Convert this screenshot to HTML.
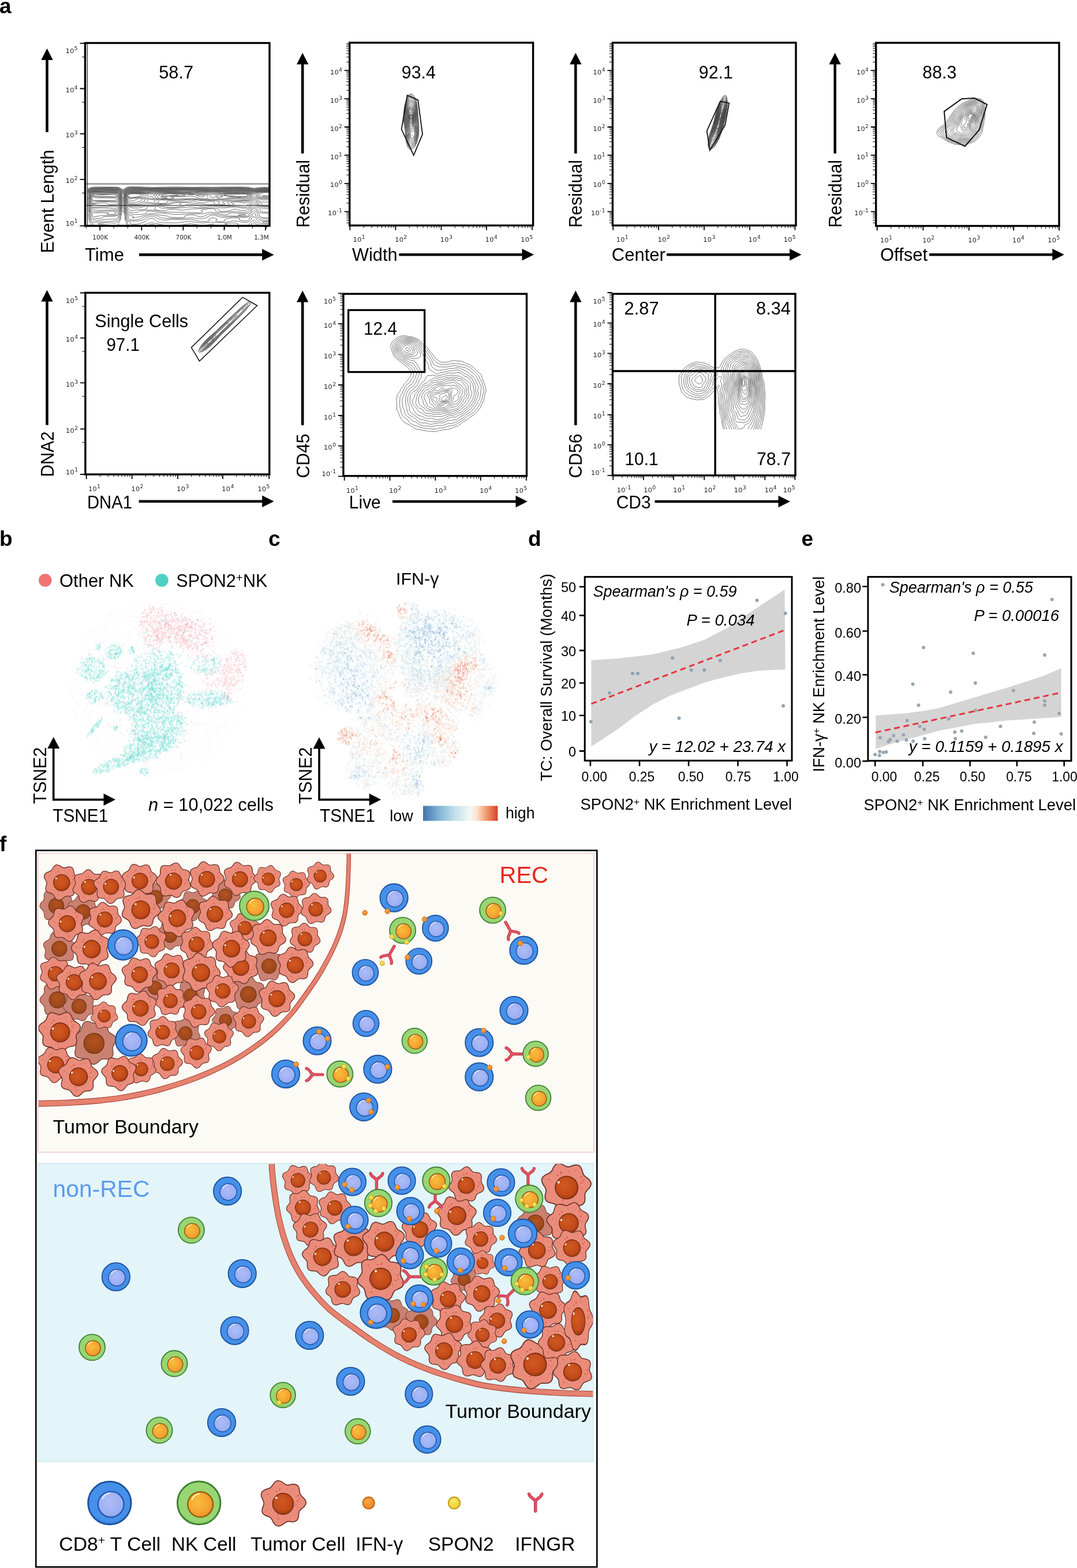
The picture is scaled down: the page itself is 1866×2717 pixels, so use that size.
<!DOCTYPE html>
<html lang="en"><head><meta charset="utf-8"><title>Figure</title>
<style>
html,body{margin:0;padding:0;background:#fff;}
body{width:1866px;height:2717px;overflow:hidden;font-family:"Liberation Sans",sans-serif;}
svg{display:block;}
</style></head><body>
<svg width="1866" height="2717" viewBox="0 0 1866 2717">
<rect width="1866" height="2717" fill="#fff"/>
<g font-family="'Liberation Sans', sans-serif">
<text x="-1" y="22.5" font-size="37" font-weight="bold">a</text>
<path d="M152 327.4L158.8 324.6L165.5 324L203 324.2L207.5 325.3L212.8 329.2L214.2 328.8L217.3 326L219.5 324.7L222.5 324L227 323.7L244.2 323.9L263 324.9L299 324L314 324.1L332.8 324.6L351.5 324.2L368.8 324.5L383 324.1L419 324L428.8 324.4L440 326.2L452 324.8L466.2 324.6M220.2 390.5L218.9 388L218.9 385L217.2 382L216.3 379L216.4 374.5L214.9 368.5L213.5 365.1L212.8 364.7L211.2 367.5L210.7 371.5L209.4 374.5L209.3 379L208 382.5L205.8 385.5L206 388L204.5 390.5M156.2 390.5L157.2 387.5L155.2 384.5L154.2 380.8L152 377.5M444.8 390.5L443.8 387.8L441.5 386.3L440 385.9L438.5 386.1L436.4 387.5L435.2 390.5M269.4 390.5L266.8 389.2L263 388.7L260 389.1L257.1 390.5M152 328.3L157.2 325.9L160.2 325.1L178.2 324.7L198.5 324.6L203.8 325L207 326L212.8 330.2L214.2 329.8L219.6 325.5L222.5 324.7L227 324.3L244.2 324.6L262.2 325.6L301.2 324.8L332 325.3L353.8 325L368 325.4L384.5 324.9L419 324.7L428.8 325.1L440 327.1L451.2 325.6L466.2 325.3M223.7 390.5L221.2 388.5L220.9 385L218.8 382.5L217.9 380.5L217.3 378L217.6 374.5L216.4 371.5L213.9 359.5L213.5 358.5L212.8 358.4L210 368L209.6 371.5L208.2 374.5L208.1 378.5L206.6 382L205.2 383.5L199.2 386.8L192.5 386.1L183.1 386L174.9 386.5L169.7 387.5L170.7 388L184.6 389.5L188.2 390.5M158.4 390.5L159.1 389.5L161.4 388L161.2 387.5L158 385.7L156.7 384L155.9 381L153 374.5L153 370.5L152 369M449.6 390.5L448.5 388.5L445.2 386L442.7 383L441.5 382.2L440 381.9L437.8 382.8L432.6 387L430.7 390.5M283.6 390.5L281.3 389.5L277 388.5L266 386.4L262.2 386L259.2 386.3L255.5 387.1L247.7 390.5M412.8 390.5L412.1 389.5L412.1 387.5L408.5 386.4L399.5 386.3L389.3 387.5L389.3 388L394.3 389.5L395.5 390.5M344.9 390.5L335 388.1L329.8 387.6L321.9 388.5L313.5 390.5M371.1 390.5L369.8 389L369.9 388L368.8 387.9L357.4 390.5M152 329.5L157.2 326.7L161 325.9L182.8 325.3L198.5 325.3L203.8 325.8L207.5 327.3L212.8 331.5L213.5 331.5L220.2 326.2L223.2 325.3L227 325.1L242 325.4L262.2 326.4L306.5 325.6L331.2 326L352.2 325.7L368 326.3L385.2 325.6L419 325.4L428.8 325.9L440 328L451.2 326.3L466.2 326.1M466.2 388L455.8 387.6L452.8 387.2L449.8 386.2L448.3 385L447.3 383L444.5 380L442.9 377L441.5 376L440 375.6L438.5 375.8L436.2 377L435.6 378L435.5 380.5L433.2 382.9L429.5 384.8L425.8 385.5L422 385.3L411.5 383.3L405.5 382.8L401.8 383.1L393.3 385L383.8 385.8L366.5 384.9L353.8 386.1L349.2 386.2L343.2 385.7L332 383.8L327.5 383.6L321.5 384L307.2 386.3L282.4 386L277.3 385.5L273.7 384.5L271 383L267.3 379.5L264.5 378.4L262.2 378L260 378.3L257.8 379.2L255.6 380.5L251.8 384.1L242.8 387.5L236 388.6L227.9 388.5L225.5 387.6L226 385.5L221 382.6L219.5 380.5L218.7 378L219.1 374.5L217.7 371.5L216.2 366L215 358.5L213.5 355.4L212.8 355.2L211.1 358.5L208.7 368.5L208.4 371.5L206.5 374.5L206.5 378L204.5 380.9L203 382.2L199.2 383.1L162.5 385.1L161 384.9L159.3 384L156.3 378.5L154.8 374.5L154.7 370L152.8 364.1L152 363.2M152 330.4L157 327.5L160.2 326.6L182.8 325.9L198.5 326L203.8 326.5L206 327.3L208.8 329L212.8 333L213.5 332.8L216.5 329.6L220.2 327.1L223.2 326.1L227 325.8L244.2 326.1L261.5 326.9L279.5 326.4L307.2 326.2L330.5 326.6L351.5 326.3L368 327.1L386.8 326.2L419 326L429.5 326.6L440 328.7L452 326.9L466.2 326.7M466.2 382.4L455 382.4L449.8 381L447.6 379.5L443.3 374.5L442.5 370L441.5 369.2L440 368.9L438.5 369.4L437.4 370.5L436.9 374L431.6 378L432 380L431.6 381L429.5 382.3L426.5 382.8L422 382.6L416.1 381.5L414 380.5L415.7 378.5L412.2 377.7L406.2 377.3L398.8 377.8L392.2 379L389.2 380.5L389.8 382L389.2 383L386.8 383.8L383 384.2L378.4 384L374 383L373.4 382.5L373.7 382L376.5 380.5L376.6 380L373.2 378.2L369.5 377.4L365.8 378L362 379.5L361.7 380.5L363.2 382L362.8 382.5L359 383.4L354.5 383.8L346.5 383.5L335.8 380.9L329.8 380.1L314.8 380.7L298.2 380.2L282.5 381.4L279.5 380.9L276.5 379.9L266.8 375.4L262.2 374.7L259.2 375.1L256.2 376L248.1 381L244.2 382.3L236 383.1L226.2 383L222.5 381.8L220.4 379L220.1 377.5L220.7 374.5L218.8 371.5L217 365.5L215.9 358.5L213.5 351.9L212.8 351.3L210.3 358L209.5 363L207.5 368.5L207.3 371.5L204.6 374.5L204.5 377.5L203.1 379L200 379.8L185.8 380L176.8 381L170 382.2L165.5 382.4L161 380.9L157.9 378.5L156.1 374.5L156.1 370.5L154.7 367L154.2 364L153.4 362L152 360.6M466.2 386.1L457.2 385.7L454.8 385L454.7 384.5L457.2 383.6L466.2 383.4M152 331.2L153.5 330.6L157.2 328.1L160.2 327.2L181.2 326.6L197.8 326.7L203.8 327.3L208.5 329.5L212.8 334.3L214.2 333.5L217 330L219.5 328.3L223.2 327L227.8 326.5L244.2 326.7L261.5 327.5L279.5 326.9L308 326.8L330.5 327.2L350 327L368 327.8L387.5 326.8L419 326.6L428.8 327.2L440 329.4L452 327.6L466.2 327.4M466.2 379.1L455 379.1L452.8 378.7L450.5 377.8L447.5 375.8L446.3 374.5L446.2 371L445.5 369.5L441.5 365.5L440 364.9L438.5 365.7L434.5 370L434 371L434.2 373L433.2 374.4L430.2 375.9L426.5 376.6L404.8 375.6L385.2 376.6L380.8 375.8L373.2 373.2L368.8 372.7L363.9 373.5L356.8 377.7L350 379L345.5 378.9L332.8 377.5L314.8 378.6L287.8 378.3L279.5 377.5L276.7 376.5L274.6 375L272.3 374L266 372.4L262.2 372.1L259.2 372.5L255.5 373.5L249.4 376L243.7 379L240.5 380.1L233.8 381.1L227 381L224.1 380L222.5 378.3L222.5 377L223.5 375L220.7 372L218.3 366.5L216.9 359L214.2 349.7L213.5 347.7L212.8 347.3L211.3 351L208.5 363L206.1 368.5L206.1 371L204.5 372.7L202.2 373.7L198.5 374.6L181.2 375.5L179 376L176.9 377.5L175.2 378.1L170 378.8L164 379L161.8 378.7L160.5 378L158 375.2L157.7 370.5L155.9 367L155 362.9L153.5 360L152 358.6M152 331.8L153.5 331.3L158 328.4L161.8 327.6L182.8 327.2L199.2 327.4L203.8 327.9L207.5 329.4L209.4 331L212.8 335.6L213.5 335.4L216.7 331L218.8 329.4L223.2 327.7L228.5 327.2L245 327.2L262.2 328L278 327.4L299 327.3L329.8 327.7L348.5 327.5L368.8 328.3L388.2 327.3L419 327.2L428.8 327.7L440 330L452 328.2L466.2 328M466.2 377.4L455.8 377L452.8 376.4L450.4 375.5L449.2 374L449.4 370.5L445 366.5L442.9 362L441.5 361.1L440 360.9L437.7 362L434.5 367.5L431.2 370.5L431.1 373.5L429.5 374.5L425.8 375.2L419.8 375.2L404 374.3L388.2 374.2L382.2 373.3L371 370.6L367.2 370.3L360.3 371.5L353 374.7L349.2 375.6L346.2 375.6L342.5 375L338.3 373L336.4 372.5L330.5 372.3L326 372.6L321.2 373.5L320.1 374L320.5 376L318.5 376.7L314 377.2L306.5 377.2L295.7 376.5L293.1 376L292.4 375L291.3 374.5L278 372.9L268.2 370.3L263 369.8L257 370.9L243.5 375.1L232.2 377.5L229.6 377.5L229.4 377L231.7 376L231.9 375.5L230.3 374.5L225.5 373.2L223.2 372.2L219.3 366.5L214.2 346.3L213.5 344L212.8 343.6L207.8 362.5L206.5 365.5L204.2 368.5L204.4 371L203.3 372L200.8 372.8L197.8 373.1L173.8 373.8L164.8 375.5L162.5 375.5L161 375.1L159.8 374L159.9 370.5L157.1 367L155.6 362L153.2 357.5L153.1 355L152 353.8M152 332.5L158 329.2L161.8 328.2L182.8 327.7L200.8 328.1L204.5 328.7L207.5 330L209 331.5L212.8 337.4L213.5 337.2L217 331.5L218.8 330L222.5 328.6L228.5 327.9L245 327.8L262.2 328.5L278 327.9L299.8 327.8L329.8 328.2L347.8 328L368.8 329L388.2 328L419 327.8L428.8 328.3L440 330.6L452 328.8L466.2 328.5M466.2 369.4L455 369.3L449.8 368L447.6 366.5L446.4 363L445.3 361.5L442.2 358.7L440 358L435.6 361.5L432.7 366.5L431.3 368L428 369.5L423.5 370.3L419.8 370.2L407.8 368.8L402.5 368.7L396.9 369.5L395.9 370L395 371.6L389.8 372L384.5 371.4L371.8 368.4L365.8 367.6L362.8 367.9L355.2 369.9L350.8 370.5L329 370.4L311 371.4L300.5 371.5L296.8 371.1L291.6 370L275 368.9L265.2 366.1L260 365.6L256.2 366L254.6 366.5L254.1 367L254.3 368.5L253.3 369.5L247.2 371.2L239.8 371.9L230 371.3L227 370.7L224.8 369.8L222.5 368.4L220.7 366.5L218.6 359L216.3 353L214.2 342.9L213.5 341.1L212.8 340.7L211.4 344L209.2 354.5L206.6 363L203.8 366.4L198.2 368.5L200.7 370L200.8 370.7L197.8 371.6L188 371.5L185.2 371L185.4 370.5L188.2 369L177.5 368.5L163.2 368.7L160.2 368.1L158.8 366.9L156.7 362L154.7 358.5L154.1 354.5L153.4 353.5L152 352.7M424.2 373.6L416.1 373.5L412.8 373L412.3 372.5L417.5 371.7L422.8 371.6L425.9 372.5L425.9 373ZM152 333.5L158 330L162.5 328.9L182.8 328.4L200.8 328.7L204.9 329.5L207.6 331L210.4 335L211.7 339L208.5 354L205.8 361.5L203.8 364.2L202.2 365.1L200 365.7L167 366.6L162.5 366.3L160.2 364.6L156.1 359L155.4 357.5L155.2 354.5L152.3 351L152 348.2M466.2 367.7L456.5 367.5L451.9 366.5L451.1 365.5L451.3 364L450.8 363L441.8 355.5L440.8 353.5L440 353L438.9 353.5L435.2 359.5L432.3 362L429.5 365.9L427.2 367.4L424.2 368L419 368L405.5 366.5L387.5 368.2L380.8 368L377 367.4L374.1 366.5L373.4 365.5L374.1 363.5L372.7 362.5L369.5 361.7L365.8 361.4L359 362L349.9 363.5L348.4 364.5L351.3 366.5L351.2 367.5L348.5 368.4L344.8 368.7L327.5 368.1L284 367.6L278.8 367.1L265.2 364.3L260.8 363.8L242.6 365.5L241 366L239.1 367.5L236.8 367.9L227.8 368L223.9 367L222.7 366L221.8 364.4L220.2 359.5L217.1 353L214.2 339L215.6 335L218.8 330.8L222.5 329.3L227.8 328.7L245 328.4L262.2 329.2L281 328.5L308.8 328.3L329.8 328.8L347 328.6L369.5 329.7L388.2 328.8L419.8 328.5L429.5 329.1L440 331.4L452 329.4L466.2 329.1M466.2 361.4L455.8 361.2L451.2 360.2L444.8 356L443.2 352L441.5 350.6L440 349.9L438.5 350.3L436.2 352.5L433 359.5L425.8 364.3L422 365.2L417.5 365L409.2 362.6L406.2 362.4L404.8 362.5L400.4 364.5L395.7 365.5L388.2 366.5L383.5 366.5L380.9 366L380.2 365.5L380.2 363.5L378.2 362L372.5 360.4L367.2 359.9L350 361.4L330.5 362.1L315.5 364.2L312.5 364.1L304.2 362.7L296.8 362.5L292.6 363L287 364.9L280.2 365.1L273.5 364.4L268.2 363L267 362L269.5 360L269.7 359L267.3 358L262.2 357.4L258.5 357.6L255.2 358.5L254.1 359.5L254.3 362L251.8 362.8L227 364.7L225.5 364.3L224 363.2L218.6 355L217.7 352.5L214.9 339L216.2 335L219.5 331.1L222.5 329.9L227.8 329.4L245.8 329L262.2 329.9L278 329.1L308.8 328.9L329 329.4L350 329.2L369.5 330.3L386.8 329.5L420.5 329.1L429.5 329.7L437.8 331.8L440 332.1L451.2 329.9L466.2 329.5M152 334.9L157.2 331L159.5 330.1L162.5 329.6L179.8 329.1L197 329.1L202.2 329.4L205.8 330.5L207.5 331.9L209.5 334.5L211 339L207.5 354.5L203.8 362L200.8 363.7L197 364.1L170.8 364.3L166.2 364L163.2 363.3L158.8 360.5L156.6 358L156.2 354.5L153.9 351.5L153.7 348.5L152.2 345.5L152.9 342.5L152 340.9M152 336.7L154.6 333.5L156.5 332L158.8 331L161.8 330.4L189.5 329.7L199.2 329.8L203.9 330.5L206 331.6L208.4 334L210.2 338.5L208.5 347.5L205.9 355.5L201.5 360.8L198.5 361.7L182 360.3L164.8 360.5L161 360L159.5 359.4L158 358.1L157.4 354.5L154.9 351.5L154.7 348.5L153.7 345.5L153.9 341.5L152 339.3M466.2 359.2L455.8 358.7L451.2 357.8L448.2 356.7L446.7 355.5L446 352.5L442.7 348L441.5 347L440 346.7L437.8 347.7L435.9 349.5L433.3 353L430.6 359L428.7 360L425 360.7L419 360.5L409.2 359.1L404.8 358.8L399.5 359L389 360.3L384.5 360.3L378.8 359.5L372.5 357.5L367.2 357L363.5 357.4L357.5 359.1L350 359.8L341.8 359.8L329 358.7L311.8 360.4L281.8 360.9L279.5 360.5L274.2 358L265.2 355.8L262.2 355.5L251.2 357.5L241.2 360.2L236 360.5L230 360.3L227 359.8L224 358.6L221.8 357.2L220.1 355.5L218.5 352.5L215.6 339L216.9 335L219.5 332L222.5 330.6L227 330.1L245.8 329.7L261.5 330.6L280.2 329.7L309.5 329.6L328.2 330.3L347 329.8L368.8 331L385.2 330.3L421.2 329.7L430.2 330.4L439.2 333L451.2 330.4L466.2 330M166.2 359L162.5 359L159.9 358L158.8 354.5L155.8 351.5L154.6 345.5L154.8 342L153 338L154.7 334.5L156.5 332.6L158.8 331.6L162.5 330.9L183.5 330.4L200 330.5L203 331L205.2 332L208.4 335L209.7 339L207.5 348.4L205.2 354.5L203.8 356.2L200.8 357.7L197 358.3L181.2 358.3ZM466.2 357.6L455 357.2L449.8 356L448.6 355L448.4 352.5L446 350L443.8 346.5L442 345L440 344.5L438.5 345.1L434.1 349L430 353.5L427.3 358L426.5 358.5L424.2 358.9L409.2 357.2L391.2 358L385.2 357.9L367.2 355.6L362 355.8L349.2 357.2L338 354.9L327.5 354.1L322.7 354.5L319.3 357L314.8 358L304.2 359.1L292.2 359.2L286.2 358.7L278 357.1L265.2 353.5L260.8 353L257.6 353.5L253.2 355.7L248 356.7L237.5 357.7L227.8 357.7L224.8 357.3L222.8 356.5L219.9 353.5L216.1 339L217.2 335.5L219.5 332.9L222.5 331.3L226.2 330.8L245.8 330.4L261.5 331.4L274.2 330.4L282.5 330.3L310.1 330.5L326.8 331.3L347.8 330.5L368.8 331.6L384.5 330.9L403.2 330.9L422 330.3L430.2 331.1L437.8 333.8L440 334.1L445.7 332L449.8 331.1L455.8 330.6L466.2 330.4M314.3 353.5L310.7 353.5ZM466.2 356.3L456.5 356L452.8 355.2L452 354.5L453 352.5L452.6 352L448.2 349.7L446.2 346.5L443.8 344.1L441.5 342.8L440 342.5L437.8 343.5L431.8 348.8L426.5 351.5L422.8 351.8L417 350.5L411.5 349.9L402.3 350L400.3 350.5L400 351L405.7 353.5L405.3 354.5L401 355.8L394.2 356.5L383 356.4L366.5 354.3L353 354.3L329.8 351.3L311 351L303.5 351.4L292.2 354.4L284 355.2L275 354.3L263 351.3L259.2 351.1L254 352.2L250.4 354.5L246.9 355.5L239 356.1L227.8 356.2L224 355.5L220.9 353L216.7 339L217.6 336L219.5 333.7L222.5 332.1L226.2 331.5L247.2 331.5L260.8 332.4L274.2 331.1L283.2 330.9L306.5 331.5L326 332.7L346.2 331.3L353.8 331.4L368.8 332.3L384.5 331.5L404 331.6L422.8 331L430.2 331.9L437.8 335.1L440 335.6L441.5 335.3L446 332.6L449.8 331.6L455.8 331L466.2 330.8M195.5 356.5L166.2 355.7L160.2 353.8L158 352.7L156.6 351L156.6 349L155.4 345.5L155.7 342L154 338L155.6 334.5L157 333L159.5 331.9L162.5 331.5L189.5 331.2L200.8 331.4L203 331.9L205.2 332.9L207.6 335L209 338.5L206.8 347.9L203.8 354L202.8 355L200 356.2ZM466.2 349.9L455.8 350.2L451.3 349.5L448.7 346.5L441.5 340.3L440 339.7L438.5 340.5L432.9 346.5L429.5 348.3L424.2 349.2L405.5 348.5L396.5 349.3L394.1 350L393.6 351L397.3 353L398.1 354L395.9 355L392 355.5L383 355.5L373.6 354L370.3 352.5L371.8 350L371.4 349.5L369.5 348.9L362.8 349.1L358.5 350L355.6 351.5L352.2 351.7L341.9 350.5L336.9 348.5L334.2 348.2L320.8 349.8L302 349.8L299 350.3L294.4 352L289.2 353.1L283.2 353.7L278 353.5L272.8 352.8L268.9 351.5L267.5 350L268.8 348L268.2 347L265.2 345.9L260.8 345.3L257.8 345.5L256 346L255.4 346.5L256.4 348.5L255.9 349.5L249 352L245.3 354L239.8 354.8L229.2 354.9L224.8 354.3L221.9 352.5L220 348L217.3 339L218.3 336L220.2 333.9L222.5 332.8L226.2 332.3L248 332.6L261.5 333.7L272.8 331.9L283.2 331.5L302.8 332.2L326.8 333.6L347.8 332L355.2 332.1L368.8 333.2L385.2 332.1L405.5 332.3L422.8 331.8L427.2 332.1L431 333L440 337.4L442.2 336.6L445.8 333.5L449 332.2L455 331.4L466.2 331.2M198.5 354.5L194.8 354.7L190.2 354.3L187.3 353.5L184.8 352L180.5 351.3L176.8 351.4L164 353.1L161 352.9L158.8 352.2L157.7 351L157.6 349L156.2 345.5L156.5 342L154.8 338.5L155.3 336.5L157.2 333.5L160.2 332.3L165.5 332L197.8 332L201.5 332.4L204.5 333.3L206.4 334.5L207.5 336L208.4 338.5L208 341L205.2 348.7L202.4 351.5L201.1 353.5ZM466.2 345.8L456.5 346.5L452 345.8L446.5 343L444.9 341.5L443.4 339L443.9 337.5L446.3 334.5L449 332.9L455 331.9L466.2 331.6M389 354.1L383.8 354.2L379.1 353.5L377.9 352.5L378.7 351.5L381 350L380.7 349.5L373.2 347.8L367.2 347.3L353 348.1L339 346.5L332 346.1L323.4 346.5L314.8 347.8L302 347.6L293.8 348.1L289.4 349L290.1 350.5L289.9 351L288.5 351.7L284 352.4L278.8 352.5L275.4 352L273.2 351L273.5 350L275.7 348.5L275.6 348L273.9 347L265.2 344.5L260 343.8L254.8 344.4L250.7 345.5L249.8 346.5L250.8 348L250.6 349L239.8 352.7L234.5 353.4L227.8 353.4L224.8 352.7L223.2 351.4L221 347.5L218.4 341L217.9 338.5L218.8 336.4L220.2 334.7L222.5 333.6L224.8 333.1L246.5 333.4L262.2 335.1L266 334.7L273.5 332.7L281.8 332.2L299.8 332.7L327.5 334.6L333.5 334.3L345.5 333L353 332.9L359.8 333.5L368 335.1L370.3 335L377.7 333.5L384.5 332.9L405.5 333.2L422.8 332.7L427.2 333.1L431 334L434.6 335.5L436.7 337L437.2 339L435.4 342L431.8 345.7L429.5 347L426.5 347.7L422 347.9L403.2 346.9L390 348.5L385.3 349.5L384.6 350L385.7 351L389.8 353L390.2 353.5ZM165.5 351.6L162.5 352L160 351.5L159.4 351L159.2 349L157.3 346L157.4 342L155.5 338L157 335L158.8 333.4L161 332.8L164 332.5L197.8 332.8L203 333.5L206 335.1L207.6 338L207.6 340L205 347L203.8 348.6L202.2 349.5L200 350.1L197 350.3L181.2 349.4L173 349.4L169.2 350ZM466.2 344.1L455.8 344.4L451.2 343.9L447.3 342L445.2 339L445.8 337.5L448 334.5L450.5 333.1L455.8 332.3L466.2 332.1M231.5 351.1L227.8 351.1L224 349.2L222.5 347.5L219.3 341.5L218.5 339L219.4 336.5L221 335L224 333.8L229.2 333.5L247.2 334.1L262.2 336.3L266.8 335.8L275.4 333.5L281.8 332.9L299 333.2L329 335.5L335 335.3L345.9 334L351.5 333.9L356 334.3L362.8 336.1L368 336.8L372.5 336.3L380.8 334.3L386 333.7L406.2 333.9L422 333.6L427.2 333.9L431 334.7L434 336.1L435.7 338L435.3 339.5L432.8 343L429.5 345.5L426.5 346.5L419 346.6L410.7 345L406.2 344.7L401.8 345L389.8 346.9L383.8 347.3L368.8 346.2L353 346.9L338 345.4L331.2 345.1L288.5 346.8L281.8 346.8L275 345.8L267.8 344L264.7 342.5L263.6 340.5L260.8 340.1L258.9 340.5L256.3 342.5L244.5 345.5L244 346.5L244.7 348L243.5 348.9ZM200.8 348.6L197 348.9L176 348.3L164 348.7L161.8 348.5L159.5 347.4L158.4 346L158.4 342L156.2 338.5L156.8 336.5L159.2 334L163.2 333.1L196.2 333.4L202.5 334L204.5 334.8L205.8 336L207 339.5L203.8 346.6L202.2 348ZM466.2 342.9L455.8 343.1L452 342.7L449 341.4L447.2 339L449.8 335L452.3 333.5L457.2 332.9L466.2 332.6M199.2 347.1L192.5 347.4L164.8 347.3L161.8 347L160.6 346.5L159.8 345.5L160.2 342.5L157.2 339L157.2 337.3L159.5 334.9L161 334.3L163.2 333.9L196.2 334.1L201.6 334.5L203.2 335L204.7 336L205.9 338L206.1 339.5L205.2 341.5L201.6 346ZM388.2 345.6L380 345.9L368 344.6L359 345.7L353.8 345.8L338 344.2L331.2 343.9L290.8 345.6L281.8 345.6L275 344.8L270.6 343.5L269.3 342.5L269.1 340.5L266.6 339L266 338L268 337L277.2 334.4L281.8 333.8L288.5 333.6L301.2 334.1L329 336.5L335 336.5L347 335.5L353 335.7L359 336.7L363.8 338L364.7 338.5L364 340L364.7 341L366.5 341.7L368.8 341.9L373.2 341.5L377.4 340.5L377.2 340L373.2 338.5L373.1 338L373.9 337.5L380.8 335.6L387.5 334.7L424.2 334.4L430.2 335.3L432.5 336.2L434 337.5L434 339L431.3 342.5L428.8 343.9L425.8 344.8L422.8 344.9L413 343.4L405.5 343.1L401 343.4ZM232.2 347.6L228.5 347.9L225.5 347.2L221 342.7L219.5 340.1L219.3 338.5L220.3 336.5L222.5 335L224.8 334.4L228.5 334.1L245.8 334.6L253.2 335.7L255.9 336.5L257.4 337.5L256.8 338.5L253.7 340L251 342.2L248 343L238.2 344.5ZM466.2 341.7L453.5 341.6L450.5 340.5L449.4 339L453.2 335L455 334.1L459.5 333.5L466.2 333.4M356 344.5L347.8 344L343.2 343L336.4 340.5L329.8 339.8L317 340.7L298.9 340.5L295.8 341L295.9 341.5L302 343L301.5 343.5L292.2 344.6L281 344.6L276.4 344L273.7 343L273.3 340.5L270.5 338.5L270.7 338L272.5 337L277.7 335.5L282.5 334.7L288.5 334.3L302.8 334.8L329.8 337.7L346.2 336.8L352.2 336.9L357.5 337.7L359.5 338.5L359.8 339L359.3 340.5L360.9 343L360.6 343.5ZM200.8 343.1L166.2 342.9L164 342.4L159.5 340.1L158.2 339L157.9 338L159.5 336.1L161 335.4L163.2 335L176.8 335.4L194 334.8L200 335L203.1 336L204.5 337.4L205.2 339L203.8 341.6ZM230 344.1L227 344.4L224.8 344L222.5 342.8L221 341.3L220.1 339.5L220.2 338L221.3 336.5L223.2 335.4L228.5 334.7L242.8 335L249.5 335.8L252.8 337L253 337.5L252 338.5L246.5 341.8ZM385.2 344.5L379.9 344.5L375.8 343.5L376 343L377.3 342.5L385.6 341L385.9 340.5L380.1 339L378.3 338L379.8 337L385.2 335.9L392.8 335.3L423.5 335L427.2 335.3L430.2 336L432.1 337L432.7 338L432.5 339L430.1 341.5L428.8 342.4L426.5 343L422.8 343.2L409.2 342L401 341.8L397.2 342.2L389.9 344ZM233.8 342.5L227 343L224 342.4L222.4 341.5L220.9 339.5L220.9 338.5L221.8 337.2L224.8 335.7L230.8 335.2L243.5 335.7L246.5 336.1L248.9 337L248.4 338L243.4 341L239.8 341.8ZM284.8 340.6L281.8 340.8L278.8 340.1L275.2 339L275 338L277 337L282.5 335.7L293 335.1L307.1 336L317.7 337.5L321.3 338.5L320.4 339L316.2 339.4L298.2 339.5ZM201.5 341.5L197.8 342L176 341.5L167 340.9L161 339.9L159.4 339L159 338L160.2 336.8L163.2 336.1L179 336.6L198.5 335.9L201.5 336.5L203.9 338.5L203.5 340ZM426.5 341.5L421.2 341.9L395.8 340.2L386 339L383 338L383.2 337.5L384.6 337L391.2 336.2L425 335.7L429.3 336.5L431.2 338L430.2 339.6ZM350.8 341L346.2 340.6L340.3 339L342.5 338.3L348.5 337.9L352.2 338.2L354.8 339L353 340.5ZM466.2 339.6L458 340.2L455 340L453.8 339.5L454.2 338.9L456.5 338.7L466.2 339.5M288.5 343.5L281.6 343.5L279.3 343L278.9 342.5L280.2 341.7L283.2 341.3L290.1 343ZM230 342L225.5 341.9L223.2 341L221.7 339L222 338L223.2 336.9L226.2 336L231.5 335.8L239.8 336L243.7 336.5L244.8 337L244.9 337.5L243.6 338.5L239.7 340.5L236 341.4ZM292.2 339L282.5 339.1L280 338.5L279.9 338L284.8 336.5L293.8 335.8L304.1 336.5L309.1 337.5L309.4 338L305.1 338.5ZM424.2 340.6L416.8 340.6L395 339.1L389.6 338.5L388.2 338L388.6 337.5L392 337L405.5 336.8L419 336.1L425 336.3L428.4 337L429.6 338L429.2 339L427.2 339.9ZM200 340.6L197 340.8L164 339.7L161 339L160.3 338L161.8 337.2L164 337L179 337.7L198.5 337.2L200.8 337.6L202.3 338.5L202.2 339.5Z" fill="none" stroke="#4a4a4a" stroke-width="0.8"/>
<rect x="152.5" y="326.5" width="313.5" height="8" fill="#666" opacity="0.3"/>
<path d="M147.5 318.7H467M147.5 356H467M151.3 74.5V391.3" stroke="#111" stroke-width="1.1" fill="none"/>
<rect x="147.5" y="74.5" width="319.5" height="316.8" fill="none" stroke="#000" stroke-width="3.4"/>
<path d="M138.5 75.2H146.5M138.5 153.5H146.5M138.5 231.8H146.5M138.5 310.8H146.5M138.5 391.3H146.5" stroke="#000" stroke-width="1.8" fill="none"/>
<path d="M142 98.8H146.5M142 177.1H146.5M142 255.4H146.5M142 334.4H146.5" stroke="#000" stroke-width="1" fill="none"/>
<text x="135" y="92.2" font-size="11.2" font-family="'DejaVu Sans', 'Liberation Sans', sans-serif" fill="#222" text-anchor="end" letter-spacing="0.4">10<tspan dy="-5" font-size="9.2">5</tspan></text>
<text x="135" y="160.1" font-size="11.2" font-family="'DejaVu Sans', 'Liberation Sans', sans-serif" fill="#222" text-anchor="end" letter-spacing="0.4">10<tspan dy="-5" font-size="9.2">4</tspan></text>
<text x="135" y="238.4" font-size="11.2" font-family="'DejaVu Sans', 'Liberation Sans', sans-serif" fill="#222" text-anchor="end" letter-spacing="0.4">10<tspan dy="-5" font-size="9.2">3</tspan></text>
<text x="135" y="317.4" font-size="11.2" font-family="'DejaVu Sans', 'Liberation Sans', sans-serif" fill="#222" text-anchor="end" letter-spacing="0.4">10<tspan dy="-5" font-size="9.2">2</tspan></text>
<text x="135" y="390.8" font-size="11.2" font-family="'DejaVu Sans', 'Liberation Sans', sans-serif" fill="#222" text-anchor="end" letter-spacing="0.4">10<tspan dy="-5" font-size="9.2">1</tspan></text>
<path d="M173.2 391.3V399.3M245.3 391.3V399.3M317.4 391.3V399.3M388.5 391.3V399.3M460 391.3V399.3" stroke="#000" stroke-width="1.8" fill="none"/>
<path d="M149.2 391.3V395.8M173.2 391.3V395.8M197.2 391.3V395.8M221.3 391.3V395.8M245.3 391.3V395.8M269.3 391.3V395.8M293.4 391.3V395.8M317.4 391.3V395.8M341.4 391.3V395.8M365.5 391.3V395.8M389.5 391.3V395.8M413.5 391.3V395.8M437.6 391.3V395.8M461.6 391.3V395.8" stroke="#000" stroke-width="1" fill="none"/>
<text x="173.7" y="415" font-size="10.4" font-family="'DejaVu Sans', 'Liberation Sans', sans-serif" fill="#222" text-anchor="middle">100K</text>
<text x="245.8" y="415" font-size="10.4" font-family="'DejaVu Sans', 'Liberation Sans', sans-serif" fill="#222" text-anchor="middle">400K</text>
<text x="317.9" y="415" font-size="10.4" font-family="'DejaVu Sans', 'Liberation Sans', sans-serif" fill="#222" text-anchor="middle">700K</text>
<text x="389" y="415" font-size="10.4" font-family="'DejaVu Sans', 'Liberation Sans', sans-serif" fill="#222" text-anchor="middle">1,0M</text>
<text x="453" y="415" font-size="10.4" font-family="'DejaVu Sans', 'Liberation Sans', sans-serif" fill="#222" text-anchor="middle">1,3M</text>
<path d="M81.5 229V103" stroke="#000" stroke-width="4.6" fill="none"/>
<path d="M81.5 84L71.3 104L91.7 104Z"/>
<text x="92.7" y="438.5" font-size="31" transform="rotate(-90 92.7 438.5)" textLength="179" lengthAdjust="spacingAndGlyphs">Event Length</text>
<text x="147" y="451.8" font-size="31" textLength="68" lengthAdjust="spacingAndGlyphs">Time</text>
<path d="M241 441.4H455.1" stroke="#000" stroke-width="4.6" fill="none"/>
<path d="M474.6 441.4L454.1 431.2L454.1 451.6Z"/>
<text x="275.2" y="136.3" font-size="31" textLength="60" lengthAdjust="spacingAndGlyphs">58.7</text>
<path d="M713 259.1L711.5 259.4L710 259L707.6 256.5L705.8 253L703.7 245.5L701.8 225L699.6 211.5L699.2 200L700.2 187.5L702.5 177L705.8 168.5L707.1 166L709.5 163.7L712.5 162.7L714 163L715.3 164L719.4 169.5L720.6 172L721.8 176.5L723.7 190.5L725.9 221L725.6 232.5L722.4 247L718.9 254L715.5 257.4ZM712 257L710 256.8L707.8 254.5L704.3 244.5L702.6 225L700.2 211.5L699.9 199.5L700.9 187.5L703.2 177.5L707.6 167.5L709.5 165.4L712 164.6L713.5 164.9L714.5 165.6L718.5 170.5L719.9 173L721.5 178.5L723.2 191.5L723.5 201L724.5 209.5L725.1 221.5L724.8 233L721.3 247L719.6 250.5L718 252.8L714.5 255.8ZM712.5 254.7L710.5 254.7L709 253.5L705.2 244L703.6 225.5L700.9 211.5L700.6 201.5L701.4 188.5L703.7 178.5L708.2 169L709.5 167.5L711.5 166.6L713 166.9L714 167.6L718 172.2L719.5 175.1L720.9 179.5L722.6 192L722.7 201.5L723.7 209L724.2 221L724.1 233L720.7 246L719.2 249L717.5 251.3L715 253.3ZM713.5 252L711.5 252.4L710 251.4L706.2 243.5L704.5 225.5L701.7 212L701.4 204L701.4 197L702 189L704.3 179.5L705.3 177L709 170.6L710 169.5L711.5 168.9L713.5 169.8L717.5 174.1L719.2 177L720.3 180.5L722.1 192.5L722 201.9L722.9 209L722.8 215L723.4 221L723.3 233L720 245L719 247.2L717.5 249.3ZM714 249.5L712.5 249.5L711 248.5L708.3 245L707.2 242.5L705.7 226L702.7 213.5L702.2 209.5L702.1 197L703.1 186.5L706.4 177L709.5 172.7L710.5 171.9L711.5 171.7L713 172.4L717 175.8L718.7 178.5L719.7 181.5L721.4 192.5L721.3 202.5L722 209L721.8 215L722.5 221L722.3 226.5L722.7 231.5L722.1 235L718.4 246L716.5 248.3ZM715 247.1L713.5 247.1L712 246.2L709.4 243.5L708.1 241L706.8 226L704.9 220L703 210L702.8 198.5L703.6 187.5L707 178L709 175.4L711 174.2L712.5 174.5L715.5 176.4L718 179.3L719.1 182.5L720.9 193.5L720.6 202.5L721.2 209.5L720.8 214.5L721.5 220.5L721.8 232.5L721.1 235.5L717.7 244.5L716.5 246.2ZM715 244.7L713.5 244.6L712 243.6L710 241.5L709.1 239.5L708.1 226.5L705.9 220.5L703.7 210L703.5 201.5L704.1 188.5L708 178.7L709.5 177L711 176.3L712.5 176.5L714.5 177.5L716 178.7L717.4 180.5L718.1 182.5L720.3 193.5L720 203L720.4 209.5L719.8 214.5L720.6 221L720.9 232.5L720.1 235.5L717.5 241.5L716.4 243.5ZM715 241.8L713.5 241.9L712 241L710.7 239.5L710 238L709.8 228L709.1 225.5L706.8 220.5L704.7 212.5L704.4 209.5L704.2 202.5L704.8 189L705.6 186.5L709.2 180L710.1 179L711.5 178.5L714.5 179.5L716.5 181.7L717.9 187.5L719.3 191.5L719.6 194L719.3 203L719.5 209L718.8 215L719.7 222L719.8 232.5L718 237.7L716.5 240.3ZM714.5 239.1L712.5 238.6L711.4 237L711.2 234.5L712 229.5L707.5 220L705.5 212.5L705.1 208.5L705.1 192.5L705.5 189L707.5 185.4L710.5 181.9L712 181.2L714 181.6L715.3 183L716.7 187.5L718.5 191.7L719 194.5L718.7 209L717.8 215.5L718.6 223L718.3 233L716.8 237L715.5 238.5ZM716 227.6L715 227.9L713.5 227.2L709.2 221.5L706.5 213L706 210L705.7 204L706.1 190L706.8 188L708 186.4L710.5 184.3L712 183.6L713.5 184L714.3 185L717.7 192L718.3 194.5L718 208.5L716.7 216L717.3 224.5L716.8 226.5ZM714.5 235L714.5 234.4ZM714.5 224L712.5 223.3L709.9 220.5L707.3 213L706.7 209.5L706.7 190.5L708.3 187.5L710 186.2L711.5 185.6L713 186.1L714 187.3L717 192.5L717.6 195L717.3 208.5L715.6 216L715.3 222.5ZM713 220.2L711.5 220L710 217.7L707.9 212L707.3 207.5L707.4 191L708.7 188.5L711 187.2L712.5 187.5L714 189.4L716.4 193.5L716.9 196.5L716.5 209L713.7 219ZM712 216.8L710.5 215.7L708.9 212.5L708.3 210L707.9 205L708.1 191.5L709.1 189.5L711 188.5L712.8 189.5L715.2 193.5L716 196L716.3 200L716.1 206.5L715.5 210L713.5 215.1ZM712.5 214.1L711 214L709.6 212L708.6 205L708.6 201L709.1 196L709 192.3L709.8 190.5L711 190L712.5 191.1L714 194L715.1 197L715.7 200.5L715.6 205L715 208.9L714 211.9ZM712.5 212.1L711.5 212.3L710.3 211L709.2 204.5L709.3 200L710.7 195.5L711 193L714.2 197.5L715.1 201L714.5 207.8L713.5 210.7ZM712 210.2L711.4 210L710.7 208.5L709.8 202.5L710.4 199L711 198.1L712 197.6L713 197.9L714 199.1L714.6 202.5L713.8 207.5L713 209.3ZM712.5 207.6L712 207.7L711.3 207L710.3 203L710.6 200.5L711.1 199.5L712 198.9L713 199.2L713.5 199.9L714 202L713.6 205.5ZM712.5 205.6L712 205.6L711.5 205.1L710.9 203L711.1 201L712 200L713 200.5L713.5 202L713.3 204Z" fill="none" stroke="#3a3a3a" stroke-width="0.8"/>
<rect x="605.7" y="74" width="317.9" height="316.7" fill="none" stroke="#000" stroke-width="3.4"/>
<path d="M596.7 122.2H604.7M596.7 171.1H604.7M596.7 220H604.7M596.7 268.9H604.7M596.7 317.8H604.7M596.7 366.7H604.7" stroke="#000" stroke-width="1.8" fill="none"/>
<path d="M600.2 107.5H604.7M600.2 98.9H604.7M600.2 92.8H604.7M600.2 88H604.7M600.2 84.1H604.7M600.2 80.9H604.7M600.2 78H604.7M600.2 75.5H604.7M600.2 156.4H604.7M600.2 147.8H604.7M600.2 141.7H604.7M600.2 136.9H604.7M600.2 133H604.7M600.2 129.8H604.7M600.2 126.9H604.7M600.2 124.4H604.7M600.2 205.3H604.7M600.2 196.7H604.7M600.2 190.6H604.7M600.2 185.8H604.7M600.2 181.9H604.7M600.2 178.7H604.7M600.2 175.8H604.7M600.2 173.3H604.7M600.2 254.2H604.7M600.2 245.6H604.7M600.2 239.5H604.7M600.2 234.7H604.7M600.2 230.8H604.7M600.2 227.6H604.7M600.2 224.7H604.7M600.2 222.2H604.7M600.2 303.1H604.7M600.2 294.5H604.7M600.2 288.4H604.7M600.2 283.6H604.7M600.2 279.7H604.7M600.2 276.5H604.7M600.2 273.6H604.7M600.2 271.1H604.7M600.2 352H604.7M600.2 343.4H604.7M600.2 337.3H604.7M600.2 332.5H604.7M600.2 328.6H604.7M600.2 325.4H604.7M600.2 322.5H604.7M600.2 320H604.7M600.2 386.2H604.7M600.2 381.4H604.7M600.2 377.5H604.7M600.2 374.3H604.7M600.2 371.4H604.7M600.2 368.9H604.7" stroke="#000" stroke-width="1" fill="none"/>
<text x="593.2" y="128.8" font-size="11.2" font-family="'DejaVu Sans', 'Liberation Sans', sans-serif" fill="#222" text-anchor="end" letter-spacing="0.4">10<tspan dy="-5" font-size="9.2">4</tspan></text>
<text x="593.2" y="177.7" font-size="11.2" font-family="'DejaVu Sans', 'Liberation Sans', sans-serif" fill="#222" text-anchor="end" letter-spacing="0.4">10<tspan dy="-5" font-size="9.2">3</tspan></text>
<text x="593.2" y="226.6" font-size="11.2" font-family="'DejaVu Sans', 'Liberation Sans', sans-serif" fill="#222" text-anchor="end" letter-spacing="0.4">10<tspan dy="-5" font-size="9.2">2</tspan></text>
<text x="593.2" y="275.5" font-size="11.2" font-family="'DejaVu Sans', 'Liberation Sans', sans-serif" fill="#222" text-anchor="end" letter-spacing="0.4">10<tspan dy="-5" font-size="9.2">1</tspan></text>
<text x="593.2" y="324.4" font-size="11.2" font-family="'DejaVu Sans', 'Liberation Sans', sans-serif" fill="#222" text-anchor="end" letter-spacing="0.4">10<tspan dy="-5" font-size="9.2">0</tspan></text>
<text x="593.2" y="373.3" font-size="11.2" font-family="'DejaVu Sans', 'Liberation Sans', sans-serif" fill="#222" text-anchor="end" letter-spacing="0.4">10<tspan dy="-5" font-size="9.2">-1</tspan></text>
<path d="M606.3 390.7V398.7M685.4 390.7V398.7M764.5 390.7V398.7M843 390.7V398.7M922 390.7V398.7" stroke="#000" stroke-width="1.8" fill="none"/>
<path d="M630.1 390.7V395.2M644 390.7V395.2M653.9 390.7V395.2M661.6 390.7V395.2M667.9 390.7V395.2M673.1 390.7V395.2M677.7 390.7V395.2M681.8 390.7V395.2M709.2 390.7V395.2M723.1 390.7V395.2M733 390.7V395.2M740.7 390.7V395.2M747 390.7V395.2M752.2 390.7V395.2M756.8 390.7V395.2M760.9 390.7V395.2M788.3 390.7V395.2M802.2 390.7V395.2M812.1 390.7V395.2M819.8 390.7V395.2M826.1 390.7V395.2M831.3 390.7V395.2M835.9 390.7V395.2M840 390.7V395.2M866.8 390.7V395.2M880.7 390.7V395.2M890.6 390.7V395.2M898.3 390.7V395.2M904.6 390.7V395.2M909.8 390.7V395.2M914.4 390.7V395.2M918.5 390.7V395.2" stroke="#000" stroke-width="1" fill="none"/>
<text x="622.3" y="419.4" font-size="11.2" font-family="'DejaVu Sans', 'Liberation Sans', sans-serif" fill="#222" text-anchor="middle" letter-spacing="0.4">10<tspan dy="-5" font-size="9.2">1</tspan></text>
<text x="694.9" y="419.4" font-size="11.2" font-family="'DejaVu Sans', 'Liberation Sans', sans-serif" fill="#222" text-anchor="middle" letter-spacing="0.4">10<tspan dy="-5" font-size="9.2">2</tspan></text>
<text x="773.5" y="419.4" font-size="11.2" font-family="'DejaVu Sans', 'Liberation Sans', sans-serif" fill="#222" text-anchor="middle" letter-spacing="0.4">10<tspan dy="-5" font-size="9.2">3</tspan></text>
<text x="851.5" y="419.4" font-size="11.2" font-family="'DejaVu Sans', 'Liberation Sans', sans-serif" fill="#222" text-anchor="middle" letter-spacing="0.4">10<tspan dy="-5" font-size="9.2">4</tspan></text>
<text x="913" y="419.4" font-size="11.2" font-family="'DejaVu Sans', 'Liberation Sans', sans-serif" fill="#222" text-anchor="middle" letter-spacing="0.4">10<tspan dy="-5" font-size="9.2">5</tspan></text>
<path d="M524.2 266V110.6" stroke="#000" stroke-width="4.6" fill="none"/>
<path d="M524.2 91.6L514 111.6L534.4 111.6Z"/>
<text x="535.6" y="394.6" font-size="31" transform="rotate(-90 535.6 394.6)" textLength="117.5" lengthAdjust="spacingAndGlyphs">Residual</text>
<text x="610" y="452" font-size="31" textLength="78.5" lengthAdjust="spacingAndGlyphs">Width</text>
<path d="M691.4 441.2H905.5" stroke="#000" stroke-width="4.6" fill="none"/>
<path d="M925 441.2L904.5 431L904.5 451.4Z"/>
<text x="695.8" y="136.2" font-size="31" textLength="59" lengthAdjust="spacingAndGlyphs">93.4</text>
<path d="M705.6 165.2L724.2 173.3L732 232.6L716.7 269L695.6 223.8Z" fill="none" stroke="#111" stroke-width="1.8" stroke-linejoin="miter"/>
<path d="M1233 258.1L1231 258.4L1229 257.7L1227.7 256L1227 254L1226.7 249.5L1228.3 237L1230.3 230L1236 213.9L1239.7 199L1245.3 181L1247.2 177L1252.5 167.8L1254.5 165.7L1256.5 165.1L1258 166L1259.4 169L1260.4 177.5L1260.4 182L1257.3 201.5L1253.7 217.5L1251.3 226L1246.1 240L1238.8 253L1236 256.1ZM1233 256.7L1231 256.9L1229.5 256.2L1228.5 254.9L1227.7 252.5L1227.6 248.5L1228.4 240L1229.2 236L1236.5 214L1240.2 199L1245.6 181.5L1247.8 177L1253 168.7L1255 167L1256.5 166.9L1257.8 168L1258.7 170.5L1259.8 178.5L1259.8 183L1256.9 201.5L1252.8 219L1247.8 234.5L1245.2 240.5L1238.2 252.5L1235.5 255.3ZM1233.5 255.1L1232 255.4L1230.5 255L1229.2 253.5L1228.6 251.5L1228.4 249L1228.9 241L1229.7 236.5L1236.8 215L1240.2 200.5L1245.8 182.5L1248.2 177.5L1252.5 171.2L1254.5 169.1L1256 168.8L1257 169.5L1258 172L1259.2 178.5L1259.3 183L1256.4 201.5L1252.4 218.5L1250.3 225.5L1245.1 239.5L1238 251.4L1236 253.5ZM1233.5 253.6L1232 253.7L1231 253.3L1230 252.2L1229.4 250.5L1229.7 240.5L1230.3 236.5L1237.2 215.5L1240.8 200L1246.3 182.5L1248.3 178.5L1251.5 173.9L1254 171.4L1255.5 171.1L1256.8 172.5L1258.1 176.5L1258.7 180L1258.7 183.5L1256.1 200.5L1251.8 218.5L1249.8 225.5L1244.7 239L1237.5 250.5L1235.5 252.5ZM1233 252L1231.4 251.5L1230.4 249L1230.4 240L1231.2 236L1237.6 216L1241.3 200L1246.7 183L1248.4 179.5L1251 175.8L1253 173.8L1255 173.2L1256.3 174.5L1257.5 177.3L1258.1 180.5L1258.2 184L1255.4 202L1250.3 222L1245.8 235L1243.8 239.5L1237 249.5L1235 251.3ZM1234 250L1232.5 249.8L1231.6 248L1231.2 240.5L1231.7 236.5L1235.2 224.5L1238.1 216L1241.9 199.5L1247.1 183.5L1248.8 180L1251 177L1253 175.2L1254.5 174.9L1256 176.2L1257 178.5L1257.6 181.5L1257.6 184.5L1255.2 200.5L1250.8 218.5L1248.8 225L1243.6 238.5L1237 247.6L1235.5 249.2ZM1235 247.3L1234 247.4L1233 246.3L1232.1 242L1232.1 238.5L1235.3 226L1238.7 216L1242.2 200L1248.4 182L1251.5 177.7L1253 176.6L1254 176.5L1255.5 177.5L1256.4 179.5L1256.9 182L1256.9 185L1254.7 200.5L1250.6 217L1248.3 225L1243.3 237.5L1240.5 241.7L1236.5 246.1ZM1236 244.2L1234.5 244.2L1233.6 243L1233 240.5L1233 238L1235.8 226.5L1239.2 216L1240.4 209L1242.7 200L1248.9 182.5L1251.5 179L1253 178.1L1254 178.1L1255 178.9L1256 181L1256.4 183.5L1256.2 186L1254.3 200.5L1250.3 216.5L1247.9 224.5L1242.8 237L1240 241ZM1236 242L1235 241.7L1234.5 241L1234 239.5L1234.1 237.5L1236.3 226.5L1239.7 216.5L1240.9 209L1243.1 200L1249.2 183.5L1251.5 180.4L1253.5 179.7L1254.9 181L1255.5 183L1255.1 191.5L1253.7 201L1249.7 216.5L1247.4 224.5L1242.5 236L1239.5 240.1L1237.5 241.6ZM1238 239.6L1236.5 239.8L1235.4 238.5L1236.2 230L1237.3 225L1240.1 217L1241.4 209L1243.3 201L1249.5 184.6L1251 182.3L1252 181.6L1253 181.4L1254 182L1254.5 182.8L1254.9 186L1254.2 195.5L1252.8 203L1246.8 224.5L1242 235.2L1240 238ZM1238.5 237.2L1237.5 237.1L1236.9 236L1237 229L1238.1 224.5L1240.7 217L1241.8 209L1243.8 201L1245.1 197L1250 185.5L1251 184L1252.5 183.2L1253.5 183.9L1253.9 185L1254.1 189L1253.6 196.5L1252.3 203L1246.3 224.5L1242 233.5L1240 236.1ZM1240 234L1239 234.3L1238 233L1237.8 228.5L1238.7 224.5L1241.2 217.5L1242.8 206.5L1245.8 196.5L1250 187.5L1251 186L1252 185.5L1253 186.5L1253.5 191L1253.1 197L1252.1 202L1246 223.7L1242 231.9ZM1240 232L1239.5 231.9L1238.8 231L1238.6 227.5L1239.4 224L1241.8 217.5L1242.9 208.5L1244.8 200.5L1248.5 191.9L1250.5 188.8L1251.5 188.1L1252.5 189.4L1252.8 192.5L1252.5 197.5L1251.5 202.5L1245.5 223.5L1242 230.2L1241 231.5ZM1241 229.7L1240 229.8L1239.5 229L1239.5 226.5L1240.2 223.5L1242.4 218L1243.3 208.5L1245.2 201L1246.3 197.5L1248.5 193.1L1250 191L1251 190.4L1251.5 190.6L1252 191.5L1252.2 194L1252 197.5L1251.3 201.5L1245 223.2L1243 227ZM1241.5 227.3L1241 227.5L1240.6 227L1240.5 225.5L1241.2 223L1243.2 218.5L1243.8 209L1245.8 200.5L1248.5 194.3L1249.5 192.9L1250.5 192.2L1251.3 193L1251.6 194.5L1251 200.6L1247 214.5L1245.1 219L1244.4 223L1243 225.6ZM1245 216.2L1244.5 216L1244.2 214L1244.6 207.5L1247 198.3L1249 194.8L1250.2 194L1250.7 194.5L1251.1 196L1250.5 200.5L1246.5 214ZM1242.5 224.3L1242 224L1242.4 222.5L1243 221.7L1243.5 221.8L1243.4 223ZM1246 212.5L1245.5 212.9L1245.1 212L1244.9 209L1246.6 201L1248 197.4L1249 196L1250 195.7L1250.5 197.5L1250.1 200.5ZM1246 209.1L1247.3 200L1248.5 197.7L1249.5 197.1L1249.9 198.5L1249.5 200.7L1247.2 205.5L1246.5 208.6Z" fill="none" stroke="#3a3a3a" stroke-width="0.8"/>
<rect x="1061.4" y="74" width="317.6" height="316.7" fill="none" stroke="#000" stroke-width="3.4"/>
<path d="M1052.4 122.2H1060.4M1052.4 171.1H1060.4M1052.4 220H1060.4M1052.4 268.9H1060.4M1052.4 317.8H1060.4M1052.4 366.7H1060.4" stroke="#000" stroke-width="1.8" fill="none"/>
<path d="M1055.9 107.5H1060.4M1055.9 98.9H1060.4M1055.9 92.8H1060.4M1055.9 88H1060.4M1055.9 84.1H1060.4M1055.9 80.9H1060.4M1055.9 78H1060.4M1055.9 75.5H1060.4M1055.9 156.4H1060.4M1055.9 147.8H1060.4M1055.9 141.7H1060.4M1055.9 136.9H1060.4M1055.9 133H1060.4M1055.9 129.8H1060.4M1055.9 126.9H1060.4M1055.9 124.4H1060.4M1055.9 205.3H1060.4M1055.9 196.7H1060.4M1055.9 190.6H1060.4M1055.9 185.8H1060.4M1055.9 181.9H1060.4M1055.9 178.7H1060.4M1055.9 175.8H1060.4M1055.9 173.3H1060.4M1055.9 254.2H1060.4M1055.9 245.6H1060.4M1055.9 239.5H1060.4M1055.9 234.7H1060.4M1055.9 230.8H1060.4M1055.9 227.6H1060.4M1055.9 224.7H1060.4M1055.9 222.2H1060.4M1055.9 303.1H1060.4M1055.9 294.5H1060.4M1055.9 288.4H1060.4M1055.9 283.6H1060.4M1055.9 279.7H1060.4M1055.9 276.5H1060.4M1055.9 273.6H1060.4M1055.9 271.1H1060.4M1055.9 352H1060.4M1055.9 343.4H1060.4M1055.9 337.3H1060.4M1055.9 332.5H1060.4M1055.9 328.6H1060.4M1055.9 325.4H1060.4M1055.9 322.5H1060.4M1055.9 320H1060.4M1055.9 386.2H1060.4M1055.9 381.4H1060.4M1055.9 377.5H1060.4M1055.9 374.3H1060.4M1055.9 371.4H1060.4M1055.9 368.9H1060.4" stroke="#000" stroke-width="1" fill="none"/>
<text x="1048.9" y="128.8" font-size="11.2" font-family="'DejaVu Sans', 'Liberation Sans', sans-serif" fill="#222" text-anchor="end" letter-spacing="0.4">10<tspan dy="-5" font-size="9.2">4</tspan></text>
<text x="1048.9" y="177.7" font-size="11.2" font-family="'DejaVu Sans', 'Liberation Sans', sans-serif" fill="#222" text-anchor="end" letter-spacing="0.4">10<tspan dy="-5" font-size="9.2">3</tspan></text>
<text x="1048.9" y="226.6" font-size="11.2" font-family="'DejaVu Sans', 'Liberation Sans', sans-serif" fill="#222" text-anchor="end" letter-spacing="0.4">10<tspan dy="-5" font-size="9.2">2</tspan></text>
<text x="1048.9" y="275.5" font-size="11.2" font-family="'DejaVu Sans', 'Liberation Sans', sans-serif" fill="#222" text-anchor="end" letter-spacing="0.4">10<tspan dy="-5" font-size="9.2">1</tspan></text>
<text x="1048.9" y="324.4" font-size="11.2" font-family="'DejaVu Sans', 'Liberation Sans', sans-serif" fill="#222" text-anchor="end" letter-spacing="0.4">10<tspan dy="-5" font-size="9.2">0</tspan></text>
<text x="1048.9" y="373.3" font-size="11.2" font-family="'DejaVu Sans', 'Liberation Sans', sans-serif" fill="#222" text-anchor="end" letter-spacing="0.4">10<tspan dy="-5" font-size="9.2">-1</tspan></text>
<path d="M1062.3 390.7V398.7M1141 390.7V398.7M1220 390.7V398.7M1299 390.7V398.7M1377.4 390.7V398.7" stroke="#000" stroke-width="1.8" fill="none"/>
<path d="M1086 390.7V395.2M1099.8 390.7V395.2M1109.7 390.7V395.2M1117.3 390.7V395.2M1123.5 390.7V395.2M1128.8 390.7V395.2M1133.4 390.7V395.2M1137.4 390.7V395.2M1164.7 390.7V395.2M1178.5 390.7V395.2M1188.4 390.7V395.2M1196 390.7V395.2M1202.2 390.7V395.2M1207.5 390.7V395.2M1212.1 390.7V395.2M1216.1 390.7V395.2M1243.7 390.7V395.2M1257.5 390.7V395.2M1267.4 390.7V395.2M1275 390.7V395.2M1281.2 390.7V395.2M1286.5 390.7V395.2M1291.1 390.7V395.2M1295.1 390.7V395.2M1322.7 390.7V395.2M1336.5 390.7V395.2M1346.4 390.7V395.2M1354 390.7V395.2M1360.2 390.7V395.2M1365.5 390.7V395.2M1370.1 390.7V395.2M1374.1 390.7V395.2" stroke="#000" stroke-width="1" fill="none"/>
<text x="1078.3" y="419.4" font-size="11.2" font-family="'DejaVu Sans', 'Liberation Sans', sans-serif" fill="#222" text-anchor="middle" letter-spacing="0.4">10<tspan dy="-5" font-size="9.2">1</tspan></text>
<text x="1150.5" y="419.4" font-size="11.2" font-family="'DejaVu Sans', 'Liberation Sans', sans-serif" fill="#222" text-anchor="middle" letter-spacing="0.4">10<tspan dy="-5" font-size="9.2">2</tspan></text>
<text x="1229" y="419.4" font-size="11.2" font-family="'DejaVu Sans', 'Liberation Sans', sans-serif" fill="#222" text-anchor="middle" letter-spacing="0.4">10<tspan dy="-5" font-size="9.2">3</tspan></text>
<text x="1307.5" y="419.4" font-size="11.2" font-family="'DejaVu Sans', 'Liberation Sans', sans-serif" fill="#222" text-anchor="middle" letter-spacing="0.4">10<tspan dy="-5" font-size="9.2">4</tspan></text>
<text x="1368.4" y="419.4" font-size="11.2" font-family="'DejaVu Sans', 'Liberation Sans', sans-serif" fill="#222" text-anchor="middle" letter-spacing="0.4">10<tspan dy="-5" font-size="9.2">5</tspan></text>
<path d="M997.3 266V110.6" stroke="#000" stroke-width="4.6" fill="none"/>
<path d="M997.3 91.6L987.1 111.6L1007.5 111.6Z"/>
<text x="1008" y="394.6" font-size="31" transform="rotate(-90 1008 394.6)" textLength="117.5" lengthAdjust="spacingAndGlyphs">Residual</text>
<text x="1059.8" y="452" font-size="31" textLength="93" lengthAdjust="spacingAndGlyphs">Center</text>
<path d="M1155 441.2H1369.1" stroke="#000" stroke-width="4.6" fill="none"/>
<path d="M1388.6 441.2L1368.1 431L1368.1 451.4Z"/>
<text x="1210.8" y="136.2" font-size="31" textLength="59" lengthAdjust="spacingAndGlyphs">92.1</text>
<path d="M1247.8 175.7L1263.2 178.7L1256.2 216.9L1229.8 260.5L1224.7 226.8Z" fill="none" stroke="#111" stroke-width="1.8" stroke-linejoin="miter"/>
<path d="M1671.5 250.5L1656.5 250.4L1652 249.3L1642 245.3L1633.5 239.8L1628 236.9L1625.4 235L1623.8 233L1623.1 231.5L1623 229.5L1623.5 227.5L1624.6 225L1626.5 222.5L1634.5 216.5L1643 207L1646.5 200.5L1656 187.8L1658.5 185.3L1666 179.8L1676.5 174.7L1687 170.8L1693 170.3L1699.5 171.7L1701.5 172.8L1703 174.2L1705.2 179L1706.2 185L1706.2 191L1706.8 197.5L1706.6 203L1704.9 209.5L1704.4 215L1703.1 220L1702.3 226L1701.6 229L1700.2 232L1696.1 238L1689 244.5L1686 246.2L1677 249.7ZM1671 248.5L1668 248.7L1663.5 248.2L1658.5 248.6L1655 248.2L1651.5 247.3L1642 243.7L1639 241.8L1634 237.8L1629.2 235L1627.5 233.5L1626 230.5L1625.9 228.5L1626.3 226.5L1628.5 223.3L1634.9 218.5L1640 213.5L1645.7 206.5L1648.3 201L1652 195.8L1658.6 188L1667 181.3L1676.5 176.6L1683.5 173.6L1687.5 172.4L1692.5 172L1698.5 173.3L1700.5 174.3L1701.7 175.5L1703.7 180L1704.8 186L1705.2 198.5L1705 203L1703 209.5L1702.5 215.5L1700 226.9L1698.5 230L1694.1 237L1688.5 242.6L1685.5 244.4L1677.5 247.7ZM1671.5 246.5L1668 246.7L1655.5 246.3L1652 245.5L1643 242.4L1639.5 240.2L1630.3 232.5L1628.8 229.5L1629 226.5L1631.2 223.5L1639.7 216.5L1642.1 214L1647.5 207.1L1650.8 200.5L1654.4 195.5L1661.1 188L1668 182.7L1677 178.1L1687 174.1L1691.5 173.6L1698 175.1L1700.6 177L1702.3 181L1703.4 187L1703.6 198L1703.2 203L1701.1 209.5L1700.6 216.5L1698.5 224L1693.4 234.5L1691.5 237L1688.5 240L1684.5 242.7L1678 245.7L1675.5 246.4ZM1676 244.5L1668 244.9L1657.5 244.6L1654 244L1645 241.3L1641 239L1633 231.8L1631.6 229.5L1631.5 227L1633.3 224L1642 216.9L1644.8 214L1649.4 207.5L1654.2 198.5L1663.5 188.2L1669.5 183.6L1678 179.1L1687 175.6L1690 175.2L1692.5 175.5L1697 176.8L1699.3 178.5L1700.8 181.5L1701.8 186.5L1701.9 199L1701.2 203L1698.9 209L1698.7 217L1697.5 220.2L1694.1 226L1692.6 232L1690.6 235L1687.5 238.1L1683.5 241.2L1679.5 243.4ZM1674.5 243L1668 243.2L1658.5 242.9L1645 239.2L1641.6 237L1635.6 231L1634.3 229L1634.1 227L1635.2 225L1637.1 223L1644.7 217L1647.3 214.5L1656 199L1664.5 189.5L1670 185.2L1678 180.5L1687 177L1689.5 176.7L1691.5 177L1696 178.7L1698.2 180.5L1699.3 183L1700.5 188.5L1700.5 197.5L1699.4 202L1696.7 208.5L1696.7 216.5L1695.7 219L1691.8 225L1690.6 231L1689.2 233.5L1684 238.5L1681 240.8L1678 242.3ZM1674 241.5L1660.5 241.3L1657 240.5L1652 238.6L1646 237.4L1643.5 236L1639.1 231.5L1637.4 229L1637.2 227L1637.9 225.5L1639.6 223.5L1649 215.9L1650.5 213.6L1653.3 207.5L1658.1 199.5L1665.9 190.5L1670.5 186.6L1678 181.9L1687 178.5L1689 178.2L1691 178.4L1694.2 180L1696.8 182.5L1697.8 185L1699.2 191L1699.1 197L1698.3 200L1695 208L1694.2 216.5L1692.7 220L1689.9 224.5L1688.7 230L1687.3 232.5L1680 239.4L1677 240.9ZM1673 240L1661 239.4L1654 236.7L1647 235.2L1644.9 234L1642.1 231L1641.1 229L1641.2 227.5L1642 226L1645.5 222L1651 216.8L1652.3 214.5L1654.7 208.5L1658.1 204L1660.3 200L1665.5 193.3L1668.8 190L1671.5 187.8L1678.7 183L1687.5 179.9L1690.5 179.9L1692 180.6L1693.8 182L1695.8 185L1697.8 192L1697.9 195L1697.5 197.5L1694 206.5L1691.2 218.5L1688.1 224L1686.3 230.5L1684.5 232.8L1678.8 238L1676 239.4ZM1673.5 238.1L1662.5 237.4L1657 235.1L1650 233.4L1647.6 232L1646.4 230.5L1646 229L1646.3 227L1648.1 223L1653.8 216.5L1656.5 209L1659.5 205.3L1662.9 199.5L1666.2 195L1669.5 191.5L1672 189.3L1679 184.5L1687.5 181.5L1690 181.5L1692.5 183L1694.5 186.5L1696.4 192.5L1696.4 195L1696.1 197L1688.9 218L1686.3 223L1684.7 229.5L1683 231.8L1677.5 236.4L1675.5 237.5ZM1674 235.5L1664 235.5L1658.5 233.1L1652.5 231.8L1650.5 230.6L1649.6 229.5L1649.1 228L1649.3 226L1650.8 223L1655.9 217.5L1657.5 211L1661 206L1663.6 201L1667 196.5L1670.5 192.7L1672.5 190.9L1679 186.3L1687 183.5L1689.5 183.2L1691 184L1692 185.1L1694.1 190L1694.9 194L1694.3 197.5L1690.2 210.5L1689 212.9L1686.1 217L1684.6 220.5L1682.8 229L1680.5 231.5L1676 234.7ZM1667 233.5L1664 233.4L1659.5 231L1653.5 229.5L1652.3 228.5L1651.8 227.5L1652.2 225L1657.5 219.1L1658.3 217L1659.3 211.5L1662 207.3L1664.9 201.5L1668 197.5L1673 192.5L1678.5 188.5L1687.5 185.5L1689.5 185.7L1691 187.1L1692.7 191L1693.3 194L1692.9 197L1691.6 202.5L1688.8 210.5L1687.5 212.3L1684 214.6L1683 216L1682.6 220.5L1681 227.8L1679.1 230L1674.5 232.8ZM1667 231L1665.5 231.1L1664 230.5L1657.9 226.5L1657.2 225.5L1657.6 224L1660 219L1660.9 212.5L1663.4 208L1665.5 203L1668.5 199L1674.2 193.5L1678.5 190.2L1681 189.3L1687 188.4L1689 188.7L1690.2 190L1691 191.8L1691.4 196.5L1690.5 202L1687.8 209.5L1686.5 211.2L1683 213.3L1681.8 214.5L1681.3 216L1680.5 222.5L1679.5 225.4L1678.4 227L1673.5 230.1ZM1672 227.1L1669 227.4L1667 226.3L1666.4 225L1665.5 220.9L1663.5 217.8L1662.8 216L1662.9 213L1666.4 204L1668.5 200.9L1672 198L1675.7 194L1678.5 191.8L1682 190.7L1685.5 190.9L1687.5 191.4L1688.5 192.2L1689.2 193.5L1689.9 198.5L1689.4 202L1687.3 207.5L1685.5 210.3L1682 212.5L1680.5 214L1679.9 215.5L1679.3 220.5L1678 223.5L1676 225.3ZM1671.5 224.6L1669.9 224.5L1668.8 223.5L1667.5 218.5L1665.5 214L1665.5 212.5L1667.3 208.5L1668.2 204L1669.5 202L1673 199.1L1676 195.5L1678.5 193.4L1681.5 192.3L1685.6 193L1687.5 194.5L1688.6 197.5L1688.6 200.5L1687.7 203.5L1684.9 209L1680.3 212.5L1679 214L1677.8 219.5L1676.6 222L1674.5 223.6ZM1673.5 221.6L1672 221.9L1671 221.6L1670.2 219.5L1670 217L1670.5 215.2L1674 212.8L1674.8 211L1674 208.5L1670.9 205.5L1670.7 204.5L1671 203.5L1676.6 196.5L1678.5 194.8L1681 193.8L1684.5 194.3L1686.3 195.5L1687.3 197.5L1687.6 200L1687 202.3L1683.5 208.9L1677.1 213.5L1675.6 219.5L1674.5 221ZM1679.5 210.1L1678.5 210.1L1677.4 209.5L1674.2 205.5L1673.7 203.5L1676.9 198L1678.5 196.2L1681 195.1L1683.5 195.4L1685 196.1L1686.1 197.5L1686.5 199L1686.3 201L1682.9 208L1681.5 209.2ZM1680 208.5L1678.5 208L1676.5 205.5L1675.7 204L1675.8 203L1677.5 199.2L1678.8 197.5L1680.5 196.5L1683 196.5L1684.2 197L1685.1 198L1685.4 200.5L1682 207.2ZM1680.5 206.3L1679.5 206.1L1678.5 205L1677.9 203.5L1678 202L1679.5 198.5L1681 197.6L1682.5 197.5L1684.1 198.5L1684.3 200.5Z" fill="none" stroke="#555" stroke-width="0.8"/>
<rect x="1517.7" y="74.2" width="317.3" height="317.3" fill="none" stroke="#000" stroke-width="3.4"/>
<path d="M1508.7 122.2H1516.7M1508.7 171.1H1516.7M1508.7 220H1516.7M1508.7 268.9H1516.7M1508.7 317.8H1516.7M1508.7 366.7H1516.7" stroke="#000" stroke-width="1.8" fill="none"/>
<path d="M1512.2 107.5H1516.7M1512.2 98.9H1516.7M1512.2 92.8H1516.7M1512.2 88H1516.7M1512.2 84.1H1516.7M1512.2 80.9H1516.7M1512.2 78H1516.7M1512.2 75.5H1516.7M1512.2 156.4H1516.7M1512.2 147.8H1516.7M1512.2 141.7H1516.7M1512.2 136.9H1516.7M1512.2 133H1516.7M1512.2 129.8H1516.7M1512.2 126.9H1516.7M1512.2 124.4H1516.7M1512.2 205.3H1516.7M1512.2 196.7H1516.7M1512.2 190.6H1516.7M1512.2 185.8H1516.7M1512.2 181.9H1516.7M1512.2 178.7H1516.7M1512.2 175.8H1516.7M1512.2 173.3H1516.7M1512.2 254.2H1516.7M1512.2 245.6H1516.7M1512.2 239.5H1516.7M1512.2 234.7H1516.7M1512.2 230.8H1516.7M1512.2 227.6H1516.7M1512.2 224.7H1516.7M1512.2 222.2H1516.7M1512.2 303.1H1516.7M1512.2 294.5H1516.7M1512.2 288.4H1516.7M1512.2 283.6H1516.7M1512.2 279.7H1516.7M1512.2 276.5H1516.7M1512.2 273.6H1516.7M1512.2 271.1H1516.7M1512.2 352H1516.7M1512.2 343.4H1516.7M1512.2 337.3H1516.7M1512.2 332.5H1516.7M1512.2 328.6H1516.7M1512.2 325.4H1516.7M1512.2 322.5H1516.7M1512.2 320H1516.7M1512.2 386.2H1516.7M1512.2 381.4H1516.7M1512.2 377.5H1516.7M1512.2 374.3H1516.7M1512.2 371.4H1516.7M1512.2 368.9H1516.7" stroke="#000" stroke-width="1" fill="none"/>
<text x="1505.2" y="128.8" font-size="11.2" font-family="'DejaVu Sans', 'Liberation Sans', sans-serif" fill="#222" text-anchor="end" letter-spacing="0.4">10<tspan dy="-5" font-size="9.2">4</tspan></text>
<text x="1505.2" y="177.7" font-size="11.2" font-family="'DejaVu Sans', 'Liberation Sans', sans-serif" fill="#222" text-anchor="end" letter-spacing="0.4">10<tspan dy="-5" font-size="9.2">3</tspan></text>
<text x="1505.2" y="226.6" font-size="11.2" font-family="'DejaVu Sans', 'Liberation Sans', sans-serif" fill="#222" text-anchor="end" letter-spacing="0.4">10<tspan dy="-5" font-size="9.2">2</tspan></text>
<text x="1505.2" y="275.5" font-size="11.2" font-family="'DejaVu Sans', 'Liberation Sans', sans-serif" fill="#222" text-anchor="end" letter-spacing="0.4">10<tspan dy="-5" font-size="9.2">1</tspan></text>
<text x="1505.2" y="324.4" font-size="11.2" font-family="'DejaVu Sans', 'Liberation Sans', sans-serif" fill="#222" text-anchor="end" letter-spacing="0.4">10<tspan dy="-5" font-size="9.2">0</tspan></text>
<text x="1505.2" y="373.3" font-size="11.2" font-family="'DejaVu Sans', 'Liberation Sans', sans-serif" fill="#222" text-anchor="end" letter-spacing="0.4">10<tspan dy="-5" font-size="9.2">-1</tspan></text>
<path d="M1519.7 391.5V399.5M1599.4 391.5V399.5M1678.8 391.5V399.5M1756.2 391.5V399.5M1835 391.5V399.5" stroke="#000" stroke-width="1.8" fill="none"/>
<path d="M1543.7 391.5V396M1557.7 391.5V396M1567.7 391.5V396M1575.4 391.5V396M1581.7 391.5V396M1587.1 391.5V396M1591.7 391.5V396M1595.8 391.5V396M1623.4 391.5V396M1637.4 391.5V396M1647.4 391.5V396M1655.1 391.5V396M1661.4 391.5V396M1666.8 391.5V396M1671.4 391.5V396M1675.5 391.5V396M1702.8 391.5V396M1716.8 391.5V396M1726.8 391.5V396M1734.5 391.5V396M1740.8 391.5V396M1746.2 391.5V396M1750.8 391.5V396M1754.9 391.5V396M1780.2 391.5V396M1794.2 391.5V396M1804.2 391.5V396M1811.9 391.5V396M1818.2 391.5V396M1823.6 391.5V396M1828.2 391.5V396M1832.3 391.5V396" stroke="#000" stroke-width="1" fill="none"/>
<text x="1535.7" y="420.2" font-size="11.2" font-family="'DejaVu Sans', 'Liberation Sans', sans-serif" fill="#222" text-anchor="middle" letter-spacing="0.4">10<tspan dy="-5" font-size="9.2">1</tspan></text>
<text x="1608.9" y="420.2" font-size="11.2" font-family="'DejaVu Sans', 'Liberation Sans', sans-serif" fill="#222" text-anchor="middle" letter-spacing="0.4">10<tspan dy="-5" font-size="9.2">2</tspan></text>
<text x="1687.8" y="420.2" font-size="11.2" font-family="'DejaVu Sans', 'Liberation Sans', sans-serif" fill="#222" text-anchor="middle" letter-spacing="0.4">10<tspan dy="-5" font-size="9.2">3</tspan></text>
<text x="1764.7" y="420.2" font-size="11.2" font-family="'DejaVu Sans', 'Liberation Sans', sans-serif" fill="#222" text-anchor="middle" letter-spacing="0.4">10<tspan dy="-5" font-size="9.2">4</tspan></text>
<text x="1826" y="420.2" font-size="11.2" font-family="'DejaVu Sans', 'Liberation Sans', sans-serif" fill="#222" text-anchor="middle" letter-spacing="0.4">10<tspan dy="-5" font-size="9.2">5</tspan></text>
<path d="M1446.7 266V110.6" stroke="#000" stroke-width="4.6" fill="none"/>
<path d="M1446.7 91.6L1436.5 111.6L1456.9 111.6Z"/>
<text x="1457.8" y="394.6" font-size="31" transform="rotate(-90 1457.8 394.6)" textLength="117.5" lengthAdjust="spacingAndGlyphs">Residual</text>
<text x="1525" y="452" font-size="31" textLength="82" lengthAdjust="spacingAndGlyphs">Offset</text>
<path d="M1610 441.2H1824.3" stroke="#000" stroke-width="4.6" fill="none"/>
<path d="M1843.8 441.2L1823.3 431L1823.3 451.4Z"/>
<text x="1598.3" y="136.2" font-size="31" textLength="59" lengthAdjust="spacingAndGlyphs">88.3</text>
<path d="M1521.3 76V390" stroke="#fff" stroke-width="0.8" stroke-dasharray="1 1.5"/>
<path d="M1635.9 193.1L1666.3 171.2L1688.5 170L1710.1 181.1L1696.4 225.2L1671.8 253.5L1640 238.3Z" fill="none" stroke="#111" stroke-width="2" stroke-linejoin="miter"/>
<path d="M346 610.5L344.5 610L344 608.5L344.5 606L345.8 603L350.6 596L357.2 588.5L374.4 573.5L389 559.4L418 532.5L424.5 527.3L430 523.6L433 522.3L435 522.6L435.2 524.5L433.7 527.5L425.1 538.5L392 571.8L382 581.3L368 596.4L362 601.8L356 606.3L350.5 609.3ZM349 608.6L347 608.7L346 607.9L345.9 606L346.7 603.5L350.7 597L357.1 589.5L362.5 584.4L374.2 574.5L389.5 559.7L418 533.3L427.5 526.4L430.5 524.8L432.5 524.6L432.9 526L431.8 528.5L424.2 538.5L392 571L381.5 581L368.5 595.1L363 600.2L357 604.8L352.5 607.4ZM350 607.1L348.5 607L347.6 606L347.6 604.5L348.2 602.5L352.2 596L357.9 589.5L374.5 575L390 560L418 534.3L425.5 528.9L428 527.8L429.5 527.7L429.6 529L428.7 531L423.2 538.5L391.6 570.5L380.7 581L368 594.8L362.5 599.8L357.5 603.7L353.5 605.9ZM353 605.1L351 605.5L349.7 605L349.3 604L349.6 602L352.7 596.5L358 590.2L363.5 585.1L374.9 575.5L390.5 560.4L402.9 549.5L417.5 535.9L423 531.9L425 531L426 531L426.2 532L425.3 534L422 538.5L391.3 570L379.8 581L368 594L359 601.8L356 603.8ZM354.5 603.6L352.5 603.9L351.5 603.7L350.9 602.5L351.2 601L353.9 596L358.5 590.5L363.5 585.8L375 576.3L391 560.8L403.7 550L417.5 537.3L420.5 535.1L422.5 534.5L422.3 536L420.1 539L394.8 565.5L378 581.9L367.7 593.5L360.5 599.9L357 602.3ZM354 602.5L353 602.3L352.5 601.5L353 599L355.4 595L359.3 590.5L364 586.2L375.5 576.8L392 560.9L410.5 546L410.6 546.5L410 547.5L406 551.5L395.2 564L378 580.8L367 593.4L359.5 599.8L356.5 601.7ZM355 601L354.1 600.5L354 600L354.7 597.5L357 594L360.1 590.5L364.5 586.5L376.5 577.1L392.2 562L395 560.1L396 559.7L396.5 560L395.6 562L394 564L387.7 570.5L377.5 580.1L366.5 593.1L360 598.6L357 600.5ZM357.5 599.2L356 599.3L355.6 599L355.6 598L356.8 595.5L359.5 592L366 586.1L372 582.1L374 581.2L374 582L372.4 584.5L367.2 591.5L362 596.3ZM358.5 597.6L357.3 597.5L357.3 596.5L358.3 594.5L360.3 592L366 586.9L368.5 585.4L370.2 585L370.2 586L369.5 587.5L366.9 591L362 595.6ZM359.5 596.1L358.9 596L359 595L361.1 592L365.5 588.1L368.1 587L368 588.5L366 591.1L362 594.8Z" fill="none" stroke="#444" stroke-width="0.8"/>
<rect x="147.9" y="507.3" width="318.9" height="314.7" fill="none" stroke="#000" stroke-width="3.4"/>
<path d="M138.9 507.5H146.9M138.9 585.6H146.9M138.9 663.3H146.9M138.9 743.3H146.9M138.9 822H146.9" stroke="#000" stroke-width="1.8" fill="none"/>
<path d="M142.4 531H146.9M142.4 609.1H146.9M142.4 686.8H146.9M142.4 766.8H146.9" stroke="#000" stroke-width="1" fill="none"/>
<text x="135.4" y="524.5" font-size="11.2" font-family="'DejaVu Sans', 'Liberation Sans', sans-serif" fill="#222" text-anchor="end" letter-spacing="0.4">10<tspan dy="-5" font-size="9.2">5</tspan></text>
<text x="135.4" y="592.2" font-size="11.2" font-family="'DejaVu Sans', 'Liberation Sans', sans-serif" fill="#222" text-anchor="end" letter-spacing="0.4">10<tspan dy="-5" font-size="9.2">4</tspan></text>
<text x="135.4" y="669.9" font-size="11.2" font-family="'DejaVu Sans', 'Liberation Sans', sans-serif" fill="#222" text-anchor="end" letter-spacing="0.4">10<tspan dy="-5" font-size="9.2">3</tspan></text>
<text x="135.4" y="749.9" font-size="11.2" font-family="'DejaVu Sans', 'Liberation Sans', sans-serif" fill="#222" text-anchor="end" letter-spacing="0.4">10<tspan dy="-5" font-size="9.2">2</tspan></text>
<text x="135.4" y="821.5" font-size="11.2" font-family="'DejaVu Sans', 'Liberation Sans', sans-serif" fill="#222" text-anchor="end" letter-spacing="0.4">10<tspan dy="-5" font-size="9.2">1</tspan></text>
<path d="M149.7 822V830M228.7 822V830M308 822V830M386 822V830M466.2 822V830" stroke="#000" stroke-width="1.8" fill="none"/>
<path d="M173.5 822V826.5M187.4 822V826.5M197.3 822V826.5M204.9 822V826.5M211.2 822V826.5M216.5 822V826.5M221 822V826.5M225.1 822V826.5M252.5 822V826.5M266.4 822V826.5M276.3 822V826.5M283.9 822V826.5M290.2 822V826.5M295.5 822V826.5M300 822V826.5M304.1 822V826.5M331.8 822V826.5M345.7 822V826.5M355.6 822V826.5M363.2 822V826.5M369.5 822V826.5M374.8 822V826.5M379.3 822V826.5M383.4 822V826.5M409.8 822V826.5M423.7 822V826.5M433.6 822V826.5M441.2 822V826.5M447.5 822V826.5M452.8 822V826.5M457.3 822V826.5M461.4 822V826.5" stroke="#000" stroke-width="1" fill="none"/>
<text x="163.7" y="850.7" font-size="11.2" font-family="'DejaVu Sans', 'Liberation Sans', sans-serif" fill="#222" text-anchor="middle" letter-spacing="0.4">10<tspan dy="-5" font-size="9.2">1</tspan></text>
<text x="238.2" y="850.7" font-size="11.2" font-family="'DejaVu Sans', 'Liberation Sans', sans-serif" fill="#222" text-anchor="middle" letter-spacing="0.4">10<tspan dy="-5" font-size="9.2">2</tspan></text>
<text x="317" y="850.7" font-size="11.2" font-family="'DejaVu Sans', 'Liberation Sans', sans-serif" fill="#222" text-anchor="middle" letter-spacing="0.4">10<tspan dy="-5" font-size="9.2">3</tspan></text>
<text x="395" y="850.7" font-size="11.2" font-family="'DejaVu Sans', 'Liberation Sans', sans-serif" fill="#222" text-anchor="middle" letter-spacing="0.4">10<tspan dy="-5" font-size="9.2">4</tspan></text>
<text x="457.2" y="850.7" font-size="11.2" font-family="'DejaVu Sans', 'Liberation Sans', sans-serif" fill="#222" text-anchor="middle" letter-spacing="0.4">10<tspan dy="-5" font-size="9.2">5</tspan></text>
<path d="M420.4 515.1L445.5 529.5L345.6 625.7L331.5 602.2Z" fill="none" stroke="#111" stroke-width="1.5" stroke-linejoin="miter"/>
<path d="M81.5 736.5V521.6" stroke="#000" stroke-width="4.6" fill="none"/>
<path d="M81.5 502.6L71.3 522.6L91.7 522.6Z"/>
<text x="92.7" y="826.6" font-size="31" transform="rotate(-90 92.7 826.6)" textLength="79" lengthAdjust="spacingAndGlyphs">DNA2</text>
<text x="151" y="880.5" font-size="31" textLength="78" lengthAdjust="spacingAndGlyphs">DNA1</text>
<path d="M240.6 868.7H455.1" stroke="#000" stroke-width="4.6" fill="none"/>
<path d="M474.6 868.7L454.1 858.5L454.1 878.9Z"/>
<text x="164.2" y="566.8" font-size="31" textLength="162" lengthAdjust="spacingAndGlyphs">Single Cells</text>
<text x="184.4" y="608.4" font-size="31" textLength="57.5" lengthAdjust="spacingAndGlyphs">97.1</text>
<path d="M756.5 747.6L754 748L738.5 746.7L720.5 743.3L718 742.4L710.5 737.1L701 732.2L698.2 730L692.6 721.5L690.5 715.3L687.9 711L687.4 709L687.6 704.5L686.9 694.5L688.1 685L689.5 682.5L692.6 678.5L695 673.5L698 669.5L700.5 665L705.6 660L708.2 655.5L711.3 651.5L712.3 648.5L712 646L710.5 642.1L706.5 636.7L686.4 621L683.5 618.1L681.3 614L677.2 602.5L676.8 600.5L677.1 598.5L678.7 594L680 591.6L687.5 585.4L691.5 583.1L697.5 581.6L701.5 581.6L707 582.9L714 583.8L724 587.6L727.5 590L733 596.3L739 600.5L745.5 609.1L749.8 614L754 620.4L762.5 626.9L766 627.9L775.5 627.3L783 625.1L786.5 624.6L792 625.6L798 625.7L801 626.3L808.5 630.2L814 632L816 633.3L820 636.5L828.5 644.9L832.5 647.8L834.3 650.5L835.4 655.5L840.5 668.5L842 675L842.1 677.5L839.4 684.5L838.7 691L837.3 695.5L834.3 701L832 706.5L827.9 712L824.5 715.9L820.4 719.5L814 722.8L809.8 727L802 731.5L793.5 738L784.6 741L780 743L767.5 745L761.5 745.5ZM753 743.5L734 741.9L721 738.1L716 736.1L712 734L709.5 732.2L706.3 727.5L701.5 724.2L698.5 721.6L695.9 717.5L692.8 705.5L692.5 699.5L693.1 687.5L698.9 677L703 668L704.9 666L709.5 663.4L711.8 658L715.3 654L716.2 651.5L716.6 648L716.2 646L713.9 640.5L711.2 636.5L708.9 634.5L695.5 625.2L687 618.7L685.1 616.5L683.4 613L680.2 602.5L680 600L680.6 597.5L682 594L683.5 591.9L689 587.5L693 585.2L697 584.1L700.5 583.8L707 584.9L712.5 585.3L716.5 586.4L724.4 590L726.6 592L731.5 598.2L737 602.7L739.2 605L746.9 615.5L750 621.5L753 625.2L755.5 627.5L761.5 630.6L765.5 631.6L774.5 631.8L784.5 629.5L794 630.2L804.5 632.3L813.5 636.3L816 638L819.5 641.5L823 644.3L829 650.5L829.9 652L831.1 656L835 662.3L838.3 675L838.4 678.5L836.2 684.5L835.1 691L834.3 693.5L829.5 703.1L824.6 710.5L822.4 713L817.5 717.4L811.5 719.7L807.4 724L803 727.6L797 731L792.5 734.2L789.5 735.9L786 737L778.8 738L768 741.3L761 741.5L756 743.1ZM749 739L745.5 739.2L740 737.9L734.5 738.4L728.5 736.3L723.5 733.7L719 730.6L714.4 729.5L713.5 728.6L711.8 725.5L706.3 722L702.5 718.5L701.3 716.5L700.7 711.5L698 706L696.8 697.5L696.9 694L698.2 688L699.8 683.5L702.1 679L704.6 673L706.5 670.9L713.3 666L715.1 664L716.7 660L719.3 655.5L722 647L721.4 645L719.3 642L716.5 636.9L714.2 634L712.5 632.8L706.5 629.9L701.9 626.5L696.5 623.3L688.5 616.6L686.1 613L683 603L682.9 601L683.5 598.5L685.1 594.5L687 592L690.5 589.2L694.5 587.2L697.5 586.4L701 586L712 587L716.5 588.3L723.5 591.8L725.2 593.5L731 601.2L738.2 608.5L748.1 624L751 631L752.9 632.5L762 635.9L766.5 635.7L773 636.1L785 633.5L794.5 634.3L800.5 636L806 637L813 640.9L817.5 644.8L821 647.3L825.2 652L833.4 669L833.8 671L833.8 673.5L833 677.5L832.7 682.5L831 691.5L827.9 695.5L825.9 700.5L820.6 708.5L815.4 714L809 717.1L805 721.8L802 724.5L790 731.6L782 733.7L776.5 733.4L772 735.7L767 737.3L759.5 737ZM748 735.1L745 735.3L738.5 733L731 732.9L726.5 731.7L724 730L720.5 726.2L715.5 722.5L709.6 719.5L707.7 717L706.2 714L704.3 707.5L704 703.5L702.3 698L702.7 690.5L703.8 683.5L707.7 675.5L717 668L720.6 663.5L723 656.5L725.6 651.5L726.3 646.5L725.1 643L719.8 635.5L716.5 630.2L715 629.3L709 627.9L703.7 624.5L698 621.5L691 615.3L688.2 611.5L685.4 603.5L685.2 601.5L685.8 599L687.3 595.5L689.1 593L691.5 591.1L695.5 589.2L698.5 588.5L702.5 588.1L711.5 588.7L717.5 590.6L722.3 593.5L724.1 595.5L729 602.9L733.5 608.5L739.4 617.5L744.5 624.3L745.8 627L747 632.6L748 634.8L751.5 638.4L753.5 639.9L758 641.5L761.5 641.9L766.5 640.8L771.6 640.5L778.5 638.6L783.5 638.5L793.5 637.2L796.5 637.7L800.5 640.1L805 641.8L811.5 645.4L815.4 649.5L819.9 652.5L823.8 659L828.7 669.5L828.9 671.5L827.5 676.5L828.7 681.5L828.6 684L826.8 689.5L824.1 694.5L822.3 699.5L816.8 707L813 710.5L807 714.4L803 719.5L796.3 723L792 726.5L790 727.5L784.5 727.6L780.5 728.8L776 728.7L771 731.6L768.5 732.5L765 732.9L758.5 732.7ZM754 730.5L750 730.8L745.5 730.5L737 728.6L732.5 727L727.5 726.5L717.5 718.9L712.5 716.1L710.3 713L709.5 710L709.3 704L707.2 699.5L706.7 697.5L706.4 690L707.2 685L711.2 678L717.5 673.2L724.2 665L726.3 658.5L729.7 654.5L729.9 649.5L731.2 645L730.8 644L726.4 638L719.4 626.5L716.5 625L709.5 623.7L699.5 619.8L693.6 614.5L690.2 610.5L688.6 607.5L687.7 604.5L687.4 602L687.8 600L688.9 597L690.5 594.7L692.5 593L695.5 591.5L698 590.7L703 590L710 590.2L716 592L720.5 594.8L729.7 608.5L738.5 625.5L741.5 629.8L742.1 631.5L742.8 637.5L743.9 640L745 641.1L749.5 643.6L754.5 647.6L756 648.2L757.5 648.2L764 645.6L770 644.6L777 642.7L784.5 642.5L792 640.8L794.5 640.8L802.5 645.4L806.5 648.2L811.5 650.5L816.1 654L817.7 656L823.4 668L824.2 670.5L824.1 676L825.2 682.5L822.3 692L819.5 697.8L814.4 705L811.7 707.5L805.5 711.5L802 716.5L800 717.7L794 719.4L789.5 722.6L788 722.8L784.5 722.5L782.5 722.9L775.5 725.3L768 729.2L765 729.8L759.5 729.8ZM720.5 621.5L717 621.5L703.5 618.9L701 618.1L698.5 616.5L692.2 610L690.2 606.5L689.7 604L689.8 601.5L690.7 598.5L692 596.3L694.2 594.5L697.5 593L705.5 591.7L712 592.5L715 593.7L717.6 595.5L719.7 598L722.2 603L726.9 609L728.2 612L728.8 614.5L728.6 617.5L727.5 619.1ZM758 727L754 726.8L746.5 724.6L740.5 725.3L738.5 725.2L732 721.8L725 719.7L722.4 718L718.9 713.5L714.5 706.3L710.8 697.5L710.2 693L710.4 688L711.3 685L713.3 681.5L715.3 679.5L720.4 676.5L731 662.7L735.3 660L738.2 653.5L739.5 651.8L741 650.8L745.5 650.8L749.5 649.9L755 651.7L757 651.8L769 648.8L776 646.4L778.5 646.3L784.5 646.8L793 645.2L798.5 646.8L800.4 648L804.5 651.7L811 654.1L812.8 656L817.5 663L818.8 665.5L819.8 669L821.9 681L821.6 683L820.3 686.5L819.3 691.5L812.5 702.4L810.5 704.5L803.5 709.4L800.5 713.5L799 714.6L792.5 715.9L787.5 719.2L781 719.8L777.9 720.5L766 726.1ZM718.5 617L716 617.5L709.5 617.3L703 616.4L699.9 615L693.9 609L692.3 606.5L691.9 604.5L692 602.5L692.6 600L693.7 598L695.3 596.5L697.5 595.4L705 593.5L710.5 594L714.5 596L717 598.9L719.3 604L722.6 608.5L723.7 611L723.7 612.5L723 614L721 615.7ZM755 722L747.5 720.7L742 721L740 720.8L736.5 719.2L729.5 714.9L726 713.7L724.5 712.5L721.5 707.4L717.1 702.5L715.7 700.5L714.8 697.5L714.8 694L715.5 691.7L717.9 688L718.8 683L722.5 679L725.8 674L729.3 670L734 665.7L740 663.5L743.5 660L747 658.1L751 655.3L752.5 655L757 655.3L761.5 653.9L766.5 653.3L771.5 651.5L779 650.2L788 650.4L797.5 652.2L808.5 659.5L813.2 663.5L814.5 665L815.4 667L815.1 673.5L817.2 679L817.5 681.5L815.4 689.5L812 695L809.8 699.5L808.5 701.2L800.8 707L797 711.1L791 713.3L786.5 716.2L778 717.5L765.5 721.6L759 721.5ZM714 614.6L709.5 614.8L702.5 613.5L700.5 612.5L695.5 607.7L694.4 606L694.2 603L695.5 599.8L698.5 597.7L705 595.4L709 595.7L712.4 597.5L715.5 601.5L718.8 609.5L718.7 611L717.8 612.5L716 613.9ZM755.5 718.1L752 718.3L746 716.5L739 716.1L736.6 715.5L734.5 713.8L732.5 709.5L731 708.7L726.5 707.6L725 706.4L723 704L720.5 699.5L720.4 696.5L722.7 684L727.5 676.5L731.6 671.5L734 669.2L736.5 668L740.5 667.7L742 667.2L743.5 666L748 661L751.5 659L757 658.9L762.5 657.2L767 657.3L771 655L773 654.4L786.5 653.4L790.5 654L799 656.7L801 657.8L805.5 662.5L810 666.2L811 667.5L811.4 669L810.9 675L812.6 683L812.5 686L811.4 688.5L807.8 693.5L805.3 698.5L800 703L794 709.1L787 712.3L778 714.9L768.5 716.5L764.5 717.6L759 717.5ZM713 612L711.5 612.3L709.5 612.2L702 610L697.3 605.5L697 604L697.5 602.5L699.6 600.5L703.5 598.1L706 597.7L708.6 598.5L713 602.7L714.9 606.5L715.3 608.5L715.1 610L714.5 611ZM754.5 715L751 714.8L745 712.1L740 711.7L738.5 711.3L737.5 710.4L734.9 706.5L729.3 704L728 702.9L726.8 701L725.5 697.9L725 695.5L725.8 687.5L727.3 684L734.5 673.4L737 671.5L741 670.9L743 670.1L749 664.2L751 662.9L756 662.5L766.5 660.7L774 657L777 656.7L782 656.9L788 656.3L790.5 657.1L794 659.4L798 659.6L799.9 660.5L801.1 662L803 665.6L806.3 668.5L807.3 670L808 677.1L809.4 684L808.4 687L804 691L801.9 696L797.6 701.5L792.9 706.5L791 708L788.5 708.9L782.5 709.9L777.3 712.5ZM710 608.6L707 608.3L704 606.8L702.8 605L702.8 604L703.5 602.8L704.5 602.1L706 602.1L709.5 604.5L711.1 607L710.9 608ZM755.5 711.5L751 711.5L740.6 708L739 706.5L736.5 702.7L733.3 700L733.1 694.5L730.4 689.5L730.1 687.5L731.6 684L737 676.3L739 675L742 674.8L743.5 674.3L747 670.4L752 667L760 664.5L768 663.5L770.4 662.5L774 660.4L776 659.8L781 659.8L785.5 659L787.5 659.1L789.5 660.3L792.5 664.2L798 666.7L804.6 674.5L805.4 677.5L805.5 683L804.5 685.5L801 688.5L798.7 694.5L795 700.2L789 704.7L781.5 706L779.7 707L776.9 709.5L775 710.4L770 711.1L765.5 710.9ZM770.5 709L765.5 708.5L761 709L752 708.8L742.5 704.6L740.3 702L735.9 692L734.7 688.5L734.9 686L736.1 684L739.5 680.7L745.5 677.5L749.5 672.7L753.5 670.5L757.9 667.5L761 666.6L770 665.8L776 663.6L780.5 663.6L784.5 662.3L786.5 662.3L788 663.2L791 666.8L795.3 669.5L801.3 676L802.1 678L801.7 680.5L798.7 686.5L796.4 693L793.5 697.6L790 699.7L778.7 704L777.1 705L774.1 708ZM770.5 706.5L765 706.1L760.5 706.4L754.5 706.2L752 705.4L749.1 701.5L745.3 699.5L744.5 698.5L744.5 694.5L743.7 691L743 689.1L740.9 686L741.1 684L743 681.7L748 678.5L751 674.6L755.8 672.5L759.6 669.5L767 668.5L771.5 668.4L775.5 667.5L781.5 668.8L783 668.5L785 667.4L786.5 667.4L793 671.5L796.4 675.5L797.3 677.5L797.1 679.5L794.7 684.5L794.3 689.5L793.5 692L791.5 694.6L787.5 695.7L781.5 700.3L779.5 701.1L774.5 702.2L772.5 705.5ZM764 703.5L759.5 703.8L756 703L750.1 697.5L746.7 690.5L745.1 686L744.9 684.5L745.8 683L749.5 680.2L752.5 676.5L755 676L758.5 677.5L760 677.3L761.1 676.5L763.4 673L766 671.7L768 671.9L770.4 674.5L772 675.2L774 674.9L778.5 672.7L780.5 672.3L785.5 673.2L789.5 673.4L791.6 674.5L793.6 677.5L793.4 680L791 683.2L786.2 686L785 692.5L782.5 696.6L780.9 698L779 698.9L774 698.6L772 699.1L769.5 700.5L767 702.7ZM763.5 701.1L761 701.5L758.5 700.9L752.8 695.5L748.5 689L748 686L748.7 684L752 681L754 679.9L758.5 680.1L761 679.5L764.5 676.3L766 675.3L767 675.3L771.5 677L773.5 676.8L779.5 675L782.1 675.5L783 676.5L783.2 677.5L781.8 683.5L782.4 690L781.8 693L780.7 695L779.5 696.1L778 696.8L774 696.7L772 697.2ZM762 699L760.5 699.1L759.1 698.5L757 696L756.5 694L757.4 690.5L756.8 689L755.5 688.5L752.5 688.8L751.4 688L751 686.5L751.9 684.5L754 683.2L761.5 681.4L765 678.7L766.5 678.1L771 678.7L777 677.6L778.5 677.6L779.5 678.1L780.1 679.5L779.7 684L780 688.5L779.4 692L778.5 693.7L777 694.7L773 695.3ZM766.5 696L762 695.7L760.6 695L760.5 693.5L762.3 688.5L762.2 687.5L761.3 686L761.4 685L766 681.5L770.5 681.3L774.8 680L776.5 680L777.4 681L777.8 687.5L777.5 690L776.7 692L775.5 692.9L773 693.6L769.5 695.4ZM768.5 694.5L766.5 694.6L764.9 694L764.2 693L764.4 691.5L770.5 685.7L772.5 685L774 685.2L775.1 687L774.5 689.5L770.4 693.5Z" fill="none" stroke="#555" stroke-width="0.8"/>
<rect x="594.9" y="509.2" width="317.6" height="315.5" fill="none" stroke="#000" stroke-width="3.4"/>
<path d="M585.9 508.4H593.9M585.9 561.2H593.9M585.9 614.4H593.9M585.9 667H593.9M585.9 720H593.9M585.9 772.7H593.9M585.9 825.3H593.9" stroke="#000" stroke-width="1.8" fill="none"/>
<path d="M589.4 545.3H593.9M589.4 536H593.9M589.4 529.4H593.9M589.4 524.3H593.9M589.4 520.1H593.9M589.4 516.6H593.9M589.4 513.5H593.9M589.4 510.8H593.9M589.4 598.1H593.9M589.4 588.8H593.9M589.4 582.2H593.9M589.4 577.1H593.9M589.4 572.9H593.9M589.4 569.4H593.9M589.4 566.3H593.9M589.4 563.6H593.9M589.4 651.3H593.9M589.4 642H593.9M589.4 635.4H593.9M589.4 630.3H593.9M589.4 626.1H593.9M589.4 622.6H593.9M589.4 619.5H593.9M589.4 616.8H593.9M589.4 703.9H593.9M589.4 694.6H593.9M589.4 688H593.9M589.4 682.9H593.9M589.4 678.7H593.9M589.4 675.2H593.9M589.4 672.1H593.9M589.4 669.4H593.9M589.4 756.9H593.9M589.4 747.6H593.9M589.4 741H593.9M589.4 735.9H593.9M589.4 731.7H593.9M589.4 728.2H593.9M589.4 725.1H593.9M589.4 722.4H593.9M589.4 809.6H593.9M589.4 800.3H593.9M589.4 793.7H593.9M589.4 788.6H593.9M589.4 784.4H593.9M589.4 780.9H593.9M589.4 777.8H593.9M589.4 775.1H593.9" stroke="#000" stroke-width="1" fill="none"/>
<text x="582.4" y="567.8" font-size="11.2" font-family="'DejaVu Sans', 'Liberation Sans', sans-serif" fill="#222" text-anchor="end" letter-spacing="0.4">10<tspan dy="-5" font-size="9.2">4</tspan></text>
<text x="582.4" y="621" font-size="11.2" font-family="'DejaVu Sans', 'Liberation Sans', sans-serif" fill="#222" text-anchor="end" letter-spacing="0.4">10<tspan dy="-5" font-size="9.2">3</tspan></text>
<text x="582.4" y="673.6" font-size="11.2" font-family="'DejaVu Sans', 'Liberation Sans', sans-serif" fill="#222" text-anchor="end" letter-spacing="0.4">10<tspan dy="-5" font-size="9.2">2</tspan></text>
<text x="582.4" y="726.6" font-size="11.2" font-family="'DejaVu Sans', 'Liberation Sans', sans-serif" fill="#222" text-anchor="end" letter-spacing="0.4">10<tspan dy="-5" font-size="9.2">1</tspan></text>
<text x="582.4" y="779.3" font-size="11.2" font-family="'DejaVu Sans', 'Liberation Sans', sans-serif" fill="#222" text-anchor="end" letter-spacing="0.4">10<tspan dy="-5" font-size="9.2">0</tspan></text>
<text x="582.4" y="824.8" font-size="11.2" font-family="'DejaVu Sans', 'Liberation Sans', sans-serif" fill="#222" text-anchor="end" letter-spacing="0.4">10<tspan dy="-5" font-size="9.2">-1</tspan></text>
<text x="582.4" y="526" font-size="11.2" font-family="'DejaVu Sans', 'Liberation Sans', sans-serif" fill="#222" text-anchor="end" letter-spacing="0.4">10<tspan dy="-5" font-size="9.2">5</tspan></text>
<path d="M596.7 824.7V832.7M675.5 824.7V832.7M754.3 824.7V832.7M832.8 824.7V832.7M911.9 824.7V832.7" stroke="#000" stroke-width="1.8" fill="none"/>
<path d="M620.4 824.7V829.2M634.3 824.7V829.2M644.1 824.7V829.2M651.8 824.7V829.2M658 824.7V829.2M663.3 824.7V829.2M667.9 824.7V829.2M671.9 824.7V829.2M699.2 824.7V829.2M713.1 824.7V829.2M722.9 824.7V829.2M730.6 824.7V829.2M736.8 824.7V829.2M742.1 824.7V829.2M746.7 824.7V829.2M750.7 824.7V829.2M778 824.7V829.2M791.9 824.7V829.2M801.7 824.7V829.2M809.4 824.7V829.2M815.6 824.7V829.2M820.9 824.7V829.2M825.5 824.7V829.2M829.5 824.7V829.2M856.5 824.7V829.2M870.4 824.7V829.2M880.2 824.7V829.2M887.9 824.7V829.2M894.1 824.7V829.2M899.4 824.7V829.2M904 824.7V829.2M908 824.7V829.2" stroke="#000" stroke-width="1" fill="none"/>
<text x="610.7" y="853.9" font-size="11.2" font-family="'DejaVu Sans', 'Liberation Sans', sans-serif" fill="#222" text-anchor="middle" letter-spacing="0.4">10<tspan dy="-5" font-size="9.2">1</tspan></text>
<text x="685" y="853.9" font-size="11.2" font-family="'DejaVu Sans', 'Liberation Sans', sans-serif" fill="#222" text-anchor="middle" letter-spacing="0.4">10<tspan dy="-5" font-size="9.2">2</tspan></text>
<text x="763.3" y="853.9" font-size="11.2" font-family="'DejaVu Sans', 'Liberation Sans', sans-serif" fill="#222" text-anchor="middle" letter-spacing="0.4">10<tspan dy="-5" font-size="9.2">3</tspan></text>
<text x="841.8" y="853.9" font-size="11.2" font-family="'DejaVu Sans', 'Liberation Sans', sans-serif" fill="#222" text-anchor="middle" letter-spacing="0.4">10<tspan dy="-5" font-size="9.2">4</tspan></text>
<text x="902.9" y="853.9" font-size="11.2" font-family="'DejaVu Sans', 'Liberation Sans', sans-serif" fill="#222" text-anchor="middle" letter-spacing="0.4">10<tspan dy="-5" font-size="9.2">5</tspan></text>
<rect x="603.6" y="537.3" width="132" height="107.3" fill="none" stroke="#000" stroke-width="3.3"/>
<path d="M524.2 736.8V522.5" stroke="#000" stroke-width="4.6" fill="none"/>
<path d="M524.2 503.5L514 523.5L534.4 523.5Z"/>
<text x="535.6" y="828.4" font-size="31" transform="rotate(-90 535.6 828.4)" textLength="77" lengthAdjust="spacingAndGlyphs">CD45</text>
<text x="604.8" y="881" font-size="31" textLength="55" lengthAdjust="spacingAndGlyphs">Live</text>
<path d="M680 869H894.5" stroke="#000" stroke-width="4.6" fill="none"/>
<path d="M914 869L893.5 858.8L893.5 879.2Z"/>
<text x="630" y="579.8" font-size="31" textLength="58" lengthAdjust="spacingAndGlyphs">12.4</text>
<clipPath id="cp7"><rect x="1062" y="510" width="315" height="234"/></clipPath><g clip-path="url(#cp7)">
<path d="M1290 778L1284.5 777.7L1279.5 778.3L1277 777.4L1273.2 773L1267.5 769.6L1262.5 764.2L1255.5 751L1251.3 736.5L1249.6 723L1247.5 717L1246.6 707L1244.5 694L1244.8 685L1243.1 676.5L1243.5 675L1246 670.5L1246.2 669L1245.5 667.7L1244.5 667.6L1243.5 668.6L1240.7 675L1234 680L1229.5 685.8L1224.5 688.5L1220.5 691.5L1218 692.4L1206.5 692.8L1196 690.5L1191.5 688.7L1187.5 686.4L1185 684.1L1181.7 680L1179.9 676.5L1178.5 670.8L1176.6 665.5L1176.4 663L1176.7 658.5L1176.2 653L1177.4 650L1183.8 640L1186.5 637.1L1190.5 633.8L1197 630.4L1206.5 627.4L1209 627.1L1222.5 629.6L1236.5 637.1L1241 637.7L1244.5 637.4L1246 636.6L1247.5 634.9L1251.1 627.5L1254.4 622.5L1261.5 616.2L1274 608.3L1278.5 606.4L1285 605L1287.5 604.8L1290.5 605.3L1299.5 608.5L1303 611L1308.1 617L1312.6 624L1316.3 633.5L1319.8 645L1321.1 655L1323.9 663.5L1325.7 685L1325.6 690L1324.9 697L1325.2 709.5L1322.4 727L1320.1 736.5L1315.9 750L1311.6 759.5L1310.1 762L1306.6 766L1304 770.3L1302.5 771.9L1300.5 773.1L1296 774.9L1292 777.4ZM1290 773.6L1287.5 773.6L1282.5 771.8L1278 771.1L1270 767.2L1263.8 760L1258 749.1L1256.3 745L1253.1 734L1252.5 728.5L1252.4 722.5L1249.9 714L1248.3 703L1247.4 694L1247.8 687.5L1247.5 677L1249.9 669.5L1250.6 666L1250.4 664.5L1248.5 661.5L1248.1 660L1248.5 658.5L1250.4 655.5L1250.5 654L1250 653.1L1248.5 652.3L1246.5 652.6L1244.5 653.8L1242.5 655.8L1240.5 658.5L1239.3 661L1239.2 667.5L1238 671L1220 688.1L1217.5 689.4L1215 689.7L1206 688.9L1202.5 688.1L1193.1 684.5L1190 682.7L1188.1 681L1184.6 677L1183.4 675L1180.7 665L1180.9 658L1179.9 653.5L1180.3 652L1185.8 642.5L1193.5 635.2L1197 633.2L1200 632.1L1207 630.6L1209.5 630.6L1224 634.3L1229 636.2L1235 639.8L1247 642.5L1248.1 642L1249.3 640.5L1251.1 635L1253.9 628.5L1257 623.5L1263.5 618L1268.5 615.2L1273.5 611.6L1276.5 610.1L1287 607.7L1295 609.6L1298 610.8L1301 612.7L1306.8 619L1311 626L1314.3 634L1317.4 643L1318.2 646.5L1319.1 655.5L1321.9 663.5L1322.2 673L1323.4 683L1323.5 689.5L1322.7 696L1323.2 703L1323.1 708.5L1320 726.5L1312.5 750L1307.2 759.5L1303.1 764.5L1300.5 768.8L1298.5 770.2ZM1289 769.1L1287 769.1L1279 767.3L1273.5 765.2L1271.5 764L1268.3 760.5L1265.1 753L1260.1 746L1255 730.5L1254.6 722L1252.6 715L1250.8 705L1251 698L1250.2 693L1250.6 688L1250.2 683L1250.4 679.5L1252.7 669.5L1254.6 664L1254.5 662.5L1253.4 659.5L1253.9 654L1252.4 648.5L1252.3 646L1253.9 637L1256.4 632L1257.7 628L1259.6 625L1265.5 619.6L1271 617L1277.5 613L1284 610.8L1286.5 610.4L1297 613.3L1299.5 614.6L1301.5 616.1L1305.5 621L1308.7 626.5L1312.3 634L1316.2 644.5L1317.5 656.1L1320.1 663.5L1320.1 673.5L1321.2 681L1321.4 687.5L1320.7 695.5L1321 702L1320.6 707.5L1318.4 723L1317.5 726L1314.8 732L1311.2 745L1305.8 755.5L1304 758.2L1302 759.9L1297.9 762.5L1294.5 766.8ZM1216 686.1L1213 686.3L1204.5 685.3L1196.5 681.8L1190.3 676.5L1188.3 673.5L1185.9 668.5L1184.7 663L1184.6 659.5L1185.1 654L1187.3 648L1188.7 645.5L1194.5 638.4L1197 636.2L1200 634.8L1203.5 634.2L1209 634.2L1225 637.5L1228 638.6L1233 641.6L1240 644L1241.5 645.1L1242.7 647L1242.9 648.5L1242.5 650L1238 655L1236.5 657.9L1235.3 662L1235.1 667L1234.5 668.6L1231.5 671.5L1228.7 676L1226.9 678L1220.8 682.5L1218 685.1ZM1285.5 764L1282.5 764.3L1280 763.7L1274 761.2L1271.5 759.2L1270 756.5L1268.7 751L1264.1 744.5L1262.4 738.5L1257.9 730L1257.3 728L1256.8 722L1255.1 715.5L1253.3 705L1253.2 702.5L1253.9 697.5L1253 692.5L1252.7 684.5L1253 682L1254.5 676L1255 670L1257.1 663.5L1255.9 647L1257.4 638L1259.1 634L1260.7 628.5L1262.1 626.5L1267.5 621.4L1272.9 619L1279.5 615L1283 613.7L1285.5 613.3L1287.5 613.7L1291.5 615.5L1297.5 616.5L1300.5 618.2L1302.9 621L1311.1 635.5L1314.9 645.5L1316.1 657L1318.2 664L1318.1 675L1319.2 681.5L1319.4 688.5L1318.7 696L1318.7 701L1317.8 705.5L1317.8 710.5L1316.9 718.5L1315.7 723.5L1311.7 732.5L1310.1 740.5L1309.3 743L1305 749.5L1303.1 754L1302 755.6L1290 762.4ZM1213.5 682.6L1211 682.8L1204.5 681.8L1202 680.7L1198 678L1193.5 674.6L1191.5 672.3L1189.4 668.5L1188.1 664L1187.7 661.5L1187.8 659L1188.9 653L1190.2 649.5L1194 644.4L1197 641.3L1199.7 639L1202.5 637.9L1206 637.4L1210.5 637.4L1219.5 638.6L1223.5 639.5L1226.5 640.6L1234.8 645L1236.8 646.5L1237.6 648L1237.3 650L1234.5 654.8L1230.3 666L1226 675.1L1223 677.9ZM1285 758.6L1282 758.9L1279 758.1L1277.6 757L1274 752.8L1268.3 744.5L1266 739L1260.5 728L1257.7 716.5L1256 705L1255.9 702.5L1256.5 697L1255.4 686L1256.7 679.5L1257.1 671L1259.4 662L1259.6 646L1260.8 638.5L1262.6 630.5L1264 628.4L1269.5 623.5L1274 621.3L1279.5 617.8L1282 616.8L1284.5 616.4L1296 618.8L1299 620.3L1300.5 621.9L1302.7 625.5L1306 629.8L1309.7 636.5L1313.6 647L1314.8 657.5L1316.3 664.5L1316.3 675.5L1317 681.5L1317.3 689.5L1316.3 700L1315.3 705L1315.5 711L1315 715.2L1308.7 734L1306.9 741.5L1305 744.5L1299.5 751.4L1293 755.5ZM1213.5 678.5L1210.5 678.8L1206.5 678.1L1198.2 674L1195.4 671.5L1193.5 669L1191.7 665L1190.9 662L1191.7 653L1192.4 651L1193.5 649.3L1197.5 645.4L1201 642.8L1205 640.9L1209 640L1214 640.1L1222.7 642L1230.7 645.5L1232.5 647L1233.2 648.5L1233 650.5L1231.5 654L1230.1 659L1223.2 674L1220.5 676.3ZM1287 753.6L1284.5 753.9L1282.1 753L1275 748.3L1272.5 745.5L1270.5 739.6L1265.7 733L1262.1 723L1260.3 716.5L1258.6 702.5L1259.5 683L1259 676.5L1259.1 673L1261.6 662L1262.8 645L1264.9 636.5L1265.5 632L1266.9 630L1272 625.6L1280 620.6L1284.5 619.6L1293.5 620.7L1296.7 622L1304.5 630.5L1307.3 635.5L1311.4 645.5L1312.4 649.5L1314.5 666.5L1315.1 681.5L1315.2 691L1313 704L1312.9 712.5L1310.6 718.5L1307.3 730L1305.3 734.5L1304.1 738.5L1299.4 746L1298 747.5L1291.5 750.1L1288.5 752.8ZM1212.5 675.5L1208 675.1L1202 672.8L1200 671.6L1198.3 669.5L1195.2 663.5L1194.3 660L1194.8 654L1196 651.5L1199.6 649L1204.2 645L1208.5 642.8L1211.5 642.2L1214.5 642.5L1218.8 644L1226.8 648L1227.8 649.5L1227.1 652.5L1227.3 656.5L1227 658.5L1225 663L1222.3 667L1220.8 672L1219.6 673.5L1218 674.4ZM1281.5 747L1278 746.5L1275.5 744.5L1273.3 738L1269.2 733L1268.1 731L1266.4 724L1263.5 717L1261.6 707.5L1261.1 696L1262.7 685L1261.3 678L1261.2 675.5L1262.4 668L1263.8 662.5L1266.1 645L1268.8 639L1270.4 632.5L1272.4 629.5L1274.5 627.7L1282 623.3L1285.5 622.7L1293.5 623.9L1296.5 625.4L1303.6 632L1307.9 641L1310.4 648.5L1311.9 656.5L1313 671L1313.2 690L1312.8 693L1311 700.2L1310.4 705L1310.2 712.5L1307.7 718L1304.3 729L1300.6 736L1297.3 740L1295.7 744L1294.5 745.2L1292.5 745.7L1287 745.5ZM1213 671.6L1209 671.6L1202.9 669.5L1201.6 668L1200.3 664.5L1198.3 661L1197.9 659.5L1198.3 657.5L1199.3 656L1203.6 652.5L1208.5 647L1210.5 645.7L1212 645.3L1214.9 646L1217.4 648L1222.2 654L1223.1 657L1222.3 660.5L1218.3 665.5L1216.5 669.9L1215.1 671ZM1284 743L1280.5 743.4L1278.6 742.5L1275.5 736L1271.5 731.4L1270.2 729L1269.9 719L1269 716.8L1265.7 712L1264.6 708.5L1264.5 703L1263.6 696.5L1264.8 684.5L1263.8 677L1264.7 669.5L1266.3 663.5L1267 653.5L1272.5 636.5L1275.3 632L1277 630.1L1283 626L1285.5 625.5L1296 628.2L1300.7 631.5L1303 634.5L1307.3 644L1310.1 654L1310.5 658L1310.6 664L1311.6 671.5L1311.7 680L1311.3 690.5L1307.9 704.5L1307.7 712L1304.4 719L1301.5 728L1299.9 730.5L1297 733.3L1290.7 736.5L1289.9 737.5L1289.3 740L1288.5 741.2L1287 742.1ZM1212.5 665.1L1210.5 665.3L1208.5 664.6L1204.8 661L1203.7 659L1204.2 657.5L1205.5 656L1210.5 651.5L1212.5 650.7L1213.5 651L1214.7 652.5L1216.9 657L1217.3 659L1216.8 661L1216 662.5L1214.5 664.1ZM1290 732.5L1288 732.6L1284 731.5L1278.5 731.8L1275 730L1273.6 728.5L1273.2 726.5L1273.6 722L1272.7 717.5L1271.8 715.5L1268.6 711.5L1267.7 709.5L1267.7 702.5L1266.3 696L1266.8 685.5L1266.7 672.5L1267.3 669.5L1269.1 664L1268.6 657L1269.2 653L1273.6 639.5L1274.6 637.5L1280 631.5L1284 628.7L1286.5 628.1L1289 628.5L1295.5 630.6L1299.5 633.3L1301.5 635.8L1305.8 645L1308.6 654L1309 657.5L1309 664L1310.2 673L1309.6 689.5L1305.5 704.5L1305.3 710.5L1304.9 712.5L1301.4 718.5L1299.9 723.5L1298 727L1294.8 730ZM1289.5 728.5L1285.5 727.4L1280.5 726.7L1279.4 726L1278.3 724.5L1275.3 715L1274.3 713.5L1271.5 710.8L1270.6 709L1270.6 702.5L1269.3 696.5L1268.8 688.5L1268.9 672L1271.4 664L1270.9 655.5L1272.5 649.8L1274.4 645L1275.3 641L1276.6 638.5L1281 634L1285 631.4L1287.5 630.6L1291 631.2L1295 632.9L1298.5 635.4L1300.4 638L1304.2 646.5L1306.9 654L1307.4 657L1307.6 663.5L1308.7 672L1308.4 683.5L1307.7 688.5L1306.4 695L1301.2 711.5L1298.4 717L1296.5 722L1293.1 725L1291 727.7ZM1285.5 721.5L1283 721.4L1281 719.4L1278.2 712L1275.7 707.5L1272.8 699L1271.8 694L1270.9 683L1271.1 677L1270.8 672.5L1273.1 665L1273.1 658L1273.4 655.5L1276.8 646.5L1278.1 641L1279.6 639L1283.4 635.5L1286 634L1288.5 633.4L1291.5 634.1L1295 635.6L1297.5 637.4L1299 639.5L1305.4 654.5L1307.1 671.5L1306.4 684.5L1304.4 694.5L1301.5 702.9L1297.4 710L1295.5 715L1293.7 718L1292 719.3ZM1287.5 715.5L1285.5 715.2L1284.1 714L1282.5 710.5L1279.1 706.5L1275.9 699L1274.9 693L1274.6 687.5L1273.1 682L1273.2 677L1272.7 672.5L1274.5 666L1275.5 657L1280.4 643L1282 640.9L1286 637.8L1288 636.9L1290 636.7L1292.5 637.1L1295 638.1L1296.7 639.5L1297.9 641.5L1303.7 655L1305.6 669.5L1304.7 675.5L1304.5 683.5L1300.1 700.5L1298.8 703L1290.5 714L1289 715.2ZM1289.5 709L1287 709L1284.3 707L1282.2 704.5L1278.9 699L1277.2 687.5L1275.9 681.5L1274.9 672L1277.1 659L1279.2 651.5L1281.5 645.2L1282.5 643.6L1284 642.3L1288.5 639.8L1291 639.2L1293.5 639.7L1295.7 641.5L1301.4 653.5L1303 659L1303.9 668.5L1302.7 674.5L1302.7 683L1300.9 689L1298.7 693.5L1298 699.5L1292.5 706.8ZM1290 701L1287 700.8L1284 699.9L1282.5 699L1281.4 697.5L1278.8 685.5L1276.9 670.5L1278.5 660.5L1280.5 652.5L1282.7 646.5L1284 644.7L1285.5 643.7L1289.5 642.2L1291.5 642L1293.1 642.5L1294.4 644L1300.4 655L1301.9 660.5L1302.3 667.5L1301 674.5L1301.2 682L1299.9 687L1296.6 692.5L1295.9 697.5L1295.1 699L1293 700.5ZM1289 696L1286 696.1L1284.5 695.5L1283.5 694.2L1281.9 690.5L1280.4 685.5L1278.7 670L1279.6 662L1282.4 651.5L1284.5 647L1286 645.9L1287.5 645.6L1289 645.9L1290.5 646.6L1295.5 650.9L1297.5 653.2L1299.9 657.5L1300.9 663L1300.6 668.5L1299.6 674.5L1299.8 681L1298.6 686L1297.6 688L1294.7 691.5L1292.5 695.1L1291.5 695.7ZM1290 692.6L1288 692.8L1286.5 692.4L1285.4 691.5L1284 689.6L1282.2 685.5L1280.7 676.5L1280.2 667.5L1281.5 659L1284 651.6L1285.5 649.5L1287 648.9L1289 649.6L1296.5 654.7L1298.7 658L1299.6 662L1298.2 675L1298.3 680.5L1297.6 684L1296.8 686L1295.5 687.9L1292 691.5ZM1290 690.2L1288 690.1L1286.4 688.5L1284.9 685L1282.1 676L1281.6 667L1282.6 659.5L1284.9 653L1286 651.9L1287.5 651.4L1291 652.8L1295.6 656L1297.5 658.5L1298.3 661.5L1296.1 683L1294 686.8L1291.5 689.3ZM1291.5 684.1L1291 683.7L1290 681.3L1286.5 679.8L1285 678.7L1283.6 676L1283.7 672L1282.9 666.5L1283.4 661L1285.3 655L1286.5 653.6L1287.5 653.1L1290 653.7L1293.3 656L1295.6 658.5L1296.6 661L1295.4 673.5L1293 682.5ZM1290 677.1L1287.5 677.2L1285.8 676L1285.6 671.5L1284.2 666.5L1284.3 662L1285 658.6L1286.5 655.6L1288 654.7L1289.5 654.9L1291.3 656L1292.6 657.5L1293.3 659.5L1293.7 665.5L1293 670L1293.2 673.5L1292.1 676ZM1289.5 669.7L1288 669.8L1286.5 668.9L1285.7 667.5L1285.2 665.5L1285.3 661.5L1285.9 659L1287 657L1288.5 656.2L1290 656.8L1290.8 658L1291.1 662L1291.8 665.5L1291.2 668ZM1289.5 667.6L1288.5 668L1287.5 667.7L1286.5 666.5L1286.2 665L1286.6 660.5L1287.5 658.6L1288.5 658.2L1289 658.5L1289.5 659.5L1290.4 665L1290.2 666.5Z" fill="none" stroke="#555" stroke-width="0.8"/>
</g>
<rect x="1061.4" y="509.2" width="316.6" height="314.6" fill="none" stroke="#000" stroke-width="3.4"/>
<path d="M1239.1 509.2V823.8M1061.4 643H1378" stroke="#000" stroke-width="3.4" fill="none"/>
<path d="M1052.4 507H1060.4M1052.4 559.7H1060.4M1052.4 612.3H1060.4M1052.4 665H1060.4M1052.4 718.6H1060.4M1052.4 770.6H1060.4M1052.4 823.8H1060.4" stroke="#000" stroke-width="1.8" fill="none"/>
<path d="M1055.9 543.8H1060.4M1055.9 534.6H1060.4M1055.9 528H1060.4M1055.9 522.9H1060.4M1055.9 518.7H1060.4M1055.9 515.2H1060.4M1055.9 512.1H1060.4M1055.9 509.4H1060.4M1055.9 596.5H1060.4M1055.9 587.3H1060.4M1055.9 580.7H1060.4M1055.9 575.6H1060.4M1055.9 571.4H1060.4M1055.9 567.9H1060.4M1055.9 564.8H1060.4M1055.9 562.1H1060.4M1055.9 649.1H1060.4M1055.9 639.9H1060.4M1055.9 633.3H1060.4M1055.9 628.2H1060.4M1055.9 624H1060.4M1055.9 620.5H1060.4M1055.9 617.4H1060.4M1055.9 614.7H1060.4M1055.9 701.8H1060.4M1055.9 692.6H1060.4M1055.9 686H1060.4M1055.9 680.9H1060.4M1055.9 676.7H1060.4M1055.9 673.2H1060.4M1055.9 670.1H1060.4M1055.9 667.4H1060.4M1055.9 755.4H1060.4M1055.9 746.2H1060.4M1055.9 739.6H1060.4M1055.9 734.5H1060.4M1055.9 730.3H1060.4M1055.9 726.8H1060.4M1055.9 723.7H1060.4M1055.9 721H1060.4M1055.9 807.4H1060.4M1055.9 798.2H1060.4M1055.9 791.6H1060.4M1055.9 786.5H1060.4M1055.9 782.3H1060.4M1055.9 778.8H1060.4M1055.9 775.7H1060.4M1055.9 773H1060.4" stroke="#000" stroke-width="1" fill="none"/>
<text x="1048.9" y="566.3" font-size="11.2" font-family="'DejaVu Sans', 'Liberation Sans', sans-serif" fill="#222" text-anchor="end" letter-spacing="0.4">10<tspan dy="-5" font-size="9.2">4</tspan></text>
<text x="1048.9" y="618.9" font-size="11.2" font-family="'DejaVu Sans', 'Liberation Sans', sans-serif" fill="#222" text-anchor="end" letter-spacing="0.4">10<tspan dy="-5" font-size="9.2">3</tspan></text>
<text x="1048.9" y="671.6" font-size="11.2" font-family="'DejaVu Sans', 'Liberation Sans', sans-serif" fill="#222" text-anchor="end" letter-spacing="0.4">10<tspan dy="-5" font-size="9.2">2</tspan></text>
<text x="1048.9" y="725.2" font-size="11.2" font-family="'DejaVu Sans', 'Liberation Sans', sans-serif" fill="#222" text-anchor="end" letter-spacing="0.4">10<tspan dy="-5" font-size="9.2">1</tspan></text>
<text x="1048.9" y="777.2" font-size="11.2" font-family="'DejaVu Sans', 'Liberation Sans', sans-serif" fill="#222" text-anchor="end" letter-spacing="0.4">10<tspan dy="-5" font-size="9.2">0</tspan></text>
<text x="1048.9" y="823.3" font-size="11.2" font-family="'DejaVu Sans', 'Liberation Sans', sans-serif" fill="#222" text-anchor="end" letter-spacing="0.4">10<tspan dy="-5" font-size="9.2">-1</tspan></text>
<text x="1048.9" y="526" font-size="11.2" font-family="'DejaVu Sans', 'Liberation Sans', sans-serif" fill="#222" text-anchor="end" letter-spacing="0.4">10<tspan dy="-5" font-size="9.2">5</tspan></text>
<path d="M1062.3 823.8V831.8M1114.9 823.8V831.8M1166.9 823.8V831.8M1220.2 823.8V831.8M1272.8 823.8V831.8M1325.4 823.8V831.8M1377.4 823.8V831.8" stroke="#000" stroke-width="1.8" fill="none"/>
<path d="M1078.1 823.8V828.3M1087.4 823.8V828.3M1094 823.8V828.3M1099.1 823.8V828.3M1103.2 823.8V828.3M1106.8 823.8V828.3M1109.8 823.8V828.3M1112.5 823.8V828.3M1130.7 823.8V828.3M1140 823.8V828.3M1146.6 823.8V828.3M1151.7 823.8V828.3M1155.8 823.8V828.3M1159.4 823.8V828.3M1162.4 823.8V828.3M1165.1 823.8V828.3M1182.7 823.8V828.3M1192 823.8V828.3M1198.6 823.8V828.3M1203.7 823.8V828.3M1207.8 823.8V828.3M1211.4 823.8V828.3M1214.4 823.8V828.3M1217.1 823.8V828.3M1236 823.8V828.3M1245.3 823.8V828.3M1251.9 823.8V828.3M1257 823.8V828.3M1261.1 823.8V828.3M1264.7 823.8V828.3M1267.7 823.8V828.3M1270.4 823.8V828.3M1288.6 823.8V828.3M1297.9 823.8V828.3M1304.5 823.8V828.3M1309.6 823.8V828.3M1313.7 823.8V828.3M1317.3 823.8V828.3M1320.3 823.8V828.3M1323 823.8V828.3M1341.2 823.8V828.3M1350.5 823.8V828.3M1357.1 823.8V828.3M1362.2 823.8V828.3M1366.3 823.8V828.3M1369.9 823.8V828.3M1372.9 823.8V828.3M1375.6 823.8V828.3" stroke="#000" stroke-width="1" fill="none"/>
<text x="1081.3" y="853" font-size="11.2" font-family="'DejaVu Sans', 'Liberation Sans', sans-serif" fill="#222" text-anchor="middle" letter-spacing="0.4">10<tspan dy="-5" font-size="9.2">-1</tspan></text>
<text x="1125.9" y="853" font-size="11.2" font-family="'DejaVu Sans', 'Liberation Sans', sans-serif" fill="#222" text-anchor="middle" letter-spacing="0.4">10<tspan dy="-5" font-size="9.2">0</tspan></text>
<text x="1176.9" y="853" font-size="11.2" font-family="'DejaVu Sans', 'Liberation Sans', sans-serif" fill="#222" text-anchor="middle" letter-spacing="0.4">10<tspan dy="-5" font-size="9.2">1</tspan></text>
<text x="1230.2" y="853" font-size="11.2" font-family="'DejaVu Sans', 'Liberation Sans', sans-serif" fill="#222" text-anchor="middle" letter-spacing="0.4">10<tspan dy="-5" font-size="9.2">2</tspan></text>
<text x="1282.3" y="853" font-size="11.2" font-family="'DejaVu Sans', 'Liberation Sans', sans-serif" fill="#222" text-anchor="middle" letter-spacing="0.4">10<tspan dy="-5" font-size="9.2">3</tspan></text>
<text x="1335.4" y="853" font-size="11.2" font-family="'DejaVu Sans', 'Liberation Sans', sans-serif" fill="#222" text-anchor="middle" letter-spacing="0.4">10<tspan dy="-5" font-size="9.2">4</tspan></text>
<text x="1367.4" y="853" font-size="11.2" font-family="'DejaVu Sans', 'Liberation Sans', sans-serif" fill="#222" text-anchor="middle" letter-spacing="0.4">10<tspan dy="-5" font-size="9.2">5</tspan></text>
<path d="M997.3 736.8V522.5" stroke="#000" stroke-width="4.6" fill="none"/>
<path d="M997.3 503.5L987.1 523.5L1007.5 523.5Z"/>
<text x="1008" y="828.4" font-size="31" transform="rotate(-90 1008 828.4)" textLength="77" lengthAdjust="spacingAndGlyphs">CD56</text>
<text x="1067.7" y="881" font-size="31" textLength="60" lengthAdjust="spacingAndGlyphs">CD3</text>
<path d="M1134.4 869H1349.5" stroke="#000" stroke-width="4.6" fill="none"/>
<path d="M1369 869L1348.5 858.8L1348.5 879.2Z"/>
<text x="1081.6" y="544.7" font-size="31" textLength="60" lengthAdjust="spacingAndGlyphs">2.87</text>
<text x="1310" y="544.7" font-size="31" textLength="60" lengthAdjust="spacingAndGlyphs">8.34</text>
<text x="1082.5" y="805.8" font-size="31" textLength="58" lengthAdjust="spacingAndGlyphs">10.1</text>
<text x="1311" y="805.8" font-size="31" textLength="59" lengthAdjust="spacingAndGlyphs">78.7</text>
<defs><filter id="bl" x="-5%" y="-5%" width="110%" height="110%"><feGaussianBlur stdDeviation="0.8"/></filter></defs>
<text x="-1" y="946" font-size="37" font-weight="bold">b</text>
<circle cx="78.3" cy="1005.5" r="11.3" fill="#f07474"/>
<circle cx="280.4" cy="1005.5" r="11.3" fill="#4fd0c6"/>
<text x="103" y="1017.1" font-size="31" textLength="129" lengthAdjust="spacingAndGlyphs">Other NK</text>
<text x="305.3" y="1017.1" font-size="31" textLength="158" lengthAdjust="spacingAndGlyphs">SPON2<tspan dy="-9.5" font-size="21">+</tspan><tspan dy="9.5">NK</tspan></text>
<defs><path id="q1" d="M283 1040h1m-29 1h1m7 0h1m14 0h1m18 0h1m-63 2h1m9 1h1m4 0h1m1 0h1m-23 1h1m41 0h1m2 0h1m2 0h1m21 0h1m13 0h1m-80 1h1m6 0h1m20 0h1m20 0h1m2 0h1m-9 1h1m-33 1h1m41 0h1m-18 1h1m43 0h1m-23 1h1m9 0h1m-13 1h1m13 0h1m-89 1h1m65 0h1m-74 1h1m17 0h1m0 0h1m28 0h1m44 0h1m14 0h1m-95 1h1m32 0h1m1 0h1m14 0h1m36 0h1m2 0h1m0 0h1m-116 1h1m22 0h1m36 0h1m36 0h1m2 0h1m19 0h1m-75 1h1m9 0h1m11 0h1m9 0h1m41 0h1m-49 1h1m0 0h1m7 0h1m11 1h1m41 0h1m4 0h1m-109 1h1m4 0h1m41 0h1m28 0h1m6 0h1m15 0h1m3 0h1m3 0h1m0 0h1m6 0h1m-141 1h1m78 0h1m1 0h1m8 0h1m9 0h1m-117 1h1m108 0h1m27 0h1m10 0h1m5 0h1m-145 1h1m31 0h1m92 0h1m-50 1h1m28 0h1m37 0h1m-116 1h1m48 0h1m41 0h1m27 0h1m-159 1h1m48 0h1m12 0h1m0 0h1m16 0h1m21 0h1m4 0h1m-111 1h1m15 0h1m3 0h1m33 0h1m12 0h1m2 0h1m39 0h1m-108 1h1m105 0h1m31 0h1m15 0h1m-121 1h1m0 0h1m3 0h1m3 0h1m1 0h1m4 0h1m2 0h1m17 0h1m-43 1h1m10 0h1m19 0h1m48 0h1m41 0h1m5 0h1m-89 1h1m38 0h1m7 0h1m-53 1h1m87 0h1m-140 1h1m48 0h1m47 0h1m23 0h1m25 0h1m-156 1h1m-7 1h1m83 0h1m27 0h1m25 0h1m11 0h1m27 0h1m-188 1h1m31 0h1m49 0h1m44 0h1m-113 1h1m27 0h1m46 0h1m23 0h1m-109 1h1m47 0h1m3 0h1m1 0h1m49 0h1m10 0h1m26 0h1m1 0h1m12 0h1m12 0h1m-157 1h1m12 0h1m61 0h1m14 0h1m15 0h1m0 0h1m63 0h1m-86 1h1m-32 1h1m56 0h1m2 0h1m-133 1h1m126 0h1m1 0h1m57 0h1m-148 1h1m30 0h1m5 0h1m31 0h1m12 0h1m35 0h1m3 0h1m21 0h1m-7 1h1m16 0h1m-200 1h1m2 0h1m43 0h1m48 0h1m38 0h1m-142 1h1m112 0h1m8 0h1m22 0h1m11 0h1m13 0h1m21 0h1m-202 1h1m66 0h1m63 0h1m43 0h1m5 0h1m-174 1h1m20 0h1m34 0h1m3 0h1m17 0h1m11 0h1m36 0h1m17 0h1m2 0h1m36 0h1m-186 1h1m0 0h1m9 0h1m81 0h1m8 0h1m34 0h1m64 0h1m-203 1h1m24 0h1m13 0h1m17 0h1m16 0h1m89 0h1m-108 1h1m57 0h1m24 0h1m4 0h1m1 0h1m20 0h1m21 0h1m9 0h1m4 0h1m-223 1h1m5 0h1m18 0h1m73 0h1m27 0h1m32 0h1m32 0h1m3 0h1m9 0h1m-161 1h1m-52 1h1m143 0h1m50 0h1m14 0h1m19 0h1m-231 1h1m11 0h1m15 0h1m4 0h1m0 0h1m10 0h1m30 0h1m77 0h1m26 0h1m0 0h1m44 0h1m-220 1h1m63 0h1m1 0h1m40 0h1m-28 1h1m25 0h1m27 0h1m18 0h1m1 0h1m45 0h1m13 0h1m2 0h1m-178 1h1m17 0h1m81 0h1m-150 1h1m167 0h1m62 0h1m-212 1h1m5 0h1m88 0h1m1 0h1m13 0h1m2 0h1m8 0h1m11 0h1m21 0h1m2 0h1m26 0h1m-100 1h1m45 0h1m2 0h1m17 0h1m8 0h1m0 0h1m12 0h1m-204 1h1m35 0h1m6 0h1m25 0h1m7 0h1m16 0h1m94 0h1m6 0h1m4 0h1m31 0h1m-225 1h1m10 0h1m11 0h1m42 0h1m7 0h1m9 0h1m51 0h1m4 0h1m26 0h1m-114 1h1m1 0h1m9 0h1m24 0h1m38 0h1m43 0h1m20 0h1m9 0h1m-182 1h1m7 0h1m72 0h1m36 0h1m59 0h1m3 0h1m10 0h1m2 0h1m-231 1h1m68 0h1m12 0h1m152 0h1m0 0h1m7 0h1m-240 1h1m9 0h1m31 0h1m32 0h1m21 0h1m7 0h1m65 0h1m25 0h1m-175 1h1m46 0h1m38 0h1m119 0h1m-237 1h1m17 0h1m18 0h1m18 0h1m0 0h1m48 0h1m28 0h1m42 0h1m0 0h1m17 0h1m0 0h1m22 0h1m22 0h1m-99 1h1m41 0h1m33 0h1m-206 1h1m46 0h1m15 0h1m17 0h1m47 0h1m62 0h1m3 0h1m20 0h1m13 0h1m-221 1h1m11 0h1m51 0h1m24 0h1m3 0h1m26 0h1m19 0h1m7 0h1m9 0h1m53 0h1m6 0h1m4 0h1m-217 1h1m34 0h1m47 0h1m15 0h1m11 0h1m35 0h1m15 0h1m40 0h1m-90 1h1m2 0h1m23 0h1m8 0h1m27 0h1m-207 1h1m32 0h1m9 0h1m5 0h1m8 0h1m67 0h1m37 0h1m-175 1h1m4 0h1m9 0h1m6 0h1m68 0h1m5 0h1m18 0h1m44 0h1m8 0h1m4 0h1m-172 1h1m57 0h1m19 0h1m23 0h1m61 0h1m38 0h1m1 0h1m7 0h1m36 0h1m1 0h1m-220 1h1m45 0h1m6 0h1m110 0h1m4 0h1m7 0h1m20 0h1m-170 1h1m1 0h1m19 0h1m31 0h1m59 0h1m18 0h1m53 0h1m-258 1h1m54 0h1m32 0h1m18 0h1m26 0h1m0 0h1m16 0h1m4 0h1m12 0h1m11 0h1m6 0h1m21 0h1m4 0h1m5 0h1m7 0h1m9 0h1m-240 1h1m33 0h1m5 0h1m31 0h1m3 0h1m53 0h1m16 0h1m15 0h1m7 0h1m9 0h1m67 0h1m-244 1h1m27 0h1m25 0h1m22 0h1m12 0h1m17 0h1m58 0h1m10 0h1m1 0h1m4 0h1m28 0h1m3 0h1m-118 1h1m22 0h1m20 0h1m52 0h1m32 0h1m1 0h1m-177 1h1m36 0h1m82 0h1m10 0h1m36 0h1m24 0h1m-196 1h1m30 0h1m40 0h1m28 0h1m11 0h1m-155 1h1m37 0h1m102 0h1m29 0h1m-172 1h1m0 0h1m56 0h1m46 0h1m65 0h1m48 0h1m21 0h1m-210 1h1m13 0h1m2 0h1m2 0h1m24 0h1m10 0h1m71 0h1m79 0h1m-195 1h1m60 0h1m123 0h1m-237 1h1m73 0h1m16 0h1m12 0h1m24 0h1m40 0h1m7 0h1m32 0h1m28 0h1m5 0h1m-252 1h1m22 0h1m13 0h1m15 0h1m24 0h1m27 0h1m9 0h1m5 0h1m134 0h1m-260 1h1m60 0h1m14 0h1m2 0h1m29 0h1m7 0h1m7 0h1m37 0h1m35 0h1m0 0h1m49 0h1m-249 1h1m4 0h1m55 0h1m42 0h1m5 0h1m125 0h1m-241 1h1m38 0h1m1 0h1m9 0h1m68 0h1m7 0h1m86 0h1m15 0h1m27 0h1m-272 1h1m7 0h1m25 0h1m3 0h1m18 0h1m92 0h1m17 0h1m0 0h1m1 0h1m45 0h1m31 0h1m-210 1h1m6 0h1m65 0h1m51 0h1m88 0h1m6 0h1m-102 1h1m27 0h1m15 0h1m32 0h1m4 0h1m-171 1h1m20 0h1m27 0h1m14 0h1m107 0h1m0 0h1m26 0h1m-267 1h1m13 0h1m63 0h1m54 0h1m17 0h1m6 0h1m56 0h1m8 0h1m22 0h1m-261 1h1m52 0h1m3 0h1m59 0h1m2 0h1m46 0h1m14 0h1m3 0h1m12 0h1m26 0h1m11 0h1m6 0h1m-222 1h1m21 0h1m1 0h1m44 0h1m24 0h1m43 0h1m12 0h1m26 0h1m74 0h1m-262 1h1m10 0h1m5 0h1m135 0h1m8 0h1m25 0h1m30 0h1m-226 1h1m2 0h1m35 0h1m35 0h1m79 0h1m78 0h1m8 0h1m0 0h1m14 0h1m-268 1h1m3 0h1m29 0h1m7 0h1m6 0h1m1 0h1m21 0h1m46 0h1m46 0h1m-174 1h1m34 0h1m2 0h1m79 0h1m24 0h1m25 0h1m34 0h1m-202 1h1m23 0h1m12 0h1m68 0h1m13 0h1m51 0h1m35 0h1m34 0h1m16 0h1m10 0h1m6 0h1m1 0h1m-188 1h1m15 0h1m3 0h1m18 0h1m16 0h1m9 0h1m84 0h1m22 0h1m13 0h1m-275 1h1m20 0h1m2 0h1m26 0h1m2 0h1m3 0h1m7 0h1m98 0h1m45 0h1m-220 1h1m116 0h1m79 0h1m35 0h1m15 0h1m27 0h1m1 0h1m-255 1h1m91 0h1m55 0h1m-174 1h1m37 0h1m6 0h1m26 0h1m3 0h1m0 0h1m35 0h1m18 0h1m149 0h1m-274 1h1m9 0h1m75 0h1m29 0h1m18 0h1m20 0h1m10 0h1m26 0h1m43 0h1m2 0h1m0 0h1m-231 1h1m8 0h1m139 0h1m29 0h1m2 0h1m83 0h1m-261 1h1m41 0h1m28 0h1m5 0h1m35 0h1m13 0h1m38 0h1m15 0h1m24 0h1m-237 1h1m3 0h1m41 0h1m25 0h1m0 0h1m1 0h1m0 0h1m16 0h1m19 0h1m22 0h1m91 0h1m7 0h1m-118 1h1m48 0h1m39 0h1m42 0h1m9 0h1m-262 1h1m50 0h1m2 0h1m29 0h1m43 0h1m36 0h1m13 0h1m23 0h1m33 0h1m42 0h1m-276 1h1m69 0h1m16 0h1m1 0h1m12 0h1m13 0h1m43 0h1m13 0h1m70 0h1m2 0h1m-249 1h1m74 0h1m0 0h1m0 0h1m77 0h1m12 0h1m110 0h1m-269 1h1m2 0h1m8 0h1m18 0h1m46 0h1m56 0h1m5 0h1m35 0h1m9 0h1m18 0h1m19 0h1m35 0h1m2 0h1m-221 1h1m11 0h1m21 0h1m108 0h1m1 0h1m3 0h1m10 0h1m1 0h1m5 0h1m3 0h1m-234 1h1m16 0h1m31 0h1m12 0h1m87 0h1m65 0h1m5 0h1m46 0h1m6 0h1m-254 1h1m52 0h1m24 0h1m75 0h1m45 0h1m50 0h1m6 0h1m0 0h1m-285 1h1m52 0h1m5 0h1m23 0h1m129 0h1m12 0h1m49 0h1m-246 1h1m81 0h1m37 0h1m55 0h1m41 0h1m-227 1h1m1 0h1m0 0h1m1 0h1m66 0h1m11 0h1m8 0h1m35 0h1m18 0h1m71 0h1m6 0h1m40 0h1m-247 1h1m30 0h1m5 0h1m5 0h1m40 0h1m59 0h1m10 0h1m8 0h1m11 0h1m17 0h1m1 0h1m32 0h1m3 0h1m5 0h1m-291 1h1m13 0h1m86 0h1m99 0h1m11 0h1m54 0h1m-260 1h1m95 0h1m0 0h1m0 0h1m19 0h1m1 0h1m11 0h1m5 0h1m0 0h1m29 0h1m60 0h1m11 0h1m14 0h1m-243 1h1m56 0h1m16 0h1m83 0h1m43 0h1m8 0h1m27 0h1m-254 1h1m263 0h1m23 0h1m3 0h1m-233 1h1m9 0h1m8 0h1m12 0h1m6 0h1m17 0h1m47 0h1m9 0h1m9 0h1m90 0h1m-279 1h1m25 0h1m96 0h1m18 0h1m9 0h1m17 0h1m27 0h1m21 0h1m10 0h1m61 0h1m-254 1h1m23 0h1m91 0h1m31 0h1m22 0h1m1 0h1m11 0h1m-191 1h1m85 0h1m11 0h1m96 0h1m4 0h1m37 0h1m14 0h1m-284 1h1m71 0h1m13 0h1m11 0h1m11 0h1m17 0h1m103 0h1m0 0h1m3 0h1m4 0h1m17 0h1m-264 1h1m15 0h1m14 0h1m64 0h1m57 0h1m74 0h1m43 0h1m-274 1h1m3 0h1m51 0h1m65 0h1m19 0h1m3 0h1m9 0h1m58 0h1m-187 1h1m7 0h1m68 0h1m157 0h1m2 0h1m22 0h1m-303 1h1m39 0h1m11 0h1m4 0h1m25 0h1m71 0h1m8 0h1m51 0h1m14 0h1m41 0h1m29 0h1m-302 1h1m89 0h1m50 0h1m51 0h1m6 0h1m31 0h1m6 0h1m52 0h1m-275 1h1m0 0h1m9 0h1m14 0h1m11 0h1m51 0h1m6 0h1m23 0h1m4 0h1m36 0h1m8 0h1m16 0h1m3 0h1m12 0h1m59 0h1m18 0h1m-262 1h1m52 0h1m1 0h1m26 0h1m5 0h1m10 0h1m3 0h1m3 0h1m47 0h1m34 0h1m46 0h1m16 0h1m-262 1h1m14 0h1m30 0h1m16 0h1m46 0h1m51 0h1m8 0h1m41 0h1m12 0h1m-261 1h1m6 0h1m52 0h1m21 0h1m18 0h1m159 0h1m12 0h1m-260 1h1m39 0h1m66 0h1m1 0h1m12 0h1m111 0h1m13 0h1m35 0h1m-289 1h1m35 0h1m5 0h1m7 0h1m18 0h1m33 0h1m30 0h1m1 0h1m7 0h1m55 0h1m10 0h1m36 0h1m10 0h1m22 0h1m-253 1h1m2 0h1m70 0h1m25 0h1m5 0h1m13 0h1m4 0h1m16 0h1m11 0h1m25 0h1m59 0h1m2 0h1m0 0h1m-232 1h1m25 0h1m96 0h1m123 0h1m-300 1h1m7 0h1m59 0h1m62 0h1m0 0h1m29 0h1m33 0h1m15 0h1m-198 1h1m72 0h1m103 0h1m14 0h1m26 0h1m1 0h1m40 0h1m22 0h1m-226 1h1m17 0h1m42 0h1m10 0h1m0 0h1m57 0h1m5 0h1m-142 1h1m28 0h1m11 0h1m43 0h1m6 0h1m31 0h1m-195 1h1m8 0h1m8 0h1m30 0h1m68 0h1m42 0h1m23 0h1m72 0h1m-219 1h1m74 0h1m134 0h1m-210 1h1m0 0h1m3 0h1m26 0h1m24 0h1m67 0h1m14 0h1m4 0h1m63 0h1m-219 1h1m11 0h1m21 0h1m14 0h1m27 0h1m0 0h1m44 0h1m13 0h1m47 0h1m3 0h1m20 0h1m47 0h1m1 0h1m-247 1h1m19 0h1m33 0h1m17 0h1m25 0h1m15 0h1m8 0h1m15 0h1m11 0h1m11 0h1m8 0h1m14 0h1m5 0h1m-242 1h1m38 0h1m23 0h1m52 0h1m4 0h1m51 0h1m31 0h1m5 0h1m10 0h1m21 0h1m-195 1h1m35 0h1m6 0h1m3 0h1m7 0h1m36 0h1m27 0h1m12 0h1m6 0h1m7 0h1m4 0h1m56 0h1m25 0h1m-262 1h1m27 0h1m40 0h1m47 0h1m68 0h1m-188 1h1m28 0h1m39 0h1m7 0h1m91 0h1m27 0h1m54 0h1m-274 1h1m1 0h1m19 0h1m16 0h1m4 0h1m5 0h1m4 0h1m55 0h1m86 0h1m45 0h1m17 0h1m-263 1h1m15 0h1m93 0h1m19 0h1m21 0h1m5 0h1m36 0h1m4 0h1m11 0h1m10 0h1m58 0h1m-262 1h1m57 0h1m5 0h1m18 0h1m53 0h1m63 0h1m10 0h1m51 0h1m11 0h1m-222 1h1m26 0h1m7 0h1m16 0h1m13 0h1m48 0h1m15 0h1m18 0h1m61 0h1m-287 1h1m0 0h1m38 0h1m12 0h1m34 0h1m49 0h1m7 0h1m21 0h1m32 0h1m20 0h1m36 0h1m-229 1h1m71 0h1m108 0h1m65 0h1m-273 1h1m23 0h1m6 0h1m3 0h1m27 0h1m11 0h1m134 0h1m67 0h1m3 0h1m-264 1h1m34 0h1m65 0h1m20 0h1m7 0h1m74 0h1m-232 1h1m40 0h1m15 0h1m3 0h1m32 0h1m14 0h1m33 0h1m30 0h1m23 0h1m36 0h1m6 0h1m2 0h1m-218 1h1m77 0h1m2 0h1m74 0h1m15 0h1m20 0h1m-73 1h1m55 0h1m53 0h1m18 0h1m-260 1h1m166 0h1m12 0h1m12 0h1m8 0h1m33 0h1m6 0h1m10 0h1m-259 1h1m26 0h1m110 0h1m24 0h1m7 0h1m12 0h1m-164 1h1m28 0h1m45 0h1m44 0h1m35 0h1m31 0h1m12 0h1m47 0h1m1 0h1m-282 1h1m2 0h1m20 0h1m70 0h1m80 0h1m40 0h1m16 0h1m43 0h1m-233 1h1m0 0h1m35 0h1m8 0h1m65 0h1m11 0h1m7 0h1m21 0h1m8 0h1m26 0h1m-209 1h1m49 0h1m5 0h1m19 0h1m11 0h1m6 0h1m12 0h1m46 0h1m47 0h1m7 0h1m9 0h1m5 0h1m-254 1h1m1 0h1m39 0h1m86 0h1m104 0h1m-219 1h1m4 0h1m14 0h1m4 0h1m1 0h1m9 0h1m6 0h1m3 0h1m81 0h1m11 0h1m78 0h1m1 0h1m9 0h1m3 0h1m33 0h1m-264 1h1m11 0h1m52 0h1m84 0h1m-86 1h1m52 0h1m3 0h1m11 0h1m24 0h1m16 0h1m35 0h1m5 0h1m40 0h1m-283 1h1m2 0h1m13 0h1m30 0h1m33 0h1m4 0h1m42 0h1m13 0h1m6 0h1m4 0h1m18 0h1m94 0h1m-267 1h1m37 0h1m7 0h1m33 0h1m18 0h1m48 0h1m5 0h1m67 0h1m10 0h1m16 0h1m2 0h1m-150 1h1m133 0h1m-242 1h1m20 0h1m72 0h1m10 0h1m42 0h1m59 0h1m-185 1h1m14 0h1m46 0h1m34 0h1m53 0h1m18 0h1m35 0h1m27 0h1m-244 1h1m42 0h1m3 0h1m31 0h1m1 0h1m36 0h1m11 0h1m5 0h1m8 0h1m10 0h1m69 0h1m5 0h1m-235 1h1m77 0h1m70 0h1m95 0h1m13 0h1m-261 1h1m55 0h1m1 0h1m35 0h1m86 0h1m33 0h1m-216 1h1m11 0h1m164 0h1m19 0h1m29 0h1m15 0h1m-263 1h1m3 0h1m14 0h1m14 0h1m41 0h1m23 0h1m14 0h1m11 0h1m12 0h1m8 0h1m11 0h1m33 0h1m15 0h1m22 0h1m14 0h1m-230 1h1m8 0h1m30 0h1m29 0h1m63 0h1m23 0h1m38 0h1m17 0h1m5 0h1m0 0h1m-184 1h1m28 0h1m42 0h1m2 0h1m1 0h1m5 0h1m38 0h1m30 0h1m35 0h1m8 0h1m-257 1h1m1 0h1m18 0h1m58 0h1m6 0h1m20 0h1m21 0h1m29 0h1m19 0h1m13 0h1m5 0h1m-149 1h1m37 0h1m84 0h1m91 0h1m-261 1h1m89 0h1m40 0h1m116 0h1m-251 1h1m11 0h1m145 0h1m28 0h1m16 0h1m-185 1h1m9 0h1m52 0h1m178 0h1m-242 1h1m20 0h1m12 0h1m111 0h1m78 0h1m-237 1h1m10 0h1m51 0h1m20 0h1m9 0h1m11 0h1m3 0h1m16 0h1m17 0h1m7 0h1m4 0h1m69 0h1m-242 1h1m8 0h1m0 0h1m2 0h1m25 0h1m35 0h1m31 0h1m31 0h1m39 0h1m25 0h1m22 0h1m8 0h1m-237 1h1m45 0h1m81 0h1m6 0h1m10 0h1m8 0h1m31 0h1m48 0h1m-213 1h1m14 0h1m87 0h1m12 0h1m46 0h1m22 0h1m24 0h1m7 0h1m-173 1h1m4 0h1m34 0h1m3 0h1m9 0h1m29 0h1m19 0h1m26 0h1m50 0h1m22 0h1m-239 1h1m42 0h1m5 0h1m5 0h1m3 0h1m18 0h1m69 0h1m-135 1h1m2 0h1m34 0h1m54 0h1m18 0h1m19 0h1m49 0h1m37 0h1m-237 1h1m39 0h1m2 0h1m9 0h1m20 0h1m27 0h1m42 0h1m51 0h1m8 0h1m21 0h1m10 0h1m-210 1h1m12 0h1m39 0h1m9 0h1m5 0h1m29 0h1m2 0h1m75 0h1m-222 1h1m27 0h1m43 0h1m2 0h1m32 0h1m5 0h1m10 0h1m37 0h1m20 0h1m51 0h1m-254 1h1m2 0h1m37 0h1m50 0h1m4 0h1m17 0h1m60 0h1m18 0h1m-123 1h1m19 0h1m75 0h1m7 0h1m15 0h1m61 0h1m-165 1h1m22 0h1m26 0h1m4 0h1m55 0h1m7 0h1m-197 1h1m33 0h1m15 0h1m31 0h1m13 0h1m20 0h1m69 0h1m30 0h1m-208 1h1m56 0h1m53 0h1m68 0h1m1 0h1m5 0h1m1 0h1m1 0h1m4 0h1m30 0h1m1 0h1m1 0h1m-235 1h1m179 0h1m8 0h1m10 0h1m43 0h1m-221 1h1m48 0h1m87 0h1m14 0h1m47 0h1m1 0h1m-185 1h1m15 0h1m31 0h1m50 0h1m0 0h1m9 0h1m10 0h1m5 0h1m36 0h1m9 0h1m-199 1h1m18 0h1m37 0h1m-93 1h1m33 0h1m15 0h1m68 0h1m8 0h1m32 0h1m74 0h1m4 0h1m-230 1h1m8 0h1m40 0h1m29 0h1m64 0h1m14 0h1m-98 1h1m38 0h1m31 0h1m6 0h1m82 0h1m11 0h1m-220 1h1m4 0h1m19 0h1m27 0h1m6 0h1m40 0h1m7 0h1m10 0h1m6 0h1m32 0h1m43 0h1m-230 1h1m63 0h1m23 0h1m28 0h1m3 0h1m72 0h1m16 0h1m-197 1h1m37 0h1m22 0h1m4 0h1m4 0h1m73 0h1m26 0h1m7 0h1m13 0h1m32 0h1m-239 1h1m35 0h1m26 0h1m13 0h1m5 0h1m13 0h1m2 0h1m7 0h1m8 0h1m37 0h1m9 0h1m37 0h1m3 0h1m35 0h1m-187 1h1m20 0h1m13 0h1m42 0h1m44 0h1m8 0h1m53 0h1m3 0h1m-245 1h1m18 0h1m31 0h1m40 0h1m47 0h1m64 0h1m14 0h1m-210 1h1m12 0h1m73 0h1m13 0h1m57 0h1m9 0h1m27 0h1m-214 1h1m112 0h1m25 0h1m20 0h1m23 0h1m32 0h1m7 0h1m-58 1h1m10 0h1m-186 1h1m72 0h1m19 0h1m20 0h1m37 0h1m4 0h1m6 0h1m13 0h1m20 0h1m35 0h1m3 0h1m-224 1h1m19 0h1m10 0h1m21 0h1m23 0h1m66 0h1m54 0h1m39 0h1m-231 1h1m37 0h1m105 0h1m28 0h1m-175 1h1m4 0h1m85 0h1m28 0h1m16 0h1m-155 1h1m24 0h1m39 0h1m46 0h1m5 0h1m2 0h1m5 0h1m10 0h1m1 0h1m60 0h1m-154 1h1m60 0h1m30 0h1m13 0h1m5 0h1m37 0h1m8 0h1m19 0h1m-226 1h1m98 0h1m32 0h1m12 0h1m35 0h1m29 0h1m25 0h1m-232 1h1m5 0h1m7 0h1m14 0h1m18 0h1m17 0h1m65 0h1m10 0h1m40 0h1m32 0h1m-225 1h1m1 0h1m7 0h1m20 0h1m12 0h1m25 0h1m42 0h1m50 0h1m-101 1h1m13 0h1m1 0h1m2 0h1m16 0h1m71 0h1m39 0h1m-94 1h1m46 0h1m10 0h1m11 0h1m35 0h1m9 0h1m-181 1h1m31 0h1m0 0h1m1 0h1m63 0h1m21 0h1m21 0h1m1 0h1m-184 1h1m33 0h1m4 0h1m35 0h1m15 0h1m59 0h1m15 0h1m25 0h1m-195 1h1m7 0h1m53 0h1m135 0h1m14 0h1m-227 1h1m13 0h1m16 0h1m124 0h1m0 0h1m24 0h1m29 0h1m3 0h1m-213 1h1m5 0h1m85 0h1m7 0h1m26 0h1m13 0h1m0 0h1m-130 1h1m180 0h1m-100 1h1m30 0h1m8 0h1m10 0h1m22 0h1m9 0h1m-102 1h1m43 0h1m35 0h1m7 0h1m35 0h1m23 0h1m-229 1h1m29 0h1m12 0h1m43 0h1m45 0h1m34 0h1m42 0h1m-181 1h1m21 0h1m19 0h1m54 0h1m21 0h1m4 0h1m23 0h1m19 0h1m3 0h1m-191 1h1m17 0h1m26 0h1m14 0h1m27 0h1m12 0h1m47 0h1m26 0h1m31 0h1m-220 1h1m1 0h1m8 0h1m5 0h1m4 0h1m21 0h1m3 0h1m10 0h1m5 0h1m31 0h1m66 0h1m29 0h1m2 0h1m-167 1h1m51 0h1m56 0h1m9 0h1m13 0h1m-32 1h1m-114 1h1m44 0h1m26 0h1m47 0h1m-106 1h1m88 0h1m11 0h1m16 0h1m18 0h1m7 0h1m21 0h1m-191 1h1m40 0h1m8 0h1m13 0h1m57 0h1m4 0h1m-90 1h1m83 0h1m69 0h1m-186 1h1m66 0h1m32 0h1m15 0h1m-106 1h1m4 0h1m20 0h1m2 0h1m17 0h1m61 0h1m-133 1h1m87 0h1m12 0h1m28 0h1m17 0h1m0 0h1m3 0h1m13 0h1m-151 1h1m49 0h1m14 0h1m0 0h1m46 0h1m0 0h1m15 0h1m-120 1h1m44 0h1m66 0h1m24 0h1m-160 1h1m4 0h1m24 0h1m21 0h1m27 1h1m42 0h1m19 0h1m52 0h1m0 0h1m3 0h1m-198 1h1m26 0h1m19 0h1m87 0h1m-112 1h1m8 0h1m7 0h1m55 0h1m27 0h1m18 0h1m20 0h1m-159 1h1m5 0h1m7 0h1m16 0h1m71 0h1m43 0h1m6 0h1m13 0h1m13 0h1m-178 1h1m71 0h1m2 0h1m6 0h1m42 0h1m0 0h1m1 0h1m30 0h1m-104 1h1m0 0h1m2 0h1m18 0h1m79 0h1m-152 1h1m31 0h1m7 0h1m69 0h1m7 0h1m2 0h1m-123 1h1m69 0h1m6 0h1m3 0h1m48 0h1m-69 1h1m28 0h1m43 0h1m27 0h1m-57 1h1m9 0h1m20 0h1m-115 1h1m8 0h1m18 0h1m8 0h1m0 0h1m8 0h1m6 0h1m16 0h1m64 0h1m-161 1h1m2 0h1m48 0h1m30 0h1m19 0h1m26 0h1m-117 1h1m4 0h1m28 0h1m38 0h1m24 0h1m-66 1h1m66 0h1m-96 1h1m5 0h1m30 0h1m6 0h1m-46 1h1m36 0h1m3 0h1m4 0h1m72 0h1m17 0h1m-140 1h1m37 0h1m2 0h1m72 0h1m-75 1h1m60 0h1m-104 1h1m30 0h1m41 0h1m47 0h1m-114 1h1m1 0h1m34 0h1m1 0h1m20 0h1m26 0h1m-71 1h1m7 0h1m2 0h1m53 0h1m-40 1h1m14 0h1m-17 1h1m9 0h1m24 0h1m42 0h1m-96 1h1m14 0h1m15 0h1m23 0h1m-72 1h1m0 0h1m57 0h1m7 0h1m1 0h1m11 0h1m3 0h1m-89 2h1m42 0h1m29 0h1m-29 1h1m27 0h1m2 0h1m1 0h1m7 0h1m-74 2h1m66 0h1m-21 1h1m9 0h1m0 1h1m-56 1h1m13 0h1m25 0h1m1 1h1m-21 3h1"/></defs>
<g transform="translate(0 .5)" fill="none" stroke="#fbe3ea"><use href="#q1" stroke-width="2" filter="url(#bl)" opacity="0.7"/><use href="#q1" stroke-width="1.2" opacity="0.45"/></g>
<defs><path id="q2" d="M258 1048h1m6 3h1m11 0h1m-19 1h1m6 0h1m-2 1h1m15 0h1m-16 1h1m10 0h1m-17 1h1m10 0h1m-22 1h1m13 0h1m-6 1h1m4 0h1m14 0h1m-31 1h1m9 0h1m17 0h1m2 1h1m-20 1h1m6 0h1m26 0h1m-48 1h1m10 0h1m1 0h1m10 0h1m1 0h1m6 0h1m19 0h1m-57 1h1m9 0h1m3 0h1m14 0h1m27 0h1m-57 1h1m9 0h1m32 0h1m5 0h1m5 0h1m13 0h1m-64 1h1m25 0h1m10 0h1m2 0h1m-38 1h1m15 0h1m8 0h1m14 0h1m6 0h1m2 0h1m-53 1h1m11 0h1m18 0h1m1 0h1m1 0h1m15 0h1m8 0h1m-54 1h1m15 0h1m4 0h1m47 0h1m-80 1h1m2 0h1m14 0h1m2 0h1m2 0h1m4 0h1m10 0h1m-46 1h1m1 0h1m0 0h1m4 0h1m0 0h1m41 0h1m15 0h1m5 0h1m-58 1h1m22 0h1m1 0h1m33 0h1m0 0h1m-61 1h1m8 0h1m26 0h1m8 0h1m-43 1h1m1 0h1m10 0h1m9 0h1m26 0h1m8 0h1m38 0h1m-80 1h1m3 0h1m4 0h1m6 0h1m5 0h1m3 0h1m6 0h1m2 0h1m7 0h1m13 0h1m-99 1h1m15 0h1m19 0h1m0 0h1m8 0h1m5 0h1m4 0h1m11 0h1m8 0h1m4 0h1m1 0h1m11 0h1m6 0h1m-96 1h1m1 0h1m11 0h1m16 0h1m11 0h1m3 0h1m3 0h1m3 0h1m34 0h1m-101 1h1m5 0h1m4 0h1m13 0h1m2 0h1m24 0h1m0 0h1m6 0h1m3 0h1m2 0h1m4 0h1m4 0h1m11 0h1m15 0h1m-105 1h1m0 0h1m3 0h1m0 0h1m8 0h1m3 0h1m1 0h1m4 0h1m4 0h1m9 0h1m0 0h1m2 0h1m0 0h1m5 0h1m4 0h1m11 0h1m10 0h1m-71 1h1m4 0h1m8 0h1m4 0h1m2 0h1m20 0h1m16 0h1m7 0h1m8 0h1m0 0h1m-89 1h1m3 0h1m26 0h1m11 0h1m1 0h1m18 0h1m21 0h1m0 0h1m3 0h1m16 0h1m-97 1h1m4 0h1m11 0h1m1 0h1m0 0h1m8 0h1m0 0h1m0 0h1m1 0h1m14 0h1m17 0h1m15 0h1m13 0h1m0 0h1m9 0h1m-122 1h1m14 0h1m9 0h1m1 0h1m15 0h1m6 0h1m24 0h1m3 0h1m1 0h1m0 0h1m0 0h1m10 0h1m2 0h1m23 0h1m-122 1h1m0 0h1m3 0h1m35 0h1m6 0h1m0 0h1m2 0h1m24 0h1m2 0h1m0 0h1m12 0h1m16 0h1m-111 1h1m12 0h1m1 0h1m4 0h1m9 0h1m3 0h1m1 0h1m3 0h1m0 0h1m1 0h1m15 0h1m5 0h1m4 0h1m6 0h1m0 0h1m6 0h1m1 0h1m0 0h1m6 0h1m12 0h1m-102 1h1m5 0h1m34 0h1m3 0h1m17 0h1m28 0h1m1 0h1m6 0h1m-113 1h1m6 0h1m13 0h1m15 0h1m9 0h1m2 0h1m3 0h1m0 0h1m0 0h1m4 0h1m7 0h1m2 0h1m4 0h1m6 0h1m7 0h1m-70 1h1m6 0h1m3 0h1m9 0h1m2 0h1m3 0h1m14 0h1m3 0h1m1 0h1m10 0h1m2 0h1m1 0h1m1 0h1m0 0h1m0 0h1m3 0h1m10 0h1m4 0h1m17 0h1m-122 1h1m13 0h1m6 0h1m13 0h1m6 0h1m15 0h1m6 0h1m5 0h1m0 0h1m6 0h1m0 0h1m-75 1h1m17 0h1m2 0h1m1 0h1m0 0h1m0 0h1m3 0h1m8 0h1m5 0h1m1 0h1m5 0h1m17 0h1m3 0h1m2 0h1m33 0h1m-121 1h1m5 0h1m44 0h1m5 0h1m2 0h1m6 0h1m11 0h1m7 0h1m3 0h1m9 0h1m2 0h1m15 0h1m-112 1h1m10 0h1m0 0h1m3 0h1m8 0h1m4 0h1m5 0h1m4 0h1m5 0h1m6 0h1m0 0h1m9 0h1m11 0h1m10 0h1m19 0h1m-110 1h1m10 0h1m5 0h1m0 0h1m0 0h1m1 0h1m12 0h1m12 0h1m7 0h1m4 0h1m0 0h1m21 0h1m1 0h1m14 0h1m3 0h1m3 0h1m-109 1h1m4 0h1m11 0h1m5 0h1m21 0h1m13 0h1m4 0h1m0 0h1m6 0h1m24 0h1m3 0h1m9 0h1m-105 1h1m11 0h1m14 0h1m3 0h1m16 0h1m2 0h1m11 0h1m5 0h1m13 0h1m4 0h1m21 0h1m-125 1h1m7 0h1m9 0h1m3 0h1m1 0h1m3 0h1m4 0h1m9 0h1m6 0h1m6 0h1m5 0h1m10 0h1m7 0h1m-63 1h1m0 0h1m10 0h1m1 0h1m2 0h1m0 0h1m10 0h1m3 0h1m6 0h1m9 0h1m1 0h1m19 0h1m13 0h1m4 0h1m-94 1h1m26 0h1m13 0h1m31 0h1m6 0h1m7 0h1m0 0h1m2 0h1m-112 1h1m26 0h1m2 0h1m9 0h1m0 0h1m11 0h1m3 0h1m3 0h1m9 0h1m13 0h1m13 0h1m0 0h1m9 0h1m5 0h1m-114 1h1m24 0h1m6 0h1m0 0h1m0 0h1m15 0h1m27 0h1m8 0h1m22 0h1m-119 1h1m24 0h1m4 0h1m1 0h1m9 0h1m20 0h1m0 0h1m0 0h1m8 0h1m0 0h1m31 0h1m-93 1h1m0 0h1m0 0h1m12 0h1m0 0h1m5 0h1m7 0h1m21 0h1m2 0h1m6 0h1m9 0h1m0 0h1m11 0h1m0 0h1m2 0h1m1 0h1m-92 1h1m8 0h1m15 0h1m13 0h1m12 0h1m4 0h1m1 0h1m10 0h1m3 0h1m0 0h1m20 0h1m14 0h1m-113 1h1m0 0h1m13 0h1m0 0h1m14 0h1m4 0h1m36 0h1m9 0h1m-90 1h1m11 0h1m5 0h1m4 0h1m0 0h1m7 0h1m0 0h1m9 0h1m0 0h1m8 0h1m0 0h1m10 0h1m7 0h1m6 0h1m11 0h1m13 0h1m-84 1h1m1 0h1m12 0h1m2 0h1m4 0h1m7 0h1m0 0h1m4 0h1m5 0h1m2 0h1m0 0h1m15 0h1m5 0h1m1 0h1m24 0h1m-120 1h1m3 0h1m19 0h1m5 0h1m1 0h1m10 0h1m1 0h1m18 0h1m1 0h1m15 0h1m10 0h1m13 0h1m2 0h1m-86 1h1m0 0h1m4 0h1m24 0h1m6 0h1m5 0h1m15 0h1m0 0h1m2 0h1m13 0h1m4 0h1m9 0h1m-117 1h1m7 0h1m11 0h1m4 0h1m5 0h1m19 0h1m2 0h1m0 0h1m3 0h1m4 0h1m1 0h1m3 0h1m24 0h1m6 0h1m12 0h1m-107 1h1m6 0h1m4 0h1m44 0h1m1 0h1m1 0h1m2 0h1m1 0h1m38 0h1m-113 1h1m12 0h1m4 0h1m1 0h1m3 0h1m3 0h1m8 0h1m25 0h1m2 0h1m4 0h1m5 0h1m-78 1h1m25 0h1m15 0h1m7 0h1m4 0h1m12 0h1m-63 1h1m5 0h1m8 0h1m37 0h1m4 0h1m1 0h1m2 0h1m0 0h1m0 0h1m3 0h1m22 0h1m-95 1h1m17 0h1m17 0h1m1 0h1m9 0h1m0 0h1m4 0h1m4 0h1m25 0h1m2 0h1m11 0h1m0 0h1m-87 1h1m5 0h1m5 0h1m24 0h1m8 0h1m11 0h1m4 0h1m18 0h1m1 0h1m4 0h1m6 0h1m-69 1h1m4 0h1m16 0h1m2 0h1m12 0h1m1 0h1m14 0h1m0 0h1m1 0h1m-108 1h1m65 0h1m32 0h1m-95 1h1m2 0h1m9 0h1m6 0h1m1 0h1m33 0h1m0 0h1m6 0h1m0 0h1m6 0h1m0 0h1m2 0h1m3 0h1m1 0h1m11 0h1m0 0h1m-95 1h1m8 0h1m4 0h1m69 0h1m6 0h1m1 0h1m-90 1h1m0 0h1m60 0h1m2 0h1m14 0h1m7 0h1m-53 1h1m16 0h1m1 0h1m13 0h1m0 0h1m6 0h1m2 0h1m18 0h1m7 0h1m-104 1h1m47 0h1m12 0h1m9 0h1m-82 1h1m20 0h1m44 0h1m3 0h1m1 0h1m13 0h1m0 0h1m-17 1h1m-61 1h1m0 0h1m67 0h1m-19 1h1m14 0h1m0 0h1m7 0h1m9 0h1m-27 1h1m14 0h1m0 0h1m10 0h1m53 0h1m4 0h1m-63 1h1m-3 1h1m21 0h1m49 0h1m-91 1h1m14 0h1m2 0h1m52 0h1m-127 1h1m63 0h1m70 0h1m-135 1h1m134 0h1m-40 1h1m34 0h1m-59 1h1m4 0h1m48 0h1m10 0h1m7 0h1m-177 1h1m87 0h1m26 0h1m44 0h1m0 0h1m10 0h1m-10 1h1m7 0h1m-91 1h1m15 0h1m8 0h1m25 0h1m41 0h1m1 0h1m3 0h1m-85 1h1m54 0h1m14 0h1m0 0h1m-71 1h1m7 0h1m5 0h1m49 0h1m13 0h1m-93 1h1m23 0h1m47 0h1m-48 1h1m58 0h1m12 0h1m-28 1h1m11 0h1m2 0h1m7 0h1m-61 1h1m6 0h1m22 0h1m0 0h1m0 0h1m6 0h1m-45 1h1m25 0h1m13 0h1m11 0h1m9 0h1m5 0h1m-55 1h1m37 0h1m0 0h1m-70 1h1m27 0h1m46 0h1m6 0h1m-43 1h1m11 0h1m0 0h1m0 0h1m17 0h1m0 0h1m-135 1h1m138 0h1m3 0h1m3 0h1m-68 1h1m41 0h1m-47 1h1m36 1h1m27 0h1m2 0h1m-27 1h1m17 0h1m-16 1h1m6 0h1m11 0h1m4 0h1m-195 1h1m158 0h1m0 0h1m3 0h1m9 0h1m0 0h1m2 0h1m4 0h1m3 0h1m-64 1h1m33 1h1m6 0h1m4 0h1m26 0h1m-42 1h1m8 0h1m1 0h1m15 0h1m8 0h1m0 0h1m1 0h1m-34 1h1m17 0h1m12 0h1m-223 1h1m198 0h1m-13 1h1m3 0h1m4 0h1m4 0h1m-26 1h1m21 0h1m13 0h1m1 0h1m-113 1h1m80 0h1m1 0h1m4 0h1m10 0h1m6 0h1m15 0h1m-63 1h1m5 0h1m26 0h1m13 0h1m1 0h1m1 0h1m0 0h1m11 0h1m-63 1h1m0 0h1m10 0h1m1 0h1m13 0h1m5 0h1m9 0h1m-24 1h1m3 0h1m2 0h1m-33 1h1m21 0h1m4 0h1m7 0h1m15 0h1m5 0h1m-123 1h1m72 0h1m25 0h1m5 0h1m2 0h1m3 0h1m3 0h1m3 0h1m0 0h1m-155 1h1m117 0h1m6 0h1m24 0h1m-37 1h1m11 0h1m8 0h1m-41 1h1m4 0h1m22 0h1m1 0h1m4 0h1m-37 1h1m7 0h1m38 0h1m16 0h1m-56 1h1m45 0h1m7 0h1m-29 2h1m0 0h1m11 0h1m7 0h1m4 0h1m-35 1h1m4 0h1m-32 1h1m17 0h1m10 0h1m8 0h1m1 0h1m2 0h1m-178 1h1m58 0h1m75 0h1m45 0h1m2 0h1m-31 1h1m12 0h1m4 0h1m22 0h1m-44 1h1m5 0h1m1 0h1m4 0h1m11 0h1m2 0h1m-29 1h1m13 0h1m15 0h1m7 0h1m-63 1h1m18 0h1m7 0h1m13 0h1m19 0h1m5 0h1m-35 1h1m5 0h1m9 0h1m8 0h1m0 0h1m-30 1h1m-15 1h1m19 0h1m0 0h1m2 0h1m5 0h1m1 0h1m-48 1h1m5 0h1m11 0h1m6 0h1m30 0h1m-23 1h1m1 0h1m3 0h1m3 0h1m8 0h1m-47 1h1m6 0h1m11 0h1m8 0h1m11 0h1m8 0h1m-52 1h1m4 0h1m8 0h1m0 0h1m25 0h1m4 0h1m1 0h1m-194 1h1m16 0h1m15 0h1m139 0h1m5 0h1m2 0h1m6 0h1m-37 1h1m19 0h1m3 0h1m13 0h1m-39 1h1m18 0h1m11 0h1m-23 1h1m18 0h1m-203 2h1m168 0h1m32 0h1m21 1h1m-60 1h1m33 0h1m6 0h1m1 0h1m8 0h1m-17 1h1m1 0h1m-162 1h1m161 3h1m-9 1h1m0 0h1m7 0h1m0 1h1m2 0h1m-209 2h1m195 1h1m0 0h1m4 0h1m-2 1h1m-8 1h1m1 0h1m2 0h1m1 0h1m-129 1h1m126 0h1m0 0h1m1 0h1m-202 2h1m110 0h1m87 0h1m-82 1h1m81 0h1m0 0h1m-136 1h1m130 0h1m-103 1h1m108 0h1m-166 1h1m154 0h1m5 0h1m3 1h1m-215 1h1m28 0h1m12 2h1m-47 2h1m3 0h1m147 1h1m-91 2h1m57 8h1m-60 2h1m66 0h1m-65 1h1m-39 2h1m106 0h1m-6 2h1m-75 1h1m46 0h1m24 0h1m-36 14h1m-85 3h1m19 1h1m26 0h1m-39 1h1m-8 3h1m58 1h1m-21 2h1m38 0h1m-61 6h1m31 2h1m-8 1h1m14 14h1"/></defs>
<g transform="translate(0 .5)" fill="none" stroke="#f39aa5"><use href="#q2" stroke-width="2" filter="url(#bl)" opacity="0.7"/><use href="#q2" stroke-width="1.2" opacity="0.45"/></g>
<defs><path id="q3" d="M301 1062h1m1 5h1m-18 1h1m20 4h1m9 0h1m-38 3h1m2 0h1m2 0h1m55 0h1m-63 1h1m37 0h1m-56 9h1m84 1h1m-31 2h1m-26 2h1m1 0h1m-29 2h1m80 0h1m-29 1h1m3 0h1m-74 2h1m2 1h1m62 0h1m-23 2h1m-34 4h1m6 1h1m-18 4h1m39 0h1m49 0h1m-16 1h1m-59 1h1m7 0h1m79 0h1m-26 1h1m-84 1h1m104 3h1m-183 1h1m0 1h1m-8 1h1m1 0h1m25 0h1m4 0h1m53 0h1m-83 1h1m21 0h1m3 0h1m2 0h1m-30 1h1m26 0h1m6 0h1m52 0h1m-88 1h1m0 0h1m16 0h1m3 0h1m-24 1h1m2 0h1m28 0h1m2 0h1m21 0h1m0 0h1m0 0h1m-64 1h1m20 0h1m19 0h1m0 0h1m20 0h1m67 0h1m12 0h1m-143 1h1m32 0h1m24 0h1m1 0h1m42 0h1m70 0h1m-174 1h1m24 0h1m10 0h1m25 0h1m-62 1h1m1 0h1m18 0h1m6 0h1m5 0h1m3 0h1m1 0h1m17 0h1m35 0h1m-83 1h1m7 0h1m10 0h1m21 0h1m5 0h1m33 0h1m7 0h1m-80 1h1m1 0h1m2 0h1m5 0h1m5 0h1m13 0h1m3 0h1m2 0h1m0 0h1m42 0h1m1 0h1m-91 1h1m3 0h1m89 0h1m4 0h1m7 0h1m-87 1h1m2 0h1m21 0h1m62 0h1m21 0h1m-128 1h1m18 0h1m17 0h1m4 0h1m32 0h1m11 0h1m17 0h1m-113 1h1m5 0h1m9 0h1m1 0h1m1 0h1m1 0h1m2 0h1m46 0h1m41 0h1m-112 1h1m1 0h1m4 0h1m4 0h1m1 0h1m1 0h1m1 0h1m3 0h1m15 0h1m6 0h1m19 0h1m11 0h1m2 0h1m0 0h1m27 0h1m12 0h1m-155 1h1m38 0h1m5 0h1m1 0h1m3 0h1m60 0h1m23 0h1m4 0h1m0 0h1m0 0h1m-143 1h1m36 0h1m2 0h1m64 0h1m30 0h1m9 0h1m-112 1h1m9 0h1m6 0h1m63 0h1m5 0h1m2 0h1m18 0h1m13 0h1m44 0h1m7 0h1m-182 1h1m5 0h1m7 0h1m37 0h1m29 0h1m1 0h1m9 0h1m-93 1h1m9 0h1m6 0h1m39 0h1m10 0h1m17 0h1m19 0h1m64 0h1m-169 1h1m0 0h1m7 0h1m5 0h1m53 0h1m13 0h1m16 0h1m19 0h1m31 0h1m-188 1h1m4 0h1m17 0h1m14 0h1m3 0h1m6 0h1m33 0h1m3 0h1m44 0h1m1 0h1m55 0h1m24 0h1m-230 1h1m8 0h1m5 0h1m3 0h1m3 0h1m32 0h1m0 0h1m62 0h1m5 0h1m5 0h1m4 0h1m13 0h1m1 0h1m4 0h1m71 0h1m4 0h1m-229 1h1m5 0h1m0 0h1m4 0h1m9 0h1m15 0h1m4 0h1m1 0h1m5 0h1m34 0h1m26 0h1m13 0h1m6 0h1m74 0h1m18 0h1m-222 1h1m7 0h1m37 0h1m52 0h1m18 0h1m5 0h1m7 0h1m54 0h1m12 0h1m9 0h1m3 0h1m0 0h1m-221 1h1m5 0h1m14 0h1m7 0h1m55 0h1m13 0h1m2 0h1m15 0h1m0 0h1m14 0h1m10 0h1m29 0h1m10 0h1m-185 1h1m7 0h1m70 0h1m4 0h1m22 0h1m9 0h1m23 0h1m61 0h1m10 0h1m0 0h1m1 0h1m0 0h1m-212 1h1m7 0h1m3 0h1m77 0h1m19 0h1m13 0h1m7 0h1m9 0h1m50 0h1m6 0h1m12 0h1m7 0h1m-231 1h1m13 0h1m70 0h1m4 0h1m18 0h1m9 0h1m34 0h1m45 0h1m7 0h1m2 0h1m-219 1h1m6 0h1m3 0h1m4 0h1m12 0h1m0 0h1m2 0h1m75 0h1m17 0h1m6 0h1m5 0h1m52 0h1m8 0h1m-207 1h1m5 0h1m0 0h1m11 0h1m4 0h1m5 0h1m3 0h1m3 0h1m74 0h1m10 0h1m2 0h1m9 0h1m6 0h1m16 0h1m2 0h1m31 0h1m33 0h1m2 0h1m7 0h1m-203 1h1m59 0h1m14 0h1m3 0h1m9 0h1m4 0h1m15 0h1m4 0h1m1 0h1m18 0h1m20 0h1m41 0h1m-236 1h1m30 0h1m1 0h1m80 0h1m36 0h1m62 0h1m8 0h1m5 0h1m0 0h1m7 0h1m-233 1h1m7 0h1m7 0h1m15 0h1m64 0h1m21 0h1m12 0h1m14 0h1m8 0h1m28 0h1m4 0h1m14 0h1m16 0h1m-224 1h1m5 0h1m2 0h1m1 0h1m19 0h1m64 0h1m21 0h1m2 0h1m13 0h1m10 0h1m0 0h1m10 0h1m3 0h1m51 0h1m-218 1h1m1 0h1m2 0h1m0 0h1m34 0h1m41 0h1m23 0h1m16 0h1m0 0h1m10 0h1m0 0h1m9 0h1m4 0h1m48 0h1m5 0h1m17 0h1m12 0h1m-230 1h1m4 0h1m18 0h1m2 0h1m54 0h1m0 0h1m9 0h1m15 0h1m15 0h1m1 0h1m11 0h1m1 0h1m4 0h1m22 0h1m21 0h1m37 0h1m-242 1h1m10 0h1m10 0h1m3 0h1m3 0h1m6 0h1m0 0h1m49 0h1m23 0h1m13 0h1m5 0h1m2 0h1m0 0h1m10 0h1m2 0h1m2 0h1m3 0h1m31 0h1m42 0h1m-213 1h1m78 0h1m11 0h1m25 0h1m0 0h1m2 0h1m20 0h1m0 0h1m44 0h1m7 0h1m12 0h1m3 0h1m2 0h1m-226 1h1m28 0h1m70 0h1m16 0h1m7 0h1m8 0h1m0 0h1m0 0h1m2 0h1m0 0h1m38 0h1m10 0h1m1 0h1m11 0h1m-222 1h1m2 0h1m14 0h1m1 0h1m78 0h1m1 0h1m6 0h1m3 0h1m9 0h1m3 0h1m9 0h1m10 0h1m3 0h1m3 0h1m67 0h1m6 0h1m-232 1h1m15 0h1m2 0h1m3 0h1m8 0h1m5 0h1m63 0h1m10 0h1m15 0h1m3 0h1m16 0h1m3 0h1m0 0h1m0 0h1m1 0h1m3 0h1m2 0h1m8 0h1m44 0h1m0 0h1m10 0h1m0 0h1m4 0h1m-238 1h1m7 0h1m5 0h1m3 0h1m23 0h1m57 0h1m27 0h1m4 0h1m0 0h1m0 0h1m2 0h1m3 0h1m8 0h1m0 0h1m1 0h1m2 0h1m3 0h1m3 0h1m3 0h1m0 0h1m0 0h1m30 0h1m7 0h1m1 0h1m5 0h1m4 0h1m3 0h1m-210 1h1m0 0h1m4 0h1m7 0h1m9 0h1m54 0h1m4 0h1m10 0h1m9 0h1m5 0h1m2 0h1m11 0h1m1 0h1m0 0h1m2 0h1m3 0h1m1 0h1m6 0h1m1 0h1m4 0h1m3 0h1m33 0h1m8 0h1m3 0h1m11 0h1m10 0h1m-236 1h1m4 0h1m7 0h1m4 0h1m9 0h1m0 0h1m0 0h1m6 0h1m5 0h1m38 0h1m3 0h1m3 0h1m21 0h1m1 0h1m1 0h1m22 0h1m0 0h1m3 0h1m0 0h1m5 0h1m54 0h1m1 0h1m6 0h1m14 0h1m-229 1h1m2 0h1m0 0h1m1 0h1m7 0h1m4 0h1m12 0h1m0 0h1m23 0h1m2 0h1m12 0h1m19 0h1m15 0h1m17 0h1m9 0h1m18 0h1m40 0h1m10 0h1m-196 1h1m54 0h1m24 0h1m10 0h1m13 0h1m2 0h1m3 0h1m3 0h1m3 0h1m0 0h1m24 0h1m6 0h1m25 0h1m9 0h1m8 0h1m9 0h1m5 0h1m-241 1h1m35 0h1m4 0h1m9 0h1m18 0h1m33 0h1m0 0h1m3 0h1m6 0h1m1 0h1m14 0h1m1 0h1m0 0h1m1 0h1m26 0h1m5 0h1m2 0h1m0 0h1m1 0h1m44 0h1m18 0h1m-234 1h1m13 0h1m7 0h1m2 0h1m6 0h1m1 0h1m3 0h1m29 0h1m7 0h1m0 0h1m14 0h1m2 0h1m0 0h1m9 0h1m5 0h1m1 0h1m1 0h1m2 0h1m0 0h1m27 0h1m0 0h1m8 0h1m44 0h1m18 0h1m6 0h1m-233 1h1m10 0h1m5 0h1m1 0h1m17 0h1m7 0h1m35 0h1m2 0h1m11 0h1m25 0h1m10 0h1m3 0h1m1 0h1m1 0h1m0 0h1m6 0h1m1 0h1m0 0h1m3 0h1m2 0h1m9 0h1m9 0h1m-147 1h1m5 0h1m35 0h1m5 0h1m7 0h1m11 0h1m10 0h1m0 0h1m9 0h1m2 0h1m0 0h1m4 0h1m2 0h1m0 0h1m1 0h1m7 0h1m8 0h1m2 0h1m61 0h1m9 0h1m-229 1h1m14 0h1m1 0h1m6 0h1m5 0h1m1 0h1m7 0h1m0 0h1m29 0h1m1 0h1m26 0h1m1 0h1m0 0h1m13 0h1m6 0h1m0 0h1m2 0h1m4 0h1m1 0h1m8 0h1m2 0h1m7 0h1m1 0h1m0 0h1m14 0h1m-171 1h1m13 0h1m4 0h1m9 0h1m29 0h1m5 0h1m2 0h1m9 0h1m0 0h1m2 0h1m5 0h1m0 0h1m2 0h1m4 0h1m11 0h1m0 0h1m1 0h1m2 0h1m1 0h1m1 0h1m4 0h1m5 0h1m4 0h1m9 0h1m0 0h1m10 0h1m-158 1h1m0 0h1m13 0h1m11 0h1m4 0h1m33 0h1m9 0h1m20 0h1m7 0h1m3 0h1m0 0h1m1 0h1m1 0h1m3 0h1m3 0h1m2 0h1m16 0h1m2 0h1m0 0h1m0 0h1m3 0h1m4 0h1m8 0h1m5 0h1m-167 1h1m0 0h1m18 0h1m2 0h1m4 0h1m25 0h1m15 0h1m2 0h1m0 0h1m6 0h1m3 0h1m12 0h1m2 0h1m1 0h1m0 0h1m2 0h1m1 0h1m2 0h1m6 0h1m5 0h1m8 0h1m9 0h1m1 0h1m16 0h1m-164 1h1m0 0h1m0 0h1m8 0h1m3 0h1m4 0h1m35 0h1m16 0h1m2 0h1m0 0h1m5 0h1m7 0h1m10 0h1m4 0h1m1 0h1m5 0h1m6 0h1m17 0h1m0 0h1m1 0h1m4 0h1m12 0h1m1 0h1m2 0h1m0 0h1m-148 1h1m0 0h1m1 0h1m1 0h1m0 0h1m4 0h1m29 0h1m4 0h1m4 0h1m18 0h1m13 0h1m23 0h1m6 0h1m-137 1h1m3 0h1m5 0h1m0 0h1m5 0h1m1 0h1m27 0h1m13 0h1m0 0h1m1 0h1m11 0h1m5 0h1m2 0h1m11 0h1m5 0h1m3 0h1m4 0h1m3 0h1m4 0h1m2 0h1m6 0h1m3 0h1m8 0h1m2 0h1m18 0h1m-161 1h1m8 0h1m0 0h1m37 0h1m10 0h1m4 0h1m5 0h1m0 0h1m6 0h1m3 0h1m1 0h1m3 0h1m14 0h1m1 0h1m2 0h1m4 0h1m1 0h1m2 0h1m10 0h1m0 0h1m9 0h1m16 0h1m-115 1h1m7 0h1m1 0h1m20 0h1m2 0h1m0 0h1m20 0h1m0 0h1m3 0h1m9 0h1m3 0h1m3 0h1m9 0h1m2 0h1m14 0h1m-153 1h1m8 0h1m33 0h1m4 0h1m2 0h1m2 0h1m10 0h1m9 0h1m4 0h1m16 0h1m0 0h1m5 0h1m10 0h1m0 0h1m0 0h1m20 0h1m1 0h1m13 0h1m4 0h1m-145 1h1m2 0h1m1 0h1m21 0h1m1 0h1m1 0h1m7 0h1m0 0h1m0 0h1m17 0h1m15 0h1m25 0h1m1 0h1m0 0h1m0 0h1m2 0h1m11 0h1m13 0h1m9 0h1m2 0h1m-112 1h1m5 0h1m9 0h1m10 0h1m22 0h1m1 0h1m1 0h1m2 0h1m0 0h1m4 0h1m2 0h1m6 0h1m7 0h1m19 0h1m7 0h1m-114 1h1m6 0h1m2 0h1m7 0h1m7 0h1m8 0h1m25 0h1m3 0h1m13 0h1m34 0h1m-151 1h1m29 0h1m26 0h1m16 0h1m7 0h1m1 0h1m0 0h1m9 0h1m6 0h1m2 0h1m1 0h1m2 0h1m7 0h1m16 0h1m9 0h1m5 0h1m2 0h1m-109 1h1m1 0h1m5 0h1m3 0h1m3 0h1m2 0h1m4 0h1m13 0h1m10 0h1m4 0h1m0 0h1m26 0h1m10 0h1m1 0h1m3 0h1m-104 1h1m2 0h1m7 0h1m2 0h1m12 0h1m2 0h1m8 0h1m2 0h1m13 0h1m2 0h1m0 0h1m2 0h1m8 0h1m0 0h1m2 0h1m1 0h1m6 0h1m21 0h1m0 0h1m4 0h1m-111 1h1m5 0h1m2 0h1m17 0h1m5 0h1m7 0h1m8 0h1m0 0h1m3 0h1m6 0h1m1 0h1m0 0h1m0 0h1m9 0h1m5 0h1m1 0h1m16 0h1m0 0h1m0 0h1m1 0h1m-122 1h1m14 0h1m6 0h1m8 0h1m1 0h1m1 0h1m7 0h1m3 0h1m6 0h1m19 0h1m6 0h1m4 0h1m0 0h1m2 0h1m11 0h1m13 0h1m12 0h1m-128 1h1m19 0h1m12 0h1m4 0h1m2 0h1m22 0h1m0 0h1m0 0h1m4 0h1m1 0h1m5 0h1m17 0h1m4 0h1m10 0h1m4 0h1m4 0h1m-120 1h1m2 0h1m1 0h1m0 0h1m0 0h1m1 0h1m20 0h1m3 0h1m14 0h1m9 0h1m1 0h1m12 0h1m6 0h1m11 0h1m22 0h1m1 0h1m0 0h1m7 0h1m-141 1h1m4 0h1m9 0h1m0 0h1m1 0h1m10 0h1m9 0h1m2 0h1m0 0h1m23 0h1m2 0h1m8 0h1m1 0h1m3 0h1m12 0h1m2 0h1m5 0h1m7 0h1m-115 1h1m10 0h1m9 0h1m9 0h1m2 0h1m2 0h1m6 0h1m3 0h1m21 0h1m2 0h1m4 0h1m14 0h1m6 0h1m9 0h1m4 0h1m4 0h1m10 0h1m-134 1h1m11 0h1m5 0h1m12 0h1m8 0h1m0 0h1m5 0h1m2 0h1m11 0h1m4 0h1m4 0h1m2 0h1m4 0h1m0 0h1m8 0h1m4 0h1m7 0h1m8 0h1m1 0h1m4 0h1m1 0h1m3 0h1m6 0h1m1 0h1m-112 1h1m15 0h1m6 0h1m0 0h1m3 0h1m7 0h1m4 0h1m1 0h1m4 0h1m5 0h1m1 0h1m0 0h1m0 0h1m0 0h1m0 0h1m1 0h1m4 0h1m2 0h1m7 0h1m2 0h1m0 0h1m-97 1h1m5 0h1m2 0h1m0 0h1m0 0h1m4 0h1m15 0h1m3 0h1m2 0h1m1 0h1m7 0h1m9 0h1m0 0h1m5 0h1m1 0h1m2 0h1m5 0h1m1 0h1m1 0h1m3 0h1m1 0h1m2 0h1m8 0h1m10 0h1m5 0h1m-121 1h1m7 0h1m9 0h1m7 0h1m0 0h1m2 0h1m5 0h1m4 0h1m6 0h1m8 0h1m3 0h1m0 0h1m7 0h1m0 0h1m5 0h1m0 0h1m2 0h1m8 0h1m3 0h1m27 0h1m-111 1h1m5 0h1m6 0h1m1 0h1m6 0h1m20 0h1m6 0h1m9 0h1m0 0h1m1 0h1m0 0h1m2 0h1m17 0h1m1 0h1m10 0h1m3 0h1m10 0h1m0 0h1m-147 1h1m41 0h1m2 0h1m2 0h1m5 0h1m0 0h1m9 0h1m3 0h1m4 0h1m2 0h1m3 0h1m10 0h1m3 0h1m5 0h1m7 0h1m0 0h1m18 0h1m7 0h1m2 0h1m55 0h1m3 0h1m-211 1h1m0 0h1m6 0h1m33 0h1m4 0h1m4 0h1m2 0h1m0 0h1m9 0h1m7 0h1m2 0h1m0 0h1m9 0h1m1 0h1m4 0h1m4 0h1m0 0h1m5 0h1m2 0h1m2 0h1m1 0h1m1 0h1m5 0h1m7 0h1m0 0h1m5 0h1m8 0h1m6 0h1m4 0h1m40 0h1m13 0h1m5 0h1m-215 1h1m10 0h1m12 0h1m1 0h1m17 0h1m4 0h1m6 0h1m1 0h1m15 0h1m7 0h1m9 0h1m10 0h1m12 0h1m11 0h1m3 0h1m15 0h1m32 0h1m5 0h1m13 0h1m17 0h1m-225 1h1m4 0h1m5 0h1m14 0h1m13 0h1m6 0h1m3 0h1m6 0h1m7 0h1m0 0h1m6 0h1m5 0h1m13 0h1m2 0h1m2 0h1m6 0h1m0 0h1m0 0h1m7 0h1m32 0h1m3 0h1m3 0h1m17 0h1m15 0h1m14 0h1m21 0h1m-234 1h1m8 0h1m25 0h1m8 0h1m0 0h1m5 0h1m6 0h1m5 0h1m5 0h1m3 0h1m13 0h1m0 0h1m1 0h1m15 0h1m6 0h1m6 0h1m5 0h1m0 0h1m3 0h1m9 0h1m57 0h1m8 0h1m11 0h1m-227 1h1m2 0h1m0 0h1m12 0h1m7 0h1m14 0h1m1 0h1m11 0h1m0 0h1m3 0h1m12 0h1m4 0h1m31 0h1m1 0h1m0 0h1m8 0h1m6 0h1m3 0h1m12 0h1m3 0h1m9 0h1m1 0h1m26 0h1m32 0h1m17 0h1m-236 1h1m0 0h1m0 0h1m6 0h1m0 0h1m16 0h1m15 0h1m28 0h1m2 0h1m10 0h1m3 0h1m1 0h1m9 0h1m4 0h1m1 0h1m9 0h1m18 0h1m10 0h1m0 0h1m2 0h1m1 0h1m32 0h1m6 0h1m7 0h1m6 0h1m1 0h1m1 0h1m0 0h1m6 0h1m16 0h1m-222 1h1m1 0h1m17 0h1m10 0h1m1 0h1m1 0h1m15 0h1m0 0h1m4 0h1m0 0h1m13 0h1m10 0h1m4 0h1m1 0h1m0 0h1m8 0h1m1 0h1m0 0h1m1 0h1m0 0h1m2 0h1m2 0h1m3 0h1m5 0h1m1 0h1m9 0h1m4 0h1m15 0h1m6 0h1m1 0h1m4 0h1m3 0h1m1 0h1m8 0h1m4 0h1m0 0h1m4 0h1m14 0h1m2 0h1m-235 1h1m7 0h1m1 0h1m15 0h1m14 0h1m8 0h1m0 0h1m10 0h1m17 0h1m5 0h1m13 0h1m0 0h1m1 0h1m0 0h1m1 0h1m11 0h1m11 0h1m2 0h1m3 0h1m7 0h1m1 0h1m8 0h1m6 0h1m20 0h1m8 0h1m13 0h1m2 0h1m22 0h1m3 0h1m-237 1h1m35 0h1m13 0h1m1 0h1m7 0h1m32 0h1m7 0h1m4 0h1m2 0h1m1 0h1m11 0h1m1 0h1m4 0h1m0 0h1m0 0h1m4 0h1m20 0h1m0 0h1m16 0h1m10 0h1m8 0h1m3 0h1m21 0h1m21 0h1m-248 1h1m4 0h1m0 0h1m1 0h1m9 0h1m5 0h1m1 0h1m12 0h1m16 0h1m6 0h1m8 0h1m8 0h1m20 0h1m5 0h1m0 0h1m2 0h1m2 0h1m3 0h1m0 0h1m2 0h1m0 0h1m9 0h1m5 0h1m1 0h1m19 0h1m69 0h1m-216 1h1m2 0h1m6 0h1m11 0h1m6 0h1m2 0h1m4 0h1m4 0h1m3 0h1m2 0h1m12 0h1m18 0h1m10 0h1m3 0h1m1 0h1m8 0h1m15 0h1m9 0h1m2 0h1m7 0h1m6 0h1m12 0h1m19 0h1m25 0h1m7 0h1m2 0h1m1 0h1m-211 1h1m14 0h1m14 0h1m1 0h1m4 0h1m5 0h1m15 0h1m0 0h1m12 0h1m11 0h1m0 0h1m2 0h1m3 0h1m10 0h1m4 0h1m22 0h1m3 0h1m4 0h1m3 0h1m36 0h1m3 0h1m5 0h1m0 0h1m2 0h1m-225 1h1m1 0h1m2 0h1m1 0h1m4 0h1m1 0h1m10 0h1m1 0h1m19 0h1m24 0h1m14 0h1m0 0h1m4 0h1m9 0h1m5 0h1m4 0h1m8 0h1m1 0h1m0 0h1m2 0h1m7 0h1m1 0h1m0 0h1m2 0h1m1 0h1m4 0h1m4 0h1m0 0h1m23 0h1m7 0h1m4 0h1m1 0h1m10 0h1m2 0h1m0 0h1m4 0h1m10 0h1m1 0h1m7 0h1m0 0h1m4 0h1m0 0h1m-247 1h1m15 0h1m6 0h1m1 0h1m10 0h1m8 0h1m9 0h1m10 0h1m0 0h1m14 0h1m19 0h1m6 0h1m0 0h1m4 0h1m11 0h1m2 0h1m5 0h1m1 0h1m8 0h1m1 0h1m8 0h1m17 0h1m2 0h1m3 0h1m5 0h1m0 0h1m22 0h1m1 0h1m2 0h1m4 0h1m1 0h1m3 0h1m4 0h1m0 0h1m3 0h1m7 0h1m4 0h1m-206 1h1m39 0h1m2 0h1m9 0h1m0 0h1m2 0h1m7 0h1m2 0h1m2 0h1m0 0h1m1 0h1m1 0h1m0 0h1m2 0h1m13 0h1m1 0h1m10 0h1m9 0h1m13 0h1m7 0h1m1 0h1m5 0h1m1 0h1m0 0h1m4 0h1m2 0h1m18 0h1m8 0h1m2 0h1m-226 1h1m3 0h1m7 0h1m20 0h1m5 0h1m6 0h1m17 0h1m5 0h1m4 0h1m19 0h1m2 0h1m3 0h1m19 0h1m7 0h1m7 0h1m0 0h1m9 0h1m0 0h1m6 0h1m11 0h1m4 0h1m10 0h1m8 0h1m2 0h1m2 0h1m0 0h1m8 0h1m4 0h1m5 0h1m11 0h1m0 0h1m-230 1h1m1 0h1m27 0h1m9 0h1m2 0h1m23 0h1m2 0h1m4 0h1m4 0h1m11 0h1m2 0h1m1 0h1m1 0h1m0 0h1m4 0h1m1 0h1m8 0h1m14 0h1m0 0h1m39 0h1m11 0h1m9 0h1m1 0h1m8 0h1m3 0h1m-209 1h1m6 0h1m18 0h1m1 0h1m7 0h1m25 0h1m0 0h1m15 0h1m0 0h1m4 0h1m9 0h1m2 0h1m4 0h1m8 0h1m7 0h1m7 0h1m59 0h1m3 0h1m22 0h1m15 0h1m-234 1h1m0 0h1m42 0h1m13 0h1m4 0h1m13 0h1m1 0h1m3 0h1m0 0h1m2 0h1m9 0h1m4 0h1m2 0h1m19 0h1m2 0h1m9 0h1m22 0h1m0 0h1m2 0h1m9 0h1m3 0h1m17 0h1m1 0h1m7 0h1m2 0h1m0 0h1m3 0h1m2 0h1m9 0h1m7 0h1m-204 1h1m13 0h1m1 0h1m4 0h1m12 0h1m7 0h1m5 0h1m16 0h1m8 0h1m0 0h1m3 0h1m6 0h1m13 0h1m12 0h1m10 0h1m13 0h1m21 0h1m5 0h1m2 0h1m7 0h1m2 0h1m6 0h1m19 0h1m-249 1h1m8 0h1m20 0h1m16 0h1m2 0h1m2 0h1m4 0h1m3 0h1m5 0h1m3 0h1m12 0h1m13 0h1m5 0h1m2 0h1m4 0h1m18 0h1m3 0h1m2 0h1m6 0h1m25 0h1m0 0h1m0 0h1m2 0h1m16 0h1m0 0h1m5 0h1m12 0h1m0 0h1m3 0h1m0 0h1m18 0h1m-236 1h1m39 0h1m0 0h1m0 0h1m2 0h1m2 0h1m9 0h1m3 0h1m0 0h1m0 0h1m3 0h1m9 0h1m25 0h1m7 0h1m0 0h1m9 0h1m4 0h1m6 0h1m0 0h1m2 0h1m2 0h1m6 0h1m27 0h1m10 0h1m3 0h1m9 0h1m15 0h1m3 0h1m1 0h1m2 0h1m5 0h1m6 0h1m-239 1h1m51 0h1m3 0h1m7 0h1m0 0h1m13 0h1m0 0h1m0 0h1m0 0h1m1 0h1m10 0h1m6 0h1m3 0h1m4 0h1m9 0h1m4 0h1m4 0h1m7 0h1m7 0h1m19 0h1m7 0h1m12 0h1m9 0h1m3 0h1m1 0h1m1 0h1m2 0h1m16 0h1m-190 1h1m5 0h1m13 0h1m0 0h1m2 0h1m2 0h1m10 0h1m0 0h1m8 0h1m4 0h1m4 0h1m8 0h1m3 0h1m3 0h1m14 0h1m49 0h1m11 0h1m2 0h1m6 0h1m0 0h1m7 0h1m1 0h1m9 0h1m0 0h1m0 0h1m6 0h1m-202 1h1m28 0h1m40 0h1m6 0h1m6 0h1m0 0h1m1 0h1m1 0h1m27 0h1m25 0h1m11 0h1m21 0h1m3 0h1m-177 1h1m3 0h1m4 0h1m0 0h1m6 0h1m4 0h1m4 0h1m8 0h1m6 0h1m15 0h1m1 0h1m1 0h1m6 0h1m26 0h1m0 0h1m64 0h1m2 0h1m6 0h1m13 0h1m-168 1h1m19 0h1m10 0h1m10 0h1m5 0h1m2 0h1m13 0h1m0 0h1m8 0h1m50 0h1m11 0h1m0 0h1m13 0h1m-168 1h1m1 0h1m1 0h1m6 0h1m0 0h1m4 0h1m6 0h1m1 0h1m17 0h1m1 0h1m21 0h1m3 0h1m6 0h1m1 0h1m20 0h1m32 0h1m10 0h1m18 0h1m-161 1h1m11 0h1m6 0h1m14 0h1m2 0h1m0 0h1m1 0h1m3 0h1m2 0h1m9 0h1m1 0h1m14 0h1m12 0h1m0 0h1m0 0h1m5 0h1m48 0h1m23 0h1m-166 1h1m0 0h1m3 0h1m5 0h1m2 0h1m3 0h1m3 0h1m15 0h1m3 0h1m10 0h1m1 0h1m5 0h1m0 0h1m8 0h1m5 0h1m75 0h1m-158 1h1m1 0h1m7 0h1m2 0h1m0 0h1m9 0h1m6 0h1m4 0h1m0 0h1m4 0h1m19 0h1m17 0h1m8 0h1m1 0h1m55 0h1m-146 1h1m12 0h1m12 0h1m7 0h1m2 0h1m1 0h1m8 0h1m39 0h1m4 0h1m1 0h1m-85 1h1m11 0h1m0 0h1m8 0h1m6 0h1m1 0h1m6 0h1m0 0h1m0 0h1m3 0h1m7 0h1m2 0h1m22 0h1m-100 1h1m6 0h1m13 0h1m3 0h1m4 0h1m10 0h1m5 0h1m9 0h1m6 0h1m7 0h1m0 0h1m4 0h1m1 0h1m7 0h1m4 0h1m9 0h1m-88 1h1m4 0h1m5 0h1m1 0h1m10 0h1m2 0h1m14 0h1m18 0h1m0 0h1m5 0h1m9 0h1m-70 1h1m8 0h1m1 0h1m4 0h1m1 0h1m2 0h1m7 0h1m8 0h1m6 0h1m13 0h1m1 0h1m6 0h1m3 0h1m3 0h1m-100 1h1m10 0h1m7 0h1m20 0h1m1 0h1m5 0h1m0 0h1m1 0h1m1 0h1m8 0h1m6 0h1m9 0h1m2 0h1m3 0h1m-76 1h1m27 0h1m5 0h1m7 0h1m14 0h1m4 0h1m1 0h1m1 0h1m9 0h1m5 0h1m7 0h1m0 0h1m0 0h1m6 0h1m5 0h1m-112 1h1m12 0h1m2 0h1m5 0h1m7 0h1m5 0h1m2 0h1m0 0h1m1 0h1m2 0h1m0 0h1m0 0h1m1 0h1m9 0h1m5 0h1m0 0h1m5 0h1m1 0h1m9 0h1m7 0h1m4 0h1m-81 1h1m0 0h1m2 0h1m7 0h1m16 0h1m0 0h1m3 0h1m29 0h1m8 0h1m-51 1h1m7 0h1m-21 1h1m10 0h1m10 0h1m2 0h1m1 0h1m14 0h1m8 0h1m6 0h1m9 0h1m-70 1h1m3 0h1m1 0h1m9 0h1m18 0h1m7 0h1m27 0h1m2 0h1m2 0h1m-86 1h1m8 0h1m13 0h1m11 0h1m8 0h1m20 0h1m4 0h1m21 0h1m0 0h1m-89 1h1m4 0h1m4 0h1m18 0h1m2 0h1m1 0h1m5 0h1m8 0h1m4 0h1m20 0h1m6 0h1m0 0h1m-85 1h1m12 0h1m33 0h1m4 0h1m5 0h1m0 0h1m9 0h1m2 0h1m5 0h1m1 0h1m2 0h1m-135 1h1m72 0h1m6 0h1m0 0h1m6 0h1m17 0h1m5 0h1m1 0h1m1 0h1m4 0h1m17 0h1m7 0h1m-92 1h1m15 0h1m20 0h1m6 0h1m1 0h1m0 0h1m1 0h1m17 0h1m2 0h1m6 0h1m1 0h1m3 0h1m4 0h1m-95 1h1m6 0h1m1 0h1m0 0h1m8 0h1m11 0h1m13 0h1m1 0h1m2 0h1m13 0h1m2 0h1m-117 1h1m54 0h1m9 0h1m0 0h1m11 0h1m2 0h1m6 0h1m6 0h1m2 0h1m0 0h1m10 0h1m4 0h1m4 0h1m4 0h1m1 0h1m11 0h1m-141 1h1m61 0h1m4 0h1m3 0h1m0 0h1m5 0h1m7 0h1m0 0h1m18 0h1m1 0h1m4 0h1m7 0h1m9 0h1m1 0h1m6 0h1m-143 1h1m66 0h1m1 0h1m5 0h1m9 0h1m2 0h1m22 0h1m1 0h1m9 0h1m10 0h1m2 0h1m0 0h1m-143 1h1m4 0h1m57 0h1m1 0h1m10 0h1m4 0h1m6 0h1m7 0h1m25 0h1m4 0h1m1 0h1m1 0h1m8 0h1m-139 1h1m1 0h1m59 0h1m2 0h1m13 0h1m6 0h1m3 0h1m2 0h1m4 0h1m1 0h1m3 0h1m2 0h1m2 0h1m1 0h1m2 0h1m4 0h1m3 0h1m1 0h1m10 0h1m1 0h1m7 0h1m-146 1h1m64 0h1m6 0h1m21 0h1m14 0h1m2 0h1m7 0h1m12 0h1m6 0h1m6 0h1m11 0h1m-164 1h1m86 0h1m1 0h1m15 0h1m6 0h1m12 0h1m10 0h1m6 0h1m2 0h1m-150 1h1m1 0h1m84 0h1m0 0h1m13 0h1m5 0h1m5 0h1m24 0h1m5 0h1m1 0h1m-142 1h1m57 0h1m5 0h1m0 0h1m16 0h1m1 0h1m13 0h1m11 0h1m0 0h1m3 0h1m5 0h1m1 0h1m2 0h1m13 0h1m0 0h1m1 0h1m-150 1h1m3 0h1m66 0h1m11 0h1m0 0h1m12 0h1m19 0h1m2 0h1m9 0h1m1 0h1m9 0h1m13 0h1m2 0h1m-163 1h1m2 0h1m0 0h1m1 0h1m58 0h1m13 0h1m3 0h1m1 0h1m13 0h1m9 0h1m11 0h1m14 0h1m6 0h1m-143 1h1m70 0h1m4 0h1m16 0h1m36 0h1m-131 1h1m73 0h1m6 0h1m0 0h1m1 0h1m8 0h1m5 0h1m7 0h1m9 0h1m1 0h1m5 0h1m-128 1h1m4 0h1m1 0h1m0 0h1m30 0h1m0 0h1m0 0h1m30 0h1m0 0h1m13 0h1m2 0h1m4 0h1m5 0h1m0 0h1m5 0h1m6 0h1m0 0h1m17 0h1m5 0h1m9 0h1m0 0h1m2 0h1m-157 1h1m36 0h1m0 0h1m33 0h1m9 0h1m7 0h1m33 0h1m6 0h1m4 0h1m3 0h1m5 0h1m-106 1h1m0 0h1m35 0h1m27 0h1m5 0h1m10 0h1m2 0h1m3 0h1m6 0h1m6 0h1m1 0h1m0 0h1m2 0h1m-152 1h1m87 0h1m13 0h1m2 0h1m9 0h1m1 0h1m17 0h1m1 0h1m3 0h1m1 0h1m-145 1h1m3 0h1m0 0h1m34 0h1m0 0h1m2 0h1m33 0h1m23 0h1m13 0h1m5 0h1m21 0h1m0 0h1m12 0h1m-158 1h1m84 0h1m3 0h1m7 0h1m21 0h1m2 0h1m9 0h1m1 0h1m13 0h1m-147 1h1m37 0h1m20 0h1m8 0h1m1 0h1m1 0h1m6 0h1m5 0h1m14 0h1m2 0h1m2 0h1m4 0h1m10 0h1m4 0h1m3 0h1m4 0h1m1 0h1m7 0h1m2 0h1m11 0h1m-166 1h1m2 0h1m38 0h1m30 0h1m2 0h1m1 0h1m9 0h1m32 0h1m8 0h1m2 0h1m5 0h1m0 0h1m0 0h1m0 0h1m10 0h1m7 0h1m0 0h1m-161 1h1m0 0h1m0 0h1m65 0h1m4 0h1m7 0h1m2 0h1m5 0h1m5 0h1m18 0h1m11 0h1m2 0h1m2 0h1m21 0h1m-160 1h1m2 0h1m0 0h1m87 0h1m2 0h1m5 0h1m2 0h1m0 0h1m2 0h1m3 0h1m17 0h1m13 0h1m2 0h1m2 0h1m8 0h1m-160 1h1m85 0h1m8 0h1m2 0h1m0 0h1m3 0h1m6 0h1m1 0h1m1 0h1m2 0h1m4 0h1m16 0h1m0 0h1m12 0h1m-150 1h1m73 0h1m1 0h1m2 0h1m19 0h1m12 0h1m15 0h1m12 0h1m-73 1h1m3 0h1m2 0h1m9 0h1m12 0h1m7 0h1m14 0h1m1 0h1m4 0h1m1 0h1m13 0h1m7 0h1m-159 1h1m69 0h1m12 0h1m15 0h1m0 0h1m7 0h1m4 0h1m0 0h1m6 0h1m8 0h1m3 0h1m0 0h1m8 0h1m7 0h1m11 0h1m-167 1h1m81 0h1m16 0h1m3 0h1m11 0h1m3 0h1m23 0h1m1 0h1m8 0h1m4 0h1m-73 1h1m4 0h1m0 0h1m2 0h1m0 0h1m3 0h1m2 0h1m16 0h1m1 0h1m5 0h1m3 0h1m0 0h1m-136 1h1m91 0h1m2 0h1m5 0h1m8 0h1m16 0h1m4 0h1m0 0h1m0 0h1m0 0h1m0 0h1m8 0h1m-71 1h1m25 0h1m8 0h1m7 0h1m2 0h1m1 0h1m3 0h1m1 0h1m5 0h1m4 0h1m0 0h1m7 0h1m0 0h1m16 0h1m-89 1h1m8 0h1m0 0h1m6 0h1m0 0h1m4 0h1m1 0h1m1 0h1m0 0h1m7 0h1m2 0h1m0 0h1m0 0h1m4 0h1m7 0h1m0 0h1m3 0h1m5 0h1m-62 1h1m0 0h1m2 0h1m9 0h1m3 0h1m0 0h1m4 0h1m1 0h1m1 0h1m1 0h1m1 0h1m0 0h1m1 0h1m3 0h1m1 0h1m0 0h1m0 0h1m1 0h1m2 0h1m1 0h1m1 0h1m4 0h1m6 0h1m-61 1h1m1 0h1m1 0h1m1 0h1m4 0h1m1 0h1m0 0h1m2 0h1m0 0h1m19 0h1m6 0h1m3 0h1m2 0h1m7 0h1m5 0h1m-67 1h1m0 0h1m0 0h1m7 0h1m12 0h1m2 0h1m17 0h1m1 0h1m7 0h1m15 0h1m-69 1h1m1 0h1m2 0h1m2 0h1m0 0h1m4 0h1m0 0h1m0 0h1m15 0h1m1 0h1m6 0h1m2 0h1m1 0h1m3 0h1m7 0h1m1 0h1m0 0h1m1 0h1m-72 1h1m3 0h1m3 0h1m0 0h1m0 0h1m6 0h1m4 0h1m4 0h1m1 0h1m12 0h1m15 0h1m1 0h1m2 0h1m7 0h1m-73 1h1m1 0h1m5 0h1m1 0h1m0 0h1m0 0h1m0 0h1m1 0h1m13 0h1m0 0h1m2 0h1m3 0h1m2 0h1m0 0h1m10 0h1m1 0h1m0 0h1m13 0h1m3 0h1m15 0h1m-98 1h1m20 0h1m17 0h1m1 0h1m3 0h1m5 0h1m4 0h1m12 0h1m1 0h1m0 0h1m0 0h1m-57 1h1m4 0h1m3 0h1m0 0h1m0 0h1m9 0h1m3 0h1m12 0h1m7 0h1m9 0h1m2 0h1m4 0h1m-58 1h1m1 0h1m4 0h1m7 0h1m2 0h1m3 0h1m5 0h1m5 0h1m1 0h1m0 0h1m15 0h1m8 0h1m-64 1h1m0 0h1m3 0h1m0 0h1m9 0h1m0 0h1m1 0h1m6 0h1m5 0h1m1 0h1m1 0h1m0 0h1m3 0h1m3 0h1m1 0h1m0 0h1m18 0h1m-83 1h1m7 0h1m0 0h1m13 0h1m1 0h1m1 0h1m0 0h1m8 0h1m3 0h1m17 0h1m0 0h1m3 0h1m4 0h1m0 0h1m-77 1h1m4 0h1m7 0h1m11 0h1m3 0h1m1 0h1m4 0h1m14 0h1m2 0h1m6 0h1m7 0h1m-69 1h1m13 0h1m4 0h1m1 0h1m1 0h1m0 0h1m5 0h1m1 0h1m2 0h1m1 0h1m17 0h1m0 0h1m6 0h1m1 0h1m-71 1h1m3 0h1m3 0h1m2 0h1m5 0h1m4 0h1m9 0h1m8 0h1m0 0h1m0 0h1m12 0h1m2 0h1m7 0h1m-62 1h1m17 0h1m3 0h1m6 0h1m2 0h1m1 0h1m6 0h1m6 0h1m4 0h1m1 0h1m0 0h1m12 0h1m8 0h1m-87 1h1m4 0h1m1 0h1m12 0h1m5 0h1m10 0h1m3 0h1m6 0h1m12 0h1m3 0h1m3 0h1m2 0h1m0 0h1m0 0h1m7 0h1m-86 1h1m27 0h1m3 0h1m2 0h1m2 0h1m9 0h1m3 0h1m1 0h1m10 0h1m-57 1h1m8 0h1m3 0h1m0 0h1m1 0h1m9 0h1m7 0h1m18 0h1m2 0h1m1 0h1m10 0h1m2 0h1m9 0h1m-94 1h1m7 0h1m3 0h1m9 0h1m9 0h1m0 0h1m1 0h1m4 0h1m3 0h1m18 0h1m1 0h1m3 0h1m-66 1h1m3 0h1m13 0h1m2 0h1m13 0h1m10 0h1m0 0h1m11 0h1m5 0h1m0 0h1m0 0h1m1 0h1m0 0h1m-72 1h1m8 0h1m0 0h1m4 0h1m0 0h1m6 0h1m2 0h1m27 0h1m6 0h1m9 0h1m-51 1h1m2 0h1m6 0h1m2 0h1m5 0h1m2 0h1m1 0h1m10 0h1m2 0h1m7 0h1m3 0h1m0 0h1m-51 1h1m7 0h1m1 0h1m9 0h1m0 0h1m1 0h1m4 0h1m0 0h1m3 0h1m2 0h1m2 0h1m3 0h1m-68 1h1m9 0h1m2 0h1m8 0h1m5 0h1m2 0h1m0 0h1m3 0h1m9 0h1m9 0h1m2 0h1m1 0h1m7 0h1m2 0h1m0 0h1m-72 1h1m9 0h1m2 0h1m0 0h1m6 0h1m0 0h1m9 0h1m1 0h1m3 0h1m1 0h1m0 0h1m0 0h1m8 0h1m-52 1h1m6 0h1m6 0h1m1 0h1m0 0h1m6 0h1m3 0h1m24 0h1m1 0h1m3 0h1m-37 1h1m0 0h1m4 0h1m1 0h1m1 0h1m1 0h1m0 0h1m16 0h1m5 0h1m1 0h1m-62 1h1m0 0h1m1 0h1m8 0h1m0 0h1m5 0h1m2 0h1m7 0h1m2 0h1m10 0h1m-39 1h1m2 0h1m12 0h1m0 0h1m0 0h1m1 0h1m1 0h1m17 0h1m-50 1h1m6 0h1m6 0h1m1 0h1m2 0h1m0 0h1m0 0h1m14 0h1m7 0h1m1 0h1m7 0h1m0 0h1m0 0h1m3 0h1m-67 1h1m1 0h1m1 0h1m15 0h1m7 0h1m0 0h1m0 0h1m0 0h1m0 0h1m3 0h1m3 0h1m-34 1h1m0 0h1m8 0h1m1 0h1m1 0h1m0 0h1m7 0h1m0 0h1m0 0h1m5 0h1m1 0h1m4 0h1m13 0h1m-54 1h1m0 0h1m1 0h1m6 0h1m0 0h1m2 0h1m3 0h1m11 0h1m13 0h1m-32 1h1m3 0h1m1 0h1m4 0h1m25 0h1m4 0h1m-50 1h1m0 0h1m1 0h1m0 0h1m0 0h1m0 0h1m1 0h1m14 0h1m5 0h1m2 0h1m5 0h1m2 0h1m7 0h1m1 0h1m0 0h1m-67 1h1m3 0h1m12 0h1m1 0h1m0 0h1m0 0h1m2 0h1m6 0h1m13 0h1m6 0h1m-63 1h1m0 0h1m3 0h1m1 0h1m15 0h1m3 0h1m1 0h1m7 0h1m21 0h1m-54 1h1m9 0h1m7 0h1m5 0h1m3 0h1m5 0h1m1 0h1m2 0h1m5 0h1m6 0h1m-60 1h1m3 0h1m5 0h1m10 0h1m2 0h1m0 0h1m0 0h1m1 0h1m7 0h1m1 0h1m2 0h1m3 0h1m-48 1h1m6 0h1m3 0h1m1 0h1m1 0h1m2 0h1m3 0h1m7 0h1m0 0h1m4 0h1m3 0h1m13 0h1m-60 1h1m1 0h1m6 0h1m1 0h1m1 0h1m17 0h1m1 0h1m2 0h1m17 0h1m6 0h1m3 0h1m-73 1h1m23 0h1m9 0h1m13 0h1m2 0h1m6 0h1m-54 1h1m4 0h1m6 0h1m3 0h1m0 0h1m1 0h1m0 0h1m3 0h1m17 0h1m2 0h1m-43 1h1m15 0h1m5 0h1m2 0h1m1 0h1m15 0h1m-49 1h1m36 0h1m1 0h1m-41 1h1m9 0h1m9 0h1m3 0h1m12 0h1m-44 1h1m9 0h1m10 0h1m9 0h1m3 0h1m1 0h1m4 0h1m-46 1h1m1 0h1m4 0h1m4 0h1m16 0h1m1 0h1m0 0h1m5 0h1m1 0h1m2 0h1m-38 1h1m4 0h1m3 0h1m6 0h1m7 0h1m1 0h1m2 0h1m-38 1h1m5 0h1m4 0h1m3 0h1m0 0h1m8 0h1m6 0h1m10 0h1m-32 1h1m15 0h1m0 0h1m4 0h1m-28 1h1m6 0h1m7 0h1m10 0h1m-37 1h1m1 0h1m6 0h1m9 0h1m20 0h1m-26 1h1m63 0h1m3 0h1m-89 1h1m1 0h1m7 0h1m11 0h1m4 0h1m4 0h1m49 0h1m4 0h1m-89 1h1m10 0h1m69 0h1m0 0h1m10 0h1m-94 1h1m3 0h1m6 0h1m1 0h1m6 0h1m4 0h1m62 0h1m1 0h1m-91 1h1m7 0h1m6 0h1m1 0h1m6 0h1m61 0h1m-83 1h1m0 0h1m5 0h1m2 0h1m5 0h1m2 0h1m55 0h1m1 0h1m-83 1h1m8 0h1m16 0h1m54 0h1m-84 1h1m5 0h1m8 0h1m69 0h1m1 0h1m3 0h1m0 0h1m2 0h1m-83 1h1m1 0h1m67 0h1m11 0h1m0 0h1m-91 1h1m87 0h1m-7 1h1m2 2h1m-1 1h1"/></defs>
<g transform="translate(0 .5)" fill="none" stroke="#4fd8cc"><use href="#q3" stroke-width="2.1" filter="url(#bl)" opacity="0.7"/><use href="#q3" stroke-width="1.3" opacity="0.45"/></g>
<path d="M92.7 1294.9V1385.6H182" fill="none" stroke="#000" stroke-width="3.6"/>
<path d="M92.7 1276.9l-10.5 20h21zM200 1385.6l-20.5 -10.5v21z"/>
<text x="79.9" y="1393" font-size="31" transform="rotate(-90 79.9 1393)" textLength="98.5" lengthAdjust="spacingAndGlyphs">TSNE2</text>
<text x="91.3" y="1423.5" font-size="31" textLength="96" lengthAdjust="spacingAndGlyphs">TSNE1</text>
<text x="257" y="1404.7" font-size="31" textLength="217" lengthAdjust="spacingAndGlyphs"><tspan font-style="italic">n</tspan> = 10,022 cells</text>
<text x="465" y="946" font-size="37" font-weight="bold">c</text>
<text x="686" y="1012.6" font-size="30" textLength="74.5" lengthAdjust="spacingAndGlyphs">IFN-γ</text>
<defs><path id="q4" d="M709 1045h1m11 1h1m-13 1h1m64 0h1m-67 1h1m7 0h1m1 1h1m-13 2h1m6 1h1m4 0h1m87 0h1m-92 1h1m1 2h1m-4 1h1m48 0h1m-45 1h1m2 0h1m0 0h1m25 0h1m-7 1h1m26 0h1m-15 1h1m-34 1h1m10 0h1m2 0h1m53 0h1m-20 1h1m-56 1h1m1 0h1m1 0h1m0 0h1m5 0h1m20 0h1m8 0h1m12 0h1m14 0h1m-65 1h1m-3 1h1m42 0h1m1 0h1m-55 1h1m23 0h1m51 0h1m-76 1h1m46 0h1m15 0h1m6 0h1m0 0h1m-169 1h1m27 0h1m73 0h1m18 0h1m38 0h1m-90 1h1m6 0h1m10 0h1m5 0h1m24 0h1m70 0h1m-99 1h1m20 0h1m52 0h1m8 0h1m-200 1h1m26 0h1m85 0h1m1 0h1m3 0h1m29 0h1m38 0h1m10 0h1m-93 1h1m2 0h1m7 0h1m4 0h1m4 0h1m1 0h1m0 0h1m21 0h1m22 0h1m8 0h1m0 0h1m5 0h1m-154 1h1m57 0h1m9 0h1m4 0h1m11 0h1m13 0h1m-24 1h1m7 0h1m7 0h1m1 0h1m0 0h1m-140 1h1m26 0h1m102 0h1m9 0h1m-24 1h1m9 0h1m5 0h1m4 0h1m6 0h1m34 0h1m20 0h1m-165 1h1m159 0h1m27 0h1m-99 1h1m6 0h1m-19 1h1m13 0h1m0 0h1m82 0h1m1 0h1m-205 1h1m9 0h1m87 0h1m24 0h1m40 0h1m16 0h1m4 0h1m3 0h1m-188 1h1m2 0h1m4 0h1m2 0h1m0 0h1m107 0h1m16 0h1m19 0h1m24 0h1m-187 1h1m4 0h1m2 0h1m30 0h1m20 0h1m36 0h1m0 0h1m30 0h1m-108 1h1m162 0h1m3 0h1m-196 1h1m18 0h1m108 0h1m81 0h1m12 0h1m-248 1h1m22 0h1m20 0h1m183 0h1m-190 1h1m96 0h1m84 0h1m19 0h1m5 0h1m-217 1h1m3 0h1m5 0h1m53 0h1m46 0h1m15 0h1m69 0h1m7 0h1m6 0h1m-210 1h1m12 0h1m8 0h1m79 0h1m13 0h1m8 0h1m83 0h1m-209 1h1m0 0h1m0 0h1m3 0h1m1 0h1m78 0h1m1 0h1m32 0h1m-136 1h1m108 0h1m3 0h1m117 0h1m-247 1h1m31 0h1m92 0h1m22 0h1m36 0h1m37 0h1m-218 1h1m15 0h1m208 0h1m1 0h1m-229 1h1m3 0h1m4 0h1m0 0h1m2 0h1m1 0h1m0 0h1m13 0h1m50 0h1m59 0h1m47 0h1m30 0h1m4 0h1m-227 1h1m25 0h1m5 0h1m84 0h1m0 0h1m11 0h1m11 0h1m79 0h1m3 0h1m-206 1h1m2 0h1m3 0h1m109 0h1m35 0h1m33 0h1m29 0h1m-224 1h1m5 0h1m2 0h1m5 0h1m15 0h1m144 0h1m-203 1h1m19 0h1m7 0h1m60 0h1m81 0h1m31 0h1m19 0h1m-227 1h1m116 0h1m25 0h1m12 0h1m4 0h1m8 0h1m72 0h1m-229 1h1m25 0h1m87 0h1m8 0h1m17 0h1m71 0h1m5 0h1m12 0h1m-235 1h1m5 0h1m11 0h1m11 0h1m4 0h1m95 0h1m53 0h1m31 0h1m-222 1h1m9 0h1m5 0h1m2 0h1m14 0h1m162 0h1m13 0h1m-207 1h1m5 0h1m33 0h1m34 0h1m35 0h1m3 0h1m90 0h1m-219 1h1m11 0h1m2 0h1m9 0h1m13 0h1m9 0h1m75 0h1m1 0h1m18 0h1m43 0h1m42 0h1m2 0h1m-227 1h1m4 0h1m20 0h1m8 0h1m5 0h1m83 0h1m-124 1h1m8 0h1m2 0h1m12 0h1m5 0h1m115 0h1m42 0h1m-198 1h1m17 0h1m10 0h1m0 0h1m3 0h1m0 0h1m22 0h1m59 0h1m1 0h1m26 0h1m26 0h1m41 0h1m19 0h1m-227 1h1m229 0h1m11 0h1m-248 1h1m31 0h1m4 0h1m0 0h1m11 0h1m2 0h1m76 0h1m7 0h1m102 0h1m-247 1h1m21 0h1m0 0h1m18 0h1m12 0h1m59 0h1m31 0h1m10 0h1m29 0h1m26 0h1m32 0h1m-257 1h1m4 0h1m29 0h1m27 0h1m62 0h1m1 0h1m3 0h1m48 0h1m52 0h1m18 0h1m-255 1h1m19 0h1m2 0h1m17 0h1m4 0h1m7 0h1m-39 1h1m14 0h1m3 0h1m20 0h1m11 0h1m-59 1h1m9 0h1m18 0h1m2 0h1m1 0h1m5 0h1m4 0h1m5 0h1m1 0h1m3 0h1m0 0h1m51 0h1m7 0h1m19 0h1m48 0h1m11 0h1m42 0h1m-252 1h1m13 0h1m6 0h1m39 0h1m7 0h1m51 0h1m5 0h1m99 0h1m-235 1h1m16 0h1m14 0h1m4 0h1m29 0h1m79 0h1m40 0h1m13 0h1m27 0h1m-206 1h1m27 0h1m15 0h1m9 0h1m42 0h1m11 0h1m98 0h1m28 0h1m8 0h1m-262 1h1m4 0h1m4 0h1m12 0h1m0 0h1m16 0h1m28 0h1m7 0h1m0 0h1m31 0h1m98 0h1m-181 1h1m88 0h1m0 0h1m1 0h1m21 0h1m74 0h1m41 0h1m1 0h1m-215 1h1m17 0h1m39 0h1m18 0h1m8 0h1m-124 1h1m2 0h1m38 0h1m10 0h1m59 0h1m112 0h1m18 0h1m-245 1h1m0 0h1m21 0h1m12 0h1m15 0h1m1 0h1m34 0h1m70 0h1m66 0h1m3 0h1m-241 1h1m20 0h1m20 0h1m70 0h1m23 0h1m-131 1h1m8 0h1m6 0h1m6 0h1m1 0h1m2 0h1m46 0h1m11 0h1m24 0h1m9 0h1m72 0h1m3 0h1m40 0h1m3 0h1m3 0h1m-268 1h1m17 0h1m13 0h1m3 0h1m20 0h1m1 0h1m0 0h1m10 0h1m5 0h1m4 0h1m8 0h1m6 0h1m49 0h1m3 0h1m5 0h1m69 0h1m28 0h1m-261 1h1m84 0h1m4 0h1m77 0h1m80 0h1m9 0h1m1 0h1m-228 1h1m21 0h1m28 0h1m5 0h1m7 0h1m18 0h1m60 0h1m55 0h1m5 0h1m1 0h1m13 0h1m18 0h1m10 0h1m-273 1h1m9 0h1m25 0h1m13 0h1m13 0h1m2 0h1m2 0h1m10 0h1m7 0h1m11 0h1m13 0h1m16 0h1m90 0h1m7 0h1m8 0h1m-240 1h1m7 0h1m6 0h1m20 0h1m4 0h1m92 0h1m2 0h1m95 0h1m8 0h1m-269 1h1m37 0h1m44 0h1m16 0h1m41 0h1m3 0h1m83 0h1m26 0h1m8 0h1m-230 1h1m6 0h1m17 0h1m90 0h1m11 0h1m88 0h1m0 0h1m17 0h1m0 0h1m-247 1h1m66 0h1m62 0h1m1 0h1m81 0h1m5 0h1m3 0h1m24 0h1m-257 1h1m36 0h1m8 0h1m10 0h1m10 0h1m6 0h1m9 0h1m150 0h1m1 0h1m3 0h1m3 0h1m-238 1h1m0 0h1m4 0h1m6 0h1m58 0h1m84 0h1m49 0h1m24 0h1m28 0h1m-274 1h1m7 0h1m24 0h1m42 0h1m60 0h1m25 0h1m23 0h1m28 0h1m3 0h1m10 0h1m-191 1h1m17 0h1m18 0h1m62 0h1m5 0h1m5 0h1m-170 1h1m51 0h1m40 0h1m46 0h1m8 0h1m3 0h1m88 0h1m2 0h1m20 0h1m0 0h1m-251 1h1m9 0h1m8 0h1m6 0h1m17 0h1m34 0h1m4 0h1m5 0h1m1 0h1m44 0h1m4 0h1m9 0h1m61 0h1m25 0h1m3 0h1m0 0h1m4 0h1m-244 1h1m11 0h1m10 0h1m5 0h1m38 0h1m12 0h1m113 0h1m14 0h1m10 0h1m13 0h1m22 0h1m-281 1h1m31 0h1m8 0h1m8 0h1m87 0h1m100 0h1m3 0h1m4 0h1m13 0h1m16 0h1m-266 1h1m29 0h1m40 0h1m3 0h1m0 0h1m132 0h1m4 0h1m21 0h1m13 0h1m3 0h1m7 0h1m-278 1h1m10 0h1m10 0h1m0 0h1m9 0h1m5 0h1m15 0h1m33 0h1m101 0h1m30 0h1m6 0h1m3 0h1m0 0h1m2 0h1m4 0h1m31 0h1m-264 1h1m54 0h1m21 0h1m0 0h1m4 0h1m6 0h1m9 0h1m42 0h1m4 0h1m61 0h1m39 0h1m5 0h1m4 0h1m1 0h1m1 0h1m14 0h1m-271 1h1m3 0h1m2 0h1m31 0h1m11 0h1m18 0h1m11 0h1m5 0h1m46 0h1m4 0h1m7 0h1m39 0h1m1 0h1m5 0h1m1 0h1m18 0h1m10 0h1m10 0h1m2 0h1m-258 1h1m2 0h1m12 0h1m69 0h1m7 0h1m12 0h1m62 0h1m7 0h1m51 0h1m2 0h1m22 0h1m1 0h1m-92 1h1m6 0h1m9 0h1m8 0h1m31 0h1m17 0h1m-246 1h1m25 0h1m48 0h1m5 0h1m21 0h1m36 0h1m14 0h1m37 0h1m29 0h1m9 0h1m9 0h1m15 0h1m-258 1h1m16 0h1m26 0h1m14 0h1m20 0h1m4 0h1m59 0h1m5 0h1m6 0h1m38 0h1m9 0h1m4 0h1m17 0h1m3 0h1m-207 1h1m0 0h1m36 0h1m8 0h1m41 0h1m4 0h1m3 0h1m44 0h1m38 0h1m45 0h1m0 0h1m-260 1h1m12 0h1m59 0h1m2 0h1m14 0h1m54 0h1m8 0h1m45 0h1m-207 1h1m16 0h1m0 0h1m13 0h1m7 0h1m31 0h1m99 0h1m44 0h1m24 0h1m50 0h1m-291 1h1m16 0h1m3 0h1m55 0h1m5 0h1m1 0h1m17 0h1m46 0h1m8 0h1m10 0h1m49 0h1m7 0h1m29 0h1m8 0h1m5 0h1m-261 1h1m8 0h1m19 0h1m8 0h1m21 0h1m15 0h1m6 0h1m11 0h1m12 0h1m99 0h1m55 0h1m-261 1h1m35 0h1m21 0h1m20 0h1m54 0h1m5 0h1m6 0h1m3 0h1m13 0h1m38 0h1m10 0h1m2 0h1m44 0h1m-279 1h1m36 0h1m37 0h1m4 0h1m15 0h1m8 0h1m48 0h1m6 0h1m13 0h1m33 0h1m52 0h1m16 0h1m6 0h1m3 0h1m-286 1h1m1 0h1m102 0h1m4 0h1m45 0h1m14 0h1m29 0h1m13 0h1m12 0h1m-229 1h1m4 0h1m62 0h1m25 0h1m13 0h1m5 0h1m26 0h1m18 0h1m28 0h1m5 0h1m9 0h1m1 0h1m11 0h1m8 0h1m-230 1h1m13 0h1m13 0h1m45 0h1m30 0h1m31 0h1m18 0h1m41 0h1m7 0h1m7 0h1m3 0h1m50 0h1m11 0h1m-264 1h1m3 0h1m1 0h1m13 0h1m42 0h1m4 0h1m24 0h1m41 0h1m1 0h1m3 0h1m38 0h1m25 0h1m10 0h1m56 0h1m-221 1h1m1 0h1m6 0h1m7 0h1m12 0h1m3 0h1m4 0h1m2 0h1m1 0h1m21 0h1m24 0h1m20 0h1m7 0h1m0 0h1m10 0h1m18 0h1m41 0h1m18 0h1m8 0h1m-285 1h1m6 0h1m70 0h1m16 0h1m1 0h1m2 0h1m52 0h1m20 0h1m24 0h1m60 0h1m7 0h1m-278 1h1m4 0h1m102 0h1m86 0h1m5 0h1m1 0h1m3 0h1m7 0h1m1 0h1m-203 1h1m3 0h1m9 0h1m15 0h1m26 0h1m17 0h1m25 0h1m1 0h1m20 0h1m16 0h1m45 0h1m1 0h1m4 0h1m5 0h1m8 0h1m40 0h1m32 0h1m-300 1h1m1 0h1m22 0h1m35 0h1m35 0h1m0 0h1m16 0h1m48 0h1m3 0h1m1 0h1m7 0h1m24 0h1m2 0h1m12 0h1m41 0h1m5 0h1m17 0h1m-231 1h1m31 0h1m1 0h1m5 0h1m6 0h1m8 0h1m63 0h1m16 0h1m7 0h1m2 0h1m2 0h1m5 0h1m7 0h1m5 0h1m44 0h1m-217 1h1m31 0h1m26 0h1m8 0h1m20 0h1m11 0h1m6 0h1m15 0h1m15 0h1m5 0h1m0 0h1m1 0h1m5 0h1m0 0h1m6 0h1m-228 1h1m7 0h1m1 0h1m9 0h1m8 0h1m62 0h1m18 0h1m8 0h1m61 0h1m4 0h1m0 0h1m7 0h1m3 0h1m12 0h1m2 0h1m2 0h1m2 0h1m7 0h1m1 0h1m4 0h1m39 0h1m-238 1h1m55 0h1m9 0h1m5 0h1m9 0h1m10 0h1m52 0h1m10 0h1m21 0h1m55 0h1m-261 1h1m7 0h1m1 0h1m134 0h1m9 0h1m5 0h1m5 0h1m1 0h1m9 0h1m1 0h1m11 0h1m1 0h1m2 0h1m5 0h1m4 0h1m59 0h1m3 0h1m7 0h1m10 0h1m8 0h1m-313 1h1m15 0h1m13 0h1m7 0h1m25 0h1m34 0h1m10 0h1m11 0h1m33 0h1m3 0h1m24 0h1m7 0h1m6 0h1m35 0h1m20 0h1m24 0h1m-275 1h1m0 0h1m36 0h1m16 0h1m10 0h1m6 0h1m19 0h1m64 0h1m2 0h1m2 0h1m13 0h1m10 0h1m4 0h1m10 0h1m44 0h1m18 0h1m-271 1h1m65 0h1m21 0h1m61 0h1m0 0h1m11 0h1m9 0h1m1 0h1m14 0h1m2 0h1m10 0h1m1 0h1m4 0h1m15 0h1m71 0h1m-295 1h1m30 0h1m7 0h1m27 0h1m1 0h1m0 0h1m6 0h1m18 0h1m44 0h1m4 0h1m3 0h1m1 0h1m1 0h1m5 0h1m9 0h1m11 0h1m4 0h1m5 0h1m21 0h1m38 0h1m14 0h1m-270 1h1m49 0h1m17 0h1m5 0h1m5 0h1m12 0h1m7 0h1m61 0h1m2 0h1m15 0h1m9 0h1m4 0h1m0 0h1m17 0h1m22 0h1m45 0h1m-295 1h1m7 0h1m69 0h1m7 0h1m17 0h1m48 0h1m17 0h1m23 0h1m4 0h1m5 0h1m0 0h1m7 0h1m5 0h1m38 0h1m17 0h1m-287 1h1m42 0h1m2 0h1m6 0h1m50 0h1m71 0h1m6 0h1m5 0h1m31 0h1m0 0h1m10 0h1m7 0h1m-236 1h1m97 0h1m23 0h1m29 0h1m22 0h1m5 0h1m3 0h1m14 0h1m12 0h1m0 0h1m6 0h1m1 0h1m6 0h1m41 0h1m-243 1h1m21 0h1m2 0h1m0 0h1m97 0h1m3 0h1m0 0h1m16 0h1m0 0h1m2 0h1m4 0h1m8 0h1m7 0h1m0 0h1m4 0h1m7 0h1m37 0h1m7 0h1m6 0h1m23 0h1m-281 1h1m40 0h1m22 0h1m9 0h1m12 0h1m1 0h1m10 0h1m11 0h1m31 0h1m6 0h1m1 0h1m1 0h1m5 0h1m14 0h1m14 0h1m4 0h1m4 0h1m0 0h1m0 0h1m5 0h1m15 0h1m1 0h1m29 0h1m9 0h1m-273 1h1m85 0h1m1 0h1m4 0h1m0 0h1m57 0h1m17 0h1m0 0h1m12 0h1m14 0h1m1 0h1m5 0h1m4 0h1m52 0h1m5 0h1m-275 1h1m26 0h1m17 0h1m72 0h1m49 0h1m2 0h1m0 0h1m1 0h1m2 0h1m11 0h1m5 0h1m8 0h1m30 0h1m28 0h1m29 0h1m-221 1h1m20 0h1m1 0h1m18 0h1m0 0h1m32 0h1m19 0h1m7 0h1m1 0h1m4 0h1m5 0h1m1 0h1m4 0h1m4 0h1m9 0h1m0 0h1m65 0h1m0 0h1m18 0h1m4 0h1m-219 1h1m1 0h1m4 0h1m73 0h1m2 0h1m6 0h1m27 0h1m12 0h1m1 0h1m1 0h1m11 0h1m21 0h1m12 0h1m-281 1h1m0 0h1m151 0h1m1 0h1m6 0h1m5 0h1m10 0h1m25 0h1m15 0h1m71 0h1m2 0h1m2 0h1m-250 1h1m13 0h1m40 0h1m15 0h1m28 0h1m12 0h1m2 0h1m27 0h1m9 0h1m7 0h1m6 0h1m12 0h1m47 0h1m14 0h1m0 0h1m-213 1h1m10 0h1m59 0h1m12 0h1m12 0h1m19 0h1m12 0h1m0 0h1m10 0h1m1 0h1m1 0h1m36 0h1m4 0h1m-273 1h1m33 0h1m62 0h1m5 0h1m63 0h1m0 0h1m2 0h1m8 0h1m14 0h1m2 0h1m0 0h1m3 0h1m2 0h1m5 0h1m19 0h1m9 0h1m0 0h1m47 0h1m12 0h1m-298 1h1m18 0h1m52 0h1m29 0h1m1 0h1m48 0h1m17 0h1m19 0h1m3 0h1m8 0h1m16 0h1m10 0h1m3 0h1m26 0h1m8 0h1m19 0h1m-295 1h1m5 0h1m11 0h1m57 0h1m15 0h1m13 0h1m42 0h1m0 0h1m5 0h1m27 0h1m11 0h1m9 0h1m1 0h1m10 0h1m4 0h1m84 0h1m-284 1h1m43 0h1m18 0h1m7 0h1m59 0h1m13 0h1m18 0h1m22 0h1m1 0h1m3 0h1m15 0h1m27 0h1m13 0h1m-270 1h1m11 0h1m84 0h1m4 0h1m5 0h1m39 0h1m28 0h1m5 0h1m15 0h1m13 0h1m6 0h1m0 0h1m12 0h1m-235 1h1m18 0h1m46 0h1m11 0h1m8 0h1m12 0h1m7 0h1m38 0h1m14 0h1m25 0h1m8 0h1m12 0h1m57 0h1m2 0h1m6 0h1m-263 1h1m66 0h1m21 0h1m2 0h1m46 0h1m1 0h1m3 0h1m23 0h1m8 0h1m4 0h1m22 0h1m21 0h1m43 0h1m10 0h1m-304 1h1m97 0h1m6 0h1m41 0h1m19 0h1m2 0h1m18 0h1m9 0h1m3 0h1m5 0h1m5 0h1m0 0h1m3 0h1m41 0h1m4 0h1m33 0h1m-151 1h1m8 0h1m18 0h1m2 0h1m8 0h1m8 0h1m-186 1h1m6 0h1m22 0h1m25 0h1m73 0h1m11 0h1m5 0h1m2 0h1m31 0h1m3 0h1m6 0h1m8 0h1m1 0h1m4 0h1m16 0h1m57 0h1m-295 1h1m7 0h1m1 0h1m3 0h1m141 0h1m4 0h1m4 0h1m29 0h1m1 0h1m4 0h1m2 0h1m9 0h1m3 0h1m31 0h1m-257 1h1m7 0h1m26 0h1m34 0h1m33 0h1m100 0h1m-196 1h1m12 0h1m83 0h1m0 0h1m33 0h1m38 0h1m20 0h1m1 0h1m3 0h1m10 0h1m-217 1h1m13 0h1m7 0h1m66 0h1m58 0h1m146 0h1m3 0h1m-214 1h1m9 0h1m66 0h1m29 0h1m9 0h1m72 0h1m-277 1h1m53 0h1m33 0h1m13 0h1m39 0h1m37 0h1m1 0h1m12 0h1m12 0h1m57 0h1m10 0h1m-247 1h1m136 0h1m8 0h1m9 0h1m67 0h1m14 0h1m-267 1h1m9 0h1m4 0h1m42 0h1m19 0h1m135 0h1m69 0h1m-267 1h1m52 0h1m10 0h1m96 0h1m6 0h1m3 0h1m14 0h1m1 0h1m3 0h1m0 0h1m50 0h1m25 0h1m-292 1h1m3 0h1m7 0h1m21 0h1m8 0h1m58 0h1m52 0h1m18 0h1m15 0h1m14 0h1m65 0h1m12 0h1m0 0h1m-201 1h1m2 0h1m5 0h1m65 0h1m33 0h1m27 0h1m41 0h1m12 0h1m1 0h1m-246 1h1m103 0h1m28 0h1m30 0h1m46 0h1m-186 1h1m14 0h1m101 0h1m8 0h1m19 0h1m69 0h1m-207 1h1m82 0h1m40 0h1m59 0h1m6 0h1m11 0h1m-275 1h1m41 0h1m3 0h1m34 0h1m1 0h1m2 0h1m2 0h1m5 0h1m21 0h1m45 0h1m15 0h1m31 0h1m12 0h1m-222 1h1m2 0h1m24 0h1m47 0h1m2 0h1m5 0h1m6 0h1m94 0h1m18 0h1m2 0h1m3 0h1m67 0h1m-217 1h1m17 0h1m91 0h1m1 0h1m39 0h1m-215 1h1m25 0h1m42 0h1m185 0h1m12 0h1m-248 1h1m2 0h1m47 0h1m77 0h1m19 0h1m74 0h1m9 0h1m5 0h1m4 0h1m1 0h1m-257 1h1m62 0h1m2 0h1m0 0h1m6 0h1m77 0h1m14 0h1m15 0h1m4 0h1m49 0h1m14 0h1m-261 1h1m58 0h1m10 0h1m3 0h1m97 0h1m3 0h1m6 0h1m67 0h1m6 0h1m-268 1h1m4 0h1m18 0h1m8 0h1m49 0h1m7 0h1m1 0h1m175 0h1m-259 1h1m12 0h1m42 0h1m86 0h1m13 0h1m104 0h1m9 0h1m-245 1h1m60 0h1m99 0h1m11 0h1m40 0h1m12 0h1m3 0h1m-192 1h1m36 0h1m131 0h1m-250 1h1m30 0h1m40 0h1m59 0h1m58 0h1m15 0h1m46 0h1m11 0h1m4 0h1m23 0h1m-282 1h1m28 0h1m155 0h1m11 0h1m33 0h1m-232 1h1m63 0h1m11 0h1m24 0h1m11 0h1m34 0h1m-91 1h1m8 0h1m43 0h1m14 0h1m26 0h1m-160 1h1m20 0h1m10 0h1m16 0h1m57 0h1m47 0h1m-82 1h1m10 0h1m25 0h1m16 0h1m34 0h1m54 0h1m31 0h1m10 0h1m2 0h1m-214 1h1m193 0h1m6 0h1m1 0h1m1 0h1m-240 1h1m47 0h1m19 0h1m5 0h1m47 0h1m67 0h1m16 0h1m4 0h1m22 0h1m-238 1h1m5 0h1m5 0h1m4 0h1m100 0h1m83 0h1m-206 1h1m3 0h1m31 0h1m32 0h1m59 0h1m0 0h1m13 0h1m3 0h1m89 0h1m6 0h1m1 0h1m-199 1h1m2 0h1m15 0h1m0 0h1m15 0h1m53 0h1m77 0h1m17 0h1m-168 1h1m21 0h1m2 0h1m36 0h1m16 0h1m73 0h1m13 0h1m6 0h1m12 0h1m-241 1h1m29 0h1m8 0h1m51 0h1m9 0h1m6 0h1m4 0h1m12 0h1m10 0h1m88 0h1m-219 1h1m0 0h1m31 0h1m6 0h1m15 0h1m17 0h1m28 0h1m21 0h1m34 0h1m4 0h1m30 0h1m15 0h1m10 0h1m-194 1h1m30 0h1m110 0h1m44 0h1m-217 1h1m165 0h1m7 0h1m11 0h1m15 0h1m-139 1h1m34 0h1m65 0h1m43 0h1m-216 1h1m22 0h1m27 0h1m29 0h1m104 0h1m-159 1h1m107 0h1m-134 1h1m38 0h1m1 0h1m20 0h1m0 0h1m13 0h1m30 0h1m0 0h1m61 0h1m6 0h1m30 0h1m1 0h1m-162 1h1m10 0h1m13 0h1m7 0h1m4 0h1m-61 1h1m15 0h1m5 0h1m16 0h1m103 0h1m-142 1h1m6 0h1m7 0h1m7 0h1m0 0h1m4 0h1m30 0h1m125 0h1m-207 1h1m8 0h1m1 0h1m11 0h1m3 0h1m174 0h1m-191 1h1m5 0h1m6 0h1m4 0h1m6 0h1m2 0h1m11 0h1m24 0h1m88 0h1m1 0h1m9 0h1m30 0h1m-206 1h1m7 0h1m5 0h1m15 0h1m18 0h1m5 0h1m35 0h1m28 0h1m50 0h1m-160 1h1m11 0h1m2 0h1m23 0h1m28 0h1m-80 1h1m13 0h1m40 0h1m29 0h1m14 0h1m-28 1h1m37 0h1m-79 1h1m3 0h1m66 0h1m10 0h1m44 0h1m22 0h1m-131 1h1m13 0h1m31 0h1m64 0h1m-119 1h1m79 0h1m27 0h1m-143 1h1m109 0h1m8 0h1m-46 1h1m26 0h1m68 0h1m-146 1h1m24 0h1m32 0h1m-82 1h1m29 0h1m32 0h1m27 0h1m11 0h1m54 0h1m-161 1h1m27 0h1m8 0h1m17 0h1m10 0h1m-30 1h1m50 0h1m23 0h1m-97 1h1m19 0h1m27 0h1m11 0h1m2 0h1m22 0h1m18 0h1m3 0h1m32 0h1m-121 1h1m1 0h1m19 0h1m10 0h1m5 0h1m11 0h1m66 0h1m-136 1h1m15 0h1m22 0h1m27 0h1m1 0h1m6 0h1m3 0h1m7 0h1m4 0h1m19 0h1m-149 1h1m28 0h1m66 0h1m14 0h1m-82 1h1m18 0h1m44 0h1m40 0h1m13 0h1m-98 1h1m18 0h1m7 0h1m35 0h1m0 0h1m5 0h1m-122 1h1m91 0h1m1 0h1m19 0h1m-116 1h1m24 0h1m26 0h1m2 0h1m13 0h1m15 0h1m-84 1h1m79 0h1m5 0h1m9 0h1m28 0h1m2 0h1m41 0h1m-109 1h1m22 0h1m4 0h1m5 0h1m15 0h1m8 0h1m14 0h1m6 0h1m-151 1h1m5 0h1m17 0h1m1 0h1m24 0h1m35 0h1m6 0h1m67 0h1m19 0h1m-83 1h1m6 0h1m19 0h1m0 0h1m41 0h1m-136 1h1m14 0h1m9 0h1m8 0h1m3 0h1m7 0h1m31 0h1m17 0h1m2 0h1m19 0h1m-148 1h1m42 0h1m5 0h1m5 0h1m1 0h1m52 0h1m19 0h1m5 0h1m11 0h1m-118 1h1m8 0h1m41 0h1m0 0h1m61 0h1m27 0h1m-181 1h1m9 0h1m48 0h1m31 0h1m0 0h1m17 0h1m2 0h1m22 0h1m10 0h1m10 0h1m12 0h1m-124 1h1m28 0h1m4 0h1m3 0h1m38 0h1m42 0h1m-163 1h1m1 0h1m29 0h1m1 0h1m11 0h1m0 0h1m4 0h1m31 0h1m0 0h1m19 0h1m10 0h1m16 0h1m8 0h1m-145 1h1m22 0h1m16 0h1m3 1h1m12 0h1m4 0h1m10 0h1m39 0h1m21 0h1m-119 1h1m42 0h1m25 0h1m4 0h1m0 0h1m21 0h1m-96 1h1m49 0h1m3 0h1m0 0h1m43 0h1m11 0h1m-82 1h1m3 0h1m52 0h1m14 0h1m0 0h1m7 0h1m4 0h1m23 0h1m-156 1h1m49 0h1m46 0h1m4 0h1m3 0h1m6 0h1m10 0h1m3 0h1m-106 1h1m36 0h1m53 0h1m3 0h1m3 0h1m7 0h1m35 0h1m-112 1h1m14 0h1m21 0h1m9 0h1m11 0h1m0 0h1m-104 1h1m67 0h1m47 0h1m38 0h1m-182 1h1m10 0h1m10 0h1m66 0h1m9 0h1m35 0h1m6 0h1m3 0h1m25 0h1m4 0h1m3 0h1m0 0h1m-90 1h1m42 0h1m4 0h1m25 0h1m17 0h1m-179 1h1m20 0h1m35 0h1m38 0h1m18 0h1m7 0h1m6 0h1m8 0h1m-65 1h1m4 0h1m3 0h1m30 0h1m16 0h1m3 0h1m-121 1h1m111 0h1m3 0h1m39 0h1m-190 1h1m62 0h1m41 0h1m45 0h1m21 0h1m2 0h1m-167 1h1m30 0h1m134 0h1m11 0h1m-174 1h1m0 0h1m7 0h1m57 0h1m13 0h1m42 0h1m43 0h1m0 0h1m-160 1h1m69 0h1m8 0h1m-88 1h1m28 0h1m16 0h1m85 0h1m28 0h1m-138 1h1m16 0h1m0 0h1m91 0h1m16 0h1m-146 1h1m81 0h1m28 0h1m35 0h1m-110 1h1m92 0h1m0 0h1m24 0h1m1 0h1m-168 1h1m3 0h1m155 0h1m-156 1h1m4 0h1m31 0h1m9 0h1m86 0h1m-61 1h1m10 0h1m4 0h1m48 0h1m16 0h1m-154 1h1m24 0h1m12 0h1m8 0h1m70 0h1m5 0h1m0 0h1m2 0h1m0 0h1m19 0h1m-132 1h1m21 0h1m47 0h1m41 0h1m19 0h1m-163 1h1m90 0h1m0 0h1m53 0h1m9 0h1m-151 1h1m8 0h1m122 0h1m-133 1h1m7 0h1m82 0h1m2 0h1m-98 1h1m60 0h1m81 0h1m-147 1h1m88 0h1m25 0h1m10 0h1m11 0h1m-140 1h1m13 0h1m2 0h1m77 0h1m7 0h1m25 0h1m1 0h1m-103 1h1m8 0h1m9 0h1m2 0h1m3 0h1m31 0h1m46 0h1m4 0h1m30 0h1m2 0h1m-172 1h1m6 0h1m8 0h1m31 0h1m13 0h1m23 0h1m3 0h1m3 0h1m43 0h1m26 0h1m5 0h1m0 0h1m-171 1h1m121 0h1m26 0h1m-152 1h1m87 0h1m12 0h1m61 0h1m9 0h1m-51 1h1m8 0h1m1 0h1m31 0h1m7 0h1m-153 1h1m9 0h1m1 0h1m47 0h1m2 0h1m12 0h1m12 0h1m1 0h1m60 0h1m-174 1h1m14 0h1m2 0h1m1 0h1m18 0h1m19 0h1m16 0h1m-70 1h1m46 0h1m18 0h1m15 0h1m6 0h1m6 0h1m22 0h1m24 0h1m7 0h1m0 0h1m-120 1h1m4 0h1m11 0h1m8 0h1m24 0h1m7 0h1m42 0h1m0 0h1m10 0h1m5 0h1m-164 1h1m29 0h1m88 0h1m7 0h1m46 0h1m-148 1h1m24 0h1m14 0h1m38 0h1m1 0h1m10 0h1m27 0h1m5 0h1m-115 1h1m32 0h1m6 0h1m56 0h1m2 0h1m1 0h1m14 0h1m-116 1h1m2 0h1m5 0h1m2 0h1m7 0h1m46 0h1m1 0h1m6 0h1m8 0h1m-116 1h1m12 0h1m3 0h1m9 0h1m13 0h1m0 0h1m1 0h1m28 0h1m15 0h1m12 0h1m7 0h1m19 0h1m2 0h1m5 0h1m-141 1h1m13 0h1m61 0h1m4 0h1m-58 1h1m17 0h1m23 0h1m41 0h1m6 0h1m-52 1h1m28 0h1m7 0h1m44 0h1m-135 1h1m17 0h1m12 0h1m7 0h1m3 0h1m8 0h1m29 0h1m2 0h1m48 0h1m5 0h1m1 0h1m4 0h1m-161 1h1m1 0h1m40 0h1m51 0h1m8 0h1m2 0h1m21 0h1m-149 1h1m59 0h1m17 0h1m19 0h1m6 0h1m24 0h1m26 0h1m-133 1h1m22 1h1m8 0h1m20 0h1m92 0h1m-148 1h1m14 0h1m8 0h1m16 0h1m16 0h1m54 0h1m-76 1h1m8 0h1m33 0h1m28 0h1m-93 1h1m21 0h1m3 0h1m17 0h1m16 1h1m-102 1h1m18 0h1m14 0h1m2 0h1m7 0h1m11 0h1m21 0h1m-68 1h1m22 0h1m10 0h1m9 0h1m8 0h1m11 0h1m-53 1h1m19 0h1m9 0h1m3 0h1m3 0h1m-6 1h1m9 0h1m-24 1h1m38 0h1m3 0h1m46 0h1m-126 1h1m53 0h1m37 0h1m17 0h1m-83 1h1m5 0h1m13 0h1m51 0h1m-66 1h1m21 0h1m29 0h1m14 0h1m-13 1h1m7 0h1m0 0h1m-40 1h1m0 0h1m14 0h1m13 0h1m7 0h1m-101 1h1m20 0h1m12 0h1m2 0h1m5 0h1m16 0h1m44 0h1m0 0h1m-73 1h1m37 0h1m8 1h1m2 0h1m17 0h1m-88 1h1m13 0h1m4 0h1m68 0h1m2 0h1m-79 1h1m47 0h1m24 0h1m-72 1h1m35 0h1m8 0h1m19 0h1m2 0h1m-94 1h1m5 0h1m12 0h1m59 0h1m8 0h1m-62 1h1m-15 1h1m30 0h1m-10 1h1m67 0h1m-77 1h1m42 0h1m7 0h1m-74 1h1m5 0h1m22 0h1m10 0h1m20 0h1m3 0h1m26 0h1m3 0h1m-95 1h1m93 0h1m3 0h1m-87 1h1m2 0h1m14 0h1m36 0h1m23 0h1m7 0h1m-90 1h1m15 0h1m37 0h1m12 0h1m0 0h1m3 0h1m7 0h1m-74 1h1m5 0h1m27 0h1m13 0h1m21 0h1m15 0h1m-104 1h1m79 0h1m16 0h1m-39 1h1m7 0h1m24 0h1m-78 1h1m11 0h1m31 0h1m20 0h1m10 0h1m2 0h1m1 0h1m10 0h1m-88 1h1m44 0h1m21 0h1m26 0h1m2 0h1m1 0h1m-104 1h1m59 0h1m13 0h1m4 0h1m2 0h1m-12 1h1m0 0h1m1 0h1m9 0h1m11 0h1m-99 1h1m41 0h1m14 0h1m16 1h1m5 0h1m-83 1h1m59 0h1m1 0h1m13 0h1m13 0h1m10 0h1m-48 1h1m20 0h1m7 0h1m10 0h1m2 0h1m-46 1h1m-3 1h1m6 0h1m11 0h1m9 1h1m5 0h1m14 0h1m-45 2h1m10 0h1m-5 1h1m15 0h1m-24 1h1m16 0h1m7 0h1m15 0h1m-5 2h1m-6 2h1m-28 2h1"/></defs>
<g transform="translate(0 .5)" fill="none" stroke="#e3eff2"><use href="#q4" stroke-width="2.1" filter="url(#bl)" opacity="0.7"/><use href="#q4" stroke-width="1.3" opacity="0.45"/></g>
<defs><path id="q5" d="M717 1042h1m-11 1h1m9 4h1m3 2h1m-10 1h1m4 2h1m0 0h1m4 0h1m-12 1h1m5 1h1m2 1h1m-2 1h1m32 0h1m33 0h1m-73 1h1m8 0h1m-104 1h1m111 0h1m16 0h1m-28 1h1m28 1h1m26 0h1m-26 2h1m23 0h1m-60 1h1m-6 1h1m1 0h1m15 0h1m39 0h1m3 0h1m-66 1h1m1 0h1m2 0h1m25 0h1m18 0h1m4 0h1m0 0h1m-58 1h1m63 0h1m6 0h1m6 0h1m0 0h1m4 0h1m-74 1h1m26 0h1m20 0h1m-68 1h1m6 0h1m29 0h1m5 0h1m36 0h1m-192 1h1m117 0h1m0 0h1m6 0h1m7 0h1m10 0h1m30 0h1m1 0h1m15 0h1m-66 1h1m0 0h1m32 0h1m-54 1h1m19 0h1m10 0h1m7 0h1m27 0h1m17 0h1m-77 1h1m7 0h1m12 0h1m19 0h1m28 0h1m3 0h1m8 0h1m-56 1h1m4 0h1m28 0h1m6 0h1m26 0h1m-187 1h1m87 0h1m1 0h1m26 0h1m12 0h1m27 0h1m0 0h1m15 0h1m-71 1h1m13 0h1m18 0h1m33 0h1m-196 1h1m4 0h1m120 0h1m8 0h1m0 0h1m26 0h1m7 0h1m1 0h1m5 0h1m35 0h1m-211 1h1m103 0h1m5 0h1m18 0h1m-147 1h1m118 0h1m8 0h1m-108 1h1m42 0h1m48 0h1m0 0h1m3 0h1m12 0h1m66 0h1m5 0h1m-68 1h1m8 0h1m5 0h1m24 0h1m1 0h1m2 0h1m0 0h1m17 0h1m9 0h1m-207 1h1m92 0h1m24 0h1m18 0h1m3 0h1m1 0h1m10 0h1m0 0h1m30 0h1m-170 1h1m96 0h1m2 0h1m6 0h1m48 0h1m0 0h1m38 0h1m13 0h1m-222 1h1m104 0h1m8 0h1m13 0h1m19 0h1m43 0h1m-186 1h1m89 0h1m13 0h1m2 0h1m23 0h1m34 0h1m3 0h1m20 0h1m10 0h1m2 0h1m-226 1h1m9 0h1m4 0h1m121 0h1m28 0h1m0 0h1m38 0h1m15 0h1m4 0h1m0 0h1m-213 1h1m111 0h1m7 0h1m18 0h1m24 0h1m6 0h1m15 0h1m4 0h1m6 0h1m12 0h1m15 0h1m-243 1h1m116 0h1m11 0h1m7 0h1m12 0h1m53 0h1m-206 1h1m33 0h1m85 0h1m0 0h1m10 0h1m1 0h1m11 0h1m2 0h1m1 0h1m0 0h1m6 0h1m29 0h1m2 0h1m-212 1h1m8 0h1m127 0h1m15 0h1m6 0h1m0 0h1m2 0h1m19 0h1m40 0h1m1 0h1m33 0h1m-244 1h1m26 0h1m77 0h1m6 0h1m3 0h1m11 0h1m2 0h1m9 0h1m10 0h1m56 0h1m-193 1h1m118 0h1m4 0h1m1 0h1m13 0h1m82 0h1m4 0h1m-128 1h1m0 0h1m12 0h1m8 0h1m2 0h1m6 0h1m40 0h1m1 0h1m18 0h1m8 0h1m7 0h1m-234 1h1m0 0h1m16 0h1m5 0h1m0 0h1m47 0h1m54 0h1m5 0h1m1 0h1m5 0h1m107 0h1m-247 1h1m14 0h1m113 0h1m0 0h1m3 0h1m15 0h1m31 0h1m1 0h1m15 0h1m1 0h1m22 0h1m1 0h1m-242 1h1m27 0h1m98 0h1m4 0h1m17 0h1m15 0h1m2 0h1m44 0h1m-201 1h1m30 0h1m80 0h1m7 0h1m1 0h1m13 0h1m25 0h1m26 0h1m17 0h1m14 0h1m0 0h1m23 0h1m-259 1h1m5 0h1m0 0h1m0 0h1m0 0h1m5 0h1m17 0h1m99 0h1m2 0h1m1 0h1m9 0h1m4 0h1m2 0h1m86 0h1m3 0h1m-241 1h1m17 0h1m90 0h1m0 0h1m91 0h1m-202 1h1m23 0h1m9 0h1m75 0h1m4 0h1m5 0h1m12 0h1m5 0h1m13 0h1m8 0h1m58 0h1m10 0h1m5 0h1m3 0h1m-234 1h1m25 0h1m92 0h1m22 0h1m28 0h1m1 0h1m10 0h1m-160 1h1m78 0h1m7 0h1m9 0h1m5 0h1m0 0h1m2 0h1m36 0h1m2 0h1m30 0h1m4 0h1m1 0h1m10 0h1m-237 1h1m15 0h1m21 0h1m92 0h1m25 0h1m27 0h1m34 0h1m2 0h1m6 0h1m15 0h1m3 0h1m-256 1h1m41 0h1m118 0h1m38 0h1m-206 1h1m19 0h1m8 0h1m114 0h1m7 0h1m35 0h1m11 0h1m19 0h1m3 0h1m19 0h1m3 0h1m16 0h1m-267 1h1m20 0h1m22 0h1m6 0h1m3 0h1m78 0h1m2 0h1m13 0h1m30 0h1m29 0h1m28 0h1m0 0h1m1 0h1m0 0h1m3 0h1m3 0h1m10 0h1m-241 1h1m1 0h1m14 0h1m0 0h1m4 0h1m2 0h1m5 0h1m112 0h1m2 0h1m21 0h1m-183 1h1m28 0h1m86 0h1m15 0h1m107 0h1m-134 1h1m1 0h1m4 0h1m14 0h1m3 0h1m60 0h1m27 0h1m4 0h1m1 0h1m-247 1h1m131 0h1m4 0h1m12 0h1m42 0h1m2 0h1m15 0h1m33 0h1m1 0h1m12 0h1m-249 1h1m2 0h1m22 0h1m85 0h1m49 0h1m34 0h1m23 0h1m-214 1h1m0 0h1m0 0h1m4 0h1m1 0h1m4 0h1m2 0h1m92 0h1m14 0h1m1 0h1m5 0h1m1 0h1m3 0h1m0 0h1m0 0h1m25 0h1m54 0h1m27 0h1m-257 1h1m23 0h1m20 0h1m0 0h1m67 0h1m18 0h1m26 0h1m0 0h1m2 0h1m84 0h1m-263 1h1m8 0h1m2 0h1m11 0h1m0 0h1m22 0h1m82 0h1m14 0h1m40 0h1m9 0h1m6 0h1m8 0h1m16 0h1m-209 1h1m0 0h1m12 0h1m14 0h1m87 0h1m0 0h1m37 0h1m69 0h1m-259 1h1m27 0h1m9 0h1m3 0h1m2 0h1m3 0h1m1 0h1m121 0h1m10 0h1m4 0h1m4 0h1m20 0h1m3 0h1m41 0h1m-241 1h1m13 0h1m15 0h1m9 0h1m71 0h1m2 0h1m15 0h1m69 0h1m12 0h1m33 0h1m-248 1h1m8 0h1m4 0h1m10 0h1m11 0h1m2 0h1m127 0h1m12 0h1m0 0h1m14 0h1m14 0h1m5 0h1m0 0h1m-222 1h1m1 0h1m9 0h1m14 0h1m13 0h1m35 0h1m42 0h1m22 0h1m10 0h1m22 0h1m18 0h1m9 0h1m1 0h1m14 0h1m16 0h1m0 0h1m16 0h1m-219 1h1m26 0h1m56 0h1m0 0h1m12 0h1m11 0h1m1 0h1m6 0h1m9 0h1m45 0h1m0 0h1m-212 1h1m15 0h1m17 0h1m22 0h1m56 0h1m10 0h1m25 0h1m20 0h1m15 0h1m12 0h1m20 0h1m-223 1h1m14 0h1m9 0h1m6 0h1m21 0h1m24 0h1m50 0h1m4 0h1m10 0h1m32 0h1m1 0h1m35 0h1m27 0h1m-260 1h1m0 0h1m28 0h1m7 0h1m1 0h1m8 0h1m101 0h1m69 0h1m-221 1h1m0 0h1m53 0h1m86 0h1m11 0h1m70 0h1m1 0h1m1 0h1m4 0h1m13 0h1m-218 1h1m1 0h1m12 0h1m21 0h1m3 0h1m23 0h1m86 0h1m12 0h1m32 0h1m3 0h1m20 0h1m6 0h1m-248 1h1m17 0h1m5 0h1m35 0h1m157 0h1m18 0h1m-190 1h1m61 0h1m5 0h1m10 0h1m5 0h1m28 0h1m23 0h1m9 0h1m18 0h1m23 0h1m-262 1h1m3 0h1m32 0h1m16 0h1m11 0h1m5 0h1m9 0h1m58 0h1m51 0h1m4 0h1m29 0h1m12 0h1m4 0h1m12 0h1m-241 1h1m13 0h1m13 0h1m1 0h1m22 0h1m69 0h1m8 0h1m13 0h1m6 0h1m-166 1h1m6 0h1m2 0h1m20 0h1m5 0h1m16 0h1m2 0h1m9 0h1m1 0h1m120 0h1m21 0h1m2 0h1m26 0h1m12 0h1m-249 1h1m17 0h1m0 0h1m16 0h1m28 0h1m17 0h1m30 0h1m15 0h1m17 0h1m13 0h1m19 0h1m9 0h1m18 0h1m12 0h1m7 0h1m-228 1h1m9 0h1m0 0h1m4 0h1m24 0h1m7 0h1m7 0h1m88 0h1m15 0h1m6 0h1m62 0h1m1 0h1m-243 1h1m2 0h1m15 0h1m2 0h1m1 0h1m38 0h1m0 0h1m2 0h1m7 0h1m131 0h1m-211 1h1m13 0h1m15 0h1m21 0h1m15 0h1m0 0h1m60 0h1m55 0h1m3 0h1m20 0h1m13 0h1m2 0h1m13 0h1m-247 1h1m12 0h1m4 0h1m52 0h1m16 0h1m51 0h1m7 0h1m11 0h1m23 0h1m23 0h1m12 0h1m4 0h1m1 0h1m4 0h1m15 0h1m13 0h1m11 0h1m-276 1h1m21 0h1m10 0h1m8 0h1m3 0h1m6 0h1m8 0h1m11 0h1m118 0h1m22 0h1m9 0h1m0 0h1m0 0h1m1 0h1m1 0h1m5 0h1m10 0h1m2 0h1m4 0h1m-235 1h1m22 0h1m0 0h1m34 0h1m6 0h1m0 0h1m52 0h1m2 0h1m3 0h1m30 0h1m32 0h1m4 0h1m4 0h1m0 0h1m-229 1h1m2 0h1m22 0h1m0 0h1m38 0h1m10 0h1m4 0h1m9 0h1m45 0h1m13 0h1m2 0h1m6 0h1m6 0h1m10 0h1m33 0h1m21 0h1m-201 1h1m4 0h1m0 0h1m9 0h1m3 0h1m1 0h1m35 0h1m10 0h1m28 0h1m8 0h1m3 0h1m9 0h1m10 0h1m1 0h1m13 0h1m14 0h1m22 0h1m4 0h1m2 0h1m9 0h1m-227 1h1m5 0h1m4 0h1m15 0h1m28 0h1m24 0h1m33 0h1m11 0h1m4 0h1m16 0h1m3 0h1m9 0h1m34 0h1m14 0h1m3 0h1m2 0h1m0 0h1m-206 1h1m19 0h1m0 0h1m0 0h1m17 0h1m0 0h1m18 0h1m58 0h1m23 0h1m1 0h1m28 0h1m18 0h1m3 0h1m11 0h1m2 0h1m29 0h1m2 0h1m-280 1h1m51 0h1m2 0h1m31 0h1m76 0h1m52 0h1m1 0h1m10 0h1m9 0h1m-228 1h1m40 0h1m13 0h1m29 0h1m4 0h1m63 0h1m10 0h1m22 0h1m20 0h1m-188 1h1m6 0h1m22 0h1m0 0h1m1 0h1m7 0h1m6 0h1m12 0h1m35 0h1m9 0h1m6 0h1m16 0h1m21 0h1m22 0h1m10 0h1m5 0h1m49 0h1m-287 1h1m20 0h1m15 0h1m2 0h1m0 0h1m18 0h1m1 0h1m2 0h1m1 0h1m34 0h1m13 0h1m20 0h1m16 0h1m39 0h1m27 0h1m2 0h1m15 0h1m21 0h1m27 0h1m-240 1h1m60 0h1m36 0h1m18 0h1m12 0h1m5 0h1m5 0h1m9 0h1m23 0h1m2 0h1m2 0h1m43 0h1m5 0h1m-277 1h1m5 0h1m0 0h1m24 0h1m0 0h1m48 0h1m15 0h1m45 0h1m6 0h1m20 0h1m2 0h1m29 0h1m9 0h1m6 0h1m57 0h1m0 0h1m3 0h1m5 0h1m-255 1h1m13 0h1m21 0h1m4 0h1m68 0h1m46 0h1m9 0h1m2 0h1m5 0h1m2 0h1m12 0h1m-231 1h1m2 0h1m22 0h1m8 0h1m4 0h1m13 0h1m76 0h1m20 0h1m5 0h1m13 0h1m15 0h1m117 0h1m-313 1h1m69 0h1m86 0h1m4 0h1m5 0h1m0 0h1m8 0h1m16 0h1m31 0h1m-207 1h1m6 0h1m5 0h1m38 0h1m2 0h1m83 0h1m44 0h1m7 0h1m73 0h1m-269 1h1m15 0h1m122 0h1m7 0h1m11 0h1m7 0h1m-184 1h1m4 0h1m15 0h1m6 0h1m22 0h1m0 0h1m2 0h1m20 0h1m19 0h1m33 0h1m41 0h1m4 0h1m35 0h1m27 0h1m-221 1h1m45 0h1m12 0h1m20 0h1m25 0h1m12 0h1m36 0h1m3 0h1m111 0h1m4 0h1m-271 1h1m1 0h1m1 0h1m21 0h1m25 0h1m16 0h1m5 0h1m24 0h1m4 0h1m4 0h1m3 0h1m3 0h1m11 0h1m7 0h1m11 0h1m2 0h1m16 0h1m11 0h1m4 0h1m6 0h1m69 0h1m-277 1h1m9 0h1m4 0h1m33 0h1m2 0h1m18 0h1m61 0h1m31 0h1m13 0h1m5 0h1m3 0h1m13 0h1m4 0h1m-225 1h1m25 0h1m21 0h1m24 0h1m18 0h1m17 0h1m51 0h1m15 0h1m33 0h1m1 0h1m0 0h1m16 0h1m72 0h1m-280 1h1m4 0h1m32 0h1m64 0h1m0 0h1m14 0h1m3 0h1m16 0h1m33 0h1m21 0h1m5 0h1m-226 1h1m16 0h1m10 0h1m2 0h1m1 0h1m16 0h1m32 0h1m11 0h1m37 0h1m15 0h1m5 0h1m2 0h1m7 0h1m7 0h1m2 0h1m22 0h1m4 0h1m-205 1h1m1 0h1m0 0h1m15 0h1m5 0h1m6 0h1m16 0h1m19 0h1m0 0h1m23 0h1m5 0h1m52 0h1m1 0h1m8 0h1m1 0h1m20 0h1m0 0h1m20 0h1m7 0h1m76 0h1m-270 1h1m46 0h1m46 0h1m44 0h1m0 0h1m2 0h1m10 0h1m1 0h1m0 0h1m17 0h1m2 0h1m3 0h1m0 0h1m6 0h1m82 0h1m-275 1h1m4 0h1m1 0h1m23 0h1m37 0h1m6 0h1m35 0h1m10 0h1m22 0h1m4 0h1m0 0h1m19 0h1m15 0h1m12 0h1m-218 1h1m19 0h1m24 0h1m131 0h1m3 0h1m11 0h1m2 0h1m15 0h1m0 0h1m-211 1h1m9 0h1m11 0h1m7 0h1m14 0h1m12 0h1m11 0h1m79 0h1m6 0h1m0 0h1m0 0h1m1 0h1m11 0h1m19 0h1m7 0h1m0 0h1m7 0h1m2 0h1m2 0h1m-218 1h1m4 0h1m22 0h1m44 0h1m5 0h1m5 0h1m50 0h1m13 0h1m22 0h1m21 0h1m10 0h1m1 0h1m0 0h1m-226 1h1m26 0h1m12 0h1m14 0h1m13 0h1m29 0h1m31 0h1m36 0h1m2 0h1m46 0h1m-201 1h1m16 0h1m36 0h1m0 0h1m4 0h1m3 0h1m37 0h1m11 0h1m16 0h1m29 0h1m24 0h1m3 0h1m24 0h1m51 0h1m-274 1h1m34 0h1m8 0h1m6 0h1m4 0h1m16 0h1m48 0h1m41 0h1m37 0h1m89 0h1m-302 1h1m29 0h1m51 0h1m78 0h1m2 0h1m7 0h1m5 0h1m9 0h1m35 0h1m-211 1h1m8 0h1m5 0h1m8 0h1m22 0h1m22 0h1m65 0h1m16 0h1m20 0h1m2 0h1m1 0h1m12 0h1m11 0h1m12 0h1m-224 1h1m23 0h1m8 0h1m29 0h1m7 0h1m15 0h1m16 0h1m57 0h1m24 0h1m21 0h1m2 0h1m63 0h1m-260 1h1m6 0h1m8 0h1m6 0h1m14 0h1m3 0h1m28 0h1m32 0h1m39 0h1m12 0h1m20 0h1m3 0h1m12 0h1m-191 1h1m11 0h1m3 0h1m27 0h1m33 0h1m0 0h1m18 0h1m42 0h1m1 0h1m4 0h1m8 0h1m7 0h1m23 0h1m9 0h1m50 0h1m0 0h1m5 0h1m18 0h1m-302 1h1m13 0h1m8 0h1m10 0h1m41 0h1m4 0h1m8 0h1m7 0h1m11 0h1m47 0h1m0 0h1m0 0h1m12 0h1m31 0h1m11 0h1m79 0h1m-295 1h1m12 0h1m9 0h1m0 0h1m75 0h1m47 0h1m23 0h1m5 0h1m6 0h1m0 0h1m3 0h1m25 0h1m1 0h1m82 0h1m-294 1h1m0 0h1m14 0h1m30 0h1m88 0h1m5 0h1m51 0h1m2 0h1m4 0h1m-193 1h1m93 0h1m29 0h1m12 0h1m20 0h1m6 0h1m5 0h1m4 0h1m7 0h1m9 0h1m76 0h1m6 0h1m0 0h1m-259 1h1m38 0h1m76 0h1m1 0h1m29 0h1m4 0h1m2 0h1m13 0h1m7 0h1m-198 1h1m10 0h1m5 0h1m126 0h1m12 0h1m34 0h1m3 0h1m72 0h1m-213 1h1m19 0h1m7 0h1m49 0h1m4 0h1m2 0h1m3 0h1m10 0h1m7 0h1m13 0h1m5 0h1m1 0h1m4 0h1m73 0h1m-291 1h1m14 0h1m1 0h1m7 0h1m5 0h1m4 0h1m20 0h1m7 0h1m20 0h1m3 0h1m74 0h1m15 0h1m5 0h1m2 0h1m0 0h1m12 0h1m9 0h1m-165 1h1m118 0h1m23 0h1m5 0h1m95 0h1m4 0h1m-287 1h1m11 0h1m0 0h1m12 0h1m17 0h1m5 0h1m12 0h1m1 0h1m16 0h1m74 0h1m6 0h1m24 0h1m14 0h1m73 0h1m7 0h1m-298 1h1m38 0h1m27 0h1m9 0h1m9 0h1m62 0h1m19 0h1m9 0h1m14 0h1m10 0h1m2 0h1m4 0h1m6 0h1m30 0h1m45 0h1m-287 1h1m19 0h1m17 0h1m52 0h1m40 0h1m16 0h1m7 0h1m35 0h1m-180 1h1m16 0h1m2 0h1m26 0h1m11 0h1m202 0h1m-253 1h1m33 0h1m74 0h1m16 0h1m17 0h1m5 0h1m12 0h1m7 0h1m73 0h1m12 0h1m-281 1h1m34 0h1m5 0h1m97 0h1m4 0h1m9 0h1m13 0h1m32 0h1m-189 1h1m37 0h1m42 0h1m33 0h1m31 0h1m34 0h1m67 0h1m-251 1h1m2 0h1m14 0h1m1 0h1m7 0h1m14 0h1m13 0h1m0 0h1m58 0h1m34 0h1m8 0h1m9 0h1m74 0h1m4 0h1m-255 1h1m10 0h1m42 0h1m14 0h1m56 0h1m0 0h1m5 0h1m9 0h1m35 0h1m7 0h1m4 0h1m61 0h1m-240 1h1m3 0h1m24 0h1m6 0h1m11 0h1m60 0h1m135 0h1m-248 1h1m18 0h1m11 0h1m12 0h1m7 0h1m3 0h1m8 0h1m162 0h1m13 0h1m4 0h1m0 0h1m4 0h1m-269 1h1m44 0h1m6 0h1m8 0h1m62 0h1m4 0h1m29 0h1m11 0h1m17 0h1m72 0h1m-250 1h1m8 0h1m23 0h1m28 0h1m92 0h1m2 0h1m5 0h1m3 0h1m9 0h1m68 0h1m1 0h1m-279 1h1m7 0h1m4 0h1m47 0h1m80 0h1m4 0h1m18 0h1m3 0h1m2 0h1m35 0h1m70 0h1m11 0h1m-310 1h1m46 0h1m4 0h1m35 0h1m29 0h1m172 0h1m7 0h1m5 0h1m-294 1h1m36 0h1m20 0h1m10 0h1m118 0h1m84 0h1m16 0h1m2 0h1m-275 1h1m18 0h1m180 0h1m62 0h1m-263 1h1m33 0h1m100 0h1m5 0h1m16 0h1m-170 1h1m4 0h1m33 0h1m30 0h1m72 0h1m9 0h1m114 0h1m-266 1h1m25 0h1m3 0h1m10 0h1m1 0h1m18 0h1m5 0h1m71 0h1m128 0h1m9 0h1m-273 1h1m25 0h1m0 0h1m2 0h1m1 0h1m158 0h1m61 0h1m6 0h1m6 0h1m-265 1h1m27 0h1m13 0h1m2 0h1m11 0h1m100 0h1m25 0h1m81 0h1m-262 1h1m20 0h1m16 0h1m23 0h1m6 0h1m88 0h1m95 0h1m-270 1h1m6 0h1m8 0h1m14 0h1m34 0h1m74 0h1m42 0h1m-194 1h1m8 0h1m6 0h1m38 0h1m3 0h1m84 0h1m3 0h1m7 0h1m33 0h1m-155 1h1m22 0h1m10 0h1m1 0h1m79 0h1m35 0h1m14 0h1m-208 1h1m8 0h1m2 0h1m66 0h1m122 0h1m-171 1h1m33 0h1m105 0h1m110 0h1m-269 1h1m4 0h1m50 0h1m8 0h1m100 0h1m82 0h1m30 0h1m-276 1h1m25 0h1m5 0h1m20 0h1m90 0h1m-113 1h1m19 0h1m-48 1h1m7 0h1m35 0h1m144 0h1m-188 1h1m9 0h1m7 0h1m24 0h1m106 0h1m-162 1h1m247 0h1m-238 1h1m56 0h1m89 0h1m98 0h1m-210 1h1m25 0h1m-67 1h1m4 0h1m10 0h1m7 0h1m11 0h1m0 0h1m131 0h1m-156 1h1m18 0h1m24 0h1m-74 1h1m22 0h1m0 0h1m42 0h1m3 0h1m1 0h1m3 0h1m60 0h1m-73 1h1m11 0h1m2 0h1m83 0h1m68 0h1m-194 1h1m38 0h1m1 0h1m-57 1h1m17 0h1m31 0h1m183 0h1m-235 1h1m13 0h1m35 0h1m77 0h1m62 0h1m40 0h1m-197 1h1m177 0h1m25 0h1m-252 1h1m14 0h1m2 0h1m39 0h1m1 0h1m1 0h1m0 0h1m-47 1h1m21 0h1m65 0h1m39 0h1m98 0h1m1 0h1m-244 1h1m22 0h1m29 0h1m42 0h1m138 0h1m3 0h1m-188 1h1m0 0h1m3 0h1m76 0h1m-119 1h1m13 0h1m23 0h1m68 0h1m82 0h1m6 0h1m-192 1h1m18 0h1m23 0h1m10 0h1m1 0h1m0 0h1m163 0h1m4 0h1m-192 1h1m181 0h1m-225 1h1m3 0h1m1 0h1m12 0h1m22 0h1m25 0h1m17 0h1m-78 1h1m26 0h1m3 0h1m33 0h1m151 0h1m-207 1h1m5 0h1m3 0h1m36 0h1m24 0h1m-72 1h1m44 0h1m162 0h1m-184 1h1m180 0h1m-185 1h1m12 0h1m4 0h1m155 0h1m-169 1h1m-28 1h1m51 0h1m143 0h1m-160 1h1m9 0h1m22 0h1m96 0h1m44 0h1m-206 1h1m72 0h1m-88 1h1m8 0h1m1 0h1m1 0h1m11 0h1m13 0h1m2 0h1m0 0h1m0 0h1m-22 1h1m3 0h1m25 0h1m-49 1h1m16 0h1m12 0h1m121 0h1m44 0h1m-209 1h1m1 0h1m28 0h1m0 0h1m2 0h1m7 0h1m-32 1h1m29 0h1m141 0h1m-160 1h1m17 0h1m-3 1h1m-19 1h1m1 1h1m11 0h1m-12 1h1m18 0h1m48 0h1m-23 1h1m34 0h1m-59 1h1m-28 1h1m48 0h1m111 0h1m-169 1h1m6 0h1m29 0h1m4 0h1m7 0h1m34 0h1m16 0h1m2 0h1m-99 1h1m19 1h1m-23 1h1m40 0h1m10 0h1m0 0h1m-10 2h1m49 0h1m-85 1h1m18 0h1m-5 1h1m11 0h1m-22 1h1m26 0h1m2 0h1m2 0h1m11 0h1m16 0h1m25 0h1m-56 1h1m24 0h1m38 0h1m9 1h1m-83 1h1m45 0h1m-13 1h1m11 0h1m-82 1h1m88 0h1m10 0h1m-30 1h1m23 0h1m-108 1h1m31 0h1m49 0h1m21 0h1m0 0h1m10 0h1m-116 1h1m34 0h1m54 0h1m19 0h1m3 0h1m-64 1h1m24 0h1m6 0h1m2 0h1m-83 1h1m53 0h1m50 0h1m0 0h1m-85 1h1m41 0h1m6 0h1m3 0h1m6 0h1m4 0h1m2 0h1m29 0h1m34 0h1m-118 1h1m21 1h1m5 0h1m24 0h1m7 0h1m6 0h1m-84 1h1m50 0h1m14 0h1m24 0h1m2 0h1m-60 1h1m24 0h1m14 0h1m7 0h1m0 0h1m4 0h1m-117 1h1m43 0h1m11 0h1m0 0h1m24 0h1m26 0h1m55 0h1m-114 1h1m17 0h1m45 0h1m3 0h1m-82 1h1m44 0h1m15 0h1m15 0h1m36 0h1m-69 1h1m8 0h1m21 0h1m6 0h1m33 0h1m-95 1h1m9 0h1m12 0h1m38 0h1m38 0h1m-77 1h1m15 0h1m3 0h1m6 0h1m7 0h1m41 0h1m-178 1h1m8 0h1m74 0h1m4 0h1m45 0h1m1 0h1m-49 1h1m2 0h1m11 0h1m34 0h1m34 0h1m6 0h1m-74 1h1m25 0h1m42 0h1m-62 1h1m-24 1h1m0 1h1m0 0h1m1 0h1m12 0h1m18 0h1m-49 1h1m82 0h1m-70 1h1m32 1h1m1 0h1m-30 1h1m-101 1h1m90 0h1m28 0h1m5 0h1m36 0h1m-148 1h1m72 0h1m5 0h1m9 0h1m26 0h1m-40 1h1m0 0h1m2 0h1m13 0h1m23 0h1m-121 1h1m84 0h1m4 0h1m16 0h1m0 0h1m3 0h1m0 0h1m25 0h1m-133 1h1m69 0h1m28 0h1m-126 1h1m101 0h1m18 0h1m20 0h1m-13 1h1m-13 1h1m11 0h1m4 0h1m6 0h1m3 0h1m1 0h1m-110 1h1m54 0h1m17 0h1m28 0h1m21 0h1m-57 1h1m4 0h1m28 0h1m-93 1h1m4 0h1m28 0h1m16 0h1m0 0h1m0 0h1m55 0h1m-158 1h1m1 0h1m1 0h1m7 0h1m5 0h1m34 0h1m78 0h1m-134 1h1m8 0h1m35 0h1m44 0h1m17 0h1m3 0h1m1 0h1m8 0h1m17 0h1m-124 1h1m24 0h1m68 0h1m28 0h1m29 0h1m-55 1h1m9 0h1m30 0h1m-142 1h1m34 0h1m47 0h1m4 0h1m47 0h1m-132 1h1m84 0h1m36 0h1m11 0h1m20 0h1m-77 1h1m2 0h1m4 0h1m8 0h1m0 0h1m8 0h1m-118 1h1m41 0h1m59 0h1m2 0h1m13 0h1m-123 1h1m9 0h1m70 0h1m39 0h1m17 0h1m-141 1h1m27 0h1m69 0h1m43 0h1m29 0h1m-181 1h1m19 0h1m77 0h1m0 0h1m12 0h1m47 0h1m-139 1h1m68 0h1m30 0h1m0 0h1m47 0h1m-132 1h1m5 0h1m56 0h1m49 0h1m7 0h1m5 0h1m-84 1h1m19 0h1m38 0h1m-133 1h1m1 0h1m8 0h1m7 0h1m74 0h1m6 0h1m8 0h1m8 0h1m37 0h1m-122 1h1m91 0h1m5 0h1m-138 1h1m23 0h1m27 0h1m6 0h1m40 0h1m11 0h1m32 0h1m-40 1h1m37 0h1m-143 1h1m4 0h1m1 0h1m25 0h1m55 0h1m23 0h1m35 0h1m-159 1h1m6 0h1m28 0h1m130 0h1m-174 1h1m11 0h1m6 0h1m0 0h1m4 0h1m12 0h1m3 0h1m2 1h1m7 0h1m46 0h1m17 0h1m8 0h1m-114 1h1m2 1h1m4 0h1m16 0h1m24 0h1m2 0h1m33 0h1m-90 1h1m62 0h1m33 0h1m4 0h1m14 0h1m-116 1h1m5 0h1m28 0h1m17 0h1m42 0h1m-116 1h1m22 0h1m35 0h1m50 1h1m-106 1h1m12 0h1m12 0h1m5 0h1m8 0h1m79 0h1m-92 1h1m0 0h1m22 0h1m58 0h1m13 0h1m-118 1h1m16 0h1m34 0h1m3 0h1m43 0h1m-92 1h1m29 0h1m60 0h1m5 0h1m1 0h1m-18 1h1m18 0h1m-104 1h1m108 0h1m-119 1h1m5 0h1m11 0h1m2 0h1m5 0h1m26 0h1m-48 1h1m13 0h1m74 0h1m6 0h1m1 0h1m5 0h1m-113 1h1m16 0h1m33 0h1m53 0h1m9 0h1m-116 1h1m0 0h1m1 0h1m15 0h1m21 0h1m18 0h1m18 0h1m13 0h1m-96 1h1m7 0h1m11 0h1m21 0h1m9 0h1m71 0h1m-104 1h1m13 0h1m18 0h1m13 0h1m-70 1h1m7 0h1m5 0h1m98 0h1m-101 1h1m36 0h1m-45 1h1m0 0h1m2 0h1m3 0h1m25 0h1m73 0h1m-108 1h1m6 0h1m7 1h1m83 0h1m7 0h1m-42 1h1m6 0h1m7 0h1m15 0h1m12 0h1m-81 1h1m71 0h1m-86 1h1m79 0h1m4 0h1m8 0h1m4 0h1m-103 1h1m21 0h1m0 0h1m50 0h1m12 0h1m-81 1h1m52 0h1m13 0h1m-71 1h1m15 0h1m31 0h1m-64 1h1m35 0h1m39 0h1m-62 1h1m39 0h1m14 0h1m40 0h1m-107 1h1m15 0h1m2 0h1m38 0h1m18 0h1m11 0h1m2 0h1m5 0h1m-87 1h1m52 0h1m37 0h1m-92 1h1m-17 1h1m10 0h1m51 0h1m37 0h1m-45 1h1m12 0h1m25 0h1m-84 1h1m92 0h1m-16 1h1m13 0h1m1 0h1m8 0h1m-97 1h1m89 0h1m-12 1h1m-24 1h1m3 0h1m3 0h1m1 0h1m25 0h1m2 0h1m-35 1h1m1 0h1m10 0h1m1 0h1m10 0h1m-11 1h1m9 0h1m-26 2h1m8 0h1m11 0h1m-28 2h1m28 0h1m-34 4h1m32 0h1"/></defs>
<g transform="translate(0 .5)" fill="none" stroke="#c6e2ed"><use href="#q5" stroke-width="2.1" filter="url(#bl)" opacity="0.7"/><use href="#q5" stroke-width="1.3" opacity="0.45"/></g>
<defs><path id="q6" d="M711 1042h1m-7 3h1m-4 1h1m-3 1h1m-4 1h1m0 1h1m24 1h1m-7 1h1m4 3h1m-12 2h1m57 0h1m-46 1h1m-21 3h1m19 0h1m-24 1h1m-61 1h1m-15 1h1m67 0h1m-7 1h1m6 1h1m17 0h1m5 0h1m-7 1h1m-23 1h1m6 1h1m5 0h1m10 0h1m-24 1h1m0 0h1m0 0h1m18 0h1m21 0h1m-85 1h1m39 0h1m11 0h1m18 0h1m-101 1h1m102 0h1m-26 1h1m90 0h1m-173 1h1m191 0h1m-103 1h1m12 0h1m56 0h1m17 1h1m-148 1h1m82 0h1m-109 1h1m148 0h1m-174 1h1m10 0h1m7 0h1m0 0h1m76 0h1m61 0h1m-132 1h1m9 0h1m-39 1h1m2 0h1m5 0h1m1 0h1m12 0h1m112 0h1m-149 1h1m13 1h1m18 0h1m27 0h1m-58 1h1m9 0h1m18 0h1m3 0h1m80 0h1m-100 1h1m104 0h1m-136 1h1m26 0h1m24 0h1m-40 1h1m20 0h1m9 0h1m25 0h1m6 0h1m0 0h1m-54 1h1m0 0h1m5 0h1m20 0h1m12 0h1m55 0h1m20 0h1m77 0h1m-180 1h1m70 0h1m-91 1h1m3 0h1m5 0h1m1 0h1m33 0h1m-38 1h1m7 0h1m0 0h1m25 0h1m-71 1h1m32 0h1m13 0h1m1 0h1m1 0h1m-32 1h1m47 0h1m5 0h1m41 0h1m-105 1h1m1 0h1m49 0h1m16 0h1m-86 1h1m22 0h1m27 0h1m0 0h1m31 0h1m162 0h1m-239 1h1m46 0h1m-23 1h1m21 0h1m-5 1h1m36 0h1m-80 1h1m3 0h1m41 0h1m195 0h1m-3 1h1m4 0h1m-246 1h1m12 0h1m101 0h1m118 0h1m-183 1h1m10 0h1m7 0h1m159 0h1m6 0h1m-167 1h1m132 0h1m-224 1h1m17 0h1m6 0h1m6 0h1m3 0h1m49 0h1m10 0h1m25 0h1m128 0h1m12 0h1m-247 1h1m31 0h1m5 0h1m28 0h1m10 0h1m148 0h1m-237 1h1m23 0h1m6 0h1m27 0h1m47 0h1m8 0h1m21 0h1m92 0h1m6 0h1m-236 1h1m1 0h1m7 0h1m6 0h1m2 0h1m2 0h1m25 0h1m2 0h1m1 0h1m9 0h1m13 0h1m3 0h1m-79 1h1m24 0h1m36 0h1m6 0h1m5 0h1m-14 1h1m5 0h1m0 0h1m0 0h1m1 0h1m23 0h1m144 0h1m4 0h1m-223 1h1m30 0h1m8 0h1m187 0h1m-216 1h1m6 0h1m1 0h1m5 0h1m1 0h1m10 0h1m26 0h1m152 0h1m-260 1h1m112 0h1m-71 1h1m19 0h1m22 0h1m-70 1h1m2 0h1m22 0h1m33 0h1m9 0h1m22 0h1m137 0h1m13 0h1m-194 1h1m35 0h1m155 0h1m-244 1h1m108 0h1m93 0h1m-219 1h1m59 0h1m8 0h1m2 0h1m146 0h1m-126 1h1m10 0h1m29 0h1m-94 1h1m208 0h1m-269 1h1m77 0h1m9 0h1m22 0h1m16 0h1m137 0h1m-249 1h1m5 0h1m34 0h1m27 0h1m17 0h1m10 0h1m5 0h1m-95 1h1m38 0h1m200 0h1m-180 1h1m20 0h1m9 0h1m142 0h1m10 0h1m-254 1h1m7 0h1m27 0h1m5 0h1m36 0h1m10 0h1m-6 1h1m25 0h1m-88 1h1m56 0h1m8 0h1m120 0h1m1 0h1m-151 1h1m21 0h1m22 0h1m146 0h1m-221 1h1m52 0h1m4 0h1m19 0h1m0 0h1m-116 1h1m81 0h1m15 0h1m14 0h1m109 0h1m30 0h1m-235 1h1m47 0h1m4 0h1m14 0h1m13 0h1m117 0h1m35 0h1m-202 1h1m8 0h1m10 0h1m25 0h1m25 0h1m129 0h1m-28 1h1m2 0h1m0 0h1m5 0h1m7 0h1m-221 1h1m85 0h1m139 0h1m-197 1h1m163 0h1m12 0h1m-200 1h1m58 0h1m14 0h1m2 0h1m129 0h1m3 0h1m-238 1h1m31 0h1m8 0h1m6 0h1m32 0h1m139 0h1m9 0h1m-162 1h1m50 0h1m92 0h1m1 0h1m-117 1h1m21 0h1m118 0h1m-253 1h1m121 0h1m108 0h1m0 0h1m1 0h1m4 0h1m4 0h1m-135 1h1m106 0h1m25 0h1m7 0h1m-245 1h1m136 0h1m58 0h1m30 0h1m10 0h1m3 0h1m-173 1h1m11 0h1m7 0h1m87 0h1m47 0h1m13 0h1m3 0h1m-208 1h1m40 0h1m28 0h1m8 0h1m103 0h1m-229 1h1m88 0h1m41 0h1m73 0h1m7 0h1m16 0h1m19 0h1m7 0h1m-220 1h1m66 0h1m7 0h1m76 0h1m40 0h1m18 0h1m-248 1h1m83 0h1m26 0h1m91 0h1m13 0h1m1 0h1m5 0h1m16 0h1m-270 1h1m8 0h1m242 0h1m5 0h1m3 0h1m-159 1h1m0 0h1m7 0h1m21 0h1m112 0h1m11 0h1m5 0h1m7 0h1m13 0h1m-281 1h1m12 0h1m93 0h1m41 0h1m73 0h1m15 0h1m8 0h1m1 0h1m12 0h1m-217 1h1m67 0h1m11 0h1m24 0h1m41 0h1m31 0h1m3 0h1m13 0h1m24 0h1m16 0h1m-224 1h1m152 0h1m9 0h1m47 0h1m7 0h1m8 0h1m-272 1h1m97 0h1m55 0h1m47 0h1m14 0h1m9 0h1m6 0h1m-162 1h1m9 0h1m19 0h1m108 0h1m-113 1h1m2 0h1m11 0h1m34 0h1m83 0h1m4 0h1m4 0h1m2 0h1m19 0h1m-289 1h1m87 0h1m22 0h1m98 0h1m6 0h1m7 0h1m1 0h1m25 0h1m2 0h1m-246 1h1m72 0h1m24 0h1m36 0h1m35 0h1m39 0h1m23 0h1m19 0h1m0 0h1m-256 1h1m90 0h1m15 0h1m65 0h1m44 0h1m18 0h1m-122 1h1m97 0h1m5 0h1m27 0h1m3 0h1m9 0h1m6 0h1m-141 1h1m8 0h1m51 0h1m12 0h1m42 0h1m3 0h1m2 0h1m-182 1h1m22 0h1m0 0h1m12 0h1m1 0h1m88 0h1m3 0h1m5 0h1m0 0h1m31 0h1m23 0h1m0 0h1m3 0h1m5 0h1m-301 1h1m240 0h1m4 0h1m29 0h1m17 0h1m1 0h1m-294 1h1m70 0h1m87 0h1m8 0h1m55 0h1m19 0h1m16 0h1m0 0h1m6 0h1m-249 1h1m71 0h1m72 0h1m17 0h1m9 0h1m15 0h1m14 0h1m1 0h1m4 0h1m0 0h1m-132 1h1m19 0h1m11 0h1m6 0h1m16 0h1m6 0h1m44 0h1m16 0h1m7 0h1m2 0h1m28 0h1m5 0h1m-128 1h1m20 0h1m10 0h1m36 0h1m10 0h1m9 0h1m2 0h1m21 0h1m4 0h1m13 0h1m-158 1h1m40 0h1m55 0h1m0 0h1m8 0h1m3 0h1m5 0h1m13 0h1m10 0h1m6 0h1m-121 1h1m80 0h1m29 0h1m28 0h1m7 0h1m-158 1h1m2 0h1m9 0h1m36 0h1m11 0h1m61 0h1m39 0h1m-294 1h1m43 0h1m58 0h1m31 0h1m20 0h1m40 0h1m14 0h1m8 0h1m26 0h1m-235 1h1m124 0h1m17 0h1m42 0h1m6 0h1m24 0h1m31 0h1m10 0h1m-127 1h1m15 0h1m37 0h1m7 0h1m11 0h1m28 0h1m10 0h1m-228 1h1m122 0h1m2 0h1m62 0h1m35 0h1m30 0h1m-131 1h1m1 0h1m22 0h1m2 0h1m5 0h1m4 0h1m11 0h1m1 0h1m0 0h1m5 0h1m-135 1h1m31 0h1m50 0h1m39 0h1m2 0h1m8 0h1m2 0h1m4 0h1m3 0h1m1 0h1m27 0h1m-262 1h1m5 0h1m69 0h1m18 0h1m60 0h1m39 0h1m12 0h1m11 0h1m0 0h1m0 0h1m24 0h1m-148 1h1m55 0h1m6 0h1m34 0h1m6 0h1m3 0h1m29 0h1m21 0h1m-237 1h1m73 0h1m8 0h1m33 0h1m2 0h1m37 0h1m0 0h1m17 0h1m3 0h1m1 0h1m2 0h1m22 0h1m10 0h1m11 0h1m-162 1h1m37 0h1m53 0h1m11 0h1m2 0h1m1 0h1m2 0h1m2 0h1m0 0h1m1 0h1m8 0h1m1 0h1m10 0h1m2 0h1m-152 1h1m46 0h1m53 0h1m6 0h1m15 0h1m2 0h1m8 0h1m9 0h1m10 0h1m0 0h1m9 0h1m9 0h1m-124 1h1m56 0h1m2 0h1m6 0h1m5 0h1m8 0h1m4 0h1m2 0h1m11 0h1m0 0h1m27 0h1m-174 1h1m1 0h1m90 0h1m25 0h1m1 0h1m4 0h1m26 0h1m13 0h1m-135 1h1m12 0h1m35 0h1m8 0h1m5 0h1m13 0h1m33 0h1m-245 1h1m136 0h1m7 0h1m8 0h1m11 0h1m4 0h1m14 0h1m3 0h1m8 0h1m5 0h1m28 0h1m2 0h1m17 0h1m-226 1h1m34 0h1m5 0h1m15 0h1m42 0h1m15 0h1m26 0h1m32 0h1m3 0h1m17 0h1m-131 1h1m84 0h1m2 0h1m4 0h1m2 0h1m18 0h1m15 0h1m11 0h1m17 0h1m-256 1h1m91 0h1m34 0h1m17 0h1m49 0h1m12 0h1m1 0h1m0 0h1m4 0h1m11 0h1m-141 1h1m66 0h1m1 0h1m14 0h1m6 0h1m4 0h1m6 0h1m22 0h1m1 0h1m20 0h1m14 0h1m-170 1h1m51 0h1m8 0h1m6 0h1m21 0h1m9 0h1m41 0h1m3 0h1m7 0h1m4 0h1m-260 1h1m125 0h1m75 0h1m5 0h1m0 0h1m9 0h1m31 0h1m12 0h1m5 0h1m-106 1h1m9 0h1m4 0h1m18 0h1m5 0h1m8 0h1m42 0h1m1 0h1m7 0h1m-253 1h1m84 0h1m0 0h1m40 0h1m33 0h1m23 0h1m11 0h1m10 0h1m3 0h1m6 0h1m-123 1h1m6 0h1m43 0h1m12 0h1m12 0h1m29 0h1m3 0h1m5 0h1m15 0h1m14 0h1m3 0h1m-100 1h1m34 0h1m18 0h1m4 0h1m24 0h1m4 0h1m12 0h1m-241 1h1m144 0h1m38 0h1m10 0h1m2 0h1m0 0h1m0 0h1m23 0h1m-230 1h1m93 0h1m0 0h1m46 0h1m31 0h1m5 0h1m13 0h1m6 0h1m-222 1h1m100 0h1m59 0h1m37 0h1m24 0h1m10 0h1m9 0h1m-154 1h1m65 0h1m5 0h1m11 0h1m0 0h1m19 0h1m12 0h1m16 0h1m3 0h1m2 0h1m-148 1h1m1 0h1m2 0h1m63 0h1m38 0h1m15 0h1m6 0h1m1 0h1m4 0h1m38 0h1m-251 1h1m72 0h1m64 0h1m52 0h1m4 0h1m11 0h1m1 0h1m6 0h1m-155 1h1m27 0h1m52 0h1m0 0h1m35 0h1m3 0h1m1 0h1m3 0h1m7 0h1m1 0h1m39 0h1m-163 1h1m19 0h1m53 0h1m7 0h1m20 0h1m5 0h1m6 0h1m11 0h1m17 0h1m-136 1h1m9 0h1m69 0h1m0 0h1m16 0h1m18 0h1m15 0h1m6 0h1m2 0h1m11 0h1m-115 1h1m70 0h1m0 0h1m2 0h1m7 0h1m-124 1h1m1 0h1m7 0h1m55 0h1m0 0h1m11 0h1m31 0h1m3 0h1m2 0h1m10 0h1m24 0h1m-166 1h1m66 0h1m0 0h1m31 0h1m13 0h1m14 0h1m7 0h1m-133 1h1m3 0h1m48 0h1m11 0h1m8 0h1m20 0h1m16 0h1m23 0h1m46 0h1m11 0h1m-208 1h1m5 0h1m5 0h1m5 0h1m9 0h1m89 0h1m13 0h1m0 0h1m4 0h1m16 0h1m29 0h1m4 0h1m-267 1h1m74 0h1m8 0h1m0 0h1m52 0h1m46 0h1m2 0h1m5 0h1m1 0h1m5 0h1m9 0h1m8 0h1m0 0h1m4 0h1m8 0h1m-105 1h1m12 0h1m43 0h1m0 0h1m13 0h1m0 0h1m28 0h1m31 0h1m-177 1h1m69 0h1m51 0h1m0 0h1m9 0h1m28 0h1m9 0h1m-256 1h1m79 0h1m119 0h1m5 0h1m-207 1h1m71 0h1m77 0h1m13 0h1m10 0h1m19 0h1m21 0h1m-122 1h1m9 0h1m73 0h1m10 0h1m10 0h1m1 0h1m7 0h1m7 0h1m22 0h1m1 0h1m-173 1h1m80 0h1m28 0h1m9 0h1m11 0h1m-135 1h1m62 0h1m112 0h1m-180 1h1m5 0h1m3 0h1m0 0h1m108 0h1m5 0h1m4 0h1m15 0h1m35 0h1m-254 1h1m65 0h1m104 0h1m9 0h1m19 0h1m1 0h1m56 0h1m-191 1h1m35 0h1m53 0h1m27 0h1m8 0h1m20 0h1m17 0h1m-157 1h1m8 0h1m44 0h1m69 0h1m4 0h1m10 0h1m-201 1h1m140 0h1m8 0h1m49 0h1m13 0h1m-155 1h1m7 0h1m93 0h1m8 0h1m19 0h1m26 0h1m6 0h1m12 0h1m-145 1h1m22 0h1m66 0h1m18 0h1m19 0h1m12 0h1m-254 1h1m49 0h1m11 0h1m18 0h1m20 0h1m55 0h1m2 0h1m33 0h1m16 0h1m16 0h1m0 0h1m16 0h1m-164 1h1m63 0h1m4 0h1m2 0h1m2 0h1m2 0h1m59 0h1m2 0h1m17 0h1m1 0h1m-136 1h1m19 0h1m10 0h1m62 0h1m3 0h1m21 0h1m3 0h1m-166 1h1m9 0h1m23 0h1m0 0h1m1 0h1m47 0h1m4 0h1m23 0h1m13 0h1m-116 1h1m64 0h1m20 0h1m18 0h1m23 0h1m29 0h1m-96 1h1m37 0h1m23 0h1m20 0h1m1 0h1m11 0h1m-143 1h1m4 0h1m8 0h1m11 0h1m18 0h1m23 0h1m25 0h1m10 0h1m32 0h1m4 0h1m-157 1h1m1 0h1m25 0h1m0 0h1m5 0h1m21 0h1m3 0h1m9 0h1m36 0h1m21 0h1m0 0h1m-140 1h1m12 0h1m13 0h1m26 0h1m25 0h1m60 0h1m-175 1h1m12 0h1m28 0h1m107 0h1m18 0h1m36 0h1m-199 1h1m11 0h1m10 0h1m5 0h1m0 0h1m5 0h1m11 0h1m17 0h1m-38 1h1m0 0h1m23 0h1m21 0h1m2 0h1m16 0h1m-74 1h1m5 0h1m14 0h1m13 0h1m44 0h1m31 0h1m10 0h1m15 0h1m-181 1h1m99 0h1m0 0h1m4 0h1m7 0h1m10 0h1m39 0h1m13 0h1m25 0h1m-163 1h1m0 0h1m13 0h1m0 0h1m10 0h1m74 0h1m8 0h1m-111 1h1m7 0h1m27 0h1m1 0h1m15 0h1m3 0h1m8 0h1m12 0h1m20 0h1m3 0h1m2 0h1m2 0h1m51 0h1m-208 1h1m24 0h1m37 0h1m25 0h1m4 0h1m14 0h1m-77 1h1m1 0h1m3 0h1m58 0h1m0 0h1m7 0h1m39 0h1m8 0h1m13 0h1m38 0h1m3 0h1m-151 1h1m22 0h1m2 0h1m4 0h1m69 0h1m12 0h1m-153 1h1m14 0h1m53 0h1m4 0h1m0 0h1m10 0h1m6 0h1m84 0h1m-197 1h1m0 0h1m15 0h1m6 0h1m26 0h1m1 0h1m14 0h1m19 0h1m6 0h1m10 0h1m10 0h1m28 0h1m-122 1h1m17 0h1m39 0h1m15 0h1m6 0h1m12 0h1m89 0h1m-211 1h1m13 0h1m19 0h1m0 0h1m27 0h1m1 0h1m6 0h1m1 0h1m1 0h1m27 0h1m98 0h1m-158 1h1m12 0h1m24 0h1m32 0h1m-110 1h1m6 0h1m19 0h1m3 0h1m3 0h1m13 0h1m27 0h1m-46 1h1m8 0h1m22 0h1m6 0h1m32 0h1m51 0h1m-155 1h1m11 0h1m14 0h1m4 0h1m21 0h1m5 0h1m13 0h1m2 0h1m4 0h1m22 0h1m0 0h1m44 0h1m-170 1h1m23 0h1m21 0h1m28 0h1m23 0h1m79 0h1m-142 1h1m7 0h1m15 0h1m4 0h1m15 0h1m7 0h1m21 0h1m7 0h1m39 0h1m7 0h1m10 0h1m-116 1h1m11 0h1m1 0h1m41 0h1m6 0h1m1 0h1m16 0h1m23 0h1m-128 1h1m24 0h1m2 0h1m10 0h1m12 0h1m26 0h1m22 0h1m29 0h1m-162 1h1m32 0h1m3 0h1m10 0h1m76 0h1m-94 1h1m29 0h1m2 0h1m2 0h1m8 0h1m3 0h1m27 0h1m38 0h1m14 0h1m-164 1h1m50 0h1m11 0h1m4 0h1m7 0h1m3 0h1m16 0h1m40 0h1m9 0h1m-135 1h1m13 0h1m31 0h1m1 0h1m0 0h1m1 0h1m67 0h1m-119 1h1m28 0h1m16 0h1m15 0h1m2 0h1m7 0h1m17 0h1m10 0h1m28 0h1m6 0h1m-151 1h1m12 0h1m11 0h1m2 0h1m5 0h1m42 0h1m24 0h1m5 0h1m8 0h1m10 0h1m30 0h1m1 0h1m-133 1h1m2 0h1m6 0h1m20 0h1m6 0h1m43 0h1m35 0h1m11 0h1m-183 1h1m30 0h1m1 0h1m5 0h1m43 0h1m16 0h1m8 0h1m15 0h1m41 0h1m7 0h1m4 0h1m-182 1h1m82 0h1m15 0h1m52 0h1m5 0h1m6 0h1m10 0h1m-105 1h1m0 0h1m5 0h1m7 0h1m7 0h1m4 0h1m19 0h1m5 0h1m3 0h1m3 0h1m6 0h1m21 0h1m2 0h1m1 0h1m14 0h1m-173 1h1m28 0h1m7 0h1m19 0h1m24 0h1m35 0h1m23 0h1m25 0h1m0 0h1m-102 1h1m2 0h1m12 0h1m20 0h1m53 0h1m16 0h1m-180 1h1m11 0h1m10 0h1m1 0h1m2 0h1m13 0h1m14 0h1m2 0h1m0 0h1m66 0h1m17 0h1m11 0h1m3 0h1m6 0h1m-164 1h1m5 0h1m4 0h1m19 0h1m9 0h1m33 0h1m84 0h1m-178 1h1m33 0h1m4 0h1m59 0h1m10 0h1m23 0h1m20 0h1m0 0h1m18 0h1m-107 1h1m10 0h1m28 0h1m10 0h1m17 0h1m18 0h1m2 0h1m3 0h1m9 0h1m-172 1h1m2 0h1m54 0h1m8 0h1m63 0h1m8 0h1m2 0h1m3 0h1m3 0h1m6 0h1m33 0h1m-186 1h1m23 0h1m20 0h1m31 0h1m0 0h1m39 0h1m27 0h1m1 0h1m-96 1h1m3 0h1m3 0h1m53 0h1m11 0h1m4 0h1m6 0h1m5 0h1m12 0h1m11 0h1m-175 1h1m6 0h1m1 0h1m4 0h1m14 0h1m92 0h1m11 0h1m27 0h1m7 0h1m-166 1h1m122 0h1m11 0h1m11 0h1m4 0h1m-113 1h1m1 0h1m94 0h1m0 0h1m8 0h1m10 0h1m-162 1h1m26 0h1m20 0h1m3 0h1m5 0h1m32 0h1m51 0h1m4 0h1m13 0h1m-160 1h1m34 0h1m88 0h1m16 0h1m17 0h1m-191 1h1m74 0h1m26 0h1m0 0h1m48 0h1m10 0h1m1 0h1m26 0h1m-162 1h1m4 0h1m93 0h1m24 0h1m10 0h1m3 0h1m23 0h1m-162 1h1m53 0h1m78 0h1m20 0h1m4 0h1m-172 1h1m14 0h1m15 0h1m19 0h1m15 0h1m94 0h1m-134 1h1m0 0h1m13 0h1m33 0h1m51 0h1m3 0h1m16 0h1m12 0h1m5 0h1m-94 1h1m61 0h1m37 0h1m-191 1h1m15 0h1m11 0h1m10 0h1m12 0h1m43 0h1m55 0h1m7 0h1m0 0h1m16 0h1m2 0h1m9 0h1m8 0h1m-190 1h1m6 0h1m7 0h1m1 0h1m28 0h1m2 0h1m17 0h1m-75 1h1m25 0h1m0 0h1m11 0h1m54 0h1m-103 1h1m19 0h1m5 0h1m16 0h1m61 0h1m16 0h1m58 0h1m2 0h1m-154 1h1m133 0h1m1 0h1m-153 1h1m11 0h1m35 0h1m4 0h1m-59 1h1m7 0h1m20 0h1m1 0h1m22 0h1m9 0h1m33 0h1m77 0h1m4 0h1m4 0h1m-154 1h1m0 0h1m132 0h1m16 0h1m0 0h1m-182 1h1m2 0h1m34 0h1m109 0h1m12 0h1m-138 1h1m20 0h1m42 0h1m44 0h1m29 0h1m7 0h1m-130 1h1m6 0h1m6 0h1m30 0h1m55 0h1m29 0h1m1 0h1m1 0h1m-158 1h1m66 0h1m59 0h1m12 0h1m11 0h1m0 0h1m12 0h1m1 0h1m-151 1h1m18 0h1m37 0h1m54 0h1m1 0h1m3 0h1m17 0h1m4 0h1m-162 1h1m7 0h1m65 0h1m49 0h1m-105 1h1m-35 1h1m0 0h1m40 0h1m8 0h1m-44 1h1m16 0h1m29 0h1m-32 1h1m20 0h1m-28 1h1m0 0h1m8 0h1m5 0h1m11 0h1m11 0h1m0 0h1m23 0h1m46 0h1m29 0h1m-116 1h1m0 0h1m36 0h1m85 0h1m-170 1h1m8 0h1m41 0h1m10 0h1m52 0h1m7 0h1m32 0h1m12 0h1m13 0h1m-181 1h1m8 0h1m11 0h1m0 0h1m62 0h1m80 0h1m-157 1h1m6 0h1m3 0h1m4 0h1m17 0h1m1 0h1m12 0h1m36 0h1m9 0h1m-94 1h1m24 0h1m0 0h1m6 0h1m0 0h1m11 0h1m19 0h1m3 0h1m107 0h1m-168 1h1m3 0h1m23 0h1m7 0h1m-67 1h1m8 0h1m2 0h1m20 0h1m14 0h1m40 0h1m99 0h1m-184 1h1m0 0h1m39 0h1m119 0h1m-115 1h1m7 0h1m24 0h1m65 0h1m9 0h1m11 0h1m10 0h1m-169 1h1m119 0h1m-128 1h1m35 0h1m0 0h1m108 0h1m9 0h1m18 0h1m-172 1h1m80 0h1m4 0h1m28 0h1m53 0h1m-102 1h1m9 0h1m52 0h1m17 0h1m10 0h1m-166 1h1m31 0h1m19 0h1m2 0h1m70 0h1m-123 1h1m60 0h1m5 0h1m34 0h1m45 0h1m2 0h1m2 0h1m-144 1h1m24 0h1m31 0h1m65 0h1m-114 1h1m4 0h1m29 0h1m10 0h1m13 0h1m7 0h1m73 0h1m-144 1h1m60 0h1m33 0h1m14 0h1m17 0h1m4 0h1m7 0h1m-127 1h1m23 0h1m25 0h1m0 0h1m63 0h1m-145 1h1m23 0h1m7 0h1m17 0h1m9 0h1m2 0h1m11 0h1m21 0h1m26 0h1m34 0h1m-173 1h1m44 0h1m31 0h1m15 0h1m6 0h1m2 0h1m46 0h1m-133 1h1m27 0h1m65 0h1m17 0h1m19 0h1m-159 1h1m2 0h1m82 0h1m10 0h1m68 0h1m-158 1h1m59 0h1m11 0h1m91 0h1m-124 1h1m24 0h1m16 0h1m9 0h1m38 0h1m26 0h1m-128 1h1m65 0h1m65 0h1m-133 1h1m106 0h1m13 0h1m-120 1h1m36 0h1m82 0h1m-147 1h1m8 0h1m26 0h1m11 0h1m27 0h1m-94 1h1m39 0h1m12 0h1m13 0h1m44 0h1m3 0h1m-80 1h1m12 0h1m44 0h1m0 0h1m-18 1h1m32 0h1m-36 1h1m9 0h1m10 0h1m9 0h1m-101 1h1m23 0h1m44 0h1m1 0h1m2 0h1m-1 1h1m1 0h1m0 0h1m1 0h1m0 0h1m-54 1h1m36 0h1m9 0h1m-29 1h1m0 0h1m24 0h1m3 0h1m3 0h1m4 0h1m14 0h1m-60 1h1m1 0h1m21 0h1m23 0h1m-28 1h1m5 0h1m2 0h1m6 0h1m22 0h1m2 0h1m-36 1h1m-30 1h1m23 0h1m25 1h1m-33 1h1m-18 1h1m38 0h1m5 0h1m7 0h1m-84 1h1m15 0h1m5 0h1m20 0h1m1 0h1m2 0h1m44 0h1m-41 1h1m-8 2h1m17 0h1m3 0h1m-37 1h1m28 0h1m22 0h1m-67 1h1m38 0h1m-45 1h1m66 0h1m-1 1h1m-28 1h1m2 0h1m-49 1h1m55 0h1m24 0h1m-76 1h1m37 0h1m12 2h1m-1 1h1m22 0h1m-90 1h1m18 0h1m47 0h1m8 0h1m-19 1h1m27 0h1m3 0h1m3 0h1m-78 1h1m41 0h1m7 0h1m-57 1h1m69 0h1m2 0h1m-4 1h1m11 0h1m0 1h1m7 0h1m-28 1h1m22 0h1m-44 1h1m27 0h1m-12 1h1m5 2h1m-1 1h1m-2 1h1m7 0h1m3 0h1m7 0h1m-32 1h1m35 0h1m-24 1h1m4 0h1m9 0h1m5 0h1m-25 1h1m5 0h1m7 0h1m-31 1h1m5 0h1m25 0h1m-28 1h1m14 0h1m22 0h1m1 0h1m-19 2h1m17 2h1"/></defs>
<g transform="translate(0 .5)" fill="none" stroke="#f8dccb"><use href="#q6" stroke-width="2.1" filter="url(#bl)" opacity="0.7"/><use href="#q6" stroke-width="1.3" opacity="0.45"/></g>
<defs><path id="q7" d="M714 1045h1m-1 1h1m7 3h1m-11 6h1m8 0h1m21 3h1m25 3h1m-55 2h1m2 0h1m38 0h1m-137 1h1m14 2h1m87 0h1m-5 1h1m19 0h1m15 0h1m-9 1h1m31 0h1m21 0h1m-80 2h1m38 0h1m-51 1h1m33 0h1m11 0h1m12 1h1m-44 1h1m0 0h1m8 0h1m14 1h1m-43 1h1m68 0h1m5 0h1m-65 1h1m3 0h1m14 0h1m8 0h1m11 0h1m36 0h1m-8 1h1m26 0h1m-98 1h1m-4 1h1m17 0h1m0 0h1m28 0h1m16 0h1m-69 1h1m37 0h1m14 0h1m8 0h1m2 0h1m7 0h1m7 0h1m-88 2h1m26 0h1m10 0h1m41 0h1m1 0h1m-58 1h1m-133 1h1m91 0h1m41 0h1m5 0h1m1 0h1m25 0h1m15 0h1m-67 1h1m22 0h1m2 0h1m43 0h1m3 0h1m-193 1h1m96 0h1m44 0h1m8 0h1m4 0h1m9 0h1m0 0h1m1 0h1m0 0h1m0 0h1m15 0h1m0 0h1m-54 1h1m11 0h1m11 0h1m-40 1h1m13 0h1m4 0h1m22 0h1m57 0h1m-238 1h1m116 0h1m13 0h1m22 0h1m6 0h1m27 0h1m3 0h1m0 0h1m-22 1h1m1 0h1m3 0h1m36 0h1m-109 1h1m31 0h1m-29 1h1m3 0h1m8 0h1m18 0h1m23 0h1m28 0h1m-61 1h1m7 0h1m6 0h1m3 0h1m1 0h1m26 0h1m27 0h1m-57 1h1m0 0h1m65 0h1m10 0h1m-115 1h1m5 0h1m0 0h1m1 0h1m10 0h1m8 0h1m3 0h1m11 0h1m6 0h1m11 0h1m13 0h1m-86 1h1m6 0h1m5 0h1m4 0h1m13 0h1m6 0h1m16 0h1m2 0h1m2 0h1m29 0h1m23 0h1m-101 1h1m42 0h1m53 0h1m-217 1h1m133 0h1m2 0h1m0 0h1m24 0h1m-144 1h1m120 0h1m-155 1h1m107 0h1m32 0h1m0 0h1m7 0h1m2 0h1m32 0h1m32 0h1m4 0h1m2 0h1m-103 1h1m26 0h1m56 0h1m8 0h1m15 0h1m1 0h1m-119 1h1m2 0h1m1 0h1m10 0h1m22 0h1m4 0h1m17 0h1m49 0h1m-112 1h1m1 0h1m0 0h1m4 0h1m2 0h1m16 0h1m15 0h1m21 0h1m-178 1h1m132 0h1m0 0h1m27 0h1m28 0h1m-89 1h1m23 0h1m56 0h1m24 0h1m-194 1h1m107 0h1m22 0h1m27 0h1m19 0h1m-13 1h1m-200 1h1m123 0h1m22 0h1m19 0h1m17 0h1m25 0h1m-187 1h1m136 0h1m1 0h1m0 0h1m39 0h1m5 0h1m4 0h1m-35 1h1m26 0h1m-39 1h1m12 0h1m30 0h1m-4 1h1m33 0h1m-216 1h1m81 0h1m36 0h1m22 0h1m6 0h1m34 0h1m16 0h1m4 0h1m24 0h1m-249 1h1m0 0h1m123 0h1m39 0h1m21 0h1m-56 1h1m13 0h1m5 0h1m4 0h1m-152 1h1m109 0h1m5 0h1m14 0h1m4 0h1m13 0h1m15 0h1m23 0h1m-192 1h1m116 0h1m24 0h1m9 0h1m14 0h1m16 0h1m-213 1h1m133 0h1m9 0h1m0 0h1m14 0h1m30 0h1m7 0h1m17 0h1m-206 1h1m114 0h1m5 0h1m28 0h1m59 0h1m14 0h1m18 0h1m-263 1h1m156 0h1m10 0h1m7 0h1m21 0h1m34 0h1m-188 1h1m7 0h1m96 0h1m19 0h1m11 0h1m1 0h1m34 0h1m-92 1h1m53 0h1m22 0h1m11 0h1m-55 1h1m-168 1h1m9 0h1m49 0h1m117 0h1m25 0h1m23 0h1m8 0h1m-218 1h1m129 0h1m2 0h1m5 0h1m14 0h1m3 0h1m18 0h1m7 0h1m23 0h1m6 0h1m-230 1h1m6 0h1m51 0h1m107 0h1m2 0h1m24 0h1m9 0h1m22 0h1m-234 1h1m9 0h1m32 0h1m11 0h1m17 0h1m9 0h1m60 0h1m15 0h1m13 0h1m6 0h1m18 0h1m1 0h1m-38 1h1m32 0h1m2 0h1m61 0h1m-196 1h1m11 0h1m63 0h1m10 0h1m3 0h1m6 0h1m45 0h1m15 0h1m4 0h1m10 0h1m-233 1h1m35 0h1m111 0h1m20 0h1m5 0h1m13 0h1m12 0h1m1 0h1m-215 1h1m84 0h1m72 0h1m6 0h1m15 0h1m2 0h1m56 0h1m-219 1h1m0 0h1m8 0h1m2 0h1m91 0h1m14 0h1m15 0h1m2 0h1m18 0h1m47 0h1m-75 1h1m30 0h1m21 0h1m48 0h1m-250 1h1m125 0h1m20 0h1m0 0h1m1 0h1m42 0h1m72 0h1m-267 1h1m23 0h1m10 0h1m123 0h1m3 0h1m31 0h1m21 0h1m-185 1h1m118 0h1m4 0h1m20 0h1m25 0h1m3 0h1m-175 1h1m13 0h1m1 0h1m5 0h1m10 0h1m92 0h1m53 0h1m-204 1h1m3 0h1m16 0h1m15 0h1m77 0h1m45 0h1m6 0h1m33 0h1m24 0h1m-237 1h1m60 0h1m8 0h1m74 0h1m33 0h1m30 0h1m-195 1h1m185 0h1m-185 1h1m141 0h1m24 0h1m76 0h1m-139 1h1m11 0h1m9 0h1m7 0h1m4 0h1m44 0h1m57 0h1m5 0h1m-272 1h1m7 0h1m10 0h1m12 0h1m4 0h1m36 0h1m54 0h1m23 0h1m3 0h1m12 0h1m24 0h1m-174 1h1m32 0h1m124 0h1m-168 1h1m37 0h1m142 0h1m74 0h1m-255 1h1m11 1h1m119 0h1m1 0h1m4 0h1m13 0h1m21 0h1m-188 1h1m3 0h1m14 0h1m4 0h1m51 0h1m71 0h1m42 0h1m12 0h1m1 0h1m-211 1h1m0 0h1m26 0h1m5 0h1m103 0h1m130 0h1m-240 1h1m26 0h1m14 0h1m70 0h1m4 0h1m-117 1h1m29 0h1m4 0h1m99 0h1m-134 1h1m38 0h1m-88 1h1m29 0h1m35 0h1m75 0h1m52 0h1m15 0h1m6 0h1m-164 1h1m8 0h1m7 0h1m58 0h1m71 0h1m-176 1h1m4 0h1m9 0h1m30 0h1m134 0h1m-203 1h1m39 0h1m17 0h1m24 0h1m70 0h1m49 0h1m9 0h1m-209 1h1m20 0h1m7 0h1m6 0h1m1 0h1m90 0h1m15 0h1m42 0h1m21 0h1m-195 1h1m31 0h1m86 0h1m15 0h1m-158 1h1m39 0h1m3 0h1m25 0h1m97 0h1m-132 1h1m122 0h1m-138 1h1m21 0h1m0 0h1m6 0h1m3 0h1m21 0h1m74 0h1m5 0h1m-145 1h1m12 0h1m19 0h1m102 0h1m8 0h1m13 0h1m4 0h1m24 0h1m-192 1h1m16 0h1m152 0h1m7 0h1m-196 1h1m4 0h1m35 0h1m8 0h1m11 0h1m10 0h1m76 0h1m34 0h1m-142 1h1m35 0h1m59 0h1m26 0h1m2 0h1m0 0h1m36 0h1m-209 1h1m10 0h1m180 0h1m-160 1h1m15 0h1m19 0h1m96 0h1m11 0h1m13 0h1m6 0h1m1 0h1m18 0h1m-208 1h1m58 0h1m83 0h1m6 0h1m2 0h1m8 0h1m6 0h1m15 0h1m23 0h1m1 0h1m-187 1h1m31 0h1m101 0h1m-81 1h1m66 0h1m-130 1h1m142 0h1m21 0h1m0 0h1m7 0h1m-215 1h1m97 0h1m77 0h1m-117 1h1m21 1h1m14 0h1m77 0h1m4 0h1m-124 1h1m0 0h1m15 0h1m124 0h1m-148 1h1m3 0h1m113 0h1m5 0h1m19 0h1m15 0h1m-181 1h1m123 0h1m12 0h1m-117 1h1m22 0h1m17 0h1m-28 1h1m93 0h1m24 0h1m19 0h1m16 0h1m-224 1h1m53 1h1m33 0h1m118 0h1m-176 1h1m10 0h1m6 0h1m1 0h1m27 0h1m101 1h1m113 0h1m-271 1h1m17 0h1m9 0h1m0 0h1m22 0h1m97 0h1m3 0h1m2 0h1m20 0h1m4 0h1m94 0h1m-298 1h1m34 0h1m2 0h1m19 0h1m96 0h1m-116 1h1m19 0h1m12 1h1m15 0h1m74 0h1m13 0h1m36 0h1m73 0h1m-258 1h1m3 0h1m137 0h1m121 0h1m-281 1h1m27 0h1m12 0h1m126 0h1m-140 1h1m16 0h1m20 0h1m9 0h1m-11 1h1m216 0h1m-281 1h1m13 0h1m29 0h1m0 0h1m14 0h1m204 0h1m-274 1h1m9 0h1m139 0h1m19 0h1m2 0h1m-123 1h1m12 0h1m80 0h1m133 0h1m-258 1h1m16 0h1m35 0h1m-16 1h1m8 0h1m-64 1h1m36 0h1m-41 1h1m4 0h1m1 0h1m44 0h1m3 0h1m223 0h1m-218 1h1m92 0h1m-137 1h1m26 0h1m31 0h1m-70 1h1m43 0h1m-14 1h1m-25 1h1m21 0h1m-49 1h1m31 0h1m5 0h1m0 0h1m14 0h1m21 0h1m134 0h1m-155 2h1m-15 1h1m3 0h1m4 0h1m24 0h1m-47 1h1m4 0h1m3 1h1m1 0h1m19 0h1m-10 1h1m2 0h1m9 0h1m-34 1h1m17 0h1m15 0h1m15 0h1m-6 1h1m-41 1h1m9 0h1m-23 2h1m4 0h1m10 0h1m3 0h1m-14 1h1m28 0h1m147 1h1m-207 1h1m57 0h1m8 0h1m-43 1h1m25 0h1m4 0h1m4 0h1m4 0h1m-40 1h1m135 0h1m-85 1h1m-60 1h1m39 0h1m6 1h1m7 0h1m-30 2h1m36 0h1m-25 1h1m-5 4h1m15 0h1m-16 1h1m168 0h1m-171 4h1m196 4h1m-195 4h1m1 1h1m49 1h1m-43 5h1m2 4h1m31 3h1m17 0h1m45 0h1m-71 1h1m-7 1h1m8 7h1m63 0h1m-111 1h1m116 0h1m-31 3h1m18 2h1m-50 1h1m-13 1h1m72 1h1m-2 1h1m-20 2h1m-50 1h1m72 0h1m-18 1h1m9 0h1m-58 1h1m20 0h1m13 0h1m19 0h1m-4 1h1m-6 1h1m7 1h1m-12 1h1m14 0h1m9 0h1m-14 1h1m-14 1h1m20 1h1m-1 2h1m-35 1h1m0 1h1m-7 1h1m23 0h1m-9 1h1m15 0h1m9 0h1m-46 3h1m9 0h1m21 1h1m21 0h1m-35 2h1m6 0h1m-7 1h1m5 2h1m6 0h1m30 0h1m4 0h1m-51 1h1m2 0h1m0 0h1m-118 1h1m3 0h1m100 0h1m0 0h1m22 0h1m-38 1h1m11 1h1m13 0h1m2 0h1m13 0h1m-38 1h1m25 0h1m-9 1h1m4 0h1m5 0h1m8 0h1m7 0h1m-31 1h1m8 0h1m-109 1h1m97 0h1m4 0h1m3 0h1m-119 1h1m0 1h1m98 1h1m9 1h1m-70 1h1m65 2h1m10 0h1m1 0h1m-72 2h1m-56 1h1m128 0h1m3 1h1m-11 1h1m18 0h1m-118 3h1m2 1h1m5 0h1m-23 2h1m6 0h1m44 1h1m60 1h1m-106 1h1m-19 1h1m14 0h1m7 0h1m8 0h1m-10 2h1m-16 1h1m16 0h1m91 0h1m-106 1h1m2 0h1m6 0h1m40 0h1m61 0h1m-116 1h1m9 0h1m8 0h1m67 0h1m-73 1h1m0 1h1m-12 2h1m0 0h1m-16 1h1m6 0h1m7 0h1m-8 1h1m7 0h1m9 0h1m84 0h1m-97 1h1m2 0h1m12 0h1m75 0h1m11 0h1m0 0h1m-112 1h1m31 0h1m41 0h1m25 0h1m9 0h1m-119 1h1m1 0h1m8 0h1m106 1h1m-21 2h1m9 0h1m2 0h1m1 4h1m0 0h1m-38 1h1m-13 2h1m-35 1h1m80 0h1m2 0h1m-88 1h1m66 0h1m15 0h1m-3 1h1m5 0h1m-4 1h1m12 0h1m-3 1h1m-10 1h1m-2 3h1m-37 2h1m22 4h1m-30 2h1m22 1h1"/></defs>
<g transform="translate(0 .5)" fill="none" stroke="#9cc6df"><use href="#q7" stroke-width="2.1" filter="url(#bl)" opacity="0.7"/><use href="#q7" stroke-width="1.3" opacity="0.45"/></g>
<defs><path id="q8" d="M701 1044h1m-1 1h1m1 1h1m-12 2h1m22 1h1m-30 3h1m3 0h1m-2 1h1m0 0h1m8 2h1m0 0h1m-8 1h1m-5 1h1m2 1h1m12 0h1m-5 3h1m1 0h1m-9 1h1m3 0h1m4 1h1m-14 4h1m4 2h1m1 0h1m-4 4h1m121 0h1m-183 1h1m-9 1h1m0 1h1m4 0h1m-17 1h1m11 0h1m7 0h1m-8 1h1m-3 3h1m0 0h1m6 1h1m0 0h1m-19 2h1m2 0h1m-26 1h1m29 0h1m17 0h1m-2 1h1m2 0h1m-17 1h1m18 0h1m-11 1h1m54 0h1m-65 1h1m6 0h1m13 0h1m-34 1h1m11 0h1m-1 1h1m10 0h1m13 0h1m0 0h1m-33 1h1m21 0h1m-22 1h1m18 0h1m-24 1h1m10 1h1m16 0h1m-12 1h1m13 0h1m-76 1h1m38 0h1m5 0h1m7 0h1m7 0h1m15 0h1m-91 1h1m11 0h1m51 0h1m0 0h1m6 0h1m12 0h1m-30 1h1m15 0h1m10 0h1m-29 1h1m4 0h1m10 0h1m10 0h1m7 0h1m11 0h1m-22 1h1m26 2h1m-50 1h1m16 0h1m18 0h1m10 0h1m-46 1h1m24 0h1m1 0h1m-17 1h1m14 0h1m28 0h1m-43 1h1m17 0h1m-41 1h1m20 0h1m56 0h1m-50 1h1m3 0h1m0 0h1m-20 1h1m3 0h1m12 0h1m14 0h1m0 1h1m10 0h1m-29 1h1m0 0h1m8 0h1m5 0h1m-4 1h1m-32 2h1m32 0h1m5 0h1m13 0h1m-17 1h1m-19 1h1m9 1h1m51 0h1m74 2h1m-128 1h1m9 0h1m0 0h1m3 0h1m-11 5h1m-8 1h1m30 1h1m-24 1h1m-1 1h1m4 0h1m2 0h1m150 0h1m-151 1h1m-9 1h1m5 0h1m6 0h1m124 0h1m-141 1h1m16 0h1m-17 1h1m13 0h1m122 1h1m-139 1h1m8 0h1m-7 1h1m6 0h1m3 0h1m129 0h1m1 0h1m-132 1h1m-14 1h1m127 0h1m28 0h1m-155 1h1m5 0h1m6 0h1m122 0h1m13 0h1m0 0h1m-15 1h1m-126 1h1m2 0h1m110 0h1m2 1h1m7 0h1m3 0h1m12 0h1m-154 2h1m12 0h1m111 0h1m3 0h1m25 0h1m-156 1h1m1 0h1m29 0h1m85 0h1m16 0h1m14 0h1m1 0h1m-145 1h1m1 0h1m120 0h1m3 0h1m11 0h1m-145 1h1m126 0h1m14 0h1m-138 1h1m120 0h1m9 0h1m-12 1h1m7 0h1m3 0h1m-23 1h1m8 0h1m11 0h1m12 0h1m-75 1h1m35 0h1m12 0h1m0 0h1m14 0h1m4 0h1m5 0h1m1 0h1m2 0h1m-294 1h1m131 0h1m123 0h1m27 0h1m4 0h1m-39 1h1m30 0h1m-30 1h1m28 0h1m6 0h1m-45 1h1m10 0h1m4 0h1m4 0h1m17 1h1m-274 1h1m240 0h1m1 0h1m-1 1h1m1 0h1m4 0h1m39 0h1m-185 1h1m105 0h1m48 0h1m0 0h1m0 0h1m17 0h1m2 0h1m-54 1h1m15 0h1m12 0h1m-20 1h1m3 0h1m6 0h1m13 0h1m-17 1h1m3 0h1m11 0h1m-38 1h1m16 0h1m1 0h1m-9 1h1m22 0h1m-51 1h1m34 0h1m8 0h1m3 0h1m11 0h1m-35 1h1m5 0h1m5 0h1m0 0h1m-7 1h1m-13 1h1m0 1h1m8 0h1m-26 1h1m21 0h1m-1 1h1m16 0h1m-236 1h1m173 0h1m32 0h1m17 0h1m1 0h1m10 0h1m27 0h1m-299 1h1m252 0h1m1 0h1m-5 1h1m5 0h1m13 0h1m-10 1h1m5 0h1m-65 1h1m33 0h1m28 0h1m-34 1h1m2 0h1m4 0h1m5 0h1m5 0h1m4 0h1m2 0h1m-21 1h1m8 0h1m3 0h1m3 0h1m1 0h1m1 0h1m-117 1h1m95 0h1m0 0h1m11 0h1m0 0h1m-128 1h1m112 0h1m3 0h1m42 0h1m-133 1h1m84 0h1m-74 1h1m42 0h1m28 0h1m-124 1h1m120 0h1m4 0h1m1 0h1m25 0h1m11 0h1m-148 1h1m115 0h1m-98 1h1m5 0h1m82 0h1m1 0h1m1 0h1m0 1h1m6 0h1m-99 1h1m65 0h1m13 0h1m10 0h1m13 0h1m-21 1h1m2 0h1m15 0h1m10 0h1m-138 1h1m100 0h1m15 0h1m-20 1h1m20 0h1m4 0h1m-131 1h1m7 0h1m108 0h1m0 0h1m16 0h1m2 0h1m-25 1h1m3 0h1m-121 1h1m126 0h1m21 0h1m-4 1h1m-160 1h1m5 0h1m22 0h1m46 0h1m43 0h1m0 0h1m15 0h1m-125 1h1m35 0h1m17 0h1m35 0h1m23 0h1m25 0h1m-58 1h1m34 0h1m6 0h1m2 0h1m12 0h1m-149 1h1m112 0h1m0 0h1m33 0h1m-146 1h1m37 0h1m81 0h1m-122 1h1m1 1h1m120 0h1m-1 1h1m-126 1h1m117 0h1m3 0h1m37 0h1m-156 1h1m141 0h1m14 0h1m-171 1h1m2 0h1m21 0h1m134 0h1m-152 1h1m4 0h1m6 0h1m93 0h1m28 0h1m-140 1h1m0 0h1m3 0h1m91 0h1m-206 1h1m96 0h1m3 0h1m4 0h1m11 0h1m3 0h1m94 0h1m-109 1h1m3 0h1m100 0h1m22 0h1m22 0h1m4 0h1m-61 1h1m20 0h1m15 0h1m-125 1h1m106 0h1m13 0h1m0 0h1m-135 1h1m20 0h1m0 0h1m134 0h1m-144 1h1m7 0h1m93 0h1m0 0h1m-92 1h1m100 0h1m4 0h1m-135 1h1m25 0h1m1 0h1m96 0h1m10 0h1m-15 1h1m8 0h1m14 0h1m10 0h1m-154 1h1m4 0h1m0 0h1m16 0h1m1 0h1m42 0h1m17 0h1m42 0h1m-127 1h1m8 0h1m9 0h1m1 0h1m94 0h1m15 0h1m4 0h1m20 0h1m-139 1h1m43 0h1m15 0h1m2 0h1m34 0h1m-141 1h1m27 0h1m54 0h1m-40 1h1m98 0h1m-105 1h1m0 0h1m1 0h1m17 0h1m43 0h1m40 0h1m16 0h1m1 0h1m-134 1h1m32 0h1m44 0h1m88 0h1m10 0h1m-175 1h1m7 0h1m0 0h1m80 0h1m57 0h1m-157 1h1m5 0h1m29 0h1m26 0h1m5 0h1m2 0h1m7 0h1m6 0h1m34 0h1m-122 1h1m43 0h1m10 0h1m26 0h1m5 0h1m61 0h1m2 0h1m-15 1h1m10 0h1m-154 1h1m7 0h1m6 0h1m41 0h1m24 0h1m84 0h1m-150 1h1m2 0h1m35 0h1m20 0h1m21 0h1m13 0h1m-116 1h1m41 0h1m24 0h1m26 0h1m-38 1h1m15 0h1m3 0h1m74 0h1m2 0h1m-162 1h1m42 0h1m57 0h1m-104 1h1m45 0h1m24 0h1m9 0h1m1 0h1m13 0h1m68 0h1m-133 1h1m5 0h1m1 0h1m24 1h1m9 0h1m-79 1h1m25 0h1m29 0h1m1 0h1m1 0h1m23 0h1m25 0h1m-65 1h1m21 0h1m8 0h1m80 0h1m-160 1h1m42 0h1m18 0h1m3 0h1m17 0h1m32 0h1m4 0h1m-95 1h1m1 0h1m3 0h1m35 0h1m26 0h1m21 0h1m-71 1h1m11 0h1m1 0h1m31 0h1m10 0h1m14 0h1m-82 1h1m23 0h1m28 0h1m7 0h1m-62 1h1m43 0h1m12 0h1m-54 1h1m28 0h1m11 0h1m0 0h1m19 0h1m5 0h1m-5 1h1m11 0h1m-74 1h1m32 0h1m14 0h1m2 0h1m1 0h1m22 0h1m-76 1h1m5 0h1m8 0h1m15 0h1m15 0h1m3 0h1m24 0h1m43 0h1m-167 1h1m23 0h1m52 0h1m7 0h1m12 0h1m29 0h1m-45 1h1m0 1h1m14 0h1m1 0h1m4 0h1m23 0h1m-159 1h1m57 0h1m1 0h1m76 0h1m-55 1h1m11 0h1m31 0h1m2 0h1m-104 1h1m101 0h1m3 0h1m0 0h1m12 0h1m-37 1h1m8 0h1m17 0h1m2 0h1m-105 1h1m86 0h1m19 0h1m-15 1h1m2 0h1m17 0h1m3 0h1m-98 1h1m56 0h1m22 0h1m3 0h1m8 0h1m7 0h1m-32 1h1m-156 1h1m4 1h1m149 0h1m11 0h1m-106 1h1m38 0h1m58 0h1m19 0h1m0 0h1m9 0h1m-198 1h1m12 0h1m25 0h1m72 0h1m62 0h1m7 0h1m11 0h1m-38 1h1m22 0h1m-185 1h1m12 0h1m4 0h1m78 0h1m73 0h1m-120 1h1m0 0h1m105 0h1m35 0h1m-37 1h1m-161 1h1m14 1h1m48 0h1m113 0h1m-158 1h1m71 0h1m-76 1h1m35 0h1m32 0h1m56 0h1m-149 1h1m183 0h1m-156 1h1m46 0h1m101 0h1m-144 1h1m123 0h1m2 0h1m-145 1h1m3 0h1m39 0h1m49 0h1m62 0h1m-156 1h1m142 0h1m-146 1h1m15 0h1m30 0h1m22 0h1m13 0h1m-98 1h1m15 0h1m21 0h1m130 0h1m0 0h1m23 0h1m-27 1h1m0 0h1m7 0h1m-186 1h1m17 0h1m28 0h1m132 0h1m11 0h1m-193 1h1m8 0h1m30 0h1m128 0h1m-167 1h1m109 0h1m75 0h1m-188 1h1m9 0h1m158 0h1m-124 1h1m11 0h1m125 0h1m-178 1h1m4 0h1m5 0h1m45 0h1m-48 1h1m144 0h1m11 0h1m9 0h1m1 0h1m-151 1h1m-19 1h1m23 0h1m7 0h1m15 0h1m7 0h1m88 0h1m19 0h1m3 0h1m4 0h1m-179 1h1m47 0h1m4 0h1m-50 1h1m17 0h1m6 0h1m11 0h1m4 0h1m1 0h1m1 0h1m110 0h1m-87 1h1m86 0h1m-141 1h1m11 0h1m128 0h1m3 0h1m-87 1h1m103 0h1m-175 1h1m2 1h1m2 0h1m2 0h1m9 0h1m151 0h1m5 0h1m7 0h1m-165 1h1m4 0h1m151 0h1m-150 1h1m42 1h1m-56 1h1m27 0h1m27 0h1m94 0h1m-156 1h1m21 0h1m125 0h1m21 0h1m-141 1h1m-36 2h1m20 0h1m140 0h1m-146 2h1m47 0h1m109 0h1m-178 1h1m8 0h1m38 0h1m118 1h1m0 0h1m-96 1h1m-49 1h1m113 0h1m20 0h1m-155 1h1m29 0h1m33 0h1m53 0h1m-53 1h1m9 1h1m-26 2h1m6 0h1m4 0h1m98 0h1m-94 1h1m-61 1h1m49 0h1m-3 2h1m18 1h1m-25 1h1m9 0h1m9 0h1m2 0h1m-55 3h1m71 1h1m-13 1h1m49 0h1m-43 2h1m-78 2h1m30 1h1m17 2h1m20 0h1m-40 1h1m13 0h1m8 0h1m8 1h1m0 0h1m-2 1h1m-4 1h1m-20 1h1m4 0h1m8 0h1m-12 1h1m-25 1h1m7 1h1m35 0h1m-35 1h1m16 0h1m15 2h1m4 0h1m-34 1h1m-25 3h1m60 3h1m-75 2h1m67 0h1m-66 2h1m51 0h1m-8 5h1m10 2h1m16 8h1m-30 4h1m44 5h1m-42 5h1"/></defs>
<g transform="translate(0 .5)" fill="none" stroke="#f0a685"><use href="#q8" stroke-width="2.1" filter="url(#bl)" opacity="0.7"/><use href="#q8" stroke-width="1.3" opacity="0.45"/></g>
<defs><path id="q9" d="M713 1055h1m40 4h1m15 0h1m-46 1h1m-2 3h1m16 0h1m-12 2h1m29 0h1m11 2h1m-33 1h1m12 0h1m32 2h1m-45 1h1m0 0h1m4 1h1m-13 1h1m24 1h1m22 0h1m-69 1h1m20 0h1m34 0h1m-36 2h1m-21 2h1m64 0h1m-47 1h1m30 0h1m-26 1h1m40 0h1m-39 1h1m12 0h1m-19 2h1m-4 1h1m4 0h1m1 0h1m-22 1h1m11 0h1m22 1h1m3 0h1m10 0h1m13 0h1m8 0h1m-207 1h1m140 0h1m10 0h1m3 0h1m14 0h1m-30 1h1m10 1h1m0 0h1m16 0h1m2 0h1m-42 1h1m4 0h1m-20 1h1m47 0h1m-48 1h1m22 0h1m2 0h1m9 0h1m15 0h1m1 0h1m-48 1h1m0 0h1m29 0h1m1 0h1m-37 1h1m29 0h1m4 0h1m7 0h1m10 0h1m-43 1h1m7 0h1m16 0h1m3 0h1m5 0h1m11 0h1m-34 1h1m11 0h1m7 0h1m1 0h1m6 0h1m-37 1h1m34 0h1m51 0h1m-104 1h1m28 0h1m6 0h1m13 0h1m1 0h1m-29 1h1m-36 1h1m31 0h1m-7 1h1m36 0h1m-50 1h1m22 0h1m12 0h1m10 0h1m-49 1h1m6 0h1m-5 1h1m5 0h1m15 0h1m22 0h1m30 0h1m-76 1h1m3 0h1m-16 1h1m17 0h1m4 0h1m17 0h1m0 0h1m15 0h1m3 0h1m1 0h1m-155 1h1m94 0h1m19 0h1m-13 1h1m9 0h1m15 0h1m13 0h1m-48 1h1m9 0h1m17 0h1m0 1h1m-11 1h1m22 0h1m12 0h1m23 0h1m-62 1h1m31 0h1m10 0h1m8 0h1m-70 1h1m1 0h1m5 0h1m32 0h1m12 0h1m-164 1h1m-22 2h1m153 0h1m5 0h1m3 0h1m-170 1h1m142 0h1m4 0h1m27 0h1m-40 1h1m30 0h1m14 0h1m1 0h1m2 0h1m1 0h1m-44 1h1m45 0h1m-57 1h1m8 0h1m3 0h1m30 0h1m-177 1h1m151 0h1m-181 1h1m164 0h1m41 0h1m38 0h1m-210 1h1m3 0h1m192 0h1m-47 1h1m-3 1h1m5 0h1m8 0h1m-189 1h1m148 0h1m19 0h1m14 0h1m-201 1h1m50 1h1m114 0h1m2 0h1m30 0h1m-167 1h1m148 0h1m64 0h1m-252 1h1m6 0h1m15 0h1m18 0h1m0 0h1m42 0h1m63 0h1m3 0h1m13 0h1m3 0h1m1 0h1m14 0h1m6 0h1m-31 1h1m46 0h1m63 2h1m-259 1h1m144 0h1m43 0h1m-140 1h1m106 1h1m48 0h1m-29 1h1m0 0h1m6 0h1m-213 1h1m52 1h1m6 0h1m107 0h1m-133 2h1m126 0h1m36 0h1m89 0h1m-237 1h1m131 0h1m-125 2h1m106 0h1m7 0h1m34 0h1m-181 1h1m20 2h1m125 0h1m-97 2h1m131 1h1m-161 2h1m135 0h1m20 0h1m-14 1h1m12 0h1m-169 1h1m153 0h1m-87 1h1m-60 1h1m-6 1h1m-4 2h1m15 0h1m6 0h1m110 1h1m-109 1h1m5 0h1m-12 1h1m-28 1h1m5 1h1m55 0h1m4 0h1m-66 1h1m-1 3h1m21 1h1m1 0h1m33 0h1m95 0h1m-126 1h1m-5 1h1m11 2h1m-33 2h1m0 0h1m17 0h1m0 1h1m114 0h1m-177 2h1m82 0h1m-28 2h1m5 1h1m14 2h1m-18 2h1m-11 1h1m6 0h1m22 0h1m-22 1h1m7 0h1m0 0h1m0 1h1m225 0h1m-233 1h1m134 0h1m4 0h1m84 0h1m-137 1h1m140 0h1m-247 1h1m246 0h1m2 0h1m0 0h1m-7 1h1m-226 1h1m105 0h1m-133 1h1m13 1h1m19 0h1m-16 2h1m-20 1h1m-17 1h1m22 0h1m17 0h1m10 0h1m-19 1h1m2 1h1m5 2h1m2 0h1m12 0h1m-22 1h1m0 0h1m17 0h1m-8 1h1m-28 1h1m5 0h1m19 1h1m-26 2h1m6 1h1m-22 1h1m21 4h1m22 0h1m-53 1h1m21 0h1m-12 2h1m49 0h1m-37 4h1m2 0h1m-12 2h1m8 0h1m-5 4h1m-3 2h1m19 0h1m16 12h1m-14 1h1m100 30h1m15 1h1m-10 8h1m0 0h1m-8 4h1m6 0h1m50 0h1m-54 3h1m-28 4h1m17 0h1m7 1h1m-15 2h1m6 0h1m6 1h1m-2 3h1m-6 1h1m-8 13h1m-14 3h1m53 0h1m-33 1h1m25 2h1m-3 4h1m-132 5h1m-12 8h1m29 5h1m81 0h1m-108 1h1m2 0h1m108 0h1m-122 4h1m111 2h1m4 2h1m1 0h1m3 1h1m-9 3h1m0 1h1m1 0h1m5 1h1m-7 2h1m-21 2h1m17 0h1m3 11h1"/></defs>
<g transform="translate(0 .5)" fill="none" stroke="#5a8fc4"><use href="#q9" stroke-width="2.1" filter="url(#bl)" opacity="0.7"/><use href="#q9" stroke-width="1.3" opacity="0.45"/></g>
<defs><path id="q10" d="M691 1049h1m3 4h1m-2 2h1m4 0h1m-5 1h1m6 0h1m-13 1h1m10 1h1m-10 1h1m-3 2h1m2 2h1m-72 18h1m5 0h1m13 1h1m-2 3h1m-7 1h1m6 2h1m-7 1h1m3 0h1m0 1h1m-6 1h1m4 0h1m7 0h1m-22 1h1m4 0h1m3 0h1m6 0h1m-2 1h1m-2 1h1m-24 1h1m19 3h1m0 1h1m-5 1h1m18 0h1m-9 1h1m15 0h1m0 0h1m-33 1h1m4 0h1m13 0h1m2 0h1m12 0h1m-7 4h1m9 1h1m-14 1h1m0 1h1m7 0h1m2 0h1m1 1h1m0 6h1m-1 12h1m-4 1h1m5 2h1m1 1h1m-2 2h1m-3 1h1m-4 1h1m1 0h1m-3 3h1m0 0h1m2 0h1m-13 1h1m134 8h1m16 0h1m-5 1h1m-20 1h1m11 0h1m3 1h1m12 0h1m-18 1h1m-5 1h1m1 0h1m-10 1h1m1 0h1m4 0h1m4 0h1m16 0h1m-31 1h1m11 0h1m-259 3h1m249 0h1m4 0h1m2 0h1m1 0h1m0 0h1m6 0h1m-26 1h1m11 0h1m17 0h1m-35 1h1m7 0h1m7 0h1m-15 1h1m3 0h1m1 1h1m2 0h1m7 0h1m4 1h1m-10 2h1m1 0h1m-10 1h1m-1 1h1m8 0h1m-1 2h1m4 0h1m-8 1h1m-1 1h1m-14 1h1m4 0h1m1 1h1m2 1h1m-4 1h1m1 1h1m2 1h1m-9 3h1m-107 2h1m109 0h1m0 1h1m-116 1h1m120 0h1m-20 4h1m-103 3h1m-7 1h1m121 0h1m3 0h1m-28 3h1m-2 2h1m32 0h1m-141 3h1m113 0h1m1 0h1m10 0h1m3 0h1m-9 3h1m2 0h1m3 0h1m6 0h1m11 0h1m-20 1h1m0 0h1m-2 1h1m-131 1h1m1 1h1m0 0h1m128 0h1m-142 1h1m10 2h1m128 0h1m-123 1h1m128 1h1m-83 1h1m-54 8h1m5 0h1m26 0h1m-33 7h1m79 0h1m-42 1h1m38 0h1m13 0h1m-13 1h1m-17 1h1m24 0h1m-3 1h1m6 1h1m-12 1h1m-77 1h1m84 0h1m-23 1h1m7 0h1m1 0h1m-2 2h1m-4 2h1m6 0h1m-18 1h1m28 0h1m-65 1h1m36 0h1m-44 1h1m58 0h1m-17 1h1m0 0h1m8 0h1m-6 3h1m14 0h1m2 0h1m-22 2h1m15 1h1m-51 3h1m26 2h1m-138 7h1m109 0h1m45 0h1m-156 2h1m-6 1h1m164 0h1m-169 1h1m9 0h1m-5 1h1m4 1h1m-11 1h1m-6 1h1m6 0h1m10 0h1m-6 1h1m9 0h1m144 0h1m-160 1h1m3 0h1m1 1h1m9 0h1m-22 1h1m2 0h1m2 0h1m2 0h1m10 0h1m5 0h1m-19 1h1m165 1h1m-160 1h1m151 0h1m-166 1h1m2 0h1m4 0h1m-13 1h1m173 0h1m0 0h1m-175 1h1m18 0h1m155 0h1m-3 1h1m-167 1h1m166 0h1m0 0h1m-166 1h1m160 0h1m-120 2h1m-49 1h1m5 0h1m3 0h1m155 0h1m-160 3h1m41 0h1m123 0h1m-86 10h1m104 1h1m5 0h1m-110 1h1m0 2h1m2 0h1m93 1h1m0 0h1m5 0h1m0 0h1m-1 1h1m-110 2h1m11 0h1m-11 2h1m103 2h1m-107 2h1m1 0h1m3 0h1m-8 2h1m86 6h1m-80 1h1m12 8h1"/></defs>
<g transform="translate(0 .5)" fill="none" stroke="#dc4a33"><use href="#q10" stroke-width="2.1" filter="url(#bl)" opacity="0.7"/><use href="#q10" stroke-width="1.3" opacity="0.45"/></g>
<path d="M553 1295.6V1385.6H642.2" fill="none" stroke="#000" stroke-width="3.6"/>
<path d="M553 1277.6l-10.5 20h21zM660.2 1385.6l-20.5 -10.5v21z"/>
<text x="539.6" y="1393" font-size="31" transform="rotate(-90 539.6 1393)" textLength="98.5" lengthAdjust="spacingAndGlyphs">TSNE2</text>
<text x="554" y="1423.5" font-size="31" textLength="96" lengthAdjust="spacingAndGlyphs">TSNE1</text>
<text x="675.3" y="1423" font-size="27" textLength="40.5" lengthAdjust="spacingAndGlyphs">low</text>
<text x="876" y="1418.3" font-size="27" textLength="50.5" lengthAdjust="spacingAndGlyphs">high</text>
<defs><linearGradient id="cb" x1="0" x2="1" y1="0" y2="0"><stop offset="0" stop-color="#4472b0"/><stop offset="0.2" stop-color="#7fb0d4"/><stop offset="0.42" stop-color="#bfe0ea"/><stop offset="0.63" stop-color="#f4f8f6"/><stop offset="0.72" stop-color="#fbe3cf"/><stop offset="0.84" stop-color="#f0a070"/><stop offset="1" stop-color="#d8402c"/></linearGradient></defs>
<rect x="733" y="1396.4" width="129.4" height="26" fill="url(#cb)"/>
<text x="915" y="946" font-size="37" font-weight="bold">d</text>
<path d="M1024.4 1144L1070 1141L1130.5 1134L1180 1122L1220.8 1108.5L1260 1088L1296 1063.4L1330 1041L1359.5 1021.5L1360.6 1160.2L1340 1160.8L1311 1162.6L1280 1167.5L1250.8 1174.5L1220 1183L1190.7 1194L1160 1206L1130.5 1221L1100 1241L1070.4 1263.2L1047 1279L1024.4 1293.5Z" fill="#d4d4d4"/>
<g fill="#8ea3b6"><circle cx="1023.8" cy="1250.6" r="3"/><circle cx="1055.9" cy="1200.7" r="3"/><circle cx="1095.9" cy="1167.1" r="3"/><circle cx="1105" cy="1167.1" r="3"/><circle cx="1165.1" cy="1140.1" r="3"/><circle cx="1197.6" cy="1161.1" r="3"/><circle cx="1220.2" cy="1161.1" r="3"/><circle cx="1247.8" cy="1144.6" r="3"/><circle cx="1176.5" cy="1244.6" r="3"/><circle cx="1311.6" cy="1040.2" r="3"/><circle cx="1360.6" cy="1062.8" r="3"/><circle cx="1357" cy="1222.9" r="3"/></g>
<path d="M1024.4 1219.6L1360.6 1091.4" stroke="#e8323c" stroke-width="3" stroke-dasharray="10 6.5" fill="none"/>
<rect x="1013.2" y="999.6" width="358.8" height="318.4" fill="none" stroke="#000" stroke-width="3"/>
<path d="M1003.7 1016.8H1013.2M1003.7 1066.4H1013.2M1003.7 1127.1H1013.2M1003.7 1183.5H1013.2M1003.7 1239.8H1013.2M1003.7 1301.4H1013.2M1022.9 1318V1327.5M1108 1318V1327.5M1193.1 1318V1327.5M1278.5 1318V1327.5M1363.6 1318V1327.5" stroke="#000" stroke-width="2.6" fill="none"/>
<text x="998.2" y="1026.2" font-size="23.5" text-anchor="end">50</text>
<text x="998.2" y="1075.8" font-size="23.5" text-anchor="end">40</text>
<text x="998.2" y="1136.5" font-size="23.5" text-anchor="end">30</text>
<text x="998.2" y="1192.9" font-size="23.5" text-anchor="end">20</text>
<text x="998.2" y="1249.2" font-size="23.5" text-anchor="end">10</text>
<text x="998.2" y="1310.8" font-size="23.5" text-anchor="end">0</text>
<text x="1029.8" y="1353.5" font-size="23.5" text-anchor="middle" textLength="44.5" lengthAdjust="spacingAndGlyphs">0.00</text>
<text x="1112" y="1353.5" font-size="23.5" text-anchor="middle" textLength="44.5" lengthAdjust="spacingAndGlyphs">0.25</text>
<text x="1197" y="1353.5" font-size="23.5" text-anchor="middle" textLength="44.5" lengthAdjust="spacingAndGlyphs">0.50</text>
<text x="1279.1" y="1353.5" font-size="23.5" text-anchor="middle" textLength="44.5" lengthAdjust="spacingAndGlyphs">0.75</text>
<text x="1361.4" y="1353.5" font-size="23.5" text-anchor="middle" textLength="44.5" lengthAdjust="spacingAndGlyphs">1.00</text>
<text x="1027.5" y="1033.9" font-size="27" font-style="italic" textLength="249" lengthAdjust="spacingAndGlyphs">Spearman's ρ = 0.59</text>
<text x="1189.5" y="1084.4" font-size="27" font-style="italic" textLength="118" lengthAdjust="spacingAndGlyphs">P = 0.034</text>
<text x="1124.5" y="1303" font-size="27" font-style="italic" textLength="236.5" lengthAdjust="spacingAndGlyphs">y = 12.02 + 23.74 x</text>
<text x="1005.5" y="1403" font-size="27" textLength="366.5" lengthAdjust="spacingAndGlyphs">SPON2<tspan dy="-8" font-size="17">+</tspan><tspan dy="8"> NK Enrichment Level</tspan></text>
<text x="956" y="1353.5" font-size="27" transform="rotate(-90 956 1353.5)" textLength="359.5" lengthAdjust="spacingAndGlyphs">TC: Overall Survival (Months)</text>
<text x="1388.5" y="946" font-size="37" font-weight="bold">e</text>
<path d="M1517.4 1239.8L1566.5 1236.2L1600 1232L1626.6 1227.1L1686.8 1209.1L1746.9 1191.1L1807.1 1171.5L1838.6 1158.1L1838.6 1242.2L1807.1 1244.6L1746.9 1248.2L1686.8 1254.8L1626.6 1266.2L1566.5 1282.8L1540 1290L1517.4 1297.8Z" fill="#d4d4d4"/>
<g fill="#98a5b2"><circle cx="1529.5" cy="1013.2" r="3"/><circle cx="1822.7" cy="1038.7" r="3"/><circle cx="1600.1" cy="1122" r="3"/><circle cx="1686.2" cy="1132" r="3"/><circle cx="1810" cy="1135" r="3"/><circle cx="1581.5" cy="1185.6" r="3"/><circle cx="1689.8" cy="1183.5" r="3"/><circle cx="1647" cy="1199.2" r="3"/><circle cx="1755.9" cy="1196.5" r="3"/><circle cx="1591.4" cy="1222" r="3"/><circle cx="1690.4" cy="1231" r="3"/><circle cx="1810" cy="1214.5" r="3"/><circle cx="1810" cy="1221.7" r="3"/><circle cx="1835" cy="1236.2" r="3"/><circle cx="1643.7" cy="1245.8" r="3"/><circle cx="1571.6" cy="1248.8" r="3"/><circle cx="1593.5" cy="1258.7" r="3"/><circle cx="1601.3" cy="1263.8" r="3"/><circle cx="1792" cy="1251.2" r="3"/><circle cx="1733.4" cy="1258.7" r="3"/><circle cx="1654.3" cy="1268.6" r="3"/><circle cx="1666.3" cy="1266.8" r="3"/><circle cx="1791.1" cy="1270.8" r="3"/><circle cx="1838.6" cy="1271.7" r="3"/><circle cx="1565.5" cy="1273.2" r="3"/><circle cx="1548.4" cy="1274.7" r="3"/><circle cx="1525" cy="1278.3" r="3"/><circle cx="1542.4" cy="1281.3" r="3"/><circle cx="1539.4" cy="1284.9" r="3"/><circle cx="1554.4" cy="1284.3" r="3"/><circle cx="1570.4" cy="1282.2" r="3"/><circle cx="1582.1" cy="1284.3" r="3"/><circle cx="1602" cy="1280.1" r="3"/><circle cx="1655.2" cy="1279.8" r="3"/><circle cx="1707.8" cy="1277.4" r="3"/><circle cx="1690.4" cy="1288.8" r="3"/><circle cx="1516.2" cy="1307.4" r="3"/><circle cx="1523.7" cy="1309" r="3"/><circle cx="1524.3" cy="1302.3" r="3"/><circle cx="1530.4" cy="1303.8" r="3"/><circle cx="1535.5" cy="1303" r="3"/></g>
<path d="M1516.8 1269.2L1838.6 1200.1" stroke="#e8323c" stroke-width="3" stroke-dasharray="10 6.5" fill="none"/>
<rect x="1503.9" y="999.6" width="352.1" height="318.7" fill="none" stroke="#000" stroke-width="3"/>
<path d="M1494.4 1016.2H1503.9M1494.4 1093.5H1503.9M1494.4 1169.2H1503.9M1494.4 1243H1503.9M1494.4 1318.9H1503.9M1516.2 1318.3V1327.8M1598.9 1318.3V1327.8M1680.7 1318.3V1327.8M1761.9 1318.3V1327.8M1843.7 1318.3V1327.8" stroke="#000" stroke-width="2.6" fill="none"/>
<text x="1492" y="1027.3" font-size="23.5" text-anchor="end">0.80</text>
<text x="1492" y="1104.6" font-size="23.5" text-anchor="end">0.60</text>
<text x="1492" y="1180.3" font-size="23.5" text-anchor="end">0.40</text>
<text x="1492" y="1254.1" font-size="23.5" text-anchor="end">0.20</text>
<text x="1492" y="1330" font-size="23.5" text-anchor="end">0.00</text>
<text x="1532" y="1353.8" font-size="23.5" text-anchor="middle" textLength="44.5" lengthAdjust="spacingAndGlyphs">0.00</text>
<text x="1606" y="1353.8" font-size="23.5" text-anchor="middle" textLength="44.5" lengthAdjust="spacingAndGlyphs">0.25</text>
<text x="1685" y="1353.8" font-size="23.5" text-anchor="middle" textLength="44.5" lengthAdjust="spacingAndGlyphs">0.50</text>
<text x="1765.4" y="1353.8" font-size="23.5" text-anchor="middle" textLength="44.5" lengthAdjust="spacingAndGlyphs">0.75</text>
<text x="1844.5" y="1353.8" font-size="23.5" text-anchor="middle" textLength="44.5" lengthAdjust="spacingAndGlyphs">1.00</text>
<text x="1540.7" y="1026.7" font-size="27" font-style="italic" textLength="249" lengthAdjust="spacingAndGlyphs">Spearman's ρ = 0.55</text>
<text x="1687.5" y="1076.3" font-size="27" font-style="italic" textLength="147.5" lengthAdjust="spacingAndGlyphs">P = 0.00016</text>
<text x="1574.7" y="1303" font-size="27" font-style="italic" textLength="267" lengthAdjust="spacingAndGlyphs">y = 0.1159 + 0.1895 x</text>
<text x="1496.5" y="1404" font-size="27" textLength="367.5" lengthAdjust="spacingAndGlyphs">SPON2<tspan dy="-8" font-size="17">+</tspan><tspan dy="8"> NK Enrichment Level</tspan></text>
<text x="1428.1" y="1337.8" font-size="27" textLength="339" lengthAdjust="spacingAndGlyphs" transform="rotate(-90 1428.1 1337.8)">IFN-γ<tspan dy="-8" font-size="17">+</tspan><tspan dy="8"> NK Enrichment Level</tspan></text>
<defs>
<radialGradient id="gN" cx="0.42" cy="0.4" r="0.65"><stop offset="0" stop-color="#cf5a22"/><stop offset="0.7" stop-color="#c44a1a"/><stop offset="1" stop-color="#a83c12"/></radialGradient>
<radialGradient id="gNb" cx="0.42" cy="0.4" r="0.65"><stop offset="0" stop-color="#b3521f"/><stop offset="1" stop-color="#96441a"/></radialGradient>
<radialGradient id="gT" cx="0.45" cy="0.4" r="0.7"><stop offset="0" stop-color="#aebdf8"/><stop offset="0.75" stop-color="#9aaef2"/><stop offset="1" stop-color="#7f9cec"/></radialGradient>
<radialGradient id="gK" cx="0.4" cy="0.4" r="0.7"><stop offset="0" stop-color="#f9be3c"/><stop offset="0.7" stop-color="#f4a030"/><stop offset="1" stop-color="#e8862a"/></radialGradient>
<radialGradient id="gI" cx="0.4" cy="0.35" r="0.7"><stop offset="0" stop-color="#f8ab45"/><stop offset="1" stop-color="#ec7e22"/></radialGradient>
<radialGradient id="gS" cx="0.4" cy="0.35" r="0.7"><stop offset="0" stop-color="#fbea6a"/><stop offset="1" stop-color="#efc830"/></radialGradient>
<g id="tc"><path d="M27.5 -1.5Q27.9 0 27.3 1.5Q26.8 3 25.5 4.3Q24.3 5.5 23 6.6Q21.6 7.6 20.7 8.6Q19.8 9.5 19.5 10.8Q19.1 12 19 13.6Q19 15.1 18.7 16.8Q18.4 18.4 17.6 19.7Q16.7 21 15.4 21.6Q14 22.3 12.4 22.3Q10.7 22.3 9.2 22.1Q7.7 21.9 6.4 22Q5.1 22.2 3.9 22.9Q2.7 23.5 1.3 24.6Q0 25.6 -1.5 26.5Q-3.1 27.3 -4.7 27.4Q-6.3 27.5 -7.7 26.7Q-9.1 25.9 -10.1 24.5Q-11.1 23 -11.8 21.5Q-12.5 20 -13.3 18.8Q-14.1 17.7 -15.2 17Q-16.3 16.3 -17.8 15.8Q-19.2 15.3 -20.7 14.6Q-22.2 13.9 -23.2 12.8Q-24.1 11.6 -24.3 10.1Q-24.6 8.6 -24.1 7Q-23.7 5.4 -23.1 4Q-22.5 2.5 -22.3 1.3Q-22.1 0 -22.5 -1.3Q-22.9 -2.6 -23.7 -4.1Q-24.4 -5.6 -25 -7.3Q-25.6 -8.9 -25.4 -10.6Q-25.2 -12.2 -24.2 -13.4Q-23.2 -14.6 -21.7 -15.3Q-20.1 -16.1 -18.5 -16.5Q-16.9 -16.9 -15.7 -17.5Q-14.4 -18.1 -13.5 -19.1Q-12.6 -20.1 -11.8 -21.4Q-11 -22.8 -9.9 -24Q-8.8 -25.3 -7.5 -25.9Q-6.1 -26.6 -4.5 -26.4Q-2.9 -26.1 -1.5 -25.3Q-0 -24.4 1.3 -23.4Q2.5 -22.4 3.7 -21.8Q4.8 -21.2 6.1 -21.2Q7.4 -21.3 9 -21.7Q10.6 -22 12.3 -22.2Q14.1 -22.4 15.6 -21.9Q17.1 -21.4 18.1 -20.2Q19 -19 19.4 -17.4Q19.9 -15.8 20 -14.3Q20.2 -12.7 20.5 -11.4Q20.9 -10.1 21.8 -9Q22.6 -7.9 23.9 -6.8Q25.1 -5.7 26.1 -4.4Q27.2 -3.1 27.5 -1.5Z" fill="#ea8c7b" stroke="#6e352b" stroke-width="1.2"/><g fill="#e0624f"><circle cx="-17.6" cy="-10.3" r="0.9"/><circle cx="18.1" cy="-8.7" r="1.1"/><circle cx="-7.4" cy="-13.7" r="1"/><circle cx="19.9" cy="-4.5" r="0.9"/><circle cx="-3.6" cy="-15.5" r="1"/><circle cx="-14.6" cy="-7.3" r="0.6"/><circle cx="12.7" cy="-16.6" r="0.6"/><circle cx="5.4" cy="-16.3" r="0.7"/><circle cx="-5.3" cy="18.8" r="1"/><circle cx="17.8" cy="5.1" r="0.6"/><circle cx="-3.3" cy="-16.3" r="1"/><circle cx="17.7" cy="-2.2" r="1.1"/><circle cx="-5.5" cy="14" r="0.9"/><circle cx="15.5" cy="3.1" r="0.8"/></g><circle cx="0.5" cy="1" r="12.3" fill="url(#gN)" stroke="#7d3212" stroke-width="1.3"/><path d="M-8.5 5a10 10 0 0 0 17 3a11.5 11.5 0 0 1-17-3z" fill="#9c3a12" opacity="0.55"/><circle cx="-7.5" cy="-6" r="1.4" fill="#ffe9d0"/></g>
<g id="tb"><path d="M27.5 -1.6Q27.1 0 26.1 1.4Q25 2.8 23.8 4Q22.6 5.1 21.7 6.2Q20.9 7.3 20.7 8.6Q20.5 9.9 20.6 11.4Q20.6 13 20.5 14.6Q20.4 16.2 19.6 17.6Q18.9 18.9 17.6 19.7Q16.3 20.4 14.7 20.6Q13 20.7 11.5 20.7Q10 20.7 8.7 21Q7.4 21.2 6.3 22.1Q5.2 22.9 4 24.1Q2.9 25.3 1.4 26.4Q0 27.4 -1.6 27.7Q-3.2 28.1 -4.6 27.4Q-6.1 26.8 -7.3 25.5Q-8.5 24.2 -9.4 22.8Q-10.3 21.4 -11.2 20.4Q-12.1 19.3 -13.4 18.8Q-14.6 18.3 -16.1 17.9Q-17.6 17.6 -19.1 17Q-20.6 16.5 -21.7 15.4Q-22.8 14.3 -23.1 12.8Q-23.5 11.3 -23.2 9.6Q-22.9 8 -22.4 6.5Q-21.9 5 -21.9 3.7Q-21.8 2.5 -22.3 1.2Q-22.9 0 -23.8 -1.4Q-24.7 -2.8 -25.5 -4.4Q-26.2 -6 -26.2 -7.6Q-26.3 -9.2 -25.4 -10.5Q-24.6 -11.8 -23.1 -12.7Q-21.7 -13.6 -20.2 -14.3Q-18.7 -14.9 -17.6 -15.7Q-16.4 -16.4 -15.7 -17.6Q-14.9 -18.7 -14.2 -20.1Q-13.6 -21.6 -12.7 -23Q-11.7 -24.4 -10.4 -25.2Q-9.1 -26 -7.5 -25.9Q-5.9 -25.8 -4.3 -25.1Q-2.7 -24.3 -1.4 -23.5Q-0 -22.6 1.2 -22.1Q2.4 -21.6 3.7 -21.8Q5 -21.9 6.5 -22.5Q8 -23 9.7 -23.3Q11.4 -23.7 12.9 -23.3Q14.5 -23 15.5 -21.9Q16.6 -20.8 17.2 -19.3Q17.8 -17.8 18.1 -16.2Q18.5 -14.7 19 -13.5Q19.5 -12.3 20.6 -11.3Q21.6 -10.4 23 -9.5Q24.3 -8.5 25.6 -7.3Q26.8 -6.1 27.4 -4.6Q27.9 -3.1 27.5 -1.6Z" fill="#cb8172" stroke="#7a4a40" stroke-width="1.1"/><circle cx="0.5" cy="1" r="12.3" fill="url(#gNb)" stroke="#7a3a18" stroke-width="1.2"/></g>
<g id="T"><circle r="24.2" fill="#4590e9" stroke="#1c4f9c" stroke-width="1.8"/><path d="M-20 10a22.5 22.5 0 0 0 40 2a24 24 0 0 1-40-2z" fill="#2f7ad6" opacity="0.6"/><circle cx="1.5" cy="1.5" r="14.5" fill="url(#gT)" stroke="#2458ad" stroke-width="1.5"/><path d="M-8 -5a11 11 0 0 1 8-6" stroke="#dfe6ff" stroke-width="1.6" fill="none" stroke-linecap="round"/></g>
<g id="K"><circle r="22.3" fill="#97d673" stroke="#3f8035" stroke-width="1.8"/><path d="M-18 10a21 21 0 0 0 37 1a22.5 22.5 0 0 1-37-1z" fill="#7fc45e" opacity="0.6"/><circle cx="1.5" cy="1.5" r="13.1" fill="url(#gK)" stroke="#98600f" stroke-width="1.5"/><path d="M-7 -4a9.5 9.5 0 0 1 7-5.5" stroke="#fff0b0" stroke-width="1.5" fill="none" stroke-linecap="round"/></g>
<circle id="I" r="4.4" fill="url(#gI)" stroke="#c26f1c" stroke-width="0.9"/>
<circle id="S" r="4" fill="url(#gS)" stroke="#c2a224" stroke-width="0.9"/>
<g id="Y" fill="none" stroke-linecap="round" stroke-linejoin="round"><path d="M0 17V2C0 -4 -9 -4 -10.5 -11M0 2C0 -4 9 -4 10.5 -11" stroke="#b93447" stroke-width="5.2"/><path d="M0 17V2C0 -4 -9 -4 -10.5 -11M0 2C0 -4 9 -4 10.5 -11" stroke="#e0505f" stroke-width="3.6"/></g>
</defs>
<text x="-1" y="1475" font-size="37" font-weight="bold">f</text>
<rect x="62.3" y="1473.6" width="972" height="1241.6" fill="#fff" stroke="#000" stroke-width="2.6"/>
<rect x="66" y="1478.5" width="963" height="518" fill="#fcfaf5" stroke="#f1c9c9" stroke-width="1.6"/>
<rect x="66" y="2016" width="962" height="516.5" fill="#e3f5f9" stroke="#cfe9f2" stroke-width="1.6"/>
<clipPath id="cpR"><rect x="66.8" y="1479.3" width="961.4" height="516.4"/></clipPath><g clip-path="url(#cpR)">
<path d="M601.4 1469.9C601.3 1474.9 601.3 1487.4 600.8 1499.9C600.4 1512.4 599.8 1531 598.7 1544.7C597.6 1558.5 596.2 1571.2 594.2 1582.2C592.2 1593.2 589.7 1601.7 586.7 1610.9C583.7 1620.2 580.4 1628.3 576.3 1637.6C572.1 1646.8 566.9 1656.9 561.8 1666.3C556.7 1675.6 551.9 1683.8 545.6 1693.6C539.3 1703.3 531.4 1714.5 523.9 1724.8C516.4 1735.1 509.8 1745.1 500.7 1755.5C491.6 1765.8 480.5 1777.2 469.4 1787C458.2 1796.9 445.6 1806.2 433.7 1814.4C421.8 1822.6 410.4 1829.6 398 1836.4C385.6 1843.2 372 1849.5 359.1 1855.1C346.2 1860.7 333 1865.6 320.6 1869.9C308.1 1874.3 296.7 1877.7 284.4 1881.2C272.1 1884.6 259.5 1887.9 247 1890.6C234.6 1893.4 222.3 1895.8 209.7 1897.8C197.1 1899.8 184 1901.2 171.5 1902.4C159.1 1903.6 146.9 1904.4 134.9 1905.1C123 1905.8 112.3 1906.3 99.8 1906.7C87.3 1907.1 66.5 1907.4 59.9 1907.6L60.1 1917.4C66.8 1917.2 87.6 1916.8 100.2 1916.3C112.7 1915.8 123.4 1915.3 135.5 1914.5C147.5 1913.7 159.9 1912.9 172.5 1911.6C185.1 1910.3 198.4 1908.8 211.1 1906.8C223.9 1904.8 236.4 1902.2 249 1899.4C261.6 1896.5 274.4 1893.2 286.8 1889.6C299.2 1886.1 310.8 1882.5 323.4 1878.1C336 1873.6 349.4 1868.6 362.5 1862.9C375.6 1857.1 389.4 1850.6 402 1843.6C414.6 1836.6 426.2 1829.5 438.3 1821C450.4 1812.6 463.3 1803 474.6 1793C486 1782.9 497.3 1771.2 506.5 1760.5C515.8 1749.9 522.5 1739.7 530.1 1729.2C537.6 1718.7 545.5 1707.5 551.8 1697.6C558.2 1687.7 563 1679.3 568.2 1669.7C573.3 1660.2 578.5 1649.9 582.7 1640.4C586.9 1631 590.3 1622.6 593.3 1613.1C596.3 1603.5 598.8 1594.7 600.8 1583.4C602.8 1572.1 604.2 1559.1 605.3 1545.3C606.3 1531.4 606.8 1512.6 607.2 1500.1C607.6 1487.6 607.5 1475.1 607.6 1470.1Z" fill="#e6826f" stroke="#a8483c" stroke-width="1.1"/>
<use href="#tb" transform="translate(97.6 1568.5) rotate(30.5) scale(1.07)"/>
<use href="#tb" transform="translate(143.5 1579) rotate(7.8) scale(1.03)"/>
<use href="#tb" transform="translate(269.8 1553.5) rotate(2.1) scale(0.95)"/>
<use href="#tb" transform="translate(334.4 1569.6) rotate(43.4) scale(0.98)"/>
<use href="#tb" transform="translate(390.1 1550.8) rotate(15.7) scale(0.95)"/>
<use href="#tb" transform="translate(103.2 1642.9) rotate(47.9) scale(1.07)"/>
<use href="#tb" transform="translate(295 1620.4) rotate(44.8) scale(0.95)"/>
<use href="#tb" transform="translate(466 1673) rotate(18.9) scale(1.03)"/>
<use href="#tb" transform="translate(268.6 1710.6) rotate(23) scale(0.95)"/>
<use href="#tb" transform="translate(430.3 1721.9) rotate(26) scale(1.11)"/>
<use href="#tb" transform="translate(330.7 1723.8) rotate(32.2) scale(0.95)"/>
<use href="#tb" transform="translate(99.5 1731.3) rotate(29.8) scale(1.14)"/>
<use href="#tb" transform="translate(137.1 1742.6) rotate(28) scale(1.03)"/>
<use href="#tb" transform="translate(390.8 1767) rotate(31) scale(0.87)"/>
<use href="#tb" transform="translate(163.4 1806.5) rotate(47) scale(1.42)"/>
<use href="#tb" transform="translate(321.3 1789.5) rotate(25.4) scale(0.95)"/>
<use href="#tc" transform="translate(106.2 1528.3) rotate(-3.4) scale(1.14)"/>
<use href="#tc" transform="translate(154 1535.8) rotate(11) scale(1.07)"/>
<use href="#tc" transform="translate(191.6 1535.8) rotate(-13.1) scale(1.07)"/>
<use href="#tc" transform="translate(241.6 1525.6) rotate(-9.9) scale(1.11)"/>
<use href="#tc" transform="translate(300.6 1525.6) rotate(23.9) scale(1.14)"/>
<use href="#tc" transform="translate(357.7 1522.6) rotate(1.1) scale(1.11)"/>
<use href="#tc" transform="translate(415.3 1522.6) rotate(2.4) scale(1.07)"/>
<use href="#tc" transform="translate(464.1 1522.6) rotate(-24.4) scale(0.87)"/>
<use href="#tc" transform="translate(513 1532) rotate(-4.2) scale(0.87)"/>
<use href="#tc" transform="translate(554.4 1517) rotate(4) scale(0.87)"/>
<use href="#tc" transform="translate(115.6 1599.7) rotate(-24) scale(1.14)"/>
<use href="#tc" transform="translate(181.1 1592.2) rotate(5.8) scale(1.07)"/>
<use href="#tc" transform="translate(243.5 1575.3) rotate(6.6) scale(1.26)"/>
<use href="#tc" transform="translate(306.2 1590.3) rotate(-22) scale(1.18)"/>
<use href="#tc" transform="translate(372 1582.8) rotate(6.4) scale(1.11)"/>
<use href="#tc" transform="translate(496.1 1576.4) rotate(-1.7) scale(1.03)"/>
<use href="#tc" transform="translate(546.8 1574.5) rotate(9) scale(0.98)"/>
<use href="#tc" transform="translate(423.9 1607.2) rotate(-7.4) scale(0.95)"/>
<use href="#tc" transform="translate(464.1 1624.1) rotate(10.3) scale(1.14)"/>
<use href="#tc" transform="translate(528 1626) rotate(11.9) scale(0.98)"/>
<use href="#tc" transform="translate(157.7 1643.7) rotate(-23.9) scale(1.23)"/>
<use href="#tc" transform="translate(262.3 1630.9) rotate(-22) scale(0.98)"/>
<use href="#tc" transform="translate(340.1 1635.4) rotate(8.8) scale(1.07)"/>
<use href="#tc" transform="translate(417.1 1674.9) rotate(23.2) scale(1.14)"/>
<use href="#tc" transform="translate(400.2 1642.9) rotate(-12.4) scale(1.18)"/>
<use href="#tc" transform="translate(511.1 1671.1) rotate(-2.2) scale(1.14)"/>
<use href="#tc" transform="translate(95.7 1686.2) rotate(4.6) scale(1.03)"/>
<use href="#tc" transform="translate(127.7 1701.2) rotate(-9) scale(1.11)"/>
<use href="#tc" transform="translate(169 1699.3) rotate(-6.8) scale(1.18)"/>
<use href="#tc" transform="translate(241.2 1688) rotate(-9.4) scale(1.11)"/>
<use href="#tc" transform="translate(296.8 1680.5) rotate(-6.5) scale(1.07)"/>
<use href="#tc" transform="translate(347.6 1684.3) rotate(4.8) scale(1.23)"/>
<use href="#tc" transform="translate(385.2 1716.2) rotate(-10) scale(1.03)"/>
<use href="#tc" transform="translate(479.2 1729.4) rotate(-6.1) scale(1.14)"/>
<use href="#tc" transform="translate(295 1733.2) rotate(13.6) scale(0.98)"/>
<use href="#tc" transform="translate(242.3 1746.3) rotate(-23.7) scale(1.11)"/>
<use href="#tc" transform="translate(343.8 1752) rotate(3.5) scale(1.03)"/>
<use href="#tc" transform="translate(180.3 1759.5) rotate(11.8) scale(0.87)"/>
<use href="#tc" transform="translate(430.3 1768.9) rotate(-9.5) scale(0.98)"/>
<use href="#tc" transform="translate(103.2 1787.7) rotate(-13.9) scale(1.34)"/>
<use href="#tc" transform="translate(281.8 1787.7) rotate(15.2) scale(0.98)"/>
<use href="#tc" transform="translate(379.5 1795.2) rotate(-13.1) scale(0.92)"/>
<use href="#tc" transform="translate(340.1 1823.4) rotate(-15.6) scale(0.98)"/>
<use href="#tc" transform="translate(289.3 1842.2) rotate(-3.2) scale(0.98)"/>
<use href="#tc" transform="translate(244.2 1851.6) rotate(9.9) scale(0.95)"/>
<use href="#tc" transform="translate(206.6 1859.1) rotate(-19.9) scale(1.11)"/>
<use href="#tc" transform="translate(95.7 1844.1) rotate(-8.9) scale(1.14)"/>
<use href="#tc" transform="translate(135.2 1864.7) rotate(-8.3) scale(1.26)"/>
<use href="#Y" transform="translate(674.5 1654.5) rotate(210)"/>
<use href="#Y" transform="translate(884.5 1613) rotate(150)"/>
<use href="#Y" transform="translate(542 1862) rotate(-90)"/>
<use href="#Y" transform="translate(888 1826.4) rotate(-90)"/>
<use href="#T" transform="translate(213 1637.3) scale(1.08)"/>
<use href="#T" transform="translate(227.3 1802.7) scale(1.13)"/>
<use href="#T" transform="translate(682.6 1555.7)"/>
<use href="#T" transform="translate(754.4 1608.3) scale(0.93)"/>
<use href="#T" transform="translate(725.8 1665.5) scale(0.93)"/>
<use href="#T" transform="translate(632.9 1685) scale(0.93)"/>
<use href="#T" transform="translate(907.4 1646.7)"/>
<use href="#T" transform="translate(549.5 1803.5)"/>
<use href="#T" transform="translate(634.1 1773.4) scale(0.93)"/>
<use href="#T" transform="translate(495 1861)"/>
<use href="#T" transform="translate(654.4 1852.7)"/>
<use href="#T" transform="translate(630.3 1918.1)"/>
<use href="#T" transform="translate(830.3 1806.5)"/>
<use href="#T" transform="translate(830.3 1865.9)"/>
<use href="#T" transform="translate(890.5 1750.8)"/>
<use href="#K" transform="translate(440.5 1569.6) scale(1.14)"/>
<use href="#K" transform="translate(697.6 1612.1) scale(1.01)"/>
<use href="#K" transform="translate(853.6 1577.1) scale(1.01)"/>
<use href="#K" transform="translate(718.3 1803.5) scale(0.98)"/>
<use href="#K" transform="translate(588.9 1861) scale(1.01)"/>
<use href="#K" transform="translate(928 1826) scale(0.98)"/>
<use href="#K" transform="translate(932.6 1902.3) scale(0.98)"/>
<use href="#I" transform="translate(632.2 1581.7)"/>
<use href="#I" transform="translate(671.3 1579)"/>
<use href="#I" transform="translate(735.6 1592.9)"/>
<use href="#I" transform="translate(706.2 1658.7)"/>
<use href="#I" transform="translate(901.7 1634.7)"/>
<use href="#I" transform="translate(552.9 1787.7)"/>
<use href="#I" transform="translate(567.5 1799.7)"/>
<use href="#I" transform="translate(513 1844.1)"/>
<use href="#I" transform="translate(671.3 1848.6)"/>
<use href="#I" transform="translate(638.6 1906.8)"/>
<use href="#I" transform="translate(643.1 1926.8)"/>
<use href="#I" transform="translate(837.8 1785.8)"/>
<use href="#I" transform="translate(848.3 1849.7)"/>
<use href="#S" transform="translate(679.2 1623)"/>
<use href="#S" transform="translate(704.4 1632.4)"/>
<use href="#S" transform="translate(662.3 1669.2)"/>
<use href="#S" transform="translate(867.9 1582.8)"/>
<use href="#S" transform="translate(596.1 1847.8)"/>
<use href="#S" transform="translate(603.6 1869.2)"/>
<use href="#S" transform="translate(915.6 1831.7)"/>
</g>
<text x="865.5" y="1530.2" font-size="40" textLength="84.5" lengthAdjust="spacingAndGlyphs" fill="#e8271c">REC</text>
<text x="91.5" y="1964.4" font-size="34" textLength="252.5" lengthAdjust="spacingAndGlyphs">Tumor Boundary</text>
<clipPath id="cpN"><rect x="66.8" y="2016.8" width="960.4" height="515"/></clipPath><g clip-path="url(#cpN)">
<path d="M466.4 2005.1C466.5 2009.3 465.9 2018.6 466.9 2030.4C467.9 2042.2 470.2 2061.6 472.3 2075.9C474.4 2090.1 476.7 2103.3 479.5 2116C482.4 2128.7 485.5 2140.2 489.4 2151.9C493.3 2163.5 497.7 2175.1 502.8 2186C507.9 2196.8 513.4 2206.8 520.1 2216.8C526.7 2226.8 534.2 2236.5 542.5 2246C550.8 2255.6 558.9 2264.7 569.8 2274.2C580.6 2283.6 595.4 2293.7 607.7 2302.6C620 2311.6 630.9 2319.7 643.5 2327.9C656.1 2336 670.6 2344.9 683.4 2351.7C696.2 2358.6 707.5 2363.8 720.2 2369.2C732.8 2374.6 746.5 2379.7 759.3 2384.1C772.1 2388.4 784.1 2392 796.8 2395.4C809.4 2398.9 822.3 2402.4 835.1 2404.9C847.9 2407.4 860.8 2409 873.4 2410.6C886 2412.1 898 2413.3 910.7 2414.4C923.4 2415.5 937.2 2416.3 949.7 2417.1C962.3 2417.8 971.9 2418.4 986.1 2418.9C1000.3 2419.4 1026.8 2420 1034.9 2420.2L1035.1 2411C1027 2410.8 1000.6 2410.2 986.5 2409.7C972.3 2409.2 962.8 2408.7 950.3 2407.9C937.8 2407.2 924.1 2406.3 911.5 2405.2C898.9 2404.1 887 2403 874.6 2401.4C862.1 2399.9 849.4 2398.4 836.9 2395.9C824.3 2393.4 811.7 2390 799.2 2386.6C786.8 2383.1 774.9 2379.6 762.3 2375.3C749.7 2371 736.2 2366 723.8 2360.8C711.4 2355.5 700.3 2350.4 687.8 2343.7C675.2 2336.9 661 2328.2 648.5 2320.1C636.1 2312.1 625.2 2304 613.1 2295.2C601 2286.4 586.4 2276.4 575.8 2267.2C565.2 2258 557.5 2249.2 549.5 2240C541.5 2230.7 534.1 2221.4 527.7 2211.8C521.4 2202.1 516.1 2192.5 511.2 2182C506.2 2171.6 501.9 2160.3 498.2 2148.9C494.4 2137.6 491.3 2126.4 488.5 2114C485.7 2101.6 483.5 2088.6 481.5 2074.5C479.4 2060.5 477.1 2041.2 476.1 2029.6C475.1 2018 475.7 2009 475.6 2004.9Z" fill="#e6826f" stroke="#a8483c" stroke-width="1.1"/>
<use href="#tb" transform="translate(928 2118.4) rotate(41.7) scale(1.18)"/>
<use href="#tb" transform="translate(804 2216.2) rotate(21.9) scale(0.87)"/>
<use href="#tb" transform="translate(679.9 2278.2) rotate(42.8) scale(1.03)"/>
<use href="#tb" transform="translate(728.8 2289.5) rotate(8.5) scale(1.03)"/>
<use href="#tc" transform="translate(515.6 2044.4) rotate(-8.2) scale(0.98)"/>
<use href="#tc" transform="translate(560.8 2039.5) rotate(7.5) scale(0.95)"/>
<use href="#tc" transform="translate(524.7 2091.4) rotate(19.2) scale(1.07)"/>
<use href="#tc" transform="translate(579.5 2092.1) rotate(-2.4) scale(1.03)"/>
<use href="#tc" transform="translate(537.1 2129.7) rotate(-13.7) scale(1.07)"/>
<use href="#tc" transform="translate(557.7 2176.7) rotate(-19) scale(1.23)"/>
<use href="#tc" transform="translate(612.3 2157.9) rotate(1.5) scale(1.34)"/>
<use href="#tc" transform="translate(664.9 2150.4) rotate(-15.5) scale(1.34)"/>
<use href="#tc" transform="translate(593.5 2233.1) rotate(15.3) scale(1.11)"/>
<use href="#tc" transform="translate(659.2 2214.3) rotate(16.9) scale(1.50)"/>
<use href="#tc" transform="translate(726.9 2129.7) rotate(-15.8) scale(1.11)"/>
<use href="#tc" transform="translate(790.8 2105.3) rotate(-11.1) scale(1.26)"/>
<use href="#tc" transform="translate(807.7 2052.6) rotate(15.4) scale(1.14)"/>
<use href="#tc" transform="translate(832.2 2145.9) rotate(7.1) scale(1.03)"/>
<use href="#tc" transform="translate(835.9 2188) rotate(15.3) scale(0.79)"/>
<use href="#tc" transform="translate(980.7 2056.4) rotate(-7.7) scale(1.58)"/>
<use href="#tc" transform="translate(984.4 2118.4) rotate(-18.5) scale(1.34)"/>
<use href="#tc" transform="translate(990.1 2161.7) rotate(-10.4) scale(1.18)"/>
<use href="#tc" transform="translate(929.9 2165.4) rotate(14.7) scale(1.18)"/>
<use href="#tc" transform="translate(952.5 2219.9) rotate(-11.4) scale(1.03)"/>
<use href="#tc" transform="translate(948.7 2268.8) rotate(-7.7) scale(1.18)"/>
<use href="#tc" transform="translate(775.8 2250) rotate(-4.2) scale(1.11)"/>
<use href="#tc" transform="translate(834.1 2240.6) rotate(-4) scale(1.14)"/>
<use href="#tc" transform="translate(708.1 2312) rotate(-4.5) scale(1.03)"/>
<use href="#tc" transform="translate(787.1 2293.2) rotate(21) scale(1.18)"/>
<use href="#tc" transform="translate(768.3 2340.2) rotate(-17.2) scale(1.18)"/>
<use href="#tc" transform="translate(860.4 2287.6) rotate(-24.8) scale(1.07)"/>
<use href="#tc" transform="translate(835.9 2312) rotate(22.2) scale(0.95)"/>
<use href="#tc" transform="translate(822.8 2355.3) rotate(19) scale(1.18)"/>
<use href="#tc" transform="translate(862.3 2364.7) rotate(24.3) scale(1.11)"/>
<use href="#tc" transform="translate(926.2 2362.8) rotate(-3.3) scale(1.58)"/>
<use href="#tc" transform="translate(963.8 2325.2) rotate(22.5) scale(1.18)"/>
<use href="#tc" transform="translate(992 2375.9) rotate(21.4) scale(1.26)"/>
<g transform="translate(1001.4 2287.6) scale(0.95 1.9)"><use href="#tc"/></g>
<use href="#Y" transform="translate(652.5 2044.4)"/>
<use href="#Y" transform="translate(754 2080.8) rotate(180)"/>
<use href="#Y" transform="translate(914.9 2035.7)"/>
<use href="#Y" transform="translate(710 2212.4) rotate(-90)"/>
<use href="#Y" transform="translate(879.2 2246.2) rotate(-135)"/>
<use href="#T" transform="translate(610.4 2048.1) scale(0.98)"/>
<use href="#T" transform="translate(696.1 2045.9) scale(0.98)"/>
<use href="#T" transform="translate(867.9 2048.9) scale(0.98)"/>
<use href="#T" transform="translate(614.1 2113.9) scale(0.98)"/>
<use href="#T" transform="translate(711.1 2098.5) scale(0.98)"/>
<use href="#T" transform="translate(861.5 2101.5) scale(0.98)"/>
<use href="#T" transform="translate(905.5 2137.2) scale(1.02)"/>
<use href="#T" transform="translate(758.9 2154.9) scale(0.98)"/>
<use href="#T" transform="translate(710 2174.8) scale(0.98)"/>
<use href="#T" transform="translate(798.3 2186.1) scale(0.98)"/>
<use href="#T" transform="translate(881.1 2187.2) scale(0.98)"/>
<use href="#T" transform="translate(997.6 2209.8) scale(0.98)"/>
<use href="#T" transform="translate(726.2 2250) scale(0.98)"/>
<use href="#T" transform="translate(651.7 2274.4) scale(1.13)"/>
<use href="#T" transform="translate(917.9 2295.1) scale(0.98)"/>
<use href="#T" transform="translate(536.3 2313.9)"/>
<use href="#T" transform="translate(607.4 2393.6)"/>
<use href="#T" transform="translate(725.8 2415.4) scale(0.98)"/>
<use href="#T" transform="translate(740.1 2494.4) scale(0.98)"/>
<use href="#T" transform="translate(394.1 2063.9)"/>
<use href="#T" transform="translate(200.9 2212.4)"/>
<use href="#T" transform="translate(419.7 2206.8)"/>
<use href="#T" transform="translate(406.5 2305.6)"/>
<use href="#T" transform="translate(384 2465)"/>
<use href="#K" transform="translate(655.5 2084.6) scale(1.06)"/>
<use href="#K" transform="translate(755.9 2045.9) scale(1.06)"/>
<use href="#K" transform="translate(916.8 2077.1) scale(1.06)"/>
<use href="#K" transform="translate(751.4 2203) scale(1.06)"/>
<use href="#K" transform="translate(909.2 2219.9) scale(1.06)"/>
<use href="#K" transform="translate(490.1 2417.3) scale(0.98)"/>
<use href="#K" transform="translate(619.8 2480.1) scale(0.98)"/>
<use href="#K" transform="translate(331.4 2131.6) scale(1.01)"/>
<use href="#K" transform="translate(159.5 2334.6) scale(1.01)"/>
<use href="#K" transform="translate(302 2362.8) scale(1.01)"/>
<use href="#K" transform="translate(276.1 2478.2) scale(1.01)"/>
<use href="#I" transform="translate(597.2 2052.6)"/>
<use href="#I" transform="translate(609.6 2062)"/>
<use href="#I" transform="translate(688.6 2057.5)"/>
<use href="#I" transform="translate(859.6 2060.2)"/>
<use href="#I" transform="translate(602.9 2125.2)"/>
<use href="#I" transform="translate(709.2 2112)"/>
<use href="#I" transform="translate(854.7 2111.7)"/>
<use href="#I" transform="translate(757 2098.5)"/>
<use href="#I" transform="translate(869.8 2144.7)"/>
<use href="#I" transform="translate(756.2 2167.3)"/>
<use href="#I" transform="translate(698.7 2185)"/>
<use href="#I" transform="translate(797.6 2201.1)"/>
<use href="#I" transform="translate(874.3 2197.4)"/>
<use href="#I" transform="translate(984.4 2214.3)"/>
<use href="#I" transform="translate(715.6 2259.4)"/>
<use href="#I" transform="translate(733.7 2260.5)"/>
<use href="#I" transform="translate(642.3 2291.4)"/>
<use href="#I" transform="translate(863.4 2253.8)"/>
<use href="#I" transform="translate(873.5 2324.1)"/>
<use href="#I" transform="translate(908.1 2305.3)"/>
<use href="#S" transform="translate(770.2 2055.6)"/>
<use href="#S" transform="translate(643.1 2075.2)"/>
<use href="#S" transform="translate(641.6 2089.1)"/>
<use href="#S" transform="translate(651 2098.5)"/>
<use href="#S" transform="translate(664.9 2094)"/>
<use href="#S" transform="translate(903.6 2079.7)"/>
<use href="#S" transform="translate(913 2090.2)"/>
<use href="#S" transform="translate(926.2 2087.2)"/>
<use href="#S" transform="translate(738.9 2194.7)"/>
<use href="#S" transform="translate(737.4 2208.6)"/>
<use href="#S" transform="translate(753.2 2216.9)"/>
<use href="#S" transform="translate(765.3 2208.6)"/>
<use href="#S" transform="translate(895 2224.8)"/>
<use href="#S" transform="translate(904.7 2235)"/>
<use href="#S" transform="translate(919.4 2232.3)"/>
<use href="#S" transform="translate(483.7 2430.5)"/>
</g>
<text x="91.5" y="2074.4" font-size="41" textLength="168" lengthAdjust="spacingAndGlyphs" fill="#5b9cec">non-REC</text>
<text x="771.5" y="2456.8" font-size="34" textLength="252.5" lengthAdjust="spacingAndGlyphs">Tumor Boundary</text>
<use href="#T" transform="translate(189.9 2604.3) scale(1.54)"/>
<use href="#K" transform="translate(344.7 2604.3) scale(1.67)"/>
<use href="#tc" transform="translate(489.7 2604.3) scale(1.46)"/>
<use href="#I" transform="translate(638.7 2604.3) scale(2.31)"/>
<use href="#S" transform="translate(787 2604.3) scale(2.52)"/>
<use href="#Y" transform="translate(927.7 2600.5) scale(1.05)"/>
<text x="102.3" y="2687.4" font-size="33.5" textLength="176" lengthAdjust="spacingAndGlyphs">CD8<tspan dy="-11" font-size="21">+</tspan><tspan dy="11"> T Cell</tspan></text>
<text x="297" y="2687.4" font-size="33.5" textLength="112.5" lengthAdjust="spacingAndGlyphs">NK Cell</text>
<text x="434" y="2687.4" font-size="33.5" textLength="164.5" lengthAdjust="spacingAndGlyphs">Tumor Cell</text>
<text x="616.3" y="2687.4" font-size="33.5" textLength="82" lengthAdjust="spacingAndGlyphs">IFN-γ</text>
<text x="741.7" y="2687.4" font-size="33.5" textLength="114" lengthAdjust="spacingAndGlyphs">SPON2</text>
<text x="892.3" y="2687.4" font-size="33.5" textLength="104" lengthAdjust="spacingAndGlyphs">IFNGR</text>
</g>
</svg>
</body></html>
